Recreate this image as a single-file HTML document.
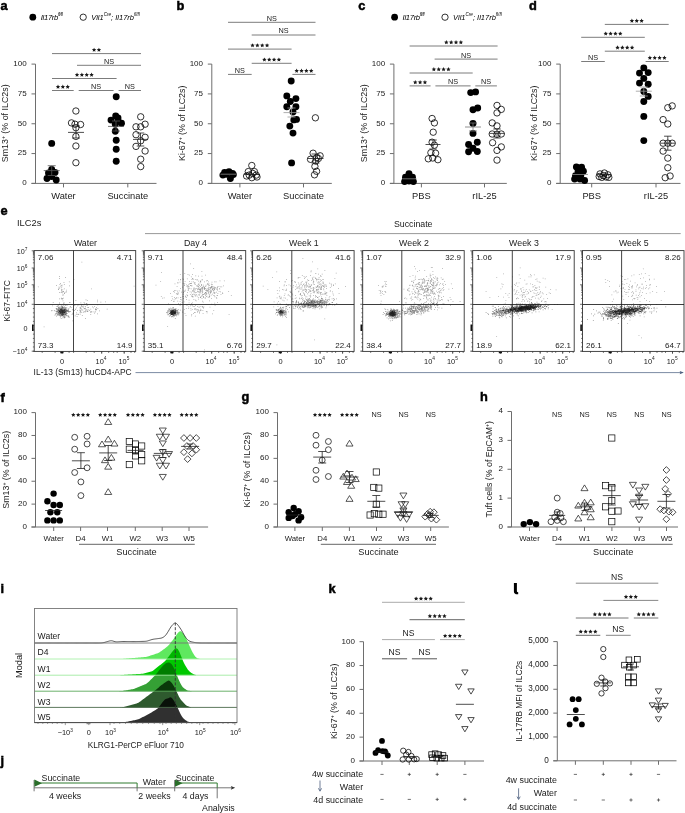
<!DOCTYPE html><html><head><meta charset="utf-8"><style>html,body{margin:0;padding:0;background:#fff;overflow:hidden;width:685px;height:813px;}svg{display:block;}text{font-family:"Liberation Sans",sans-serif;}</style></head><body><svg width="685" height="813" viewBox="0 0 685 813" font-family="Liberation Sans, sans-serif">
<rect width="685" height="813" fill="#fff"/>
<text x="0.5" y="9.6" font-size="12.8" font-weight="bold" fill="#000" stroke="#000" stroke-width="0.5">a</text>
<text x="176.5" y="10.4" font-size="12.8" font-weight="bold" fill="#000" stroke="#000" stroke-width="0.5">b</text>
<text x="358.2" y="9.6" font-size="12.8" font-weight="bold" fill="#000" stroke="#000" stroke-width="0.5">c</text>
<text x="529" y="10.4" font-size="12.8" font-weight="bold" fill="#000" stroke="#000" stroke-width="0.5">d</text>
<text x="0.5" y="215" font-size="12.8" font-weight="bold" fill="#000" stroke="#000" stroke-width="0.5">e</text>
<text x="0.5" y="402" font-size="12.8" font-weight="bold" fill="#000" stroke="#000" stroke-width="0.5">f</text>
<text x="241.5" y="401" font-size="12.8" font-weight="bold" fill="#000" stroke="#000" stroke-width="0.5">g</text>
<text x="480" y="401" font-size="12.8" font-weight="bold" fill="#000" stroke="#000" stroke-width="0.5">h</text>
<text x="0.5" y="593" font-size="12.8" font-weight="bold" fill="#000" stroke="#000" stroke-width="0.5">i</text>
<text x="0.5" y="765" font-size="12.8" font-weight="bold" fill="#000" stroke="#000" stroke-width="0.5">j</text>
<text x="328.5" y="593" font-size="12.8" font-weight="bold" fill="#000" stroke="#000" stroke-width="0.5">k</text>
<path d="M513.9,583.0 h3.0 v8.2 q0,1.0 1.3,1.0 v2.0 q-4.3,0.3 -4.3,-2.8 Z" fill="#000"/>
<circle cx="32.8" cy="17.2" r="3.4" fill="#000"/>
<text x="40.8" y="20" font-size="7.6" font-style="italic" fill="#000" letter-spacing="-0.3">Il17rb<tspan font-size="4.6" dy="-4.2">fl/fl</tspan></text>
<circle cx="83.2" cy="17.2" r="3.15" fill="none" stroke="#000" stroke-width="0.8"/>
<text x="91.3" y="20" font-size="7.5" font-style="italic" fill="#000">Vil1<tspan font-size="4.6" dy="-4.2">Cre</tspan><tspan dy="4.2">; Il17rb</tspan><tspan font-size="4.6" dy="-4.2">fl/fl</tspan></text>
<circle cx="394.6" cy="17.2" r="3.4" fill="#000"/>
<text x="402.6" y="20" font-size="7.6" font-style="italic" fill="#000" letter-spacing="-0.3">Il17rb<tspan font-size="4.6" dy="-4.2">fl/fl</tspan></text>
<circle cx="445" cy="17.2" r="3.15" fill="none" stroke="#000" stroke-width="0.8"/>
<text x="453.1" y="20" font-size="7.5" font-style="italic" fill="#000">Vil1<tspan font-size="4.6" dy="-4.2">Cre</tspan><tspan dy="4.2">; Il17rb</tspan><tspan font-size="4.6" dy="-4.2">fl/fl</tspan></text>
<line x1="35.5" y1="64.1" x2="35.5" y2="183.4" stroke="#6e6e6e" stroke-width="1" />
<line x1="31.5" y1="64.1" x2="35.5" y2="64.1" stroke="#6e6e6e" stroke-width="1" />
<text x="26.7" y="65.9" font-size="8.0" text-anchor="end" fill="#1a1a1a">100</text>
<line x1="31.5" y1="93.92" x2="35.5" y2="93.92" stroke="#6e6e6e" stroke-width="1" />
<text x="26.7" y="95.72" font-size="8.0" text-anchor="end" fill="#1a1a1a">75</text>
<line x1="31.5" y1="123.75" x2="35.5" y2="123.75" stroke="#6e6e6e" stroke-width="1" />
<text x="26.7" y="125.55" font-size="8.0" text-anchor="end" fill="#1a1a1a">50</text>
<line x1="31.5" y1="153.57" x2="35.5" y2="153.57" stroke="#6e6e6e" stroke-width="1" />
<text x="26.7" y="155.38" font-size="8.0" text-anchor="end" fill="#1a1a1a">25</text>
<line x1="31.5" y1="183.4" x2="35.5" y2="183.4" stroke="#6e6e6e" stroke-width="1" />
<text x="26.7" y="185.2" font-size="8.0" text-anchor="end" fill="#1a1a1a">0</text>
<line x1="31.5" y1="183.4" x2="156.5" y2="183.4" stroke="#6e6e6e" stroke-width="1" />
<line x1="63.5" y1="183.4" x2="63.5" y2="187.4" stroke="#6e6e6e" stroke-width="1" />
<line x1="127.8" y1="183.4" x2="127.8" y2="187.4" stroke="#6e6e6e" stroke-width="1" />
<text x="63.5" y="198.6" font-size="9.3" text-anchor="middle" fill="#1a1a1a">Water</text>
<text x="127.8" y="198.6" font-size="9.3" text-anchor="middle" fill="#1a1a1a">Succinate</text>
<text x="7.6" y="123.3" font-size="8.9" text-anchor="middle" fill="#1a1a1a" transform="rotate(-90 7.6 123.3)">Sm13<tspan font-size="5" dy="-3">+</tspan><tspan dy="3"> (% of ILC2s)</tspan></text>
<line x1="52" y1="53.6" x2="141" y2="53.6" stroke="#7c7c7c" stroke-width="1" />
<path d="M94.08,47.7 L94.72,49.11 L96.26,49.29 L95.12,50.34 L95.43,51.86 L94.08,51.1 L92.72,51.86 L93.03,50.34 L91.89,49.29 L93.43,49.11Z M98.92,47.7 L99.57,49.11 L101.11,49.29 L99.97,50.34 L100.28,51.86 L98.92,51.1 L97.57,51.86 L97.88,50.34 L96.74,49.29 L98.28,49.11Z" fill="#1a1a1a"/>
<line x1="77" y1="65.3" x2="141" y2="65.3" stroke="#7c7c7c" stroke-width="1" />
<text x="109" y="63.7" font-size="7.3" text-anchor="middle" fill="#1a1a1a">NS</text>
<line x1="52" y1="78.5" x2="116.6" y2="78.5" stroke="#7c7c7c" stroke-width="1" />
<path d="M77.02,72.6 L77.67,74.01 L79.21,74.19 L78.07,75.24 L78.38,76.76 L77.02,76 L75.67,76.76 L75.98,75.24 L74.84,74.19 L76.38,74.01Z M81.87,72.6 L82.52,74.01 L84.06,74.19 L82.92,75.24 L83.23,76.76 L81.87,76 L80.52,76.76 L80.83,75.24 L79.69,74.19 L81.23,74.01Z M86.72,72.6 L87.37,74.01 L88.91,74.19 L87.77,75.24 L88.08,76.76 L86.72,76 L85.37,76.76 L85.68,75.24 L84.54,74.19 L86.08,74.01Z M91.57,72.6 L92.22,74.01 L93.76,74.19 L92.62,75.24 L92.93,76.76 L91.57,76 L90.22,76.76 L90.53,75.24 L89.39,74.19 L90.93,74.01Z" fill="#1a1a1a"/>
<line x1="52" y1="90.5" x2="73.7" y2="90.5" stroke="#7c7c7c" stroke-width="1" />
<path d="M58,84.6 L58.65,86.01 L60.19,86.19 L59.05,87.24 L59.35,88.76 L58,88 L56.65,88.76 L56.95,87.24 L55.81,86.19 L57.35,86.01Z M62.85,84.6 L63.5,86.01 L65.04,86.19 L63.9,87.24 L64.2,88.76 L62.85,88 L61.5,88.76 L61.8,87.24 L60.66,86.19 L62.2,86.01Z M67.7,84.6 L68.35,86.01 L69.89,86.19 L68.75,87.24 L69.05,88.76 L67.7,88 L66.35,88.76 L66.65,87.24 L65.51,86.19 L67.05,86.01Z" fill="#1a1a1a"/>
<line x1="78.7" y1="90.5" x2="113.6" y2="90.5" stroke="#7c7c7c" stroke-width="1" />
<text x="96.15" y="88.9" font-size="7.3" text-anchor="middle" fill="#1a1a1a">NS</text>
<line x1="118.6" y1="90.5" x2="141" y2="90.5" stroke="#7c7c7c" stroke-width="1" />
<text x="129.8" y="88.9" font-size="7.3" text-anchor="middle" fill="#1a1a1a">NS</text>
<circle cx="51.7" cy="143.4" r="3.45" fill="#000"/>
<circle cx="51.7" cy="169.5" r="3.45" fill="#000"/>
<circle cx="48.5" cy="173" r="3.45" fill="#000"/>
<circle cx="55" cy="172.5" r="3.45" fill="#000"/>
<circle cx="47" cy="178.5" r="3.45" fill="#000"/>
<circle cx="56.2" cy="180" r="3.45" fill="#000"/>
<circle cx="51.7" cy="176.5" r="3.45" fill="#000"/>
<circle cx="52" cy="172" r="3.45" fill="#000"/>
<circle cx="75.9" cy="111" r="3.2" fill="none" stroke="#000" stroke-width="0.8"/>
<circle cx="71.5" cy="122.9" r="3.2" fill="none" stroke="#000" stroke-width="0.8"/>
<circle cx="75" cy="124.2" r="3.2" fill="none" stroke="#000" stroke-width="0.8"/>
<circle cx="80.6" cy="124.5" r="3.2" fill="none" stroke="#000" stroke-width="0.8"/>
<circle cx="75.9" cy="127.7" r="3.2" fill="none" stroke="#000" stroke-width="0.8"/>
<circle cx="75.9" cy="136.4" r="3.2" fill="none" stroke="#000" stroke-width="0.8"/>
<circle cx="75.9" cy="146" r="3.2" fill="none" stroke="#000" stroke-width="0.8"/>
<circle cx="75.9" cy="162.7" r="3.2" fill="none" stroke="#000" stroke-width="0.8"/>
<circle cx="116.2" cy="96.7" r="3.45" fill="#000"/>
<circle cx="115.7" cy="115.9" r="3.45" fill="#000"/>
<circle cx="111" cy="120.1" r="3.45" fill="#000"/>
<circle cx="118" cy="118" r="3.45" fill="#000"/>
<circle cx="121.5" cy="123.3" r="3.45" fill="#000"/>
<circle cx="115.3" cy="124.2" r="3.45" fill="#000"/>
<circle cx="115.3" cy="131.2" r="3.45" fill="#000"/>
<circle cx="116.2" cy="140.3" r="3.45" fill="#000"/>
<circle cx="116.2" cy="149.2" r="3.45" fill="#000"/>
<circle cx="116.2" cy="161.3" r="3.45" fill="#000"/>
<circle cx="118" cy="121" r="3.45" fill="#000"/>
<circle cx="140.7" cy="116.8" r="3.2" fill="none" stroke="#000" stroke-width="0.8"/>
<circle cx="136" cy="126.8" r="3.2" fill="none" stroke="#000" stroke-width="0.8"/>
<circle cx="140.7" cy="126.8" r="3.2" fill="none" stroke="#000" stroke-width="0.8"/>
<circle cx="145.1" cy="124.2" r="3.2" fill="none" stroke="#000" stroke-width="0.8"/>
<circle cx="136" cy="134.7" r="3.2" fill="none" stroke="#000" stroke-width="0.8"/>
<circle cx="140.7" cy="140.8" r="3.2" fill="none" stroke="#000" stroke-width="0.8"/>
<circle cx="145.1" cy="137.3" r="3.2" fill="none" stroke="#000" stroke-width="0.8"/>
<circle cx="136" cy="146.4" r="3.2" fill="none" stroke="#000" stroke-width="0.8"/>
<circle cx="145.1" cy="151" r="3.2" fill="none" stroke="#000" stroke-width="0.8"/>
<circle cx="140.7" cy="159.2" r="3.2" fill="none" stroke="#000" stroke-width="0.8"/>
<circle cx="140.7" cy="166.6" r="3.2" fill="none" stroke="#000" stroke-width="0.8"/>
<line x1="43.7" y1="170.6" x2="59.7" y2="170.6" stroke="#555" stroke-width="0.8" />
<line x1="51.7" y1="165.7" x2="51.7" y2="175.5" stroke="#555" stroke-width="0.8" />
<line x1="47.7" y1="165.7" x2="55.7" y2="165.7" stroke="#555" stroke-width="0.8" />
<line x1="47.7" y1="175.5" x2="55.7" y2="175.5" stroke="#555" stroke-width="0.8" />
<line x1="68" y1="132.4" x2="84" y2="132.4" stroke="#222" stroke-width="0.8" />
<line x1="76" y1="126" x2="76" y2="138" stroke="#222" stroke-width="0.8" />
<line x1="72" y1="126" x2="80" y2="126" stroke="#222" stroke-width="0.8" />
<line x1="72" y1="138" x2="80" y2="138" stroke="#222" stroke-width="0.8" />
<line x1="108" y1="126.4" x2="124" y2="126.4" stroke="#555" stroke-width="0.8" />
<line x1="116" y1="121" x2="116" y2="131" stroke="#555" stroke-width="0.8" />
<line x1="112" y1="121" x2="120" y2="121" stroke="#555" stroke-width="0.8" />
<line x1="112" y1="131" x2="120" y2="131" stroke="#555" stroke-width="0.8" />
<line x1="133" y1="139.4" x2="148" y2="139.4" stroke="#222" stroke-width="0.8" />
<line x1="140.5" y1="133" x2="140.5" y2="146" stroke="#222" stroke-width="0.8" />
<line x1="136.75" y1="133" x2="144.25" y2="133" stroke="#222" stroke-width="0.8" />
<line x1="136.75" y1="146" x2="144.25" y2="146" stroke="#222" stroke-width="0.8" />
<line x1="211.8" y1="64.1" x2="211.8" y2="183.4" stroke="#6e6e6e" stroke-width="1" />
<line x1="207.8" y1="64.1" x2="211.8" y2="64.1" stroke="#6e6e6e" stroke-width="1" />
<text x="203" y="65.9" font-size="8.0" text-anchor="end" fill="#1a1a1a">100</text>
<line x1="207.8" y1="93.92" x2="211.8" y2="93.92" stroke="#6e6e6e" stroke-width="1" />
<text x="203" y="95.72" font-size="8.0" text-anchor="end" fill="#1a1a1a">75</text>
<line x1="207.8" y1="123.75" x2="211.8" y2="123.75" stroke="#6e6e6e" stroke-width="1" />
<text x="203" y="125.55" font-size="8.0" text-anchor="end" fill="#1a1a1a">50</text>
<line x1="207.8" y1="153.57" x2="211.8" y2="153.57" stroke="#6e6e6e" stroke-width="1" />
<text x="203" y="155.38" font-size="8.0" text-anchor="end" fill="#1a1a1a">25</text>
<line x1="207.8" y1="183.4" x2="211.8" y2="183.4" stroke="#6e6e6e" stroke-width="1" />
<text x="203" y="185.2" font-size="8.0" text-anchor="end" fill="#1a1a1a">0</text>
<line x1="207.8" y1="183.4" x2="331.8" y2="183.4" stroke="#6e6e6e" stroke-width="1" />
<line x1="239.9" y1="183.4" x2="239.9" y2="187.4" stroke="#6e6e6e" stroke-width="1" />
<line x1="303.5" y1="183.4" x2="303.5" y2="187.4" stroke="#6e6e6e" stroke-width="1" />
<text x="239.9" y="198.6" font-size="9.3" text-anchor="middle" fill="#1a1a1a">Water</text>
<text x="303.5" y="198.6" font-size="9.3" text-anchor="middle" fill="#1a1a1a">Succinate</text>
<text x="184.7" y="123.3" font-size="8.9" text-anchor="middle" fill="#1a1a1a" transform="rotate(-90 184.7 123.3)">Ki-67<tspan font-size="5" dy="-3">+</tspan><tspan dy="3"> (% of ILC2s)</tspan></text>
<line x1="228" y1="22.3" x2="315.5" y2="22.3" stroke="#7c7c7c" stroke-width="1" />
<text x="271.75" y="20.7" font-size="7.3" text-anchor="middle" fill="#1a1a1a">NS</text>
<line x1="251.7" y1="35" x2="315.5" y2="35" stroke="#7c7c7c" stroke-width="1" />
<text x="283.6" y="33.4" font-size="7.3" text-anchor="middle" fill="#1a1a1a">NS</text>
<line x1="228" y1="49.1" x2="291.6" y2="49.1" stroke="#7c7c7c" stroke-width="1" />
<path d="M252.53,43.2 L253.17,44.61 L254.71,44.79 L253.57,45.84 L253.88,47.36 L252.53,46.6 L251.17,47.36 L251.48,45.84 L250.34,44.79 L251.88,44.61Z M257.38,43.2 L258.02,44.61 L259.56,44.79 L258.42,45.84 L258.73,47.36 L257.38,46.6 L256.02,47.36 L256.33,45.84 L255.19,44.79 L256.73,44.61Z M262.23,43.2 L262.87,44.61 L264.41,44.79 L263.27,45.84 L263.58,47.36 L262.23,46.6 L260.87,47.36 L261.18,45.84 L260.04,44.79 L261.58,44.61Z M267.07,43.2 L267.72,44.61 L269.26,44.79 L268.12,45.84 L268.43,47.36 L267.07,46.6 L265.72,47.36 L266.03,45.84 L264.89,44.79 L266.43,44.61Z" fill="#1a1a1a"/>
<line x1="251.7" y1="63.3" x2="291.6" y2="63.3" stroke="#7c7c7c" stroke-width="1" />
<path d="M264.38,57.4 L265.02,58.81 L266.56,58.99 L265.42,60.04 L265.73,61.56 L264.38,60.8 L263.02,61.56 L263.33,60.04 L262.19,58.99 L263.73,58.81Z M269.23,57.4 L269.87,58.81 L271.41,58.99 L270.27,60.04 L270.58,61.56 L269.23,60.8 L267.87,61.56 L268.18,60.04 L267.04,58.99 L268.58,58.81Z M274.07,57.4 L274.72,58.81 L276.26,58.99 L275.12,60.04 L275.43,61.56 L274.07,60.8 L272.72,61.56 L273.03,60.04 L271.89,58.99 L273.43,58.81Z M278.93,57.4 L279.57,58.81 L281.11,58.99 L279.97,60.04 L280.28,61.56 L278.93,60.8 L277.57,61.56 L277.88,60.04 L276.74,58.99 L278.28,58.81Z" fill="#1a1a1a"/>
<line x1="228" y1="74.4" x2="251.7" y2="74.4" stroke="#7c7c7c" stroke-width="1" />
<text x="239.85" y="72.8" font-size="7.3" text-anchor="middle" fill="#1a1a1a">NS</text>
<line x1="292.4" y1="74.4" x2="315.5" y2="74.4" stroke="#7c7c7c" stroke-width="1" />
<path d="M296.68,68.5 L297.32,69.91 L298.86,70.09 L297.72,71.14 L298.03,72.66 L296.68,71.9 L295.32,72.66 L295.63,71.14 L294.49,70.09 L296.03,69.91Z M301.53,68.5 L302.17,69.91 L303.71,70.09 L302.57,71.14 L302.88,72.66 L301.53,71.9 L300.17,72.66 L300.48,71.14 L299.34,70.09 L300.88,69.91Z M306.38,68.5 L307.02,69.91 L308.56,70.09 L307.42,71.14 L307.73,72.66 L306.38,71.9 L305.02,72.66 L305.33,71.14 L304.19,70.09 L305.73,69.91Z M311.23,68.5 L311.87,69.91 L313.41,70.09 L312.27,71.14 L312.58,72.66 L311.23,71.9 L309.87,72.66 L310.18,71.14 L309.04,70.09 L310.58,69.91Z" fill="#1a1a1a"/>
<circle cx="224.6" cy="172.5" r="3.45" fill="#000"/>
<circle cx="229" cy="171.6" r="3.45" fill="#000"/>
<circle cx="232.5" cy="173.4" r="3.45" fill="#000"/>
<circle cx="222.9" cy="175.1" r="3.45" fill="#000"/>
<circle cx="230.4" cy="178.6" r="3.45" fill="#000"/>
<circle cx="226.4" cy="174.2" r="3.45" fill="#000"/>
<circle cx="233.4" cy="174.6" r="3.45" fill="#000"/>
<circle cx="251.8" cy="165.5" r="3.2" fill="none" stroke="#000" stroke-width="0.8"/>
<circle cx="248.3" cy="171.6" r="3.2" fill="none" stroke="#000" stroke-width="0.8"/>
<circle cx="252.7" cy="173.4" r="3.2" fill="none" stroke="#000" stroke-width="0.8"/>
<circle cx="256.2" cy="175.1" r="3.2" fill="none" stroke="#000" stroke-width="0.8"/>
<circle cx="246.6" cy="176" r="3.2" fill="none" stroke="#000" stroke-width="0.8"/>
<circle cx="251.8" cy="177.7" r="3.2" fill="none" stroke="#000" stroke-width="0.8"/>
<circle cx="257" cy="177" r="3.2" fill="none" stroke="#000" stroke-width="0.8"/>
<circle cx="249.2" cy="175.1" r="3.2" fill="none" stroke="#000" stroke-width="0.8"/>
<circle cx="254.4" cy="171.6" r="3.2" fill="none" stroke="#000" stroke-width="0.8"/>
<circle cx="291.2" cy="81" r="3.45" fill="#000"/>
<circle cx="286.8" cy="95.9" r="3.45" fill="#000"/>
<circle cx="295.9" cy="98.6" r="3.45" fill="#000"/>
<circle cx="290.3" cy="101.5" r="3.45" fill="#000"/>
<circle cx="286.8" cy="106.8" r="3.45" fill="#000"/>
<circle cx="295.9" cy="106.8" r="3.45" fill="#000"/>
<circle cx="293" cy="112" r="3.45" fill="#000"/>
<circle cx="293.8" cy="119.9" r="3.45" fill="#000"/>
<circle cx="296.5" cy="119.4" r="3.45" fill="#000"/>
<circle cx="289.8" cy="126.1" r="3.45" fill="#000"/>
<circle cx="293" cy="133.1" r="3.45" fill="#000"/>
<circle cx="291.6" cy="162.9" r="3.45" fill="#000"/>
<circle cx="315.4" cy="117.8" r="3.2" fill="none" stroke="#000" stroke-width="0.8"/>
<circle cx="313.1" cy="153.2" r="3.2" fill="none" stroke="#000" stroke-width="0.8"/>
<circle cx="320.1" cy="155.8" r="3.2" fill="none" stroke="#000" stroke-width="0.8"/>
<circle cx="310.5" cy="159.3" r="3.2" fill="none" stroke="#000" stroke-width="0.8"/>
<circle cx="316.6" cy="157.6" r="3.2" fill="none" stroke="#000" stroke-width="0.8"/>
<circle cx="315.7" cy="161.1" r="3.2" fill="none" stroke="#000" stroke-width="0.8"/>
<circle cx="318.4" cy="158.5" r="3.2" fill="none" stroke="#000" stroke-width="0.8"/>
<circle cx="314.9" cy="166.4" r="3.2" fill="none" stroke="#000" stroke-width="0.8"/>
<circle cx="316.6" cy="171.3" r="3.2" fill="none" stroke="#000" stroke-width="0.8"/>
<circle cx="314.5" cy="174.8" r="3.2" fill="none" stroke="#000" stroke-width="0.8"/>
<line x1="220.5" y1="174.2" x2="236.5" y2="174.2" stroke="#888" stroke-width="0.8" />
<line x1="244" y1="174.5" x2="260" y2="174.5" stroke="#222" stroke-width="0.8" />
<line x1="283.5" y1="112.6" x2="299.5" y2="112.6" stroke="#999" stroke-width="0.8" />
<line x1="291.5" y1="108" x2="291.5" y2="117" stroke="#999" stroke-width="0.8" />
<line x1="287.5" y1="108" x2="295.5" y2="108" stroke="#999" stroke-width="0.8" />
<line x1="287.5" y1="117" x2="295.5" y2="117" stroke="#999" stroke-width="0.8" />
<line x1="307.5" y1="158.5" x2="323.5" y2="158.5" stroke="#222" stroke-width="0.8" />
<line x1="315.5" y1="154" x2="315.5" y2="163" stroke="#222" stroke-width="0.8" />
<line x1="311.5" y1="154" x2="319.5" y2="154" stroke="#222" stroke-width="0.8" />
<line x1="311.5" y1="163" x2="319.5" y2="163" stroke="#222" stroke-width="0.8" />
<line x1="393.9" y1="64.1" x2="393.9" y2="183.4" stroke="#6e6e6e" stroke-width="1" />
<line x1="389.9" y1="64.1" x2="393.9" y2="64.1" stroke="#6e6e6e" stroke-width="1" />
<text x="385.1" y="65.9" font-size="8.0" text-anchor="end" fill="#1a1a1a">100</text>
<line x1="389.9" y1="93.92" x2="393.9" y2="93.92" stroke="#6e6e6e" stroke-width="1" />
<text x="385.1" y="95.72" font-size="8.0" text-anchor="end" fill="#1a1a1a">75</text>
<line x1="389.9" y1="123.75" x2="393.9" y2="123.75" stroke="#6e6e6e" stroke-width="1" />
<text x="385.1" y="125.55" font-size="8.0" text-anchor="end" fill="#1a1a1a">50</text>
<line x1="389.9" y1="153.57" x2="393.9" y2="153.57" stroke="#6e6e6e" stroke-width="1" />
<text x="385.1" y="155.38" font-size="8.0" text-anchor="end" fill="#1a1a1a">25</text>
<line x1="389.9" y1="183.4" x2="393.9" y2="183.4" stroke="#6e6e6e" stroke-width="1" />
<text x="385.1" y="185.2" font-size="8.0" text-anchor="end" fill="#1a1a1a">0</text>
<line x1="389.9" y1="183.4" x2="506.8" y2="183.4" stroke="#6e6e6e" stroke-width="1" />
<line x1="421.4" y1="183.4" x2="421.4" y2="187.4" stroke="#6e6e6e" stroke-width="1" />
<line x1="484.5" y1="183.4" x2="484.5" y2="187.4" stroke="#6e6e6e" stroke-width="1" />
<text x="421.4" y="198.6" font-size="9.3" text-anchor="middle" fill="#1a1a1a">PBS</text>
<text x="484.5" y="198.6" font-size="9.3" text-anchor="middle" fill="#1a1a1a">rIL-25</text>
<text x="366.8" y="123.3" font-size="8.9" text-anchor="middle" fill="#1a1a1a" transform="rotate(-90 366.8 123.3)">Sm13<tspan font-size="5" dy="-3">+</tspan><tspan dy="3"> (% of ILC2s)</tspan></text>
<line x1="409.6" y1="46" x2="497.6" y2="46" stroke="#7c7c7c" stroke-width="1" />
<path d="M446.33,40.1 L446.97,41.51 L448.51,41.69 L447.37,42.74 L447.68,44.26 L446.33,43.5 L444.97,44.26 L445.28,42.74 L444.14,41.69 L445.68,41.51Z M451.18,40.1 L451.82,41.51 L453.36,41.69 L452.22,42.74 L452.53,44.26 L451.18,43.5 L449.82,44.26 L450.13,42.74 L448.99,41.69 L450.53,41.51Z M456.03,40.1 L456.67,41.51 L458.21,41.69 L457.07,42.74 L457.38,44.26 L456.03,43.5 L454.67,44.26 L454.98,42.74 L453.84,41.69 L455.38,41.51Z M460.88,40.1 L461.52,41.51 L463.06,41.69 L461.92,42.74 L462.23,44.26 L460.88,43.5 L459.52,44.26 L459.83,42.74 L458.69,41.69 L460.23,41.51Z" fill="#1a1a1a"/>
<line x1="434.6" y1="59.1" x2="497.6" y2="59.1" stroke="#7c7c7c" stroke-width="1" />
<text x="466.1" y="57.5" font-size="7.3" text-anchor="middle" fill="#1a1a1a">NS</text>
<line x1="409.6" y1="73" x2="472.7" y2="73" stroke="#7c7c7c" stroke-width="1" />
<path d="M433.88,67.1 L434.52,68.51 L436.06,68.69 L434.92,69.74 L435.23,71.26 L433.88,70.5 L432.52,71.26 L432.83,69.74 L431.69,68.69 L433.23,68.51Z M438.73,67.1 L439.37,68.51 L440.91,68.69 L439.77,69.74 L440.08,71.26 L438.73,70.5 L437.37,71.26 L437.68,69.74 L436.54,68.69 L438.08,68.51Z M443.57,67.1 L444.22,68.51 L445.76,68.69 L444.62,69.74 L444.93,71.26 L443.57,70.5 L442.22,71.26 L442.53,69.74 L441.39,68.69 L442.93,68.51Z M448.43,67.1 L449.07,68.51 L450.61,68.69 L449.47,69.74 L449.78,71.26 L448.43,70.5 L447.07,71.26 L447.38,69.74 L446.24,68.69 L447.78,68.51Z" fill="#1a1a1a"/>
<line x1="409.6" y1="85.9" x2="430.6" y2="85.9" stroke="#7c7c7c" stroke-width="1" />
<path d="M415.25,80 L415.9,81.41 L417.44,81.59 L416.3,82.64 L416.6,84.16 L415.25,83.4 L413.9,84.16 L414.2,82.64 L413.06,81.59 L414.6,81.41Z M420.1,80 L420.75,81.41 L422.29,81.59 L421.15,82.64 L421.45,84.16 L420.1,83.4 L418.75,84.16 L419.05,82.64 L417.91,81.59 L419.45,81.41Z M424.95,80 L425.6,81.41 L427.14,81.59 L426,82.64 L426.3,84.16 L424.95,83.4 L423.6,84.16 L423.9,82.64 L422.76,81.59 L424.3,81.41Z" fill="#1a1a1a"/>
<line x1="435.4" y1="85.9" x2="470.6" y2="85.9" stroke="#7c7c7c" stroke-width="1" />
<text x="453" y="84.3" font-size="7.3" text-anchor="middle" fill="#1a1a1a">NS</text>
<line x1="475.3" y1="85.9" x2="496.9" y2="85.9" stroke="#7c7c7c" stroke-width="1" />
<text x="486.1" y="84.3" font-size="7.3" text-anchor="middle" fill="#1a1a1a">NS</text>
<circle cx="409" cy="173.7" r="3.45" fill="#000"/>
<circle cx="405.5" cy="177.2" r="3.45" fill="#000"/>
<circle cx="412.5" cy="177.2" r="3.45" fill="#000"/>
<circle cx="404.6" cy="181.6" r="3.45" fill="#000"/>
<circle cx="409" cy="181" r="3.45" fill="#000"/>
<circle cx="413.4" cy="181.6" r="3.45" fill="#000"/>
<circle cx="407.3" cy="179.5" r="3.45" fill="#000"/>
<circle cx="410.8" cy="179.5" r="3.45" fill="#000"/>
<circle cx="432.1" cy="118.5" r="3.2" fill="none" stroke="#000" stroke-width="0.8"/>
<circle cx="434.4" cy="122.9" r="3.2" fill="none" stroke="#000" stroke-width="0.8"/>
<circle cx="433.2" cy="132.2" r="3.2" fill="none" stroke="#000" stroke-width="0.8"/>
<circle cx="432.1" cy="142.2" r="3.2" fill="none" stroke="#000" stroke-width="0.8"/>
<circle cx="434.4" cy="145.2" r="3.2" fill="none" stroke="#000" stroke-width="0.8"/>
<circle cx="430.9" cy="152.7" r="3.2" fill="none" stroke="#000" stroke-width="0.8"/>
<circle cx="435.6" cy="153.2" r="3.2" fill="none" stroke="#000" stroke-width="0.8"/>
<circle cx="428.3" cy="158.8" r="3.2" fill="none" stroke="#000" stroke-width="0.8"/>
<circle cx="432.7" cy="158" r="3.2" fill="none" stroke="#000" stroke-width="0.8"/>
<circle cx="437.9" cy="159.7" r="3.2" fill="none" stroke="#000" stroke-width="0.8"/>
<circle cx="470.7" cy="92.6" r="3.45" fill="#000"/>
<circle cx="475.6" cy="91.9" r="3.45" fill="#000"/>
<circle cx="473" cy="109.8" r="3.45" fill="#000"/>
<circle cx="477.7" cy="108" r="3.45" fill="#000"/>
<circle cx="473" cy="123.4" r="3.45" fill="#000"/>
<circle cx="473" cy="133.4" r="3.45" fill="#000"/>
<circle cx="468.6" cy="144.5" r="3.45" fill="#000"/>
<circle cx="477.3" cy="142.2" r="3.45" fill="#000"/>
<circle cx="473" cy="148.3" r="3.45" fill="#000"/>
<circle cx="468.6" cy="151.8" r="3.45" fill="#000"/>
<circle cx="477.3" cy="151.5" r="3.45" fill="#000"/>
<circle cx="497" cy="105.4" r="3.2" fill="none" stroke="#000" stroke-width="0.8"/>
<circle cx="501.3" cy="109.4" r="3.2" fill="none" stroke="#000" stroke-width="0.8"/>
<circle cx="497" cy="112.9" r="3.2" fill="none" stroke="#000" stroke-width="0.8"/>
<circle cx="492.2" cy="122.9" r="3.2" fill="none" stroke="#000" stroke-width="0.8"/>
<circle cx="497" cy="125.9" r="3.2" fill="none" stroke="#000" stroke-width="0.8"/>
<circle cx="492.2" cy="134" r="3.2" fill="none" stroke="#000" stroke-width="0.8"/>
<circle cx="497" cy="134.3" r="3.2" fill="none" stroke="#000" stroke-width="0.8"/>
<circle cx="501.3" cy="134" r="3.2" fill="none" stroke="#000" stroke-width="0.8"/>
<circle cx="492.6" cy="142.7" r="3.2" fill="none" stroke="#000" stroke-width="0.8"/>
<circle cx="501.3" cy="146.9" r="3.2" fill="none" stroke="#000" stroke-width="0.8"/>
<circle cx="497" cy="150.4" r="3.2" fill="none" stroke="#000" stroke-width="0.8"/>
<circle cx="497" cy="160.1" r="3.2" fill="none" stroke="#000" stroke-width="0.8"/>
<line x1="402.5" y1="178.8" x2="416.5" y2="178.8" stroke="#888" stroke-width="0.8" />
<line x1="425.5" y1="144.5" x2="440.5" y2="144.5" stroke="#222" stroke-width="0.8" />
<line x1="433" y1="140" x2="433" y2="149" stroke="#222" stroke-width="0.8" />
<line x1="429.25" y1="140" x2="436.75" y2="140" stroke="#222" stroke-width="0.8" />
<line x1="429.25" y1="149" x2="436.75" y2="149" stroke="#222" stroke-width="0.8" />
<line x1="465" y1="127" x2="481" y2="127" stroke="#777" stroke-width="0.8" />
<line x1="473" y1="123" x2="473" y2="131" stroke="#777" stroke-width="0.8" />
<line x1="469" y1="123" x2="477" y2="123" stroke="#777" stroke-width="0.8" />
<line x1="469" y1="131" x2="477" y2="131" stroke="#777" stroke-width="0.8" />
<line x1="489.5" y1="133.4" x2="504.5" y2="133.4" stroke="#222" stroke-width="0.8" />
<line x1="497" y1="129" x2="497" y2="138" stroke="#222" stroke-width="0.8" />
<line x1="493.25" y1="129" x2="500.75" y2="129" stroke="#222" stroke-width="0.8" />
<line x1="493.25" y1="138" x2="500.75" y2="138" stroke="#222" stroke-width="0.8" />
<line x1="560.2" y1="64.1" x2="560.2" y2="183.4" stroke="#6e6e6e" stroke-width="1" />
<line x1="556.2" y1="64.1" x2="560.2" y2="64.1" stroke="#6e6e6e" stroke-width="1" />
<text x="551.4" y="65.9" font-size="8.0" text-anchor="end" fill="#1a1a1a">100</text>
<line x1="556.2" y1="93.92" x2="560.2" y2="93.92" stroke="#6e6e6e" stroke-width="1" />
<text x="551.4" y="95.72" font-size="8.0" text-anchor="end" fill="#1a1a1a">75</text>
<line x1="556.2" y1="123.75" x2="560.2" y2="123.75" stroke="#6e6e6e" stroke-width="1" />
<text x="551.4" y="125.55" font-size="8.0" text-anchor="end" fill="#1a1a1a">50</text>
<line x1="556.2" y1="153.57" x2="560.2" y2="153.57" stroke="#6e6e6e" stroke-width="1" />
<text x="551.4" y="155.38" font-size="8.0" text-anchor="end" fill="#1a1a1a">25</text>
<line x1="556.2" y1="183.4" x2="560.2" y2="183.4" stroke="#6e6e6e" stroke-width="1" />
<text x="551.4" y="185.2" font-size="8.0" text-anchor="end" fill="#1a1a1a">0</text>
<line x1="556.2" y1="183.4" x2="680.5" y2="183.4" stroke="#6e6e6e" stroke-width="1" />
<line x1="591.7" y1="183.4" x2="591.7" y2="187.4" stroke="#6e6e6e" stroke-width="1" />
<line x1="656" y1="183.4" x2="656" y2="187.4" stroke="#6e6e6e" stroke-width="1" />
<text x="591.7" y="198.6" font-size="9.3" text-anchor="middle" fill="#1a1a1a">PBS</text>
<text x="656" y="198.6" font-size="9.3" text-anchor="middle" fill="#1a1a1a">rIL-25</text>
<text x="537.1" y="123.3" font-size="8.9" text-anchor="middle" fill="#1a1a1a" transform="rotate(-90 537.1 123.3)">Ki-67<tspan font-size="5" dy="-3">+</tspan><tspan dy="3"> (% of ILC2s)</tspan></text>
<line x1="604.8" y1="24.4" x2="668.7" y2="24.4" stroke="#7c7c7c" stroke-width="1" />
<path d="M631.9,18.5 L632.55,19.91 L634.09,20.09 L632.95,21.14 L633.25,22.66 L631.9,21.9 L630.55,22.66 L630.85,21.14 L629.71,20.09 L631.25,19.91Z M636.75,18.5 L637.4,19.91 L638.94,20.09 L637.8,21.14 L638.1,22.66 L636.75,21.9 L635.4,22.66 L635.7,21.14 L634.56,20.09 L636.1,19.91Z M641.6,18.5 L642.25,19.91 L643.79,20.09 L642.65,21.14 L642.95,22.66 L641.6,21.9 L640.25,22.66 L640.55,21.14 L639.41,20.09 L640.95,19.91Z" fill="#1a1a1a"/>
<line x1="581.2" y1="37.3" x2="644.8" y2="37.3" stroke="#7c7c7c" stroke-width="1" />
<path d="M605.73,31.4 L606.37,32.81 L607.91,32.99 L606.77,34.04 L607.08,35.56 L605.73,34.8 L604.37,35.56 L604.68,34.04 L603.54,32.99 L605.08,32.81Z M610.58,31.4 L611.22,32.81 L612.76,32.99 L611.62,34.04 L611.93,35.56 L610.58,34.8 L609.22,35.56 L609.53,34.04 L608.39,32.99 L609.93,32.81Z M615.43,31.4 L616.07,32.81 L617.61,32.99 L616.47,34.04 L616.78,35.56 L615.43,34.8 L614.07,35.56 L614.38,34.04 L613.24,32.99 L614.78,32.81Z M620.27,31.4 L620.92,32.81 L622.46,32.99 L621.32,34.04 L621.63,35.56 L620.27,34.8 L618.92,35.56 L619.23,34.04 L618.09,32.99 L619.63,32.81Z" fill="#1a1a1a"/>
<line x1="604.8" y1="51.2" x2="644.8" y2="51.2" stroke="#7c7c7c" stroke-width="1" />
<path d="M617.52,45.3 L618.17,46.71 L619.71,46.89 L618.57,47.94 L618.88,49.46 L617.52,48.7 L616.17,49.46 L616.48,47.94 L615.34,46.89 L616.88,46.71Z M622.38,45.3 L623.02,46.71 L624.56,46.89 L623.42,47.94 L623.73,49.46 L622.38,48.7 L621.02,49.46 L621.33,47.94 L620.19,46.89 L621.73,46.71Z M627.23,45.3 L627.87,46.71 L629.41,46.89 L628.27,47.94 L628.58,49.46 L627.23,48.7 L625.87,49.46 L626.18,47.94 L625.04,46.89 L626.58,46.71Z M632.07,45.3 L632.72,46.71 L634.26,46.89 L633.12,47.94 L633.43,49.46 L632.07,48.7 L630.72,49.46 L631.03,47.94 L629.89,46.89 L631.43,46.71Z" fill="#1a1a1a"/>
<line x1="581.2" y1="61.5" x2="604.8" y2="61.5" stroke="#7c7c7c" stroke-width="1" />
<text x="593" y="59.9" font-size="7.3" text-anchor="middle" fill="#1a1a1a">NS</text>
<line x1="645.6" y1="61.5" x2="668.7" y2="61.5" stroke="#7c7c7c" stroke-width="1" />
<path d="M649.88,55.6 L650.52,57.01 L652.06,57.19 L650.92,58.24 L651.23,59.76 L649.88,59 L648.52,59.76 L648.83,58.24 L647.69,57.19 L649.23,57.01Z M654.73,55.6 L655.37,57.01 L656.91,57.19 L655.77,58.24 L656.08,59.76 L654.73,59 L653.37,59.76 L653.68,58.24 L652.54,57.19 L654.08,57.01Z M659.58,55.6 L660.22,57.01 L661.76,57.19 L660.62,58.24 L660.93,59.76 L659.58,59 L658.22,59.76 L658.53,58.24 L657.39,57.19 L658.93,57.01Z M664.43,55.6 L665.07,57.01 L666.61,57.19 L665.47,58.24 L665.78,59.76 L664.43,59 L663.07,59.76 L663.38,58.24 L662.24,57.19 L663.78,57.01Z" fill="#1a1a1a"/>
<circle cx="576.4" cy="166.9" r="3.45" fill="#000"/>
<circle cx="581.6" cy="167.2" r="3.45" fill="#000"/>
<circle cx="578.1" cy="171.2" r="3.45" fill="#000"/>
<circle cx="583.4" cy="171.2" r="3.45" fill="#000"/>
<circle cx="575.5" cy="175.6" r="3.45" fill="#000"/>
<circle cx="580.8" cy="175.6" r="3.45" fill="#000"/>
<circle cx="574.6" cy="179.1" r="3.45" fill="#000"/>
<circle cx="579.9" cy="179.1" r="3.45" fill="#000"/>
<circle cx="584.6" cy="180.5" r="3.45" fill="#000"/>
<circle cx="600" cy="173.9" r="3.2" fill="none" stroke="#000" stroke-width="0.8"/>
<circle cx="604.4" cy="173" r="3.2" fill="none" stroke="#000" stroke-width="0.8"/>
<circle cx="607.9" cy="174.8" r="3.2" fill="none" stroke="#000" stroke-width="0.8"/>
<circle cx="601.8" cy="177.4" r="3.2" fill="none" stroke="#000" stroke-width="0.8"/>
<circle cx="606.1" cy="177" r="3.2" fill="none" stroke="#000" stroke-width="0.8"/>
<circle cx="599.2" cy="176.5" r="3.2" fill="none" stroke="#000" stroke-width="0.8"/>
<circle cx="608.8" cy="177.4" r="3.2" fill="none" stroke="#000" stroke-width="0.8"/>
<circle cx="603.5" cy="175.6" r="3.2" fill="none" stroke="#000" stroke-width="0.8"/>
<circle cx="643.8" cy="67.9" r="3.45" fill="#000"/>
<circle cx="639.5" cy="73.1" r="3.45" fill="#000"/>
<circle cx="648.2" cy="72.6" r="3.45" fill="#000"/>
<circle cx="643.8" cy="78.4" r="3.45" fill="#000"/>
<circle cx="639.5" cy="83.1" r="3.45" fill="#000"/>
<circle cx="648.2" cy="84.2" r="3.45" fill="#000"/>
<circle cx="643.8" cy="91.5" r="3.45" fill="#000"/>
<circle cx="648.2" cy="96.4" r="3.45" fill="#000"/>
<circle cx="643.8" cy="101.5" r="3.45" fill="#000"/>
<circle cx="643.8" cy="116.4" r="3.45" fill="#000"/>
<circle cx="643.8" cy="140.6" r="3.45" fill="#000"/>
<circle cx="667.8" cy="107.7" r="3.2" fill="none" stroke="#000" stroke-width="0.8"/>
<circle cx="672.2" cy="105.9" r="3.2" fill="none" stroke="#000" stroke-width="0.8"/>
<circle cx="663.1" cy="119.6" r="3.2" fill="none" stroke="#000" stroke-width="0.8"/>
<circle cx="667.8" cy="124" r="3.2" fill="none" stroke="#000" stroke-width="0.8"/>
<circle cx="663.1" cy="143.2" r="3.2" fill="none" stroke="#000" stroke-width="0.8"/>
<circle cx="667.8" cy="143.2" r="3.2" fill="none" stroke="#000" stroke-width="0.8"/>
<circle cx="672.2" cy="143.2" r="3.2" fill="none" stroke="#000" stroke-width="0.8"/>
<circle cx="663.1" cy="151.1" r="3.2" fill="none" stroke="#000" stroke-width="0.8"/>
<circle cx="667.8" cy="158.1" r="3.2" fill="none" stroke="#000" stroke-width="0.8"/>
<circle cx="667.8" cy="167.7" r="3.2" fill="none" stroke="#000" stroke-width="0.8"/>
<circle cx="665.2" cy="177.7" r="3.2" fill="none" stroke="#000" stroke-width="0.8"/>
<circle cx="670.1" cy="176" r="3.2" fill="none" stroke="#000" stroke-width="0.8"/>
<line x1="572" y1="174.5" x2="588" y2="174.5" stroke="#888" stroke-width="0.8" />
<line x1="597.3" y1="174.5" x2="611.3" y2="174.5" stroke="#222" stroke-width="0.8" />
<line x1="635.8" y1="91.2" x2="651.8" y2="91.2" stroke="#999" stroke-width="0.8" />
<line x1="643.8" y1="87" x2="643.8" y2="96" stroke="#999" stroke-width="0.8" />
<line x1="639.8" y1="87" x2="647.8" y2="87" stroke="#999" stroke-width="0.8" />
<line x1="639.8" y1="96" x2="647.8" y2="96" stroke="#999" stroke-width="0.8" />
<line x1="660.3" y1="143.2" x2="675.3" y2="143.2" stroke="#222" stroke-width="0.8" />
<line x1="667.8" y1="136.2" x2="667.8" y2="150.2" stroke="#222" stroke-width="0.8" />
<line x1="664.05" y1="136.2" x2="671.55" y2="136.2" stroke="#222" stroke-width="0.8" />
<line x1="664.05" y1="150.2" x2="671.55" y2="150.2" stroke="#222" stroke-width="0.8" />
<text x="17" y="225.6" font-size="9.3" fill="#1a1a1a">ILC2s</text>
<line x1="145" y1="233.6" x2="680.7" y2="233.6" stroke="#8c8c8c" stroke-width="0.9" />
<text x="413.2" y="227" font-size="8.8" text-anchor="middle" fill="#1a1a1a">Succinate</text>
<text x="85.45" y="245.5" font-size="8.8" text-anchor="middle" fill="#1a1a1a">Water</text>
<path d="M62.0 312.4h.75v.75h-.75zM61.1 309.3h.75v.75h-.75zM60.5 309.0h.75v.75h-.75zM62.2 315.1h.75v.75h-.75zM60.4 310.0h.75v.75h-.75zM63.6 312.5h.75v.75h-.75zM62.3 309.2h.75v.75h-.75zM61.9 313.4h.75v.75h-.75zM57.7 310.4h.75v.75h-.75zM55.9 308.2h.75v.75h-.75zM56.1 311.0h.75v.75h-.75zM57.9 312.3h.75v.75h-.75zM62.5 311.1h.75v.75h-.75zM53.9 310.2h.75v.75h-.75zM61.8 311.9h.75v.75h-.75zM57.1 310.4h.75v.75h-.75zM58.9 309.5h.75v.75h-.75zM65.4 309.5h.75v.75h-.75zM61.9 313.9h.75v.75h-.75zM60.1 311.3h.75v.75h-.75zM62.4 311.8h.75v.75h-.75zM58.1 311.8h.75v.75h-.75zM66.3 307.6h.75v.75h-.75zM64.8 311.9h.75v.75h-.75zM59.9 316.8h.75v.75h-.75zM64.4 308.5h.75v.75h-.75zM62.2 313.1h.75v.75h-.75zM61.4 313.4h.75v.75h-.75zM61.8 313.3h.75v.75h-.75zM66.6 309.8h.75v.75h-.75zM62.7 310.4h.75v.75h-.75zM62.4 308.5h.75v.75h-.75zM60.1 311.1h.75v.75h-.75zM64.9 314.6h.75v.75h-.75zM57.8 309.5h.75v.75h-.75zM64.1 306.4h.75v.75h-.75zM60.5 311.3h.75v.75h-.75zM66.0 313.4h.75v.75h-.75zM61.0 310.6h.75v.75h-.75zM61.2 315.6h.75v.75h-.75zM60.6 310.8h.75v.75h-.75zM63.1 311.3h.75v.75h-.75zM61.4 308.7h.75v.75h-.75zM62.0 310.4h.75v.75h-.75zM65.7 313.3h.75v.75h-.75zM61.9 313.3h.75v.75h-.75zM60.9 314.3h.75v.75h-.75zM62.0 313.1h.75v.75h-.75zM57.9 312.5h.75v.75h-.75zM56.6 306.3h.75v.75h-.75zM61.0 309.3h.75v.75h-.75zM62.5 317.4h.75v.75h-.75zM59.3 310.0h.75v.75h-.75zM62.7 312.9h.75v.75h-.75zM61.4 311.1h.75v.75h-.75zM64.2 313.0h.75v.75h-.75zM58.7 311.4h.75v.75h-.75zM62.1 308.9h.75v.75h-.75zM62.8 309.4h.75v.75h-.75zM65.1 312.1h.75v.75h-.75zM62.3 310.1h.75v.75h-.75zM61.6 306.4h.75v.75h-.75zM58.4 312.5h.75v.75h-.75zM55.2 313.8h.75v.75h-.75zM56.4 313.6h.75v.75h-.75zM59.3 313.6h.75v.75h-.75zM62.4 307.6h.75v.75h-.75zM66.0 315.3h.75v.75h-.75zM61.8 310.9h.75v.75h-.75zM61.5 309.1h.75v.75h-.75zM65.5 310.2h.75v.75h-.75zM61.8 309.5h.75v.75h-.75zM60.0 308.3h.75v.75h-.75zM66.0 311.2h.75v.75h-.75zM65.1 311.6h.75v.75h-.75zM59.8 310.8h.75v.75h-.75zM60.2 311.6h.75v.75h-.75zM60.8 310.8h.75v.75h-.75zM57.6 309.5h.75v.75h-.75zM67.3 309.9h.75v.75h-.75zM58.6 312.5h.75v.75h-.75zM66.5 307.8h.75v.75h-.75zM61.3 310.0h.75v.75h-.75zM56.4 313.5h.75v.75h-.75zM61.9 311.8h.75v.75h-.75zM59.6 312.8h.75v.75h-.75zM60.3 311.2h.75v.75h-.75zM58.5 308.4h.75v.75h-.75zM66.3 310.3h.75v.75h-.75zM62.9 311.5h.75v.75h-.75zM60.6 310.3h.75v.75h-.75zM64.0 310.8h.75v.75h-.75zM61.5 311.7h.75v.75h-.75zM65.8 313.4h.75v.75h-.75zM63.2 310.1h.75v.75h-.75zM57.6 314.1h.75v.75h-.75zM65.1 311.2h.75v.75h-.75zM63.7 313.6h.75v.75h-.75zM64.7 314.0h.75v.75h-.75zM60.5 315.5h.75v.75h-.75zM58.0 313.8h.75v.75h-.75zM63.6 313.9h.75v.75h-.75zM68.0 315.5h.75v.75h-.75zM58.3 307.2h.75v.75h-.75zM64.6 309.0h.75v.75h-.75zM62.0 313.8h.75v.75h-.75zM56.7 306.1h.75v.75h-.75zM62.8 311.7h.75v.75h-.75zM61.2 311.7h.75v.75h-.75zM59.2 307.7h.75v.75h-.75zM61.5 309.1h.75v.75h-.75zM56.7 312.9h.75v.75h-.75zM61.8 312.7h.75v.75h-.75zM58.8 309.9h.75v.75h-.75zM58.8 309.3h.75v.75h-.75zM62.6 309.6h.75v.75h-.75zM63.1 312.5h.75v.75h-.75zM68.5 308.0h.75v.75h-.75zM64.8 311.4h.75v.75h-.75zM62.0 307.8h.75v.75h-.75zM60.5 313.5h.75v.75h-.75zM61.7 311.8h.75v.75h-.75zM61.1 314.6h.75v.75h-.75zM61.9 305.9h.75v.75h-.75zM59.8 306.5h.75v.75h-.75zM51.6 310.2h.75v.75h-.75zM66.3 311.7h.75v.75h-.75zM58.2 309.2h.75v.75h-.75zM65.6 312.0h.75v.75h-.75zM62.2 311.5h.75v.75h-.75zM62.1 313.7h.75v.75h-.75zM63.8 312.2h.75v.75h-.75zM58.7 312.9h.75v.75h-.75zM59.8 314.4h.75v.75h-.75zM57.9 311.2h.75v.75h-.75zM62.0 308.2h.75v.75h-.75zM67.5 315.4h.75v.75h-.75zM60.5 313.6h.75v.75h-.75zM63.2 304.8h.75v.75h-.75zM62.8 311.4h.75v.75h-.75zM62.3 308.8h.75v.75h-.75zM61.1 311.1h.75v.75h-.75zM65.8 312.5h.75v.75h-.75zM62.0 315.6h.75v.75h-.75zM60.2 310.6h.75v.75h-.75zM56.2 315.7h.75v.75h-.75zM65.1 314.0h.75v.75h-.75zM64.1 311.9h.75v.75h-.75zM62.7 310.9h.75v.75h-.75zM61.3 311.7h.75v.75h-.75zM66.8 313.0h.75v.75h-.75zM61.8 310.1h.75v.75h-.75zM60.0 315.8h.75v.75h-.75zM63.6 311.8h.75v.75h-.75zM60.9 308.7h.75v.75h-.75zM61.8 313.9h.75v.75h-.75zM60.7 311.0h.75v.75h-.75zM61.3 311.9h.75v.75h-.75zM56.9 311.0h.75v.75h-.75zM59.3 313.9h.75v.75h-.75zM59.5 313.1h.75v.75h-.75zM66.9 310.8h.75v.75h-.75zM60.1 312.1h.75v.75h-.75zM62.0 309.0h.75v.75h-.75zM63.5 316.8h.75v.75h-.75zM61.2 311.1h.75v.75h-.75zM58.7 312.4h.75v.75h-.75zM58.0 308.7h.75v.75h-.75zM66.1 309.2h.75v.75h-.75zM65.5 315.6h.75v.75h-.75zM62.8 313.0h.75v.75h-.75zM68.2 311.1h.75v.75h-.75zM60.1 308.1h.75v.75h-.75zM62.1 315.4h.75v.75h-.75zM65.1 309.2h.75v.75h-.75zM59.3 310.3h.75v.75h-.75zM62.9 311.1h.75v.75h-.75zM62.7 312.4h.75v.75h-.75zM61.0 311.5h.75v.75h-.75zM62.7 311.4h.75v.75h-.75zM63.6 316.5h.75v.75h-.75zM63.9 311.7h.75v.75h-.75zM56.6 312.6h.75v.75h-.75zM55.8 307.9h.75v.75h-.75zM64.7 313.4h.75v.75h-.75zM61.5 307.2h.75v.75h-.75zM60.8 309.8h.75v.75h-.75zM64.0 317.5h.75v.75h-.75zM62.7 309.6h.75v.75h-.75zM58.3 311.5h.75v.75h-.75zM61.4 308.6h.75v.75h-.75zM62.4 308.6h.75v.75h-.75zM65.6 314.4h.75v.75h-.75zM65.5 310.4h.75v.75h-.75zM63.6 311.3h.75v.75h-.75zM60.8 310.7h.75v.75h-.75zM57.8 307.8h.75v.75h-.75zM64.5 311.1h.75v.75h-.75zM62.7 314.2h.75v.75h-.75zM56.5 309.6h.75v.75h-.75zM62.6 312.6h.75v.75h-.75zM60.8 314.3h.75v.75h-.75zM62.7 308.4h.75v.75h-.75zM59.0 313.7h.75v.75h-.75zM63.5 306.7h.75v.75h-.75zM66.3 313.2h.75v.75h-.75zM66.3 310.6h.75v.75h-.75zM61.1 308.7h.75v.75h-.75zM70.1 311.1h.75v.75h-.75zM67.1 309.9h.75v.75h-.75zM62.5 307.3h.75v.75h-.75zM60.8 314.2h.75v.75h-.75zM58.0 314.4h.75v.75h-.75zM63.1 308.9h.75v.75h-.75zM60.4 310.4h.75v.75h-.75zM61.8 310.2h.75v.75h-.75zM59.4 310.8h.75v.75h-.75zM58.7 308.2h.75v.75h-.75zM61.8 313.9h.75v.75h-.75zM57.1 311.6h.75v.75h-.75zM59.9 309.1h.75v.75h-.75zM64.7 310.3h.75v.75h-.75zM66.8 309.6h.75v.75h-.75zM63.2 311.0h.75v.75h-.75zM59.6 313.1h.75v.75h-.75zM61.5 313.2h.75v.75h-.75zM61.8 308.8h.75v.75h-.75zM61.7 311.7h.75v.75h-.75zM65.1 309.2h.75v.75h-.75zM61.9 307.1h.75v.75h-.75zM64.1 308.8h.75v.75h-.75zM56.2 311.4h.75v.75h-.75zM65.5 307.6h.75v.75h-.75zM58.5 309.7h.75v.75h-.75zM58.4 312.6h.75v.75h-.75zM59.4 309.7h.75v.75h-.75zM63.9 309.6h.75v.75h-.75zM63.4 309.1h.75v.75h-.75zM58.1 306.8h.75v.75h-.75zM68.0 310.8h.75v.75h-.75zM62.8 311.5h.75v.75h-.75zM62.5 311.7h.75v.75h-.75zM68.1 308.9h.75v.75h-.75zM57.0 309.0h.75v.75h-.75zM57.7 313.5h.75v.75h-.75zM64.6 309.1h.75v.75h-.75zM57.6 310.7h.75v.75h-.75zM66.5 304.3h.75v.75h-.75zM63.7 308.8h.75v.75h-.75zM65.3 308.8h.75v.75h-.75zM61.1 307.7h.75v.75h-.75zM58.9 315.2h.75v.75h-.75zM64.6 310.6h.75v.75h-.75zM59.2 306.7h.75v.75h-.75zM60.7 311.5h.75v.75h-.75zM61.7 311.4h.75v.75h-.75zM58.4 311.4h.75v.75h-.75zM61.9 315.0h.75v.75h-.75zM68.0 311.2h.75v.75h-.75zM59.5 311.4h.75v.75h-.75zM60.1 309.7h.75v.75h-.75zM61.8 308.9h.75v.75h-.75zM63.9 311.3h.75v.75h-.75zM62.8 311.1h.75v.75h-.75zM59.7 309.1h.75v.75h-.75zM61.2 310.2h.75v.75h-.75zM62.7 311.6h.75v.75h-.75zM57.6 311.8h.75v.75h-.75zM57.7 310.0h.75v.75h-.75zM61.1 306.2h.75v.75h-.75zM62.3 312.0h.75v.75h-.75zM61.5 310.5h.75v.75h-.75zM60.8 309.1h.75v.75h-.75zM61.1 310.2h.75v.75h-.75zM62.3 308.5h.75v.75h-.75zM62.8 312.0h.75v.75h-.75zM61.5 310.5h.75v.75h-.75zM63.8 307.3h.75v.75h-.75zM63.5 312.2h.75v.75h-.75zM62.9 312.6h.75v.75h-.75zM59.9 310.9h.75v.75h-.75zM64.0 312.7h.75v.75h-.75zM62.7 307.7h.75v.75h-.75zM63.7 314.6h.75v.75h-.75zM65.2 312.2h.75v.75h-.75zM57.0 314.1h.75v.75h-.75zM61.5 305.0h.75v.75h-.75zM63.2 307.7h.75v.75h-.75zM57.9 309.9h.75v.75h-.75zM66.1 310.6h.75v.75h-.75zM62.9 316.1h.75v.75h-.75zM67.1 311.3h.75v.75h-.75zM61.2 308.3h.75v.75h-.75zM59.8 312.7h.75v.75h-.75zM63.3 311.9h.75v.75h-.75zM65.2 309.6h.75v.75h-.75zM61.8 313.5h.75v.75h-.75zM63.9 314.4h.75v.75h-.75zM63.3 310.8h.75v.75h-.75zM63.2 309.0h.75v.75h-.75zM56.8 313.1h.75v.75h-.75zM61.8 312.4h.75v.75h-.75zM56.6 310.7h.75v.75h-.75zM60.1 309.4h.75v.75h-.75zM54.8 310.7h.75v.75h-.75zM64.9 312.6h.75v.75h-.75zM60.1 311.6h.75v.75h-.75zM64.4 304.4h.75v.75h-.75zM61.6 313.0h.75v.75h-.75zM64.2 316.0h.75v.75h-.75zM65.6 312.4h.75v.75h-.75zM63.0 313.6h.75v.75h-.75zM60.3 311.5h.75v.75h-.75zM64.9 316.7h.75v.75h-.75zM61.5 311.5h.75v.75h-.75zM62.6 315.1h.75v.75h-.75zM61.9 315.4h.75v.75h-.75zM58.9 311.1h.75v.75h-.75zM61.4 313.6h.75v.75h-.75zM65.3 307.7h.75v.75h-.75zM59.1 312.5h.75v.75h-.75zM59.9 307.6h.75v.75h-.75zM65.3 312.9h.75v.75h-.75zM63.6 310.4h.75v.75h-.75zM65.3 311.0h.75v.75h-.75zM65.5 309.2h.75v.75h-.75zM59.3 312.1h.75v.75h-.75zM59.8 313.4h.75v.75h-.75zM62.8 309.2h.75v.75h-.75zM62.2 310.7h.75v.75h-.75zM64.9 310.0h.75v.75h-.75zM60.6 314.7h.75v.75h-.75zM69.2 316.8h.75v.75h-.75zM62.2 312.2h.75v.75h-.75zM66.9 311.3h.75v.75h-.75zM58.9 311.9h.75v.75h-.75zM63.4 309.4h.75v.75h-.75zM56.7 307.9h.75v.75h-.75zM64.1 309.6h.75v.75h-.75zM61.5 312.2h.75v.75h-.75zM64.0 310.7h.75v.75h-.75zM63.6 309.3h.75v.75h-.75zM60.8 308.9h.75v.75h-.75zM65.6 311.5h.75v.75h-.75zM59.6 310.7h.75v.75h-.75zM61.3 313.4h.75v.75h-.75zM56.9 308.9h.75v.75h-.75zM60.8 318.2h.75v.75h-.75zM65.1 311.3h.75v.75h-.75zM64.3 316.9h.75v.75h-.75zM61.3 310.6h.75v.75h-.75zM65.9 312.9h.75v.75h-.75zM64.1 310.3h.75v.75h-.75zM68.2 316.0h.75v.75h-.75zM63.8 313.4h.75v.75h-.75zM55.5 313.3h.75v.75h-.75zM61.4 312.7h.75v.75h-.75zM64.2 310.7h.75v.75h-.75zM56.6 312.6h.75v.75h-.75zM59.6 310.7h.75v.75h-.75zM60.1 310.7h.75v.75h-.75zM54.6 314.8h.75v.75h-.75zM62.8 314.5h.75v.75h-.75zM68.3 311.7h.75v.75h-.75zM56.2 309.3h.75v.75h-.75zM58.1 310.3h.75v.75h-.75zM62.3 306.4h.75v.75h-.75zM63.1 307.7h.75v.75h-.75zM63.0 311.3h.75v.75h-.75zM61.0 311.4h.75v.75h-.75zM60.3 310.0h.75v.75h-.75zM56.6 311.5h.75v.75h-.75zM67.9 316.7h.75v.75h-.75zM66.2 313.4h.75v.75h-.75zM59.8 315.4h.75v.75h-.75zM61.8 311.4h.75v.75h-.75zM61.1 311.8h.75v.75h-.75zM60.6 311.4h.75v.75h-.75zM58.5 310.6h.75v.75h-.75zM69.3 311.4h.75v.75h-.75z" fill="#000" fill-opacity="0.5"/>
<path d="M61.4 312.3h.75v.75h-.75zM62.9 310.2h.75v.75h-.75zM61.5 312.8h.75v.75h-.75zM62.2 311.8h.75v.75h-.75zM64.3 310.7h.75v.75h-.75zM61.9 310.9h.75v.75h-.75zM64.2 309.1h.75v.75h-.75zM60.7 310.9h.75v.75h-.75zM62.9 312.4h.75v.75h-.75zM64.0 309.6h.75v.75h-.75zM63.0 311.2h.75v.75h-.75zM60.7 312.3h.75v.75h-.75zM60.3 308.9h.75v.75h-.75zM61.2 309.7h.75v.75h-.75zM60.8 312.1h.75v.75h-.75zM62.3 313.7h.75v.75h-.75zM61.5 309.6h.75v.75h-.75zM60.6 310.4h.75v.75h-.75zM59.9 312.2h.75v.75h-.75zM60.8 309.0h.75v.75h-.75zM62.9 311.5h.75v.75h-.75zM62.4 311.7h.75v.75h-.75zM62.8 311.6h.75v.75h-.75zM63.8 312.2h.75v.75h-.75zM62.4 312.1h.75v.75h-.75zM59.5 311.4h.75v.75h-.75zM61.4 311.9h.75v.75h-.75zM59.6 313.7h.75v.75h-.75zM62.0 310.0h.75v.75h-.75zM59.1 311.2h.75v.75h-.75zM61.7 310.7h.75v.75h-.75zM61.9 310.8h.75v.75h-.75zM62.7 310.7h.75v.75h-.75zM61.7 312.9h.75v.75h-.75zM65.9 310.3h.75v.75h-.75zM61.1 310.5h.75v.75h-.75zM63.1 310.1h.75v.75h-.75zM61.0 311.6h.75v.75h-.75zM60.2 310.4h.75v.75h-.75zM61.0 308.9h.75v.75h-.75zM59.5 311.1h.75v.75h-.75zM62.0 311.4h.75v.75h-.75zM59.0 311.0h.75v.75h-.75zM63.1 312.3h.75v.75h-.75zM61.7 310.4h.75v.75h-.75zM62.8 310.8h.75v.75h-.75zM59.9 310.6h.75v.75h-.75zM64.1 311.9h.75v.75h-.75zM63.7 311.0h.75v.75h-.75zM63.3 310.8h.75v.75h-.75zM61.5 314.8h.75v.75h-.75zM63.0 310.9h.75v.75h-.75zM61.7 312.0h.75v.75h-.75zM63.7 311.0h.75v.75h-.75zM59.0 311.2h.75v.75h-.75zM61.8 311.7h.75v.75h-.75zM63.9 312.0h.75v.75h-.75zM63.1 310.2h.75v.75h-.75zM63.2 314.3h.75v.75h-.75zM63.0 311.9h.75v.75h-.75zM62.0 313.9h.75v.75h-.75zM60.3 311.5h.75v.75h-.75zM62.5 312.6h.75v.75h-.75zM61.1 312.0h.75v.75h-.75zM61.4 311.8h.75v.75h-.75zM61.6 310.1h.75v.75h-.75zM61.8 312.7h.75v.75h-.75zM60.3 311.3h.75v.75h-.75zM62.9 310.2h.75v.75h-.75zM62.1 310.2h.75v.75h-.75zM63.6 314.6h.75v.75h-.75zM65.0 311.3h.75v.75h-.75zM63.0 311.8h.75v.75h-.75zM62.0 313.6h.75v.75h-.75zM59.7 313.0h.75v.75h-.75zM61.7 313.4h.75v.75h-.75zM62.1 310.7h.75v.75h-.75zM62.2 312.6h.75v.75h-.75zM61.9 312.2h.75v.75h-.75zM61.0 308.8h.75v.75h-.75zM63.2 312.5h.75v.75h-.75zM62.0 311.7h.75v.75h-.75zM63.5 311.0h.75v.75h-.75zM60.7 311.4h.75v.75h-.75zM63.7 309.8h.75v.75h-.75zM63.7 310.8h.75v.75h-.75zM60.0 313.2h.75v.75h-.75zM61.6 309.9h.75v.75h-.75zM61.2 312.8h.75v.75h-.75zM63.7 311.0h.75v.75h-.75zM62.5 312.5h.75v.75h-.75zM60.8 312.1h.75v.75h-.75zM61.7 310.9h.75v.75h-.75zM61.0 311.7h.75v.75h-.75zM61.8 310.9h.75v.75h-.75zM61.1 313.0h.75v.75h-.75zM62.1 312.8h.75v.75h-.75zM63.7 312.4h.75v.75h-.75zM65.4 310.5h.75v.75h-.75zM63.1 311.2h.75v.75h-.75zM64.8 313.8h.75v.75h-.75zM58.7 310.3h.75v.75h-.75zM62.9 312.6h.75v.75h-.75zM63.0 311.5h.75v.75h-.75zM62.5 312.4h.75v.75h-.75zM61.7 312.9h.75v.75h-.75zM58.2 312.4h.75v.75h-.75zM60.1 312.8h.75v.75h-.75zM61.4 310.4h.75v.75h-.75zM62.4 310.4h.75v.75h-.75zM60.3 309.6h.75v.75h-.75zM61.8 312.2h.75v.75h-.75zM63.4 311.4h.75v.75h-.75zM63.5 311.6h.75v.75h-.75zM61.7 312.3h.75v.75h-.75zM63.5 311.2h.75v.75h-.75zM61.4 311.4h.75v.75h-.75zM61.9 310.4h.75v.75h-.75zM63.4 311.1h.75v.75h-.75zM62.5 310.5h.75v.75h-.75zM62.4 312.1h.75v.75h-.75zM61.1 314.2h.75v.75h-.75zM62.4 313.9h.75v.75h-.75zM63.3 310.7h.75v.75h-.75zM61.2 312.2h.75v.75h-.75zM61.9 311.7h.75v.75h-.75zM61.3 309.2h.75v.75h-.75zM61.4 308.7h.75v.75h-.75zM62.4 310.7h.75v.75h-.75zM60.7 311.3h.75v.75h-.75zM62.2 309.7h.75v.75h-.75zM59.0 310.2h.75v.75h-.75zM58.5 310.3h.75v.75h-.75zM64.3 310.2h.75v.75h-.75zM62.8 309.8h.75v.75h-.75zM62.3 311.2h.75v.75h-.75zM61.7 312.3h.75v.75h-.75zM64.6 311.9h.75v.75h-.75zM62.0 310.3h.75v.75h-.75zM62.7 311.3h.75v.75h-.75zM63.1 311.5h.75v.75h-.75zM64.6 309.0h.75v.75h-.75zM61.3 312.7h.75v.75h-.75zM61.2 310.6h.75v.75h-.75zM61.4 309.8h.75v.75h-.75zM62.0 314.8h.75v.75h-.75zM63.6 310.2h.75v.75h-.75zM60.4 311.1h.75v.75h-.75zM63.4 310.5h.75v.75h-.75zM60.7 312.8h.75v.75h-.75zM63.2 311.1h.75v.75h-.75zM60.0 309.6h.75v.75h-.75zM60.7 308.7h.75v.75h-.75zM63.0 310.8h.75v.75h-.75zM62.6 314.0h.75v.75h-.75zM63.7 310.1h.75v.75h-.75zM63.2 313.1h.75v.75h-.75zM60.6 310.4h.75v.75h-.75zM61.6 309.5h.75v.75h-.75zM64.2 308.5h.75v.75h-.75z" fill="#000" fill-opacity="0.6"/>
<path d="M58.0 289.2h.75v.75h-.75zM60.8 292.1h.75v.75h-.75zM62.4 289.6h.75v.75h-.75zM65.1 277.1h.75v.75h-.75zM61.5 286.4h.75v.75h-.75zM61.9 292.4h.75v.75h-.75zM58.6 286.8h.75v.75h-.75zM64.0 293.3h.75v.75h-.75zM59.3 304.3h.75v.75h-.75zM68.9 281.5h.75v.75h-.75zM62.5 307.3h.75v.75h-.75zM64.0 292.4h.75v.75h-.75zM60.8 287.5h.75v.75h-.75zM60.8 287.4h.75v.75h-.75zM63.9 288.4h.75v.75h-.75zM60.1 283.2h.75v.75h-.75zM61.3 285.2h.75v.75h-.75zM60.9 297.8h.75v.75h-.75zM62.7 294.3h.75v.75h-.75zM62.6 291.4h.75v.75h-.75zM61.1 289.0h.75v.75h-.75zM63.9 284.0h.75v.75h-.75zM65.8 291.2h.75v.75h-.75zM59.1 287.8h.75v.75h-.75zM59.3 292.0h.75v.75h-.75zM59.2 298.4h.75v.75h-.75zM59.0 276.2h.75v.75h-.75zM59.2 277.9h.75v.75h-.75zM61.4 297.9h.75v.75h-.75zM63.6 282.3h.75v.75h-.75zM59.1 302.6h.75v.75h-.75zM62.5 291.0h.75v.75h-.75zM64.9 306.9h.75v.75h-.75zM65.6 291.9h.75v.75h-.75zM62.6 295.0h.75v.75h-.75zM59.5 284.1h.75v.75h-.75zM61.7 284.8h.75v.75h-.75zM61.3 291.6h.75v.75h-.75zM69.0 285.5h.75v.75h-.75zM61.1 289.9h.75v.75h-.75zM62.9 297.8h.75v.75h-.75zM59.9 285.7h.75v.75h-.75zM56.2 285.0h.75v.75h-.75zM63.2 291.3h.75v.75h-.75zM58.3 288.6h.75v.75h-.75zM85.4 310.2h.75v.75h-.75zM80.2 308.1h.75v.75h-.75zM70.1 306.1h.75v.75h-.75zM97.1 299.8h.75v.75h-.75zM82.4 309.5h.75v.75h-.75zM81.7 306.1h.75v.75h-.75zM84.5 308.5h.75v.75h-.75zM83.7 302.2h.75v.75h-.75zM83.5 305.7h.75v.75h-.75zM80.7 309.7h.75v.75h-.75zM90.4 311.0h.75v.75h-.75zM81.4 312.0h.75v.75h-.75zM94.7 311.4h.75v.75h-.75zM96.0 306.9h.75v.75h-.75zM83.9 311.4h.75v.75h-.75zM74.2 310.3h.75v.75h-.75zM80.7 307.7h.75v.75h-.75zM70.8 306.9h.75v.75h-.75zM85.1 311.5h.75v.75h-.75zM92.9 307.4h.75v.75h-.75zM83.2 305.8h.75v.75h-.75zM88.1 307.3h.75v.75h-.75zM90.4 313.9h.75v.75h-.75zM84.2 303.5h.75v.75h-.75zM77.7 304.3h.75v.75h-.75zM75.9 313.9h.75v.75h-.75zM86.3 303.2h.75v.75h-.75zM90.6 312.2h.75v.75h-.75zM81.9 306.5h.75v.75h-.75zM82.4 309.7h.75v.75h-.75zM90.5 312.0h.75v.75h-.75zM95.1 311.5h.75v.75h-.75zM96.1 309.6h.75v.75h-.75zM72.8 309.3h.75v.75h-.75zM87.4 307.0h.75v.75h-.75zM92.1 306.6h.75v.75h-.75zM78.1 314.1h.75v.75h-.75zM90.4 308.7h.75v.75h-.75zM92.7 311.4h.75v.75h-.75zM86.9 299.9h.75v.75h-.75zM79.5 307.5h.75v.75h-.75zM77.2 310.0h.75v.75h-.75zM94.3 305.9h.75v.75h-.75zM76.7 316.3h.75v.75h-.75zM81.0 304.7h.75v.75h-.75zM87.0 309.8h.75v.75h-.75zM79.7 311.7h.75v.75h-.75zM80.8 305.8h.75v.75h-.75zM86.7 311.0h.75v.75h-.75zM80.1 310.1h.75v.75h-.75zM85.2 318.1h.75v.75h-.75zM79.8 313.7h.75v.75h-.75zM84.5 308.1h.75v.75h-.75zM91.0 310.9h.75v.75h-.75zM95.2 308.6h.75v.75h-.75zM80.0 307.2h.75v.75h-.75zM89.3 310.1h.75v.75h-.75zM96.3 308.8h.75v.75h-.75zM94.0 312.8h.75v.75h-.75zM85.8 303.3h.75v.75h-.75zM75.1 304.6h.75v.75h-.75zM97.4 304.4h.75v.75h-.75zM95.0 309.5h.75v.75h-.75zM99.0 310.5h.75v.75h-.75zM84.1 307.9h.75v.75h-.75zM85.7 309.0h.75v.75h-.75zM80.8 308.8h.75v.75h-.75zM97.2 301.5h.75v.75h-.75zM86.7 305.2h.75v.75h-.75zM86.8 311.2h.75v.75h-.75zM84.8 311.2h.75v.75h-.75zM72.7 313.5h.75v.75h-.75zM80.4 311.1h.75v.75h-.75zM85.6 299.6h.75v.75h-.75zM79.1 309.8h.75v.75h-.75zM97.5 308.2h.75v.75h-.75zM86.6 303.5h.75v.75h-.75zM97.0 313.5h.75v.75h-.75zM85.2 307.7h.75v.75h-.75zM72.4 312.8h.75v.75h-.75zM106.8 308.8h.75v.75h-.75zM95.2 309.3h.75v.75h-.75zM77.6 313.8h.75v.75h-.75zM75.1 308.8h.75v.75h-.75zM87.5 311.3h.75v.75h-.75zM88.4 309.5h.75v.75h-.75zM78.5 304.7h.75v.75h-.75zM85.2 306.0h.75v.75h-.75zM74.2 305.3h.75v.75h-.75zM80.5 302.6h.75v.75h-.75zM73.7 304.0h.75v.75h-.75zM86.6 309.7h.75v.75h-.75zM100.5 301.8h.75v.75h-.75zM79.9 312.1h.75v.75h-.75zM83.2 307.6h.75v.75h-.75zM76.3 307.6h.75v.75h-.75zM59.1 303.7h.75v.75h-.75zM68.0 310.2h.75v.75h-.75zM57.8 305.1h.75v.75h-.75zM69.2 311.3h.75v.75h-.75zM62.1 311.5h.75v.75h-.75zM69.4 301.9h.75v.75h-.75zM64.1 310.7h.75v.75h-.75zM62.6 300.4h.75v.75h-.75zM64.3 312.0h.75v.75h-.75zM75.5 300.2h.75v.75h-.75zM81.7 304.5h.75v.75h-.75zM71.7 313.9h.75v.75h-.75zM71.9 309.6h.75v.75h-.75zM59.0 311.5h.75v.75h-.75zM61.7 298.9h.75v.75h-.75zM83.0 311.8h.75v.75h-.75zM76.9 305.4h.75v.75h-.75zM74.8 315.4h.75v.75h-.75zM75.3 308.9h.75v.75h-.75zM58.8 308.3h.75v.75h-.75zM52.8 302.2h.75v.75h-.75zM66.6 305.0h.75v.75h-.75zM65.0 308.6h.75v.75h-.75zM77.6 314.2h.75v.75h-.75zM65.7 313.8h.75v.75h-.75zM61.3 307.7h.75v.75h-.75zM71.5 304.0h.75v.75h-.75zM64.3 303.7h.75v.75h-.75zM66.7 315.5h.75v.75h-.75zM61.5 309.9h.75v.75h-.75zM60.6 304.4h.75v.75h-.75zM58.6 314.8h.75v.75h-.75zM80.2 310.9h.75v.75h-.75zM61.7 311.8h.75v.75h-.75zM64.0 312.2h.75v.75h-.75zM67.7 310.1h.75v.75h-.75zM69.6 306.7h.75v.75h-.75zM63.6 302.1h.75v.75h-.75zM63.3 303.3h.75v.75h-.75zM65.1 305.2h.75v.75h-.75zM66.6 310.8h.75v.75h-.75zM57.5 305.7h.75v.75h-.75zM60.3 312.0h.75v.75h-.75zM76.2 312.4h.75v.75h-.75zM63.9 314.9h.75v.75h-.75zM56.9 315.0h.75v.75h-.75zM62.1 297.9h.75v.75h-.75zM81.9 315.3h.75v.75h-.75zM59.8 309.7h.75v.75h-.75z" fill="#000" fill-opacity="0.45"/>
<path d="M69.6 302.0h.75v.75h-.75zM37.9 286.4h.75v.75h-.75zM86.7 304.5h.75v.75h-.75zM105.0 301.6h.75v.75h-.75zM133.7 285.7h.75v.75h-.75zM81.5 261.7h.75v.75h-.75zM43.7 326.6h.75v.75h-.75zM51.4 310.6h.75v.75h-.75zM73.5 279.1h.75v.75h-.75zM66.3 289.7h.75v.75h-.75zM62.8 315.1h.75v.75h-.75zM91.3 288.5h.75v.75h-.75zM52.3 305.6h.75v.75h-.75zM72.5 320.6h.75v.75h-.75z" fill="#000" fill-opacity="0.4"/>
<rect x="34.2" y="250.6" width="101.5" height="100.8" fill="none" stroke="#333" stroke-width="0.9"/>
<line x1="73.5" y1="250.6" x2="73.5" y2="351.4" stroke="#222" stroke-width="0.85" />
<line x1="34.2" y1="304.5" x2="135.7" y2="304.5" stroke="#1a1a1a" stroke-width="0.85" />
<text x="37.8" y="260.4" font-size="8.0" fill="#1a1a1a">7.06</text>
<text x="132.4" y="260.4" font-size="8.0" text-anchor="end" fill="#1a1a1a">4.71</text>
<text x="37.8" y="347.6" font-size="8.0" fill="#1a1a1a">73.3</text>
<text x="132.4" y="347.6" font-size="8.0" text-anchor="end" fill="#1a1a1a">14.9</text>
<path d="M31.7,250.8h2.5 M31.7,268h2.5 M31.7,284.8h2.5 M31.7,304.3h2.5 M32.9,262.82h1.3 M32.9,259.79h1.3 M32.9,257.64h1.3 M32.9,255.98h1.3 M32.9,254.62h1.3 M32.9,253.46h1.3 M32.9,252.47h1.3 M32.9,251.59h1.3 M32.9,279.74h1.3 M32.9,276.78h1.3 M32.9,274.69h1.3 M32.9,273.06h1.3 M32.9,271.73h1.3 M32.9,270.6h1.3 M32.9,269.63h1.3 M32.9,268.77h1.3 M32.9,298.43h1.3 M32.9,295h1.3 M32.9,292.56h1.3 M32.9,290.67h1.3 M32.9,289.13h1.3 M32.9,287.82h1.3 M32.9,286.69h1.3 M32.9,285.69h1.3 M32.9,308.56h1.3 M32.9,312.83h1.3 M32.9,317.09h1.3 M32.9,321.35h1.3 M32.9,325.62h1.3 M32.9,329.88h1.3 M32.9,334.15h1.3 M32.9,338.41h1.3 M32.9,342.67h1.3 M32.9,346.94h1.3 M32.9,351.2h1.3 M31.7,351.2h2.5 M42.2,351.4v1.5 M55.1,351.4v1.5 M69.1,351.4v1.5 M73.6,351.4v1.5 M86.2,351.4v1.5 M94.2,351.4v1.5 M101.7,351.4v1.5 M108.7,351.4v1.5 M113.7,351.4v1.5 M117.2,351.4v1.5 M124.2,351.4v1.5 M131,351.4v1.5 M134.7,351.4v1.5 M62.1,351.4v2.5 M101.7,351.4v2.5 M124.2,351.4v2.5" stroke="#333" stroke-width="0.7" fill="none"/>
<rect x="32" y="324.5" width="1.6" height="6.5" fill="#111"/>
<rect x="60.3" y="351.7" width="3.2" height="1.6" fill="#111"/>
<text x="62.1" y="363.6" font-size="7.4" text-anchor="middle" fill="#1a1a1a">0</text>
<text x="101" y="363.6" font-size="7.4" text-anchor="middle" fill="#1a1a1a">10<tspan font-size="4.8" dy="-3.2">4</tspan></text>
<text x="123.9" y="363.6" font-size="7.4" text-anchor="middle" fill="#1a1a1a">10<tspan font-size="4.8" dy="-3.2">5</tspan></text>
<text x="195.45" y="245.5" font-size="8.8" text-anchor="middle" fill="#1a1a1a">Day 4</text>
<path d="M172.8 311.8h.75v.75h-.75zM170.7 310.3h.75v.75h-.75zM170.3 311.3h.75v.75h-.75zM171.8 313.6h.75v.75h-.75zM171.9 311.7h.75v.75h-.75zM169.7 315.4h.75v.75h-.75zM174.2 315.7h.75v.75h-.75zM175.0 315.1h.75v.75h-.75zM172.3 313.5h.75v.75h-.75zM179.9 309.7h.75v.75h-.75zM176.0 315.5h.75v.75h-.75zM174.0 313.6h.75v.75h-.75zM176.2 310.8h.75v.75h-.75zM174.0 310.3h.75v.75h-.75zM171.1 310.8h.75v.75h-.75zM172.5 312.4h.75v.75h-.75zM174.1 309.2h.75v.75h-.75zM178.2 314.5h.75v.75h-.75zM174.8 311.4h.75v.75h-.75zM172.7 313.2h.75v.75h-.75zM174.0 308.7h.75v.75h-.75zM174.9 318.1h.75v.75h-.75zM168.0 314.1h.75v.75h-.75zM173.9 311.9h.75v.75h-.75zM176.6 309.7h.75v.75h-.75zM173.3 315.1h.75v.75h-.75zM172.4 311.2h.75v.75h-.75zM173.2 311.2h.75v.75h-.75zM177.0 310.2h.75v.75h-.75zM175.2 309.5h.75v.75h-.75zM174.7 311.9h.75v.75h-.75zM166.0 312.1h.75v.75h-.75zM170.0 311.2h.75v.75h-.75zM177.0 309.8h.75v.75h-.75zM170.1 315.1h.75v.75h-.75zM173.2 315.3h.75v.75h-.75zM173.8 310.3h.75v.75h-.75zM172.7 314.6h.75v.75h-.75zM175.4 312.1h.75v.75h-.75zM173.0 311.9h.75v.75h-.75zM171.4 316.1h.75v.75h-.75zM172.9 309.8h.75v.75h-.75zM171.6 313.6h.75v.75h-.75zM174.6 311.8h.75v.75h-.75zM171.1 312.1h.75v.75h-.75zM168.4 309.4h.75v.75h-.75zM175.0 311.1h.75v.75h-.75zM173.9 314.6h.75v.75h-.75zM174.6 312.1h.75v.75h-.75zM178.6 313.5h.75v.75h-.75zM172.0 313.6h.75v.75h-.75zM174.0 310.3h.75v.75h-.75zM173.1 311.8h.75v.75h-.75zM167.6 311.7h.75v.75h-.75zM172.1 311.2h.75v.75h-.75zM168.5 311.4h.75v.75h-.75zM172.8 312.3h.75v.75h-.75zM169.9 313.4h.75v.75h-.75zM169.7 311.6h.75v.75h-.75zM176.4 310.7h.75v.75h-.75zM171.5 314.3h.75v.75h-.75zM171.9 311.5h.75v.75h-.75zM173.5 314.3h.75v.75h-.75zM167.0 310.4h.75v.75h-.75zM170.2 309.9h.75v.75h-.75zM170.6 310.4h.75v.75h-.75zM173.7 310.3h.75v.75h-.75zM173.2 312.9h.75v.75h-.75zM171.0 312.4h.75v.75h-.75zM177.3 312.8h.75v.75h-.75zM171.2 312.0h.75v.75h-.75zM170.5 312.7h.75v.75h-.75zM175.2 310.4h.75v.75h-.75zM172.3 314.4h.75v.75h-.75zM171.6 312.5h.75v.75h-.75zM170.2 310.4h.75v.75h-.75zM171.5 316.5h.75v.75h-.75zM171.8 311.0h.75v.75h-.75zM171.4 311.8h.75v.75h-.75zM174.6 312.5h.75v.75h-.75zM178.3 312.5h.75v.75h-.75zM176.7 312.7h.75v.75h-.75zM174.5 309.2h.75v.75h-.75zM172.6 312.0h.75v.75h-.75zM172.3 307.8h.75v.75h-.75zM175.2 311.3h.75v.75h-.75zM171.8 311.6h.75v.75h-.75zM172.3 312.9h.75v.75h-.75zM169.6 310.2h.75v.75h-.75zM173.7 312.4h.75v.75h-.75zM171.9 311.0h.75v.75h-.75zM170.7 312.0h.75v.75h-.75zM176.0 310.0h.75v.75h-.75zM176.9 313.8h.75v.75h-.75zM171.7 313.7h.75v.75h-.75zM169.1 308.6h.75v.75h-.75zM169.5 311.3h.75v.75h-.75zM172.1 311.1h.75v.75h-.75zM173.2 307.8h.75v.75h-.75zM174.2 309.3h.75v.75h-.75zM171.2 311.3h.75v.75h-.75zM169.9 309.4h.75v.75h-.75zM170.3 312.1h.75v.75h-.75zM174.4 313.2h.75v.75h-.75zM170.3 310.5h.75v.75h-.75zM170.5 313.0h.75v.75h-.75zM167.6 314.6h.75v.75h-.75zM171.6 310.5h.75v.75h-.75zM173.8 314.2h.75v.75h-.75zM173.8 314.2h.75v.75h-.75zM173.2 314.6h.75v.75h-.75zM176.1 311.9h.75v.75h-.75zM176.6 312.4h.75v.75h-.75zM173.1 310.3h.75v.75h-.75zM172.1 313.7h.75v.75h-.75zM169.5 313.4h.75v.75h-.75zM173.8 312.7h.75v.75h-.75zM167.2 311.9h.75v.75h-.75zM174.6 310.6h.75v.75h-.75zM173.1 307.3h.75v.75h-.75zM174.6 310.8h.75v.75h-.75zM175.2 308.4h.75v.75h-.75zM174.7 311.6h.75v.75h-.75zM175.0 310.2h.75v.75h-.75zM171.3 316.6h.75v.75h-.75zM170.7 310.7h.75v.75h-.75zM172.2 310.1h.75v.75h-.75zM176.0 315.6h.75v.75h-.75zM171.1 308.6h.75v.75h-.75zM175.9 314.3h.75v.75h-.75zM175.0 314.4h.75v.75h-.75zM170.6 311.8h.75v.75h-.75zM169.3 309.3h.75v.75h-.75zM175.5 310.8h.75v.75h-.75zM178.8 312.2h.75v.75h-.75zM171.2 313.7h.75v.75h-.75zM177.6 313.1h.75v.75h-.75zM169.7 312.8h.75v.75h-.75zM176.5 311.1h.75v.75h-.75zM170.9 314.1h.75v.75h-.75zM173.3 309.9h.75v.75h-.75zM171.9 310.6h.75v.75h-.75zM173.7 312.3h.75v.75h-.75zM175.9 313.5h.75v.75h-.75zM168.8 312.9h.75v.75h-.75zM175.2 313.0h.75v.75h-.75zM175.6 311.0h.75v.75h-.75zM170.4 314.0h.75v.75h-.75zM170.1 307.8h.75v.75h-.75zM175.6 310.7h.75v.75h-.75zM172.1 309.3h.75v.75h-.75zM169.5 309.8h.75v.75h-.75zM172.0 312.8h.75v.75h-.75zM166.9 313.6h.75v.75h-.75zM169.8 310.0h.75v.75h-.75zM174.7 312.0h.75v.75h-.75zM168.9 315.8h.75v.75h-.75zM170.7 312.6h.75v.75h-.75zM173.4 314.9h.75v.75h-.75zM171.7 314.1h.75v.75h-.75zM171.0 314.3h.75v.75h-.75zM170.9 311.4h.75v.75h-.75zM177.8 312.7h.75v.75h-.75zM173.2 316.6h.75v.75h-.75zM173.8 310.5h.75v.75h-.75zM174.8 309.7h.75v.75h-.75zM175.8 314.5h.75v.75h-.75zM171.4 310.8h.75v.75h-.75zM173.4 312.1h.75v.75h-.75zM170.4 313.2h.75v.75h-.75zM167.6 311.2h.75v.75h-.75zM171.8 311.6h.75v.75h-.75zM173.7 309.6h.75v.75h-.75zM174.4 311.7h.75v.75h-.75zM171.2 309.4h.75v.75h-.75zM169.8 312.8h.75v.75h-.75zM170.4 312.2h.75v.75h-.75zM175.7 314.2h.75v.75h-.75zM177.0 311.5h.75v.75h-.75zM170.1 314.1h.75v.75h-.75zM173.7 314.3h.75v.75h-.75zM172.9 314.5h.75v.75h-.75zM175.1 313.5h.75v.75h-.75zM174.2 312.9h.75v.75h-.75zM173.5 312.6h.75v.75h-.75zM175.5 311.1h.75v.75h-.75zM177.4 311.9h.75v.75h-.75zM175.5 311.9h.75v.75h-.75zM172.3 316.2h.75v.75h-.75zM172.1 309.5h.75v.75h-.75zM171.0 311.5h.75v.75h-.75zM178.5 312.5h.75v.75h-.75zM175.3 310.1h.75v.75h-.75zM173.8 313.4h.75v.75h-.75zM177.6 310.7h.75v.75h-.75zM174.5 312.7h.75v.75h-.75zM170.2 312.1h.75v.75h-.75zM172.2 307.4h.75v.75h-.75zM174.5 313.2h.75v.75h-.75zM171.8 309.4h.75v.75h-.75z" fill="#000" fill-opacity="0.5"/>
<path d="M174.5 312.5h.75v.75h-.75zM173.9 313.6h.75v.75h-.75zM171.9 313.0h.75v.75h-.75zM172.3 312.1h.75v.75h-.75zM172.5 312.2h.75v.75h-.75zM174.0 312.3h.75v.75h-.75zM172.4 311.9h.75v.75h-.75zM173.0 311.3h.75v.75h-.75zM171.9 312.1h.75v.75h-.75zM171.9 312.1h.75v.75h-.75zM171.8 314.2h.75v.75h-.75zM174.3 312.6h.75v.75h-.75zM172.5 314.4h.75v.75h-.75zM173.0 312.1h.75v.75h-.75zM173.0 312.5h.75v.75h-.75zM174.4 312.2h.75v.75h-.75zM175.3 311.3h.75v.75h-.75zM173.5 311.2h.75v.75h-.75zM175.0 311.9h.75v.75h-.75zM172.5 313.1h.75v.75h-.75zM174.2 311.1h.75v.75h-.75zM172.1 310.8h.75v.75h-.75zM172.8 312.1h.75v.75h-.75zM172.1 311.5h.75v.75h-.75zM172.1 311.5h.75v.75h-.75zM173.3 313.7h.75v.75h-.75zM170.1 312.1h.75v.75h-.75zM172.1 312.7h.75v.75h-.75zM171.4 312.1h.75v.75h-.75zM171.2 312.9h.75v.75h-.75zM172.7 312.0h.75v.75h-.75zM173.1 312.0h.75v.75h-.75zM170.6 312.8h.75v.75h-.75zM173.0 312.0h.75v.75h-.75zM173.9 313.4h.75v.75h-.75zM171.2 311.4h.75v.75h-.75zM174.6 313.6h.75v.75h-.75zM171.6 311.0h.75v.75h-.75zM171.8 311.7h.75v.75h-.75zM170.5 312.2h.75v.75h-.75zM170.9 311.0h.75v.75h-.75zM173.8 311.5h.75v.75h-.75zM172.5 312.8h.75v.75h-.75zM173.7 311.9h.75v.75h-.75zM172.7 311.4h.75v.75h-.75zM174.9 312.8h.75v.75h-.75zM171.2 312.2h.75v.75h-.75zM173.5 312.7h.75v.75h-.75zM175.0 313.6h.75v.75h-.75zM171.9 312.1h.75v.75h-.75zM170.9 312.4h.75v.75h-.75zM172.8 314.9h.75v.75h-.75zM172.7 310.1h.75v.75h-.75zM171.7 312.3h.75v.75h-.75zM171.0 311.3h.75v.75h-.75zM172.1 312.5h.75v.75h-.75zM172.4 311.3h.75v.75h-.75zM173.6 311.7h.75v.75h-.75zM172.0 310.8h.75v.75h-.75zM171.6 312.9h.75v.75h-.75zM170.5 312.1h.75v.75h-.75zM173.5 311.8h.75v.75h-.75zM172.9 311.1h.75v.75h-.75zM174.3 313.3h.75v.75h-.75zM172.9 310.4h.75v.75h-.75zM171.2 313.2h.75v.75h-.75zM174.8 312.5h.75v.75h-.75zM174.2 311.6h.75v.75h-.75zM172.4 312.2h.75v.75h-.75zM173.2 310.7h.75v.75h-.75zM173.8 313.5h.75v.75h-.75zM171.1 310.8h.75v.75h-.75zM173.1 311.5h.75v.75h-.75zM169.5 313.0h.75v.75h-.75zM172.8 311.7h.75v.75h-.75zM175.3 312.3h.75v.75h-.75zM171.6 312.3h.75v.75h-.75zM171.2 311.4h.75v.75h-.75zM173.1 311.6h.75v.75h-.75zM172.0 313.9h.75v.75h-.75zM173.7 313.0h.75v.75h-.75zM173.3 312.7h.75v.75h-.75zM174.5 312.2h.75v.75h-.75zM175.0 311.2h.75v.75h-.75zM172.3 310.8h.75v.75h-.75zM172.2 312.7h.75v.75h-.75zM174.5 311.5h.75v.75h-.75zM172.6 311.8h.75v.75h-.75zM171.6 311.0h.75v.75h-.75zM172.7 310.5h.75v.75h-.75zM172.7 312.2h.75v.75h-.75zM171.7 311.2h.75v.75h-.75zM170.8 314.1h.75v.75h-.75zM170.9 313.8h.75v.75h-.75zM173.4 311.8h.75v.75h-.75zM171.1 313.2h.75v.75h-.75zM174.8 311.3h.75v.75h-.75zM172.2 313.3h.75v.75h-.75zM173.0 314.2h.75v.75h-.75zM171.9 312.7h.75v.75h-.75zM171.0 314.3h.75v.75h-.75zM171.7 310.0h.75v.75h-.75zM172.4 312.1h.75v.75h-.75zM175.1 311.9h.75v.75h-.75zM172.6 312.8h.75v.75h-.75zM174.7 312.1h.75v.75h-.75zM174.0 312.7h.75v.75h-.75zM172.2 312.3h.75v.75h-.75zM172.6 311.3h.75v.75h-.75zM174.2 310.8h.75v.75h-.75zM174.1 313.2h.75v.75h-.75zM172.5 311.4h.75v.75h-.75zM172.3 312.7h.75v.75h-.75zM173.6 312.5h.75v.75h-.75zM173.9 311.6h.75v.75h-.75zM172.9 310.6h.75v.75h-.75zM173.6 312.4h.75v.75h-.75zM172.1 313.4h.75v.75h-.75zM173.5 309.4h.75v.75h-.75zM172.7 310.7h.75v.75h-.75zM174.0 314.7h.75v.75h-.75zM171.9 312.3h.75v.75h-.75zM172.3 312.6h.75v.75h-.75zM173.4 313.5h.75v.75h-.75zM171.3 313.8h.75v.75h-.75zM171.4 312.5h.75v.75h-.75zM174.1 312.9h.75v.75h-.75zM171.4 311.5h.75v.75h-.75zM172.0 312.1h.75v.75h-.75zM174.1 310.9h.75v.75h-.75zM173.2 312.8h.75v.75h-.75zM173.3 312.7h.75v.75h-.75zM174.6 312.7h.75v.75h-.75zM173.7 312.8h.75v.75h-.75zM174.9 310.3h.75v.75h-.75zM174.3 311.9h.75v.75h-.75zM172.2 311.2h.75v.75h-.75zM170.2 311.8h.75v.75h-.75zM171.7 312.7h.75v.75h-.75zM170.7 313.6h.75v.75h-.75zM173.0 312.0h.75v.75h-.75zM171.7 311.4h.75v.75h-.75zM171.1 311.7h.75v.75h-.75zM172.6 312.0h.75v.75h-.75zM170.8 311.9h.75v.75h-.75zM171.4 312.4h.75v.75h-.75zM175.0 312.8h.75v.75h-.75zM172.2 310.6h.75v.75h-.75zM170.8 310.5h.75v.75h-.75zM173.5 311.4h.75v.75h-.75z" fill="#000" fill-opacity="0.75"/>
<path d="M197.8 284.6h.75v.75h-.75zM198.1 298.8h.75v.75h-.75zM188.8 286.6h.75v.75h-.75zM187.3 295.1h.75v.75h-.75zM184.7 281.1h.75v.75h-.75zM180.3 279.1h.75v.75h-.75zM202.7 307.0h.75v.75h-.75zM185.1 295.7h.75v.75h-.75zM200.0 281.3h.75v.75h-.75zM193.7 287.4h.75v.75h-.75zM188.7 302.5h.75v.75h-.75zM174.1 291.7h.75v.75h-.75zM201.0 284.9h.75v.75h-.75zM198.8 295.1h.75v.75h-.75zM198.8 291.9h.75v.75h-.75zM205.3 274.8h.75v.75h-.75zM214.7 304.9h.75v.75h-.75zM208.8 296.1h.75v.75h-.75zM180.1 288.2h.75v.75h-.75zM187.3 284.9h.75v.75h-.75zM208.6 283.4h.75v.75h-.75zM195.4 275.6h.75v.75h-.75zM195.1 289.6h.75v.75h-.75zM188.5 284.0h.75v.75h-.75zM219.6 280.5h.75v.75h-.75zM184.4 283.3h.75v.75h-.75zM211.4 303.7h.75v.75h-.75zM201.0 284.0h.75v.75h-.75zM191.9 296.5h.75v.75h-.75zM186.1 299.2h.75v.75h-.75zM214.0 289.5h.75v.75h-.75zM204.8 294.2h.75v.75h-.75zM215.7 281.6h.75v.75h-.75zM211.2 286.4h.75v.75h-.75zM187.8 289.7h.75v.75h-.75zM194.4 282.1h.75v.75h-.75zM177.8 282.4h.75v.75h-.75zM214.4 302.7h.75v.75h-.75zM204.8 297.3h.75v.75h-.75zM190.8 288.5h.75v.75h-.75zM200.4 281.4h.75v.75h-.75zM185.1 289.7h.75v.75h-.75zM193.2 281.6h.75v.75h-.75zM201.6 287.2h.75v.75h-.75zM209.3 289.0h.75v.75h-.75zM193.4 289.9h.75v.75h-.75zM194.9 284.3h.75v.75h-.75zM192.2 294.2h.75v.75h-.75zM204.8 298.0h.75v.75h-.75zM176.7 286.2h.75v.75h-.75zM192.0 290.2h.75v.75h-.75zM191.6 285.4h.75v.75h-.75zM206.4 290.2h.75v.75h-.75zM183.0 298.3h.75v.75h-.75zM209.0 285.0h.75v.75h-.75zM207.0 283.9h.75v.75h-.75zM210.5 287.5h.75v.75h-.75zM187.4 286.4h.75v.75h-.75zM187.8 290.3h.75v.75h-.75zM199.1 289.3h.75v.75h-.75zM190.3 263.4h.75v.75h-.75zM198.1 275.7h.75v.75h-.75zM199.9 296.9h.75v.75h-.75zM200.3 286.3h.75v.75h-.75zM194.8 288.1h.75v.75h-.75zM190.4 284.9h.75v.75h-.75zM185.9 297.3h.75v.75h-.75zM196.8 295.7h.75v.75h-.75zM194.0 289.5h.75v.75h-.75zM195.0 292.2h.75v.75h-.75zM206.9 290.7h.75v.75h-.75zM188.9 283.5h.75v.75h-.75zM216.9 287.0h.75v.75h-.75zM193.5 299.3h.75v.75h-.75zM210.1 292.7h.75v.75h-.75zM192.2 305.5h.75v.75h-.75zM201.7 292.8h.75v.75h-.75zM194.9 279.1h.75v.75h-.75zM181.0 291.8h.75v.75h-.75zM201.7 287.3h.75v.75h-.75zM182.9 278.9h.75v.75h-.75zM193.1 278.8h.75v.75h-.75zM207.8 297.1h.75v.75h-.75zM230.9 295.1h.75v.75h-.75zM189.9 282.9h.75v.75h-.75zM155.6 284.8h.75v.75h-.75zM194.9 295.8h.75v.75h-.75zM204.3 293.1h.75v.75h-.75zM199.6 293.6h.75v.75h-.75zM214.4 281.5h.75v.75h-.75zM191.5 279.3h.75v.75h-.75zM216.4 298.1h.75v.75h-.75zM206.0 280.6h.75v.75h-.75zM199.1 287.4h.75v.75h-.75zM198.0 287.7h.75v.75h-.75zM203.2 286.2h.75v.75h-.75zM207.3 290.7h.75v.75h-.75zM193.5 288.2h.75v.75h-.75zM191.7 294.7h.75v.75h-.75zM193.7 291.1h.75v.75h-.75zM192.3 278.6h.75v.75h-.75zM207.9 281.6h.75v.75h-.75zM205.1 291.9h.75v.75h-.75zM177.1 282.4h.75v.75h-.75zM190.8 283.3h.75v.75h-.75zM182.8 294.2h.75v.75h-.75zM194.1 291.7h.75v.75h-.75zM191.8 291.1h.75v.75h-.75zM188.0 288.8h.75v.75h-.75zM204.0 289.3h.75v.75h-.75zM191.5 281.4h.75v.75h-.75zM199.0 291.4h.75v.75h-.75zM193.9 283.6h.75v.75h-.75zM203.5 306.4h.75v.75h-.75zM193.4 291.4h.75v.75h-.75zM201.5 271.0h.75v.75h-.75zM198.5 284.1h.75v.75h-.75zM213.6 287.2h.75v.75h-.75zM187.7 287.5h.75v.75h-.75zM199.0 285.1h.75v.75h-.75zM196.4 279.5h.75v.75h-.75zM194.3 294.4h.75v.75h-.75zM220.6 293.9h.75v.75h-.75zM200.3 297.3h.75v.75h-.75zM209.2 300.6h.75v.75h-.75zM210.0 288.2h.75v.75h-.75zM200.1 290.3h.75v.75h-.75zM200.6 290.4h.75v.75h-.75zM187.6 274.3h.75v.75h-.75zM188.9 274.8h.75v.75h-.75zM197.8 289.0h.75v.75h-.75zM176.9 293.8h.75v.75h-.75zM207.4 289.7h.75v.75h-.75zM217.0 302.1h.75v.75h-.75zM182.5 296.3h.75v.75h-.75zM202.3 291.9h.75v.75h-.75zM208.2 284.0h.75v.75h-.75zM189.9 283.2h.75v.75h-.75zM187.9 288.3h.75v.75h-.75zM179.6 281.7h.75v.75h-.75zM203.9 288.5h.75v.75h-.75zM201.6 275.8h.75v.75h-.75zM187.6 285.1h.75v.75h-.75zM197.4 284.9h.75v.75h-.75zM208.2 288.6h.75v.75h-.75zM197.2 289.1h.75v.75h-.75zM205.5 285.7h.75v.75h-.75zM210.5 292.2h.75v.75h-.75zM198.8 289.3h.75v.75h-.75zM203.2 296.1h.75v.75h-.75zM208.3 291.6h.75v.75h-.75zM207.5 289.8h.75v.75h-.75zM212.0 288.8h.75v.75h-.75zM172.1 298.4h.75v.75h-.75zM198.3 280.8h.75v.75h-.75zM194.6 282.8h.75v.75h-.75zM222.2 292.5h.75v.75h-.75zM178.2 292.8h.75v.75h-.75zM192.2 302.4h.75v.75h-.75zM184.4 273.3h.75v.75h-.75zM197.8 286.6h.75v.75h-.75zM192.0 274.0h.75v.75h-.75zM202.1 300.7h.75v.75h-.75zM174.1 297.2h.75v.75h-.75zM190.2 305.4h.75v.75h-.75zM202.2 287.7h.75v.75h-.75zM210.3 292.7h.75v.75h-.75zM189.9 294.0h.75v.75h-.75zM190.9 276.5h.75v.75h-.75zM221.4 286.6h.75v.75h-.75zM189.7 291.4h.75v.75h-.75zM178.3 279.5h.75v.75h-.75zM191.0 285.4h.75v.75h-.75zM197.9 296.9h.75v.75h-.75zM191.3 292.4h.75v.75h-.75zM204.2 281.4h.75v.75h-.75zM199.7 282.4h.75v.75h-.75zM209.8 292.2h.75v.75h-.75zM197.2 279.6h.75v.75h-.75zM198.4 283.6h.75v.75h-.75zM205.5 288.2h.75v.75h-.75zM187.3 295.5h.75v.75h-.75zM205.7 284.8h.75v.75h-.75zM210.9 286.9h.75v.75h-.75zM193.3 289.9h.75v.75h-.75zM188.0 285.9h.75v.75h-.75zM195.1 299.7h.75v.75h-.75zM215.0 287.2h.75v.75h-.75zM216.3 288.7h.75v.75h-.75zM201.6 295.2h.75v.75h-.75zM200.5 305.9h.75v.75h-.75zM199.9 280.6h.75v.75h-.75zM212.7 286.1h.75v.75h-.75zM193.3 268.1h.75v.75h-.75zM209.0 294.7h.75v.75h-.75zM206.6 295.8h.75v.75h-.75zM217.3 288.7h.75v.75h-.75zM208.3 283.8h.75v.75h-.75zM192.8 296.4h.75v.75h-.75zM201.7 279.7h.75v.75h-.75zM201.3 287.7h.75v.75h-.75zM187.2 292.0h.75v.75h-.75zM192.1 278.0h.75v.75h-.75zM183.7 301.4h.75v.75h-.75zM178.8 290.6h.75v.75h-.75zM204.3 293.5h.75v.75h-.75zM182.3 286.7h.75v.75h-.75zM198.7 294.6h.75v.75h-.75zM189.3 280.9h.75v.75h-.75zM209.0 296.7h.75v.75h-.75zM201.4 284.7h.75v.75h-.75zM201.9 289.8h.75v.75h-.75zM207.1 280.3h.75v.75h-.75zM198.4 287.9h.75v.75h-.75zM183.7 290.5h.75v.75h-.75zM197.4 286.1h.75v.75h-.75zM201.8 279.1h.75v.75h-.75zM196.4 292.0h.75v.75h-.75zM200.4 296.5h.75v.75h-.75zM182.6 278.4h.75v.75h-.75zM199.9 292.2h.75v.75h-.75zM222.4 293.3h.75v.75h-.75zM186.5 294.6h.75v.75h-.75zM186.9 278.6h.75v.75h-.75zM228.3 291.3h.75v.75h-.75zM205.6 292.9h.75v.75h-.75zM218.7 291.0h.75v.75h-.75zM211.6 281.8h.75v.75h-.75zM180.3 299.0h.75v.75h-.75zM214.7 292.6h.75v.75h-.75zM199.7 290.2h.75v.75h-.75zM188.7 299.8h.75v.75h-.75zM204.9 292.5h.75v.75h-.75zM201.5 296.3h.75v.75h-.75zM203.1 294.2h.75v.75h-.75zM183.0 292.6h.75v.75h-.75zM223.2 285.4h.75v.75h-.75zM195.5 295.2h.75v.75h-.75zM208.5 293.4h.75v.75h-.75zM177.6 292.5h.75v.75h-.75zM182.8 283.2h.75v.75h-.75zM203.6 286.9h.75v.75h-.75zM206.7 311.0h.75v.75h-.75zM206.3 294.1h.75v.75h-.75zM186.3 284.5h.75v.75h-.75zM184.2 285.3h.75v.75h-.75zM183.9 284.4h.75v.75h-.75zM194.5 282.0h.75v.75h-.75zM180.0 279.5h.75v.75h-.75zM202.4 289.4h.75v.75h-.75zM209.3 296.3h.75v.75h-.75zM192.9 293.7h.75v.75h-.75zM179.7 305.0h.75v.75h-.75zM211.3 287.5h.75v.75h-.75zM183.0 291.7h.75v.75h-.75zM174.6 283.5h.75v.75h-.75zM206.0 289.5h.75v.75h-.75zM191.1 295.7h.75v.75h-.75zM184.5 291.0h.75v.75h-.75zM191.0 283.1h.75v.75h-.75zM210.0 287.0h.75v.75h-.75zM219.4 288.7h.75v.75h-.75zM219.9 286.6h.75v.75h-.75zM210.9 286.2h.75v.75h-.75zM198.3 291.6h.75v.75h-.75zM211.4 285.9h.75v.75h-.75zM214.7 287.8h.75v.75h-.75zM207.9 292.5h.75v.75h-.75zM210.9 283.8h.75v.75h-.75zM217.5 293.2h.75v.75h-.75zM204.2 286.9h.75v.75h-.75zM196.0 285.6h.75v.75h-.75zM210.5 289.6h.75v.75h-.75zM199.6 288.9h.75v.75h-.75zM217.2 289.7h.75v.75h-.75zM203.2 296.4h.75v.75h-.75zM210.0 291.2h.75v.75h-.75zM203.0 284.8h.75v.75h-.75zM199.4 289.1h.75v.75h-.75zM205.6 292.4h.75v.75h-.75zM210.6 291.9h.75v.75h-.75zM208.4 287.0h.75v.75h-.75zM193.0 288.9h.75v.75h-.75zM200.8 288.4h.75v.75h-.75zM205.2 286.0h.75v.75h-.75zM199.8 290.6h.75v.75h-.75zM207.8 288.4h.75v.75h-.75zM210.2 290.1h.75v.75h-.75zM200.4 291.2h.75v.75h-.75zM219.2 288.3h.75v.75h-.75zM214.6 296.5h.75v.75h-.75zM216.7 287.7h.75v.75h-.75zM220.1 291.5h.75v.75h-.75zM205.4 290.1h.75v.75h-.75zM210.9 291.2h.75v.75h-.75zM205.9 296.1h.75v.75h-.75zM202.3 286.8h.75v.75h-.75zM212.2 293.8h.75v.75h-.75zM214.1 286.7h.75v.75h-.75zM214.0 292.9h.75v.75h-.75zM218.5 286.0h.75v.75h-.75zM208.4 289.9h.75v.75h-.75zM196.7 288.1h.75v.75h-.75zM214.3 289.1h.75v.75h-.75zM202.3 294.5h.75v.75h-.75zM213.4 294.9h.75v.75h-.75zM201.9 290.8h.75v.75h-.75zM213.7 288.4h.75v.75h-.75zM202.1 294.3h.75v.75h-.75zM217.2 286.4h.75v.75h-.75zM190.1 285.2h.75v.75h-.75zM200.4 290.4h.75v.75h-.75zM211.0 290.4h.75v.75h-.75zM202.4 291.6h.75v.75h-.75zM200.7 290.8h.75v.75h-.75zM202.8 301.7h.75v.75h-.75zM212.3 287.7h.75v.75h-.75zM200.5 289.2h.75v.75h-.75zM196.3 288.1h.75v.75h-.75zM202.2 294.5h.75v.75h-.75zM204.2 287.8h.75v.75h-.75zM198.3 286.3h.75v.75h-.75zM206.6 290.1h.75v.75h-.75zM214.4 288.5h.75v.75h-.75zM213.9 292.0h.75v.75h-.75zM207.0 283.0h.75v.75h-.75zM198.6 294.0h.75v.75h-.75zM216.1 291.8h.75v.75h-.75zM212.0 289.4h.75v.75h-.75zM204.6 288.3h.75v.75h-.75zM213.3 292.4h.75v.75h-.75zM205.5 289.7h.75v.75h-.75zM210.6 292.3h.75v.75h-.75zM201.6 297.9h.75v.75h-.75zM208.7 291.0h.75v.75h-.75zM216.6 295.1h.75v.75h-.75zM206.4 293.1h.75v.75h-.75zM200.0 288.4h.75v.75h-.75zM192.3 295.9h.75v.75h-.75zM194.7 293.7h.75v.75h-.75zM201.6 287.1h.75v.75h-.75zM205.7 292.1h.75v.75h-.75zM211.0 298.1h.75v.75h-.75zM209.3 294.5h.75v.75h-.75zM203.1 293.9h.75v.75h-.75zM208.0 289.1h.75v.75h-.75zM206.4 290.8h.75v.75h-.75zM208.2 292.6h.75v.75h-.75zM203.7 288.0h.75v.75h-.75zM211.9 284.2h.75v.75h-.75zM203.0 297.2h.75v.75h-.75zM189.4 288.2h.75v.75h-.75zM211.5 284.4h.75v.75h-.75zM223.9 280.6h.75v.75h-.75zM216.3 297.2h.75v.75h-.75zM213.0 290.1h.75v.75h-.75zM209.3 287.4h.75v.75h-.75zM212.3 286.5h.75v.75h-.75zM205.2 295.0h.75v.75h-.75zM199.8 289.5h.75v.75h-.75zM208.1 285.6h.75v.75h-.75zM214.6 292.4h.75v.75h-.75zM197.1 290.8h.75v.75h-.75zM202.0 288.4h.75v.75h-.75zM207.5 288.2h.75v.75h-.75zM213.3 288.2h.75v.75h-.75zM213.4 290.8h.75v.75h-.75zM212.6 288.8h.75v.75h-.75zM203.7 286.4h.75v.75h-.75zM210.8 294.8h.75v.75h-.75zM212.0 313.6h.75v.75h-.75zM197.0 309.4h.75v.75h-.75zM198.1 309.9h.75v.75h-.75zM206.7 312.6h.75v.75h-.75zM188.3 308.1h.75v.75h-.75zM205.9 310.9h.75v.75h-.75zM193.1 313.3h.75v.75h-.75zM191.9 309.2h.75v.75h-.75zM191.3 304.5h.75v.75h-.75zM201.9 306.6h.75v.75h-.75zM190.5 307.9h.75v.75h-.75zM200.8 309.8h.75v.75h-.75zM195.1 305.3h.75v.75h-.75zM194.3 305.9h.75v.75h-.75zM197.5 311.0h.75v.75h-.75zM194.9 315.7h.75v.75h-.75zM199.2 311.7h.75v.75h-.75zM196.1 309.5h.75v.75h-.75zM202.7 313.1h.75v.75h-.75zM184.6 313.0h.75v.75h-.75zM199.1 312.7h.75v.75h-.75zM198.7 306.5h.75v.75h-.75zM185.6 315.1h.75v.75h-.75zM197.0 306.0h.75v.75h-.75zM197.8 309.0h.75v.75h-.75zM180.3 303.6h.75v.75h-.75zM182.2 310.8h.75v.75h-.75zM194.6 309.3h.75v.75h-.75zM197.3 311.7h.75v.75h-.75zM178.2 309.2h.75v.75h-.75zM188.4 306.5h.75v.75h-.75zM190.6 309.7h.75v.75h-.75zM192.9 305.9h.75v.75h-.75zM191.1 315.6h.75v.75h-.75zM186.6 305.3h.75v.75h-.75zM197.2 311.7h.75v.75h-.75zM198.7 306.9h.75v.75h-.75zM203.0 307.8h.75v.75h-.75zM185.9 308.3h.75v.75h-.75zM194.1 312.0h.75v.75h-.75zM200.0 309.9h.75v.75h-.75zM202.5 310.2h.75v.75h-.75zM202.2 306.1h.75v.75h-.75zM182.4 312.2h.75v.75h-.75zM183.9 309.2h.75v.75h-.75zM194.2 308.6h.75v.75h-.75zM191.4 313.9h.75v.75h-.75zM174.8 312.5h.75v.75h-.75zM213.4 310.1h.75v.75h-.75zM194.8 312.0h.75v.75h-.75zM209.6 306.7h.75v.75h-.75zM195.7 309.5h.75v.75h-.75zM199.5 310.4h.75v.75h-.75zM200.3 308.8h.75v.75h-.75zM195.4 308.1h.75v.75h-.75zM171.7 296.2h.75v.75h-.75zM174.3 290.0h.75v.75h-.75zM182.9 296.2h.75v.75h-.75zM168.1 303.6h.75v.75h-.75zM171.3 300.0h.75v.75h-.75zM174.9 298.5h.75v.75h-.75zM175.9 293.5h.75v.75h-.75zM175.2 309.2h.75v.75h-.75zM163.8 297.4h.75v.75h-.75zM177.2 290.7h.75v.75h-.75zM168.1 310.0h.75v.75h-.75zM173.1 309.5h.75v.75h-.75zM177.7 297.5h.75v.75h-.75zM177.4 300.8h.75v.75h-.75zM180.9 299.6h.75v.75h-.75zM175.7 298.1h.75v.75h-.75zM181.8 301.9h.75v.75h-.75zM170.0 293.2h.75v.75h-.75zM176.7 293.3h.75v.75h-.75zM173.1 291.3h.75v.75h-.75zM173.7 299.5h.75v.75h-.75zM180.0 297.1h.75v.75h-.75zM185.4 296.5h.75v.75h-.75zM191.0 303.0h.75v.75h-.75zM177.5 294.0h.75v.75h-.75zM160.9 296.1h.75v.75h-.75zM175.9 308.5h.75v.75h-.75zM168.1 308.4h.75v.75h-.75zM173.7 301.3h.75v.75h-.75zM162.3 297.8h.75v.75h-.75zM173.3 301.1h.75v.75h-.75zM175.5 290.1h.75v.75h-.75zM179.7 301.2h.75v.75h-.75zM178.0 303.1h.75v.75h-.75zM180.5 296.9h.75v.75h-.75z" fill="#000" fill-opacity="0.42"/>
<path d="M161.1 272.3h.75v.75h-.75zM228.7 314.2h.75v.75h-.75zM197.6 291.3h.75v.75h-.75zM195.8 300.5h.75v.75h-.75zM186.6 286.0h.75v.75h-.75zM179.9 274.0h.75v.75h-.75zM176.9 314.4h.75v.75h-.75zM214.0 295.6h.75v.75h-.75zM196.3 293.9h.75v.75h-.75zM167.3 326.0h.75v.75h-.75zM204.3 349.5h.75v.75h-.75zM176.1 297.2h.75v.75h-.75zM217.1 295.1h.75v.75h-.75zM160.3 281.0h.75v.75h-.75z" fill="#000" fill-opacity="0.4"/>
<rect x="144.2" y="250.6" width="101.5" height="100.8" fill="none" stroke="#333" stroke-width="0.9"/>
<line x1="183" y1="250.6" x2="183" y2="351.4" stroke="#222" stroke-width="0.85" />
<line x1="144.2" y1="304.5" x2="245.7" y2="304.5" stroke="#1a1a1a" stroke-width="0.85" />
<text x="147.8" y="260.4" font-size="8.0" fill="#1a1a1a">9.71</text>
<text x="242.4" y="260.4" font-size="8.0" text-anchor="end" fill="#1a1a1a">48.4</text>
<text x="147.8" y="347.6" font-size="8.0" fill="#1a1a1a">35.1</text>
<text x="242.4" y="347.6" font-size="8.0" text-anchor="end" fill="#1a1a1a">6.76</text>
<path d="M141.7,250.8h2.5 M141.7,268h2.5 M141.7,284.8h2.5 M141.7,304.3h2.5 M142.9,262.82h1.3 M142.9,259.79h1.3 M142.9,257.64h1.3 M142.9,255.98h1.3 M142.9,254.62h1.3 M142.9,253.46h1.3 M142.9,252.47h1.3 M142.9,251.59h1.3 M142.9,279.74h1.3 M142.9,276.78h1.3 M142.9,274.69h1.3 M142.9,273.06h1.3 M142.9,271.73h1.3 M142.9,270.6h1.3 M142.9,269.63h1.3 M142.9,268.77h1.3 M142.9,298.43h1.3 M142.9,295h1.3 M142.9,292.56h1.3 M142.9,290.67h1.3 M142.9,289.13h1.3 M142.9,287.82h1.3 M142.9,286.69h1.3 M142.9,285.69h1.3 M142.9,308.56h1.3 M142.9,312.83h1.3 M142.9,317.09h1.3 M142.9,321.35h1.3 M142.9,325.62h1.3 M142.9,329.88h1.3 M142.9,334.15h1.3 M142.9,338.41h1.3 M142.9,342.67h1.3 M142.9,346.94h1.3 M142.9,351.2h1.3 M141.7,351.2h2.5 M152.2,351.4v1.5 M165.1,351.4v1.5 M179.1,351.4v1.5 M183.6,351.4v1.5 M196.2,351.4v1.5 M204.2,351.4v1.5 M211.7,351.4v1.5 M218.7,351.4v1.5 M223.7,351.4v1.5 M227.2,351.4v1.5 M234.2,351.4v1.5 M241,351.4v1.5 M244.7,351.4v1.5 M172.1,351.4v2.5 M211.7,351.4v2.5 M234.2,351.4v2.5" stroke="#333" stroke-width="0.7" fill="none"/>
<rect x="142" y="324.5" width="1.6" height="6.5" fill="#111"/>
<rect x="170.3" y="351.7" width="3.2" height="1.6" fill="#111"/>
<text x="172.1" y="363.6" font-size="7.4" text-anchor="middle" fill="#1a1a1a">0</text>
<text x="211" y="363.6" font-size="7.4" text-anchor="middle" fill="#1a1a1a">10<tspan font-size="4.8" dy="-3.2">4</tspan></text>
<text x="233.9" y="363.6" font-size="7.4" text-anchor="middle" fill="#1a1a1a">10<tspan font-size="4.8" dy="-3.2">5</tspan></text>
<text x="303.85" y="245.5" font-size="8.8" text-anchor="middle" fill="#1a1a1a">Week 1</text>
<path d="M281.6 312.3h.75v.75h-.75zM281.1 313.7h.75v.75h-.75zM283.9 312.3h.75v.75h-.75zM281.4 311.1h.75v.75h-.75zM282.7 313.5h.75v.75h-.75zM281.5 312.5h.75v.75h-.75zM280.5 308.6h.75v.75h-.75zM278.7 313.2h.75v.75h-.75zM282.5 314.9h.75v.75h-.75zM281.4 313.4h.75v.75h-.75zM284.7 313.7h.75v.75h-.75zM279.7 311.2h.75v.75h-.75zM281.6 309.5h.75v.75h-.75zM282.5 313.8h.75v.75h-.75zM280.0 315.7h.75v.75h-.75zM280.5 311.2h.75v.75h-.75zM280.7 310.1h.75v.75h-.75zM282.4 311.6h.75v.75h-.75zM285.6 312.9h.75v.75h-.75zM282.7 311.1h.75v.75h-.75zM277.6 311.4h.75v.75h-.75zM279.1 313.6h.75v.75h-.75zM281.2 315.1h.75v.75h-.75zM283.2 313.4h.75v.75h-.75zM281.9 312.0h.75v.75h-.75zM283.0 313.5h.75v.75h-.75zM279.5 312.6h.75v.75h-.75zM288.1 311.4h.75v.75h-.75zM280.6 310.1h.75v.75h-.75zM277.5 314.1h.75v.75h-.75zM281.5 312.2h.75v.75h-.75zM286.1 316.9h.75v.75h-.75zM279.0 313.8h.75v.75h-.75zM282.9 312.4h.75v.75h-.75zM282.5 311.6h.75v.75h-.75zM285.4 312.9h.75v.75h-.75zM282.2 314.2h.75v.75h-.75zM283.6 312.6h.75v.75h-.75zM282.2 315.3h.75v.75h-.75zM282.6 311.4h.75v.75h-.75zM279.1 310.9h.75v.75h-.75zM278.6 311.8h.75v.75h-.75zM282.0 307.3h.75v.75h-.75zM281.4 313.0h.75v.75h-.75zM281.7 309.6h.75v.75h-.75zM284.6 310.1h.75v.75h-.75zM278.1 309.3h.75v.75h-.75zM281.3 313.7h.75v.75h-.75zM284.3 312.0h.75v.75h-.75zM278.2 310.2h.75v.75h-.75zM279.0 311.2h.75v.75h-.75zM276.7 311.8h.75v.75h-.75zM283.0 311.3h.75v.75h-.75zM282.5 309.6h.75v.75h-.75zM277.5 310.3h.75v.75h-.75zM284.3 313.8h.75v.75h-.75zM280.1 314.1h.75v.75h-.75zM280.5 314.8h.75v.75h-.75zM282.6 310.7h.75v.75h-.75zM283.4 310.0h.75v.75h-.75zM278.9 308.6h.75v.75h-.75zM282.0 311.5h.75v.75h-.75zM281.1 310.7h.75v.75h-.75zM285.0 310.7h.75v.75h-.75zM279.4 314.2h.75v.75h-.75zM285.0 312.3h.75v.75h-.75zM276.8 310.3h.75v.75h-.75zM282.9 311.6h.75v.75h-.75zM285.3 308.7h.75v.75h-.75zM283.1 310.3h.75v.75h-.75zM284.7 311.4h.75v.75h-.75zM284.0 310.2h.75v.75h-.75zM277.6 309.3h.75v.75h-.75zM279.7 309.4h.75v.75h-.75zM284.4 314.4h.75v.75h-.75zM282.0 309.4h.75v.75h-.75zM281.0 310.2h.75v.75h-.75zM285.1 312.3h.75v.75h-.75zM282.6 310.8h.75v.75h-.75zM276.1 310.0h.75v.75h-.75zM278.4 312.4h.75v.75h-.75zM281.6 309.9h.75v.75h-.75zM280.3 314.9h.75v.75h-.75zM278.8 309.7h.75v.75h-.75zM280.7 310.1h.75v.75h-.75zM280.2 312.7h.75v.75h-.75zM285.8 307.9h.75v.75h-.75zM281.3 311.7h.75v.75h-.75zM281.1 311.2h.75v.75h-.75zM280.4 313.7h.75v.75h-.75zM280.1 311.3h.75v.75h-.75zM281.3 311.8h.75v.75h-.75zM280.9 313.7h.75v.75h-.75zM281.3 312.0h.75v.75h-.75zM281.2 309.5h.75v.75h-.75zM279.1 309.4h.75v.75h-.75zM281.8 310.1h.75v.75h-.75zM278.5 312.1h.75v.75h-.75zM282.7 307.9h.75v.75h-.75zM285.7 311.7h.75v.75h-.75zM281.0 313.8h.75v.75h-.75zM281.5 310.3h.75v.75h-.75zM287.0 309.3h.75v.75h-.75zM281.0 313.4h.75v.75h-.75zM278.5 311.4h.75v.75h-.75zM282.3 316.6h.75v.75h-.75zM279.0 311.5h.75v.75h-.75zM283.0 311.8h.75v.75h-.75zM278.2 312.5h.75v.75h-.75zM281.6 312.5h.75v.75h-.75zM284.2 313.7h.75v.75h-.75zM282.4 312.3h.75v.75h-.75zM278.4 311.3h.75v.75h-.75zM281.9 310.8h.75v.75h-.75zM281.6 309.9h.75v.75h-.75zM285.3 316.1h.75v.75h-.75zM280.3 312.4h.75v.75h-.75zM280.7 314.3h.75v.75h-.75zM282.4 311.8h.75v.75h-.75zM280.7 311.9h.75v.75h-.75zM278.7 313.0h.75v.75h-.75zM279.4 312.7h.75v.75h-.75zM281.6 313.9h.75v.75h-.75zM281.3 313.7h.75v.75h-.75zM278.9 312.9h.75v.75h-.75zM280.7 312.0h.75v.75h-.75zM281.5 313.6h.75v.75h-.75zM276.0 312.3h.75v.75h-.75zM277.4 314.1h.75v.75h-.75zM276.2 309.5h.75v.75h-.75zM276.9 315.0h.75v.75h-.75zM277.9 311.8h.75v.75h-.75zM279.9 307.8h.75v.75h-.75zM280.4 313.0h.75v.75h-.75zM280.8 313.6h.75v.75h-.75zM280.4 311.6h.75v.75h-.75zM280.3 312.3h.75v.75h-.75zM286.2 312.4h.75v.75h-.75zM281.8 310.3h.75v.75h-.75zM279.3 314.7h.75v.75h-.75zM278.4 309.7h.75v.75h-.75zM281.0 310.7h.75v.75h-.75zM286.4 306.6h.75v.75h-.75zM282.2 313.1h.75v.75h-.75zM278.4 310.2h.75v.75h-.75zM282.4 315.0h.75v.75h-.75zM278.9 308.3h.75v.75h-.75zM283.8 314.8h.75v.75h-.75zM280.4 307.0h.75v.75h-.75zM285.1 311.2h.75v.75h-.75zM284.2 311.5h.75v.75h-.75zM280.3 310.7h.75v.75h-.75zM285.1 314.6h.75v.75h-.75zM275.7 309.6h.75v.75h-.75zM285.9 310.8h.75v.75h-.75zM277.8 311.6h.75v.75h-.75zM281.0 311.4h.75v.75h-.75zM280.1 310.9h.75v.75h-.75zM280.1 312.3h.75v.75h-.75zM279.2 311.0h.75v.75h-.75zM280.9 314.3h.75v.75h-.75zM282.3 311.4h.75v.75h-.75zM282.7 312.5h.75v.75h-.75zM284.1 312.7h.75v.75h-.75zM286.0 314.4h.75v.75h-.75zM281.2 310.7h.75v.75h-.75zM283.6 312.7h.75v.75h-.75zM281.1 308.5h.75v.75h-.75zM276.5 312.3h.75v.75h-.75zM283.3 313.3h.75v.75h-.75z" fill="#000" fill-opacity="0.45"/>
<path d="M279.6 312.7h.75v.75h-.75zM280.4 312.1h.75v.75h-.75zM281.5 311.1h.75v.75h-.75zM280.3 309.9h.75v.75h-.75zM280.0 310.2h.75v.75h-.75zM281.5 311.9h.75v.75h-.75zM282.0 312.1h.75v.75h-.75zM280.3 312.1h.75v.75h-.75zM280.6 312.3h.75v.75h-.75zM281.3 310.9h.75v.75h-.75zM281.0 311.8h.75v.75h-.75zM280.7 312.6h.75v.75h-.75zM282.9 311.5h.75v.75h-.75zM280.6 309.8h.75v.75h-.75zM280.9 311.4h.75v.75h-.75zM278.6 312.1h.75v.75h-.75zM281.7 311.1h.75v.75h-.75zM280.6 310.9h.75v.75h-.75zM281.8 310.4h.75v.75h-.75zM280.7 313.6h.75v.75h-.75zM281.1 312.2h.75v.75h-.75zM280.8 310.7h.75v.75h-.75zM281.0 312.2h.75v.75h-.75zM279.9 312.1h.75v.75h-.75zM282.4 312.8h.75v.75h-.75zM279.3 310.9h.75v.75h-.75zM279.2 312.8h.75v.75h-.75zM281.7 312.4h.75v.75h-.75zM280.0 310.8h.75v.75h-.75zM281.1 311.9h.75v.75h-.75zM280.1 311.9h.75v.75h-.75zM281.7 312.0h.75v.75h-.75zM279.9 309.9h.75v.75h-.75zM280.7 311.9h.75v.75h-.75zM280.7 311.4h.75v.75h-.75zM280.2 312.4h.75v.75h-.75zM280.9 311.9h.75v.75h-.75zM279.9 311.2h.75v.75h-.75zM281.2 310.9h.75v.75h-.75zM279.6 311.5h.75v.75h-.75zM282.3 312.0h.75v.75h-.75zM282.6 311.7h.75v.75h-.75zM280.7 310.5h.75v.75h-.75zM280.4 313.1h.75v.75h-.75zM281.4 312.5h.75v.75h-.75zM281.8 311.8h.75v.75h-.75zM280.8 311.9h.75v.75h-.75zM281.7 312.2h.75v.75h-.75zM281.5 311.9h.75v.75h-.75zM280.2 311.6h.75v.75h-.75zM280.0 312.7h.75v.75h-.75zM278.7 311.6h.75v.75h-.75zM283.6 311.5h.75v.75h-.75zM279.8 311.8h.75v.75h-.75zM282.4 311.7h.75v.75h-.75zM281.7 311.9h.75v.75h-.75zM280.6 314.6h.75v.75h-.75zM281.1 311.3h.75v.75h-.75zM280.5 312.1h.75v.75h-.75zM281.5 312.5h.75v.75h-.75z" fill="#000" fill-opacity="0.7"/>
<path d="M313.1 300.3h.75v.75h-.75zM317.0 302.4h.75v.75h-.75zM309.0 300.5h.75v.75h-.75zM306.4 302.3h.75v.75h-.75zM311.4 300.3h.75v.75h-.75zM312.5 303.7h.75v.75h-.75zM301.3 303.0h.75v.75h-.75zM304.0 306.1h.75v.75h-.75zM288.0 304.7h.75v.75h-.75zM296.2 303.8h.75v.75h-.75zM319.9 301.5h.75v.75h-.75zM313.2 301.5h.75v.75h-.75zM330.5 304.0h.75v.75h-.75zM322.4 299.7h.75v.75h-.75zM301.8 306.7h.75v.75h-.75zM310.1 303.1h.75v.75h-.75zM314.9 300.5h.75v.75h-.75zM319.3 303.0h.75v.75h-.75zM316.4 301.7h.75v.75h-.75zM316.7 301.6h.75v.75h-.75zM321.2 305.3h.75v.75h-.75zM320.7 303.9h.75v.75h-.75zM317.5 297.1h.75v.75h-.75zM319.9 302.3h.75v.75h-.75zM312.8 302.8h.75v.75h-.75zM298.7 303.4h.75v.75h-.75zM318.5 306.1h.75v.75h-.75zM305.9 302.0h.75v.75h-.75zM325.6 300.5h.75v.75h-.75zM331.6 302.0h.75v.75h-.75zM303.8 306.3h.75v.75h-.75zM327.8 299.1h.75v.75h-.75zM326.7 301.7h.75v.75h-.75zM326.0 301.5h.75v.75h-.75zM297.2 305.8h.75v.75h-.75zM321.1 307.4h.75v.75h-.75zM328.4 303.7h.75v.75h-.75zM309.7 302.5h.75v.75h-.75zM309.1 301.9h.75v.75h-.75zM309.0 298.1h.75v.75h-.75zM313.7 303.3h.75v.75h-.75zM336.4 303.2h.75v.75h-.75zM307.6 305.1h.75v.75h-.75zM300.3 303.1h.75v.75h-.75zM294.6 308.1h.75v.75h-.75zM317.4 300.5h.75v.75h-.75zM311.6 305.6h.75v.75h-.75zM316.8 304.0h.75v.75h-.75zM303.8 302.8h.75v.75h-.75zM313.1 305.4h.75v.75h-.75zM304.0 301.7h.75v.75h-.75zM322.7 300.6h.75v.75h-.75zM322.2 303.2h.75v.75h-.75zM320.6 306.7h.75v.75h-.75zM318.7 304.7h.75v.75h-.75zM303.2 302.7h.75v.75h-.75zM318.4 306.4h.75v.75h-.75zM325.6 307.5h.75v.75h-.75zM315.0 303.7h.75v.75h-.75zM321.5 302.8h.75v.75h-.75zM311.2 301.3h.75v.75h-.75zM321.2 300.4h.75v.75h-.75zM316.6 300.0h.75v.75h-.75zM322.2 300.4h.75v.75h-.75zM319.7 299.4h.75v.75h-.75zM308.0 306.4h.75v.75h-.75zM304.4 304.3h.75v.75h-.75zM307.1 298.8h.75v.75h-.75zM315.0 304.2h.75v.75h-.75zM301.6 305.6h.75v.75h-.75zM304.3 301.9h.75v.75h-.75zM311.9 302.0h.75v.75h-.75zM333.4 298.3h.75v.75h-.75zM319.2 305.1h.75v.75h-.75zM293.0 301.2h.75v.75h-.75zM317.2 302.0h.75v.75h-.75zM315.8 305.7h.75v.75h-.75zM308.3 301.4h.75v.75h-.75zM286.2 306.0h.75v.75h-.75zM303.3 304.9h.75v.75h-.75zM313.9 300.3h.75v.75h-.75zM328.5 304.6h.75v.75h-.75zM319.8 300.3h.75v.75h-.75zM308.0 302.6h.75v.75h-.75zM307.9 301.3h.75v.75h-.75zM316.2 303.7h.75v.75h-.75zM315.4 302.1h.75v.75h-.75zM324.3 302.9h.75v.75h-.75zM286.0 304.2h.75v.75h-.75zM311.6 305.7h.75v.75h-.75zM309.1 303.2h.75v.75h-.75zM305.8 305.5h.75v.75h-.75zM307.7 302.5h.75v.75h-.75zM305.1 305.3h.75v.75h-.75zM306.7 300.2h.75v.75h-.75zM317.8 301.5h.75v.75h-.75zM315.4 304.0h.75v.75h-.75zM323.6 304.9h.75v.75h-.75zM306.5 303.6h.75v.75h-.75zM300.1 308.2h.75v.75h-.75zM316.4 306.2h.75v.75h-.75zM308.6 299.2h.75v.75h-.75zM326.5 302.5h.75v.75h-.75zM313.3 303.5h.75v.75h-.75zM318.2 304.2h.75v.75h-.75zM297.1 307.1h.75v.75h-.75zM306.9 302.9h.75v.75h-.75zM328.5 304.2h.75v.75h-.75zM308.5 299.7h.75v.75h-.75zM313.6 304.6h.75v.75h-.75zM311.0 300.8h.75v.75h-.75zM304.3 301.3h.75v.75h-.75zM314.2 305.1h.75v.75h-.75zM321.6 301.1h.75v.75h-.75zM314.3 304.5h.75v.75h-.75zM307.1 303.6h.75v.75h-.75zM332.1 302.3h.75v.75h-.75zM320.3 301.9h.75v.75h-.75zM312.1 299.7h.75v.75h-.75zM312.0 306.1h.75v.75h-.75zM332.1 304.5h.75v.75h-.75zM318.5 303.1h.75v.75h-.75zM306.3 303.6h.75v.75h-.75zM317.7 301.3h.75v.75h-.75zM320.7 300.6h.75v.75h-.75zM295.0 302.6h.75v.75h-.75zM296.0 301.8h.75v.75h-.75zM322.7 302.2h.75v.75h-.75zM314.3 305.9h.75v.75h-.75zM323.8 301.4h.75v.75h-.75zM324.6 303.3h.75v.75h-.75zM312.1 304.5h.75v.75h-.75zM298.4 302.9h.75v.75h-.75zM311.1 304.9h.75v.75h-.75zM308.5 303.5h.75v.75h-.75zM321.4 305.9h.75v.75h-.75zM319.5 305.7h.75v.75h-.75zM308.1 303.1h.75v.75h-.75zM315.0 302.6h.75v.75h-.75zM307.5 307.5h.75v.75h-.75zM309.9 301.5h.75v.75h-.75zM316.9 307.2h.75v.75h-.75zM313.0 306.1h.75v.75h-.75zM307.8 302.8h.75v.75h-.75zM305.4 303.7h.75v.75h-.75zM329.2 299.6h.75v.75h-.75zM327.3 300.0h.75v.75h-.75zM309.9 305.5h.75v.75h-.75zM318.0 303.6h.75v.75h-.75zM296.4 305.5h.75v.75h-.75zM302.8 309.9h.75v.75h-.75zM310.0 304.1h.75v.75h-.75zM301.1 303.3h.75v.75h-.75zM299.9 306.6h.75v.75h-.75zM309.6 304.9h.75v.75h-.75zM305.4 302.9h.75v.75h-.75zM324.0 300.4h.75v.75h-.75zM295.0 305.8h.75v.75h-.75zM301.1 303.4h.75v.75h-.75zM320.5 301.0h.75v.75h-.75zM320.2 301.3h.75v.75h-.75zM326.3 305.3h.75v.75h-.75zM307.5 303.4h.75v.75h-.75zM304.2 304.6h.75v.75h-.75zM322.6 299.5h.75v.75h-.75zM320.5 299.9h.75v.75h-.75zM303.5 300.2h.75v.75h-.75zM331.9 302.0h.75v.75h-.75zM314.2 301.8h.75v.75h-.75zM321.7 298.1h.75v.75h-.75zM312.6 308.3h.75v.75h-.75zM308.4 303.8h.75v.75h-.75zM318.2 301.2h.75v.75h-.75zM312.4 305.6h.75v.75h-.75zM313.9 304.2h.75v.75h-.75zM308.7 304.5h.75v.75h-.75zM312.8 306.6h.75v.75h-.75zM318.8 302.4h.75v.75h-.75zM289.0 306.9h.75v.75h-.75zM319.0 300.9h.75v.75h-.75zM292.9 302.5h.75v.75h-.75zM320.6 300.5h.75v.75h-.75zM307.7 304.3h.75v.75h-.75zM323.6 302.5h.75v.75h-.75zM311.0 302.4h.75v.75h-.75zM327.6 304.6h.75v.75h-.75zM310.9 300.5h.75v.75h-.75zM304.6 305.4h.75v.75h-.75zM305.3 306.0h.75v.75h-.75zM315.5 303.9h.75v.75h-.75zM318.3 304.1h.75v.75h-.75zM303.8 303.4h.75v.75h-.75zM333.9 299.1h.75v.75h-.75zM307.7 306.2h.75v.75h-.75zM310.3 301.8h.75v.75h-.75zM299.6 305.7h.75v.75h-.75zM321.9 305.8h.75v.75h-.75zM312.7 305.8h.75v.75h-.75zM302.2 304.7h.75v.75h-.75zM305.6 304.4h.75v.75h-.75zM319.3 305.3h.75v.75h-.75zM302.8 307.0h.75v.75h-.75zM307.3 301.6h.75v.75h-.75zM310.1 300.4h.75v.75h-.75zM312.1 304.1h.75v.75h-.75zM310.2 304.8h.75v.75h-.75zM309.0 303.7h.75v.75h-.75zM298.4 304.7h.75v.75h-.75zM303.9 303.2h.75v.75h-.75zM311.1 304.0h.75v.75h-.75zM296.1 301.3h.75v.75h-.75zM309.2 304.8h.75v.75h-.75zM315.6 305.2h.75v.75h-.75zM324.4 303.6h.75v.75h-.75zM311.6 301.3h.75v.75h-.75zM303.0 303.2h.75v.75h-.75zM314.6 303.8h.75v.75h-.75zM312.0 303.2h.75v.75h-.75zM318.0 303.5h.75v.75h-.75zM314.9 304.0h.75v.75h-.75zM306.6 301.7h.75v.75h-.75zM316.7 304.0h.75v.75h-.75zM309.8 302.8h.75v.75h-.75zM333.4 300.1h.75v.75h-.75zM310.0 304.2h.75v.75h-.75zM301.1 304.6h.75v.75h-.75zM329.2 304.2h.75v.75h-.75zM318.1 304.3h.75v.75h-.75zM313.2 305.5h.75v.75h-.75zM310.4 302.7h.75v.75h-.75zM313.1 305.4h.75v.75h-.75zM315.2 304.7h.75v.75h-.75zM293.0 307.7h.75v.75h-.75zM334.4 304.7h.75v.75h-.75zM308.8 301.9h.75v.75h-.75zM314.5 301.1h.75v.75h-.75zM318.8 301.8h.75v.75h-.75zM321.3 305.8h.75v.75h-.75zM292.8 305.7h.75v.75h-.75zM305.1 300.9h.75v.75h-.75zM306.1 303.5h.75v.75h-.75zM321.5 299.4h.75v.75h-.75zM322.3 307.1h.75v.75h-.75zM317.8 304.2h.75v.75h-.75zM311.7 300.9h.75v.75h-.75zM317.1 303.9h.75v.75h-.75zM319.4 308.6h.75v.75h-.75zM319.0 303.9h.75v.75h-.75zM326.6 299.4h.75v.75h-.75zM301.1 303.5h.75v.75h-.75zM305.9 305.5h.75v.75h-.75zM309.3 307.6h.75v.75h-.75zM326.5 304.0h.75v.75h-.75zM308.5 305.1h.75v.75h-.75zM319.5 300.5h.75v.75h-.75zM315.4 304.8h.75v.75h-.75zM314.3 306.8h.75v.75h-.75zM323.4 300.8h.75v.75h-.75zM313.0 301.6h.75v.75h-.75zM317.3 301.2h.75v.75h-.75zM320.8 303.7h.75v.75h-.75zM321.2 302.4h.75v.75h-.75zM298.5 308.5h.75v.75h-.75zM310.6 306.7h.75v.75h-.75zM316.2 304.7h.75v.75h-.75zM329.4 302.9h.75v.75h-.75zM325.0 299.2h.75v.75h-.75zM320.2 302.3h.75v.75h-.75zM310.7 303.6h.75v.75h-.75zM315.6 306.9h.75v.75h-.75zM294.5 305.0h.75v.75h-.75zM305.4 306.6h.75v.75h-.75zM308.1 304.8h.75v.75h-.75zM308.4 305.3h.75v.75h-.75zM321.5 301.9h.75v.75h-.75zM312.2 300.3h.75v.75h-.75zM315.0 305.1h.75v.75h-.75zM306.9 306.4h.75v.75h-.75zM292.0 301.0h.75v.75h-.75zM298.8 303.5h.75v.75h-.75zM312.2 303.3h.75v.75h-.75zM311.5 305.1h.75v.75h-.75zM307.3 301.1h.75v.75h-.75zM300.6 309.1h.75v.75h-.75zM289.7 304.9h.75v.75h-.75zM325.9 303.5h.75v.75h-.75zM304.1 304.1h.75v.75h-.75zM320.4 305.5h.75v.75h-.75zM303.6 305.9h.75v.75h-.75zM314.6 305.7h.75v.75h-.75zM325.1 301.7h.75v.75h-.75zM298.3 305.5h.75v.75h-.75zM328.9 303.7h.75v.75h-.75zM314.6 308.6h.75v.75h-.75zM302.3 306.3h.75v.75h-.75zM306.6 304.0h.75v.75h-.75zM313.1 306.8h.75v.75h-.75zM303.0 303.0h.75v.75h-.75zM297.0 305.8h.75v.75h-.75zM307.7 304.8h.75v.75h-.75zM301.8 303.5h.75v.75h-.75zM321.8 302.3h.75v.75h-.75zM318.0 304.2h.75v.75h-.75zM308.4 300.3h.75v.75h-.75zM321.4 303.1h.75v.75h-.75zM321.0 298.3h.75v.75h-.75zM296.0 300.1h.75v.75h-.75zM303.9 306.5h.75v.75h-.75zM317.4 303.0h.75v.75h-.75zM313.4 305.1h.75v.75h-.75zM309.2 304.6h.75v.75h-.75zM312.9 298.6h.75v.75h-.75zM308.6 306.8h.75v.75h-.75zM308.2 303.5h.75v.75h-.75zM306.2 302.9h.75v.75h-.75zM322.6 302.1h.75v.75h-.75zM301.8 297.5h.75v.75h-.75zM306.2 299.6h.75v.75h-.75zM294.9 306.6h.75v.75h-.75zM318.4 298.8h.75v.75h-.75zM320.1 303.9h.75v.75h-.75zM304.7 305.7h.75v.75h-.75zM296.4 302.1h.75v.75h-.75zM298.2 302.2h.75v.75h-.75zM320.1 299.9h.75v.75h-.75zM300.9 302.3h.75v.75h-.75zM313.8 302.6h.75v.75h-.75zM320.0 301.3h.75v.75h-.75zM299.7 303.4h.75v.75h-.75zM312.2 301.4h.75v.75h-.75zM314.9 307.3h.75v.75h-.75zM306.4 304.0h.75v.75h-.75zM324.6 301.0h.75v.75h-.75zM303.7 301.7h.75v.75h-.75zM315.7 304.3h.75v.75h-.75zM310.5 303.7h.75v.75h-.75zM324.1 304.4h.75v.75h-.75zM298.5 304.5h.75v.75h-.75zM312.9 305.0h.75v.75h-.75zM309.5 302.2h.75v.75h-.75zM307.1 299.9h.75v.75h-.75zM311.4 302.2h.75v.75h-.75zM316.0 300.9h.75v.75h-.75zM307.4 301.6h.75v.75h-.75zM301.7 305.8h.75v.75h-.75zM307.4 304.8h.75v.75h-.75zM301.1 304.5h.75v.75h-.75zM295.6 303.7h.75v.75h-.75zM307.0 305.1h.75v.75h-.75zM313.3 302.9h.75v.75h-.75zM319.6 303.2h.75v.75h-.75zM316.8 304.7h.75v.75h-.75zM310.9 302.8h.75v.75h-.75zM314.6 302.3h.75v.75h-.75zM315.4 305.6h.75v.75h-.75zM319.6 302.0h.75v.75h-.75zM299.4 304.3h.75v.75h-.75zM310.6 306.0h.75v.75h-.75zM307.9 303.3h.75v.75h-.75zM318.4 301.8h.75v.75h-.75zM310.3 307.3h.75v.75h-.75zM325.7 303.7h.75v.75h-.75zM313.9 301.1h.75v.75h-.75zM316.8 303.1h.75v.75h-.75zM313.5 302.1h.75v.75h-.75zM311.4 303.0h.75v.75h-.75zM314.8 306.3h.75v.75h-.75zM314.7 299.5h.75v.75h-.75zM302.1 300.7h.75v.75h-.75zM304.1 305.3h.75v.75h-.75zM315.2 301.8h.75v.75h-.75zM313.9 301.6h.75v.75h-.75zM297.9 301.4h.75v.75h-.75zM303.7 307.2h.75v.75h-.75zM299.1 307.2h.75v.75h-.75zM324.0 302.0h.75v.75h-.75zM311.0 302.1h.75v.75h-.75zM311.4 304.9h.75v.75h-.75zM311.8 305.6h.75v.75h-.75zM322.8 303.3h.75v.75h-.75z" fill="#000" fill-opacity="0.55"/>
<path d="M316.0 287.2h.75v.75h-.75zM316.2 279.3h.75v.75h-.75zM316.9 289.2h.75v.75h-.75zM303.0 303.7h.75v.75h-.75zM301.8 281.1h.75v.75h-.75zM315.5 273.1h.75v.75h-.75zM303.7 276.2h.75v.75h-.75zM301.8 286.6h.75v.75h-.75zM315.9 295.9h.75v.75h-.75zM321.3 296.5h.75v.75h-.75zM318.9 284.1h.75v.75h-.75zM324.7 283.9h.75v.75h-.75zM305.7 299.0h.75v.75h-.75zM321.1 289.2h.75v.75h-.75zM320.7 294.2h.75v.75h-.75zM297.4 286.9h.75v.75h-.75zM299.4 288.5h.75v.75h-.75zM305.0 297.8h.75v.75h-.75zM318.1 281.5h.75v.75h-.75zM312.2 278.5h.75v.75h-.75zM312.8 291.7h.75v.75h-.75zM315.3 273.1h.75v.75h-.75zM308.7 291.4h.75v.75h-.75zM315.7 296.3h.75v.75h-.75zM298.3 291.5h.75v.75h-.75zM305.2 289.0h.75v.75h-.75zM316.8 292.7h.75v.75h-.75zM306.0 289.0h.75v.75h-.75zM299.5 277.0h.75v.75h-.75zM318.5 287.2h.75v.75h-.75zM294.6 281.2h.75v.75h-.75zM312.6 299.2h.75v.75h-.75zM323.9 293.6h.75v.75h-.75zM292.7 286.8h.75v.75h-.75zM317.6 290.5h.75v.75h-.75zM316.9 285.8h.75v.75h-.75zM331.7 298.6h.75v.75h-.75zM311.3 280.2h.75v.75h-.75zM334.9 283.4h.75v.75h-.75zM325.5 301.9h.75v.75h-.75zM302.0 289.7h.75v.75h-.75zM308.5 291.4h.75v.75h-.75zM315.9 302.1h.75v.75h-.75zM318.8 287.5h.75v.75h-.75zM324.7 285.5h.75v.75h-.75zM308.3 304.3h.75v.75h-.75zM303.3 283.9h.75v.75h-.75zM312.8 279.6h.75v.75h-.75zM289.2 295.5h.75v.75h-.75zM303.7 283.5h.75v.75h-.75zM308.3 280.2h.75v.75h-.75zM300.5 288.8h.75v.75h-.75zM338.7 293.1h.75v.75h-.75zM320.6 276.3h.75v.75h-.75zM312.1 278.7h.75v.75h-.75zM320.8 285.8h.75v.75h-.75zM312.8 286.9h.75v.75h-.75zM305.9 276.1h.75v.75h-.75zM318.7 277.2h.75v.75h-.75zM299.4 285.3h.75v.75h-.75zM304.6 289.5h.75v.75h-.75zM323.5 289.4h.75v.75h-.75zM314.5 287.7h.75v.75h-.75zM321.8 273.7h.75v.75h-.75zM316.4 280.6h.75v.75h-.75zM298.8 287.6h.75v.75h-.75zM308.1 291.9h.75v.75h-.75zM324.5 270.1h.75v.75h-.75zM311.6 302.2h.75v.75h-.75zM321.9 298.4h.75v.75h-.75zM313.5 276.8h.75v.75h-.75zM300.0 292.9h.75v.75h-.75zM322.9 282.1h.75v.75h-.75zM309.4 289.5h.75v.75h-.75zM293.1 284.9h.75v.75h-.75zM330.2 304.0h.75v.75h-.75zM311.2 301.3h.75v.75h-.75zM306.6 281.5h.75v.75h-.75zM287.7 294.7h.75v.75h-.75zM308.2 305.1h.75v.75h-.75zM316.0 289.0h.75v.75h-.75zM292.5 298.8h.75v.75h-.75zM308.4 286.4h.75v.75h-.75zM288.1 294.5h.75v.75h-.75zM323.2 283.0h.75v.75h-.75zM313.4 290.5h.75v.75h-.75zM323.0 288.4h.75v.75h-.75zM331.3 285.8h.75v.75h-.75zM305.7 284.1h.75v.75h-.75zM284.5 281.5h.75v.75h-.75zM323.5 289.6h.75v.75h-.75zM303.4 290.2h.75v.75h-.75zM290.2 285.4h.75v.75h-.75zM318.2 292.8h.75v.75h-.75zM303.9 294.4h.75v.75h-.75zM333.0 284.4h.75v.75h-.75zM320.6 275.9h.75v.75h-.75zM290.8 292.2h.75v.75h-.75zM312.9 289.1h.75v.75h-.75zM306.0 285.4h.75v.75h-.75zM321.3 300.5h.75v.75h-.75zM310.0 275.2h.75v.75h-.75zM326.4 292.1h.75v.75h-.75zM319.9 289.0h.75v.75h-.75zM338.0 288.2h.75v.75h-.75zM318.1 273.7h.75v.75h-.75zM306.1 282.5h.75v.75h-.75zM312.1 290.2h.75v.75h-.75zM304.2 300.6h.75v.75h-.75zM300.7 284.2h.75v.75h-.75zM315.1 278.2h.75v.75h-.75zM318.7 292.4h.75v.75h-.75zM309.2 301.9h.75v.75h-.75zM313.3 289.7h.75v.75h-.75zM301.9 275.1h.75v.75h-.75zM305.5 285.2h.75v.75h-.75zM307.4 293.4h.75v.75h-.75zM286.2 279.1h.75v.75h-.75zM292.3 297.7h.75v.75h-.75zM306.2 283.8h.75v.75h-.75zM300.3 294.4h.75v.75h-.75zM307.9 289.3h.75v.75h-.75zM290.0 296.4h.75v.75h-.75zM316.8 291.8h.75v.75h-.75zM326.1 286.2h.75v.75h-.75zM310.6 293.0h.75v.75h-.75zM317.1 285.8h.75v.75h-.75zM312.9 283.8h.75v.75h-.75zM320.3 294.6h.75v.75h-.75zM312.5 301.7h.75v.75h-.75zM295.5 285.9h.75v.75h-.75zM331.3 284.5h.75v.75h-.75zM294.8 298.1h.75v.75h-.75zM318.5 278.7h.75v.75h-.75zM321.0 280.0h.75v.75h-.75zM297.7 286.5h.75v.75h-.75zM307.2 279.4h.75v.75h-.75zM308.4 280.1h.75v.75h-.75zM313.1 287.5h.75v.75h-.75zM320.7 284.2h.75v.75h-.75zM297.8 277.7h.75v.75h-.75zM309.8 299.2h.75v.75h-.75zM321.8 282.8h.75v.75h-.75zM322.9 278.9h.75v.75h-.75zM323.7 284.8h.75v.75h-.75zM321.0 292.3h.75v.75h-.75zM309.4 290.1h.75v.75h-.75zM300.7 287.1h.75v.75h-.75zM324.4 318.5h.75v.75h-.75zM320.2 288.3h.75v.75h-.75zM301.3 295.6h.75v.75h-.75zM294.2 281.6h.75v.75h-.75zM316.4 278.6h.75v.75h-.75zM329.5 295.9h.75v.75h-.75zM306.2 283.5h.75v.75h-.75zM297.9 277.1h.75v.75h-.75zM317.4 292.3h.75v.75h-.75zM316.4 289.7h.75v.75h-.75zM306.3 290.4h.75v.75h-.75zM296.2 287.7h.75v.75h-.75zM328.8 297.6h.75v.75h-.75zM307.4 285.1h.75v.75h-.75zM327.7 301.1h.75v.75h-.75zM296.0 284.4h.75v.75h-.75zM315.1 296.8h.75v.75h-.75zM303.2 292.5h.75v.75h-.75zM309.2 305.5h.75v.75h-.75zM317.2 286.6h.75v.75h-.75zM308.8 295.6h.75v.75h-.75zM320.0 279.5h.75v.75h-.75zM314.9 277.6h.75v.75h-.75zM304.2 277.9h.75v.75h-.75zM297.9 282.5h.75v.75h-.75zM301.7 291.6h.75v.75h-.75zM321.3 285.9h.75v.75h-.75zM300.1 293.7h.75v.75h-.75zM290.1 273.1h.75v.75h-.75zM320.5 292.6h.75v.75h-.75zM323.3 286.0h.75v.75h-.75zM298.6 283.8h.75v.75h-.75zM318.8 281.9h.75v.75h-.75zM304.8 277.2h.75v.75h-.75zM299.7 294.0h.75v.75h-.75zM317.5 278.9h.75v.75h-.75zM300.6 283.4h.75v.75h-.75zM318.6 278.9h.75v.75h-.75zM310.6 271.5h.75v.75h-.75zM298.6 290.8h.75v.75h-.75zM322.4 279.0h.75v.75h-.75zM304.0 293.7h.75v.75h-.75zM308.2 283.6h.75v.75h-.75zM318.2 289.1h.75v.75h-.75zM324.8 293.6h.75v.75h-.75zM306.2 286.8h.75v.75h-.75zM311.9 277.5h.75v.75h-.75zM301.8 295.0h.75v.75h-.75zM295.0 295.2h.75v.75h-.75zM315.7 286.6h.75v.75h-.75zM318.5 291.3h.75v.75h-.75zM325.9 284.7h.75v.75h-.75zM310.0 285.8h.75v.75h-.75zM333.3 294.8h.75v.75h-.75zM302.3 285.2h.75v.75h-.75zM304.7 287.8h.75v.75h-.75zM314.9 304.9h.75v.75h-.75zM292.4 295.4h.75v.75h-.75zM317.4 282.4h.75v.75h-.75zM310.9 284.0h.75v.75h-.75zM313.1 295.3h.75v.75h-.75zM295.8 297.6h.75v.75h-.75zM308.4 299.0h.75v.75h-.75zM317.1 297.0h.75v.75h-.75zM318.8 295.9h.75v.75h-.75zM313.2 281.5h.75v.75h-.75zM320.0 293.1h.75v.75h-.75zM335.8 272.7h.75v.75h-.75zM310.4 295.7h.75v.75h-.75zM298.8 286.0h.75v.75h-.75zM336.0 298.4h.75v.75h-.75zM302.9 298.5h.75v.75h-.75zM325.7 293.6h.75v.75h-.75zM316.8 289.5h.75v.75h-.75zM303.1 283.9h.75v.75h-.75zM320.7 288.8h.75v.75h-.75zM333.0 285.3h.75v.75h-.75zM286.2 285.3h.75v.75h-.75zM315.7 290.7h.75v.75h-.75zM313.4 281.6h.75v.75h-.75zM329.2 282.8h.75v.75h-.75zM320.5 285.6h.75v.75h-.75zM299.5 298.4h.75v.75h-.75zM285.1 281.4h.75v.75h-.75zM317.5 285.1h.75v.75h-.75zM321.0 287.1h.75v.75h-.75zM307.7 304.0h.75v.75h-.75zM310.3 286.6h.75v.75h-.75zM300.8 282.2h.75v.75h-.75zM319.9 292.1h.75v.75h-.75zM312.8 282.6h.75v.75h-.75zM320.3 275.1h.75v.75h-.75zM309.0 286.0h.75v.75h-.75zM303.5 289.0h.75v.75h-.75zM305.4 281.8h.75v.75h-.75zM332.6 293.4h.75v.75h-.75zM326.0 288.3h.75v.75h-.75zM323.5 293.8h.75v.75h-.75zM326.2 305.7h.75v.75h-.75zM310.4 289.9h.75v.75h-.75zM312.3 261.5h.75v.75h-.75zM297.5 288.1h.75v.75h-.75zM319.9 283.6h.75v.75h-.75zM325.4 297.6h.75v.75h-.75zM308.4 298.6h.75v.75h-.75zM332.2 291.4h.75v.75h-.75zM302.1 299.0h.75v.75h-.75zM311.2 285.1h.75v.75h-.75zM314.2 283.9h.75v.75h-.75zM324.8 293.8h.75v.75h-.75zM326.4 292.4h.75v.75h-.75zM304.3 286.8h.75v.75h-.75zM322.6 284.9h.75v.75h-.75zM345.1 286.2h.75v.75h-.75zM306.5 296.6h.75v.75h-.75zM321.2 287.8h.75v.75h-.75zM310.5 291.2h.75v.75h-.75zM322.2 293.7h.75v.75h-.75zM309.7 291.2h.75v.75h-.75zM322.3 293.7h.75v.75h-.75zM279.1 281.3h.75v.75h-.75zM304.5 286.3h.75v.75h-.75zM315.0 294.9h.75v.75h-.75zM319.8 287.0h.75v.75h-.75zM313.3 301.2h.75v.75h-.75zM306.3 290.3h.75v.75h-.75zM330.2 290.6h.75v.75h-.75zM290.5 290.8h.75v.75h-.75zM308.7 287.2h.75v.75h-.75zM324.6 291.5h.75v.75h-.75zM310.1 294.7h.75v.75h-.75zM317.8 288.8h.75v.75h-.75zM316.3 289.9h.75v.75h-.75zM309.3 284.6h.75v.75h-.75zM313.3 280.8h.75v.75h-.75zM299.2 297.8h.75v.75h-.75zM310.4 287.8h.75v.75h-.75zM311.5 288.2h.75v.75h-.75zM313.2 288.5h.75v.75h-.75zM304.1 295.0h.75v.75h-.75zM305.4 295.8h.75v.75h-.75zM291.9 280.0h.75v.75h-.75zM323.9 286.9h.75v.75h-.75zM305.6 290.8h.75v.75h-.75zM301.5 288.6h.75v.75h-.75zM288.6 284.6h.75v.75h-.75zM305.9 292.0h.75v.75h-.75zM322.6 281.6h.75v.75h-.75zM330.7 283.6h.75v.75h-.75zM290.4 270.2h.75v.75h-.75zM329.9 287.3h.75v.75h-.75zM305.9 282.4h.75v.75h-.75zM301.0 298.1h.75v.75h-.75zM312.1 301.4h.75v.75h-.75zM310.8 270.4h.75v.75h-.75zM322.3 285.2h.75v.75h-.75zM310.4 299.8h.75v.75h-.75zM310.1 296.7h.75v.75h-.75zM312.9 282.4h.75v.75h-.75zM318.6 283.5h.75v.75h-.75zM326.5 295.2h.75v.75h-.75zM313.7 292.6h.75v.75h-.75zM319.2 285.9h.75v.75h-.75zM322.8 286.3h.75v.75h-.75zM319.8 280.9h.75v.75h-.75zM314.1 291.1h.75v.75h-.75zM304.3 284.9h.75v.75h-.75zM307.2 293.5h.75v.75h-.75zM305.1 291.3h.75v.75h-.75zM329.8 290.7h.75v.75h-.75zM295.3 289.0h.75v.75h-.75zM324.5 285.9h.75v.75h-.75zM325.3 292.7h.75v.75h-.75zM317.7 286.1h.75v.75h-.75zM307.4 286.1h.75v.75h-.75zM313.8 292.0h.75v.75h-.75zM317.7 285.8h.75v.75h-.75zM313.8 291.0h.75v.75h-.75zM295.2 282.3h.75v.75h-.75zM304.3 286.6h.75v.75h-.75zM310.1 286.2h.75v.75h-.75zM303.5 293.1h.75v.75h-.75zM283.7 285.6h.75v.75h-.75zM282.2 289.2h.75v.75h-.75zM292.3 293.9h.75v.75h-.75zM279.7 297.7h.75v.75h-.75zM280.9 296.7h.75v.75h-.75zM291.4 298.7h.75v.75h-.75zM287.1 305.0h.75v.75h-.75zM276.3 308.9h.75v.75h-.75zM286.2 303.8h.75v.75h-.75zM276.9 302.8h.75v.75h-.75zM284.6 293.4h.75v.75h-.75zM295.8 301.1h.75v.75h-.75zM280.7 298.5h.75v.75h-.75zM287.6 305.0h.75v.75h-.75zM285.6 305.7h.75v.75h-.75zM290.9 288.5h.75v.75h-.75zM279.2 290.6h.75v.75h-.75zM282.7 307.2h.75v.75h-.75zM286.0 289.8h.75v.75h-.75zM280.4 304.3h.75v.75h-.75zM278.9 296.5h.75v.75h-.75zM283.9 284.4h.75v.75h-.75zM286.8 299.5h.75v.75h-.75zM285.5 290.3h.75v.75h-.75zM277.5 293.0h.75v.75h-.75zM283.6 297.6h.75v.75h-.75zM282.9 309.7h.75v.75h-.75zM290.0 292.1h.75v.75h-.75zM278.2 309.2h.75v.75h-.75zM280.2 306.8h.75v.75h-.75zM291.7 293.3h.75v.75h-.75zM280.5 297.7h.75v.75h-.75zM276.9 290.3h.75v.75h-.75zM279.7 303.1h.75v.75h-.75zM279.4 295.7h.75v.75h-.75zM279.3 287.6h.75v.75h-.75zM291.0 280.7h.75v.75h-.75zM278.2 301.1h.75v.75h-.75zM273.7 301.4h.75v.75h-.75zM289.6 291.1h.75v.75h-.75zM283.4 289.4h.75v.75h-.75zM285.2 297.8h.75v.75h-.75zM283.4 306.7h.75v.75h-.75zM284.9 306.6h.75v.75h-.75zM285.9 288.7h.75v.75h-.75zM283.7 300.6h.75v.75h-.75zM273.4 306.5h.75v.75h-.75zM282.5 299.7h.75v.75h-.75zM276.7 297.6h.75v.75h-.75zM283.9 294.9h.75v.75h-.75z" fill="#000" fill-opacity="0.42"/>
<path d="M302.5 258.0h.75v.75h-.75zM334.5 278.1h.75v.75h-.75zM279.6 311.3h.75v.75h-.75zM277.6 306.1h.75v.75h-.75zM276.5 344.5h.75v.75h-.75zM314.1 339.5h.75v.75h-.75zM275.1 313.6h.75v.75h-.75zM276.5 311.9h.75v.75h-.75zM317.4 268.5h.75v.75h-.75zM272.0 277.0h.75v.75h-.75zM262.8 285.7h.75v.75h-.75zM276.4 271.4h.75v.75h-.75zM302.8 311.2h.75v.75h-.75zM267.5 289.2h.75v.75h-.75z" fill="#000" fill-opacity="0.4"/>
<rect x="252.6" y="250.6" width="101.5" height="100.8" fill="none" stroke="#333" stroke-width="0.9"/>
<line x1="291.8" y1="250.6" x2="291.8" y2="351.4" stroke="#222" stroke-width="0.85" />
<line x1="252.6" y1="304.5" x2="354.1" y2="304.5" stroke="#1a1a1a" stroke-width="0.85" />
<text x="256.2" y="260.4" font-size="8.0" fill="#1a1a1a">6.26</text>
<text x="350.8" y="260.4" font-size="8.0" text-anchor="end" fill="#1a1a1a">41.6</text>
<text x="256.2" y="347.6" font-size="8.0" fill="#1a1a1a">29.7</text>
<text x="350.8" y="347.6" font-size="8.0" text-anchor="end" fill="#1a1a1a">22.4</text>
<path d="M250.1,250.8h2.5 M250.1,268h2.5 M250.1,284.8h2.5 M250.1,304.3h2.5 M251.3,262.82h1.3 M251.3,259.79h1.3 M251.3,257.64h1.3 M251.3,255.98h1.3 M251.3,254.62h1.3 M251.3,253.46h1.3 M251.3,252.47h1.3 M251.3,251.59h1.3 M251.3,279.74h1.3 M251.3,276.78h1.3 M251.3,274.69h1.3 M251.3,273.06h1.3 M251.3,271.73h1.3 M251.3,270.6h1.3 M251.3,269.63h1.3 M251.3,268.77h1.3 M251.3,298.43h1.3 M251.3,295h1.3 M251.3,292.56h1.3 M251.3,290.67h1.3 M251.3,289.13h1.3 M251.3,287.82h1.3 M251.3,286.69h1.3 M251.3,285.69h1.3 M251.3,308.56h1.3 M251.3,312.83h1.3 M251.3,317.09h1.3 M251.3,321.35h1.3 M251.3,325.62h1.3 M251.3,329.88h1.3 M251.3,334.15h1.3 M251.3,338.41h1.3 M251.3,342.67h1.3 M251.3,346.94h1.3 M251.3,351.2h1.3 M250.1,351.2h2.5 M260.6,351.4v1.5 M273.5,351.4v1.5 M287.5,351.4v1.5 M292,351.4v1.5 M304.6,351.4v1.5 M312.6,351.4v1.5 M320.1,351.4v1.5 M327.1,351.4v1.5 M332.1,351.4v1.5 M335.6,351.4v1.5 M342.6,351.4v1.5 M349.4,351.4v1.5 M353.1,351.4v1.5 M280.5,351.4v2.5 M320.1,351.4v2.5 M342.6,351.4v2.5" stroke="#333" stroke-width="0.7" fill="none"/>
<rect x="250.4" y="324.5" width="1.6" height="6.5" fill="#111"/>
<rect x="278.7" y="351.7" width="3.2" height="1.6" fill="#111"/>
<text x="280.5" y="363.6" font-size="7.4" text-anchor="middle" fill="#1a1a1a">0</text>
<text x="319.4" y="363.6" font-size="7.4" text-anchor="middle" fill="#1a1a1a">10<tspan font-size="4.8" dy="-3.2">4</tspan></text>
<text x="342.3" y="363.6" font-size="7.4" text-anchor="middle" fill="#1a1a1a">10<tspan font-size="4.8" dy="-3.2">5</tspan></text>
<text x="413.95" y="245.5" font-size="8.8" text-anchor="middle" fill="#1a1a1a">Week 2</text>
<path d="M392.2 312.8h.75v.75h-.75zM390.0 315.1h.75v.75h-.75zM394.7 314.8h.75v.75h-.75zM391.5 317.7h.75v.75h-.75zM397.4 312.4h.75v.75h-.75zM391.8 315.9h.75v.75h-.75zM389.7 314.2h.75v.75h-.75zM392.3 311.8h.75v.75h-.75zM391.4 309.9h.75v.75h-.75zM390.5 308.9h.75v.75h-.75zM399.0 316.6h.75v.75h-.75zM395.8 314.0h.75v.75h-.75zM395.1 316.1h.75v.75h-.75zM395.2 315.3h.75v.75h-.75zM389.4 314.3h.75v.75h-.75zM390.5 310.7h.75v.75h-.75zM388.7 314.3h.75v.75h-.75zM395.3 310.3h.75v.75h-.75zM397.4 316.5h.75v.75h-.75zM391.0 312.3h.75v.75h-.75zM391.9 315.5h.75v.75h-.75zM391.0 310.9h.75v.75h-.75zM393.1 308.8h.75v.75h-.75zM392.5 315.9h.75v.75h-.75zM393.0 315.0h.75v.75h-.75zM393.6 314.9h.75v.75h-.75zM392.5 311.5h.75v.75h-.75zM391.4 313.1h.75v.75h-.75zM395.9 316.9h.75v.75h-.75zM393.4 311.6h.75v.75h-.75zM389.9 312.9h.75v.75h-.75zM396.3 314.0h.75v.75h-.75zM391.9 311.6h.75v.75h-.75zM394.7 313.9h.75v.75h-.75zM391.9 313.5h.75v.75h-.75zM397.2 312.9h.75v.75h-.75zM397.2 316.0h.75v.75h-.75zM392.3 315.2h.75v.75h-.75zM391.7 311.5h.75v.75h-.75zM391.3 311.3h.75v.75h-.75zM393.6 313.3h.75v.75h-.75zM393.8 315.1h.75v.75h-.75zM382.7 314.0h.75v.75h-.75zM386.7 313.7h.75v.75h-.75zM389.5 313.5h.75v.75h-.75zM396.2 309.5h.75v.75h-.75zM392.7 313.1h.75v.75h-.75zM386.4 314.7h.75v.75h-.75zM392.2 312.2h.75v.75h-.75zM389.9 320.4h.75v.75h-.75zM390.9 309.3h.75v.75h-.75zM389.3 312.5h.75v.75h-.75zM390.9 313.1h.75v.75h-.75zM389.0 314.5h.75v.75h-.75zM390.6 310.3h.75v.75h-.75zM389.7 312.5h.75v.75h-.75zM394.6 314.4h.75v.75h-.75zM391.1 313.3h.75v.75h-.75zM392.7 317.8h.75v.75h-.75zM390.2 314.3h.75v.75h-.75zM394.3 311.2h.75v.75h-.75zM392.7 313.7h.75v.75h-.75zM390.7 314.5h.75v.75h-.75zM395.2 315.8h.75v.75h-.75zM391.5 313.7h.75v.75h-.75zM399.2 310.9h.75v.75h-.75zM392.8 315.3h.75v.75h-.75zM392.6 314.7h.75v.75h-.75zM392.6 315.0h.75v.75h-.75zM395.9 312.8h.75v.75h-.75zM392.7 313.2h.75v.75h-.75zM390.9 313.3h.75v.75h-.75zM388.7 314.9h.75v.75h-.75zM397.2 317.0h.75v.75h-.75zM395.9 311.2h.75v.75h-.75zM396.7 311.7h.75v.75h-.75zM391.9 317.4h.75v.75h-.75zM388.9 315.2h.75v.75h-.75zM392.9 313.0h.75v.75h-.75zM389.5 314.2h.75v.75h-.75zM390.7 315.6h.75v.75h-.75zM395.8 310.3h.75v.75h-.75zM390.6 312.6h.75v.75h-.75zM388.6 310.8h.75v.75h-.75zM392.4 312.8h.75v.75h-.75zM387.1 312.1h.75v.75h-.75zM393.7 310.6h.75v.75h-.75zM389.3 316.8h.75v.75h-.75zM396.1 309.7h.75v.75h-.75zM388.0 314.1h.75v.75h-.75zM388.5 312.7h.75v.75h-.75zM390.7 314.5h.75v.75h-.75zM384.5 308.5h.75v.75h-.75zM388.4 315.5h.75v.75h-.75zM391.6 309.5h.75v.75h-.75zM393.6 314.9h.75v.75h-.75zM391.4 312.6h.75v.75h-.75zM393.4 316.0h.75v.75h-.75zM392.6 314.5h.75v.75h-.75zM392.0 312.5h.75v.75h-.75zM389.4 313.9h.75v.75h-.75zM391.2 312.8h.75v.75h-.75zM394.9 314.4h.75v.75h-.75zM394.7 309.8h.75v.75h-.75zM393.8 312.0h.75v.75h-.75zM389.7 311.4h.75v.75h-.75zM395.7 315.1h.75v.75h-.75zM389.9 310.8h.75v.75h-.75zM392.1 312.3h.75v.75h-.75zM397.1 310.1h.75v.75h-.75zM386.6 312.7h.75v.75h-.75zM392.1 313.6h.75v.75h-.75zM394.4 317.9h.75v.75h-.75zM391.1 312.1h.75v.75h-.75zM386.8 313.8h.75v.75h-.75zM394.7 312.7h.75v.75h-.75zM395.6 313.4h.75v.75h-.75zM396.6 314.0h.75v.75h-.75zM388.9 311.9h.75v.75h-.75zM387.5 309.5h.75v.75h-.75zM392.9 315.2h.75v.75h-.75zM398.0 313.2h.75v.75h-.75zM391.4 310.9h.75v.75h-.75zM395.1 314.2h.75v.75h-.75zM390.3 314.8h.75v.75h-.75zM393.8 309.2h.75v.75h-.75zM394.3 313.6h.75v.75h-.75zM390.9 312.4h.75v.75h-.75zM397.3 316.7h.75v.75h-.75zM397.6 310.8h.75v.75h-.75zM390.1 315.3h.75v.75h-.75zM388.5 311.7h.75v.75h-.75zM386.7 317.4h.75v.75h-.75zM395.3 314.3h.75v.75h-.75zM392.8 312.4h.75v.75h-.75zM390.9 314.7h.75v.75h-.75zM390.0 316.0h.75v.75h-.75zM390.6 311.4h.75v.75h-.75zM396.0 313.0h.75v.75h-.75zM393.8 312.4h.75v.75h-.75zM385.3 314.5h.75v.75h-.75zM388.1 315.7h.75v.75h-.75zM387.4 309.2h.75v.75h-.75zM393.0 314.2h.75v.75h-.75zM392.4 310.6h.75v.75h-.75zM394.8 310.1h.75v.75h-.75zM390.7 311.6h.75v.75h-.75zM391.0 315.2h.75v.75h-.75zM390.2 314.5h.75v.75h-.75zM394.2 309.5h.75v.75h-.75zM388.6 312.5h.75v.75h-.75zM390.3 314.0h.75v.75h-.75zM386.3 314.9h.75v.75h-.75zM394.3 312.9h.75v.75h-.75zM388.0 313.3h.75v.75h-.75zM390.5 314.5h.75v.75h-.75zM391.8 314.9h.75v.75h-.75zM390.8 316.5h.75v.75h-.75zM385.2 311.1h.75v.75h-.75zM393.6 310.0h.75v.75h-.75zM394.3 310.6h.75v.75h-.75zM392.4 311.3h.75v.75h-.75zM390.8 313.7h.75v.75h-.75zM391.8 312.5h.75v.75h-.75zM398.6 313.3h.75v.75h-.75zM389.2 315.3h.75v.75h-.75zM394.6 316.0h.75v.75h-.75zM397.5 311.2h.75v.75h-.75zM395.3 315.8h.75v.75h-.75zM392.1 313.8h.75v.75h-.75zM383.1 312.0h.75v.75h-.75zM397.5 309.4h.75v.75h-.75zM390.5 313.9h.75v.75h-.75zM393.8 316.9h.75v.75h-.75zM386.8 313.4h.75v.75h-.75zM394.7 310.4h.75v.75h-.75zM392.0 317.4h.75v.75h-.75zM396.0 314.5h.75v.75h-.75zM384.3 313.0h.75v.75h-.75zM393.3 312.6h.75v.75h-.75zM391.9 320.1h.75v.75h-.75zM391.5 311.2h.75v.75h-.75zM392.8 312.6h.75v.75h-.75zM391.2 313.1h.75v.75h-.75zM394.4 313.8h.75v.75h-.75zM388.5 313.0h.75v.75h-.75zM393.5 312.3h.75v.75h-.75zM395.5 315.0h.75v.75h-.75zM389.1 314.0h.75v.75h-.75zM398.1 316.7h.75v.75h-.75zM391.9 315.3h.75v.75h-.75zM390.1 310.1h.75v.75h-.75zM393.8 313.8h.75v.75h-.75zM393.6 313.2h.75v.75h-.75zM393.1 312.2h.75v.75h-.75zM393.5 315.1h.75v.75h-.75zM391.9 315.1h.75v.75h-.75zM386.8 311.6h.75v.75h-.75zM396.4 317.2h.75v.75h-.75zM392.9 313.1h.75v.75h-.75zM388.3 314.1h.75v.75h-.75zM394.4 310.0h.75v.75h-.75zM393.8 314.4h.75v.75h-.75zM393.4 310.8h.75v.75h-.75zM393.7 310.0h.75v.75h-.75zM396.6 313.6h.75v.75h-.75zM388.6 316.3h.75v.75h-.75zM395.6 311.9h.75v.75h-.75zM398.7 311.1h.75v.75h-.75zM393.0 315.9h.75v.75h-.75zM385.3 315.5h.75v.75h-.75zM391.9 313.3h.75v.75h-.75zM388.9 314.0h.75v.75h-.75zM388.8 311.2h.75v.75h-.75zM390.8 310.6h.75v.75h-.75zM396.8 310.4h.75v.75h-.75zM389.8 312.6h.75v.75h-.75zM392.1 315.0h.75v.75h-.75zM394.6 312.6h.75v.75h-.75zM390.9 313.4h.75v.75h-.75zM394.6 314.8h.75v.75h-.75zM390.6 308.8h.75v.75h-.75zM398.5 315.4h.75v.75h-.75zM392.9 314.0h.75v.75h-.75zM390.5 311.1h.75v.75h-.75zM391.1 312.8h.75v.75h-.75zM390.2 310.1h.75v.75h-.75zM391.2 314.6h.75v.75h-.75zM390.6 313.3h.75v.75h-.75zM385.9 312.8h.75v.75h-.75zM391.7 310.6h.75v.75h-.75zM386.9 314.2h.75v.75h-.75zM389.7 314.4h.75v.75h-.75zM390.8 314.7h.75v.75h-.75zM391.1 310.0h.75v.75h-.75zM391.8 312.6h.75v.75h-.75zM394.1 312.3h.75v.75h-.75zM390.9 315.2h.75v.75h-.75zM395.6 315.0h.75v.75h-.75zM395.2 314.3h.75v.75h-.75zM394.4 315.2h.75v.75h-.75zM393.3 313.4h.75v.75h-.75zM392.5 318.6h.75v.75h-.75zM392.1 312.8h.75v.75h-.75zM391.0 313.2h.75v.75h-.75zM392.8 310.8h.75v.75h-.75zM386.2 313.9h.75v.75h-.75zM387.3 313.9h.75v.75h-.75zM392.5 315.8h.75v.75h-.75zM397.1 314.1h.75v.75h-.75zM390.4 310.7h.75v.75h-.75zM389.7 313.4h.75v.75h-.75zM385.9 313.5h.75v.75h-.75zM392.1 314.7h.75v.75h-.75zM391.1 313.5h.75v.75h-.75zM389.9 312.3h.75v.75h-.75zM386.8 313.6h.75v.75h-.75zM396.7 313.7h.75v.75h-.75zM393.2 311.1h.75v.75h-.75zM396.4 311.6h.75v.75h-.75zM394.5 313.5h.75v.75h-.75zM389.2 315.6h.75v.75h-.75zM392.1 313.7h.75v.75h-.75zM393.5 313.3h.75v.75h-.75zM391.0 314.3h.75v.75h-.75zM390.9 313.4h.75v.75h-.75zM390.1 310.0h.75v.75h-.75zM390.1 312.2h.75v.75h-.75zM392.1 315.9h.75v.75h-.75zM387.0 313.6h.75v.75h-.75zM385.5 311.0h.75v.75h-.75zM390.6 308.3h.75v.75h-.75zM386.5 313.6h.75v.75h-.75zM392.3 313.0h.75v.75h-.75zM389.7 318.0h.75v.75h-.75zM391.6 311.4h.75v.75h-.75zM397.1 314.7h.75v.75h-.75zM391.0 315.9h.75v.75h-.75zM392.6 314.7h.75v.75h-.75zM392.8 311.0h.75v.75h-.75zM395.0 313.7h.75v.75h-.75zM389.1 311.6h.75v.75h-.75zM395.0 312.5h.75v.75h-.75zM392.2 314.7h.75v.75h-.75zM392.5 309.9h.75v.75h-.75zM394.0 315.4h.75v.75h-.75zM394.7 316.9h.75v.75h-.75zM393.2 315.0h.75v.75h-.75zM396.9 312.7h.75v.75h-.75zM397.3 317.1h.75v.75h-.75zM394.4 317.3h.75v.75h-.75zM394.7 311.4h.75v.75h-.75zM395.5 314.0h.75v.75h-.75zM393.3 313.6h.75v.75h-.75zM396.2 314.5h.75v.75h-.75zM390.0 314.4h.75v.75h-.75zM394.3 311.7h.75v.75h-.75zM390.8 312.5h.75v.75h-.75zM390.3 314.1h.75v.75h-.75zM395.2 317.5h.75v.75h-.75zM395.7 315.5h.75v.75h-.75zM395.5 316.2h.75v.75h-.75zM391.0 314.8h.75v.75h-.75zM393.1 313.0h.75v.75h-.75zM390.7 312.2h.75v.75h-.75zM391.3 310.6h.75v.75h-.75zM393.7 313.3h.75v.75h-.75zM392.4 314.0h.75v.75h-.75zM394.3 312.0h.75v.75h-.75zM391.8 309.8h.75v.75h-.75zM385.4 309.0h.75v.75h-.75zM396.7 309.3h.75v.75h-.75zM393.5 316.5h.75v.75h-.75zM390.7 316.9h.75v.75h-.75zM397.6 315.4h.75v.75h-.75zM399.2 314.7h.75v.75h-.75zM389.9 314.5h.75v.75h-.75zM390.8 310.4h.75v.75h-.75zM388.3 318.4h.75v.75h-.75zM390.5 313.3h.75v.75h-.75zM417.5 312.0h.75v.75h-.75zM433.2 303.1h.75v.75h-.75zM448.1 300.5h.75v.75h-.75zM416.3 306.6h.75v.75h-.75zM419.9 305.4h.75v.75h-.75zM420.1 311.0h.75v.75h-.75zM421.8 307.4h.75v.75h-.75zM435.9 303.1h.75v.75h-.75zM429.9 305.7h.75v.75h-.75zM421.9 308.1h.75v.75h-.75zM420.9 308.1h.75v.75h-.75zM410.9 308.9h.75v.75h-.75zM424.3 307.3h.75v.75h-.75zM406.7 309.5h.75v.75h-.75zM412.0 309.9h.75v.75h-.75zM421.5 308.3h.75v.75h-.75zM412.5 310.0h.75v.75h-.75zM403.4 305.0h.75v.75h-.75zM418.1 304.9h.75v.75h-.75zM408.7 307.9h.75v.75h-.75zM425.6 304.4h.75v.75h-.75zM422.1 306.8h.75v.75h-.75zM405.3 307.7h.75v.75h-.75zM424.5 308.4h.75v.75h-.75zM428.5 310.9h.75v.75h-.75zM422.4 308.5h.75v.75h-.75zM418.0 309.0h.75v.75h-.75zM415.1 307.2h.75v.75h-.75zM439.9 299.9h.75v.75h-.75zM422.1 308.9h.75v.75h-.75zM420.4 306.0h.75v.75h-.75zM416.9 307.9h.75v.75h-.75zM407.5 310.7h.75v.75h-.75zM414.5 308.1h.75v.75h-.75zM426.0 304.6h.75v.75h-.75zM423.5 306.2h.75v.75h-.75zM423.7 307.7h.75v.75h-.75zM421.2 305.8h.75v.75h-.75zM410.3 308.3h.75v.75h-.75zM421.2 309.8h.75v.75h-.75zM430.4 305.0h.75v.75h-.75zM419.1 304.7h.75v.75h-.75zM394.7 311.4h.75v.75h-.75zM411.0 306.5h.75v.75h-.75zM400.0 313.6h.75v.75h-.75zM409.5 306.5h.75v.75h-.75zM443.9 303.8h.75v.75h-.75zM415.7 310.7h.75v.75h-.75zM411.4 313.7h.75v.75h-.75zM401.7 308.9h.75v.75h-.75zM417.0 307.1h.75v.75h-.75zM433.2 301.8h.75v.75h-.75zM411.0 310.6h.75v.75h-.75zM425.2 309.5h.75v.75h-.75zM423.4 312.7h.75v.75h-.75zM413.7 309.9h.75v.75h-.75zM427.7 305.9h.75v.75h-.75zM415.3 308.1h.75v.75h-.75zM411.2 307.4h.75v.75h-.75zM411.9 306.2h.75v.75h-.75zM421.9 304.1h.75v.75h-.75zM441.5 307.8h.75v.75h-.75zM430.3 305.6h.75v.75h-.75zM412.8 312.5h.75v.75h-.75zM420.7 309.4h.75v.75h-.75zM411.3 312.5h.75v.75h-.75zM410.0 310.5h.75v.75h-.75zM399.6 310.8h.75v.75h-.75zM423.7 306.4h.75v.75h-.75zM414.0 311.2h.75v.75h-.75zM418.2 311.4h.75v.75h-.75zM392.8 315.0h.75v.75h-.75zM423.2 303.9h.75v.75h-.75zM404.9 313.3h.75v.75h-.75zM406.7 309.4h.75v.75h-.75zM424.7 306.4h.75v.75h-.75zM423.1 305.5h.75v.75h-.75zM422.1 310.3h.75v.75h-.75zM420.9 302.9h.75v.75h-.75zM425.4 307.2h.75v.75h-.75zM409.3 313.6h.75v.75h-.75zM400.5 316.5h.75v.75h-.75zM412.3 313.4h.75v.75h-.75zM417.3 305.6h.75v.75h-.75zM419.6 309.0h.75v.75h-.75zM424.7 309.7h.75v.75h-.75zM409.0 311.6h.75v.75h-.75zM426.2 306.3h.75v.75h-.75zM407.9 308.4h.75v.75h-.75zM426.8 308.7h.75v.75h-.75zM408.9 307.3h.75v.75h-.75zM431.0 302.3h.75v.75h-.75zM419.7 306.3h.75v.75h-.75zM399.6 312.6h.75v.75h-.75zM417.0 312.1h.75v.75h-.75zM442.7 303.1h.75v.75h-.75zM429.9 308.6h.75v.75h-.75zM412.4 307.7h.75v.75h-.75zM435.5 304.2h.75v.75h-.75zM418.0 307.9h.75v.75h-.75zM416.7 307.4h.75v.75h-.75zM427.0 309.7h.75v.75h-.75zM413.7 306.2h.75v.75h-.75zM418.2 305.0h.75v.75h-.75zM412.1 312.6h.75v.75h-.75zM443.4 304.3h.75v.75h-.75zM407.3 312.6h.75v.75h-.75zM394.0 311.8h.75v.75h-.75zM435.1 306.9h.75v.75h-.75zM402.8 307.8h.75v.75h-.75zM427.5 306.5h.75v.75h-.75zM412.2 310.7h.75v.75h-.75zM411.3 305.4h.75v.75h-.75zM426.7 305.3h.75v.75h-.75zM407.0 307.7h.75v.75h-.75zM420.7 306.1h.75v.75h-.75zM424.9 306.5h.75v.75h-.75zM429.8 305.3h.75v.75h-.75zM410.5 305.5h.75v.75h-.75zM406.9 312.5h.75v.75h-.75zM450.6 299.0h.75v.75h-.75zM407.4 311.5h.75v.75h-.75zM423.2 305.9h.75v.75h-.75zM418.5 304.7h.75v.75h-.75zM415.6 311.2h.75v.75h-.75zM435.8 304.6h.75v.75h-.75zM415.8 310.1h.75v.75h-.75zM430.5 307.2h.75v.75h-.75zM410.5 310.9h.75v.75h-.75zM428.4 304.8h.75v.75h-.75zM404.3 312.5h.75v.75h-.75zM422.8 309.9h.75v.75h-.75zM419.1 306.9h.75v.75h-.75zM413.2 307.1h.75v.75h-.75zM408.0 309.3h.75v.75h-.75zM413.7 312.0h.75v.75h-.75zM405.2 311.1h.75v.75h-.75zM412.8 313.1h.75v.75h-.75zM421.1 307.1h.75v.75h-.75zM427.2 306.9h.75v.75h-.75zM414.0 313.0h.75v.75h-.75zM426.9 310.8h.75v.75h-.75zM431.2 307.7h.75v.75h-.75zM419.4 305.8h.75v.75h-.75zM426.1 307.1h.75v.75h-.75zM425.7 307.0h.75v.75h-.75zM410.6 307.7h.75v.75h-.75zM426.6 309.9h.75v.75h-.75zM415.6 310.1h.75v.75h-.75zM433.0 303.6h.75v.75h-.75zM414.4 306.7h.75v.75h-.75zM431.3 306.5h.75v.75h-.75zM412.8 305.8h.75v.75h-.75zM417.1 311.1h.75v.75h-.75zM415.2 308.2h.75v.75h-.75zM424.8 304.3h.75v.75h-.75zM419.4 309.7h.75v.75h-.75zM409.8 308.3h.75v.75h-.75zM421.2 307.7h.75v.75h-.75zM416.1 309.5h.75v.75h-.75zM420.5 305.9h.75v.75h-.75zM411.6 310.9h.75v.75h-.75zM431.2 309.1h.75v.75h-.75zM410.0 312.8h.75v.75h-.75zM426.7 306.8h.75v.75h-.75zM424.2 309.3h.75v.75h-.75zM437.2 302.3h.75v.75h-.75zM425.0 306.9h.75v.75h-.75zM416.9 311.5h.75v.75h-.75zM426.9 304.5h.75v.75h-.75zM415.7 309.6h.75v.75h-.75zM403.9 313.5h.75v.75h-.75zM417.9 309.0h.75v.75h-.75zM423.0 311.8h.75v.75h-.75zM418.9 307.6h.75v.75h-.75zM437.0 303.6h.75v.75h-.75zM412.4 306.5h.75v.75h-.75zM430.3 306.8h.75v.75h-.75zM423.8 307.8h.75v.75h-.75zM416.9 307.0h.75v.75h-.75zM410.5 311.2h.75v.75h-.75zM420.7 311.9h.75v.75h-.75zM410.3 309.1h.75v.75h-.75zM408.4 313.8h.75v.75h-.75zM405.9 312.9h.75v.75h-.75zM434.0 305.1h.75v.75h-.75zM425.5 302.2h.75v.75h-.75zM413.8 305.6h.75v.75h-.75zM420.5 308.1h.75v.75h-.75zM410.9 312.3h.75v.75h-.75zM422.3 306.6h.75v.75h-.75zM412.6 306.3h.75v.75h-.75zM417.7 313.6h.75v.75h-.75zM411.3 311.0h.75v.75h-.75zM413.2 311.5h.75v.75h-.75zM423.3 307.0h.75v.75h-.75zM399.5 311.2h.75v.75h-.75zM431.4 305.4h.75v.75h-.75zM425.2 306.1h.75v.75h-.75zM399.0 313.5h.75v.75h-.75zM421.9 306.5h.75v.75h-.75zM414.9 309.9h.75v.75h-.75zM412.6 310.5h.75v.75h-.75zM415.5 303.7h.75v.75h-.75zM416.9 307.5h.75v.75h-.75zM410.0 311.2h.75v.75h-.75zM413.8 310.8h.75v.75h-.75zM430.5 306.5h.75v.75h-.75zM401.9 310.2h.75v.75h-.75zM428.4 306.0h.75v.75h-.75zM410.1 310.0h.75v.75h-.75zM424.2 308.0h.75v.75h-.75zM425.3 305.3h.75v.75h-.75zM415.7 308.5h.75v.75h-.75zM417.6 303.9h.75v.75h-.75zM415.6 306.0h.75v.75h-.75zM434.3 309.0h.75v.75h-.75zM437.1 306.7h.75v.75h-.75zM414.0 311.7h.75v.75h-.75zM416.9 310.3h.75v.75h-.75zM408.9 309.1h.75v.75h-.75zM424.5 311.4h.75v.75h-.75zM419.5 313.6h.75v.75h-.75zM447.6 299.7h.75v.75h-.75zM418.1 306.4h.75v.75h-.75zM417.1 307.6h.75v.75h-.75zM418.5 310.8h.75v.75h-.75zM428.9 307.0h.75v.75h-.75zM418.9 308.8h.75v.75h-.75zM420.4 309.5h.75v.75h-.75zM419.1 309.6h.75v.75h-.75zM405.2 313.1h.75v.75h-.75zM437.5 305.1h.75v.75h-.75zM404.4 314.6h.75v.75h-.75zM414.0 302.5h.75v.75h-.75zM416.8 310.3h.75v.75h-.75zM423.5 310.4h.75v.75h-.75zM425.5 307.4h.75v.75h-.75zM397.3 310.3h.75v.75h-.75zM421.1 309.6h.75v.75h-.75zM407.6 309.4h.75v.75h-.75zM423.0 303.2h.75v.75h-.75zM398.0 312.2h.75v.75h-.75zM421.3 306.9h.75v.75h-.75zM394.4 313.5h.75v.75h-.75zM405.0 312.8h.75v.75h-.75zM417.9 309.3h.75v.75h-.75zM425.5 305.9h.75v.75h-.75zM428.2 309.5h.75v.75h-.75zM423.7 310.6h.75v.75h-.75zM412.6 311.9h.75v.75h-.75zM421.3 305.7h.75v.75h-.75zM417.8 307.5h.75v.75h-.75zM413.0 309.9h.75v.75h-.75zM430.1 305.5h.75v.75h-.75zM419.5 305.0h.75v.75h-.75zM420.5 310.8h.75v.75h-.75zM427.7 307.8h.75v.75h-.75zM412.8 307.5h.75v.75h-.75zM417.3 305.7h.75v.75h-.75zM406.1 313.3h.75v.75h-.75zM409.9 314.5h.75v.75h-.75zM403.8 312.6h.75v.75h-.75zM406.4 311.4h.75v.75h-.75zM407.8 310.8h.75v.75h-.75zM417.0 307.8h.75v.75h-.75zM425.0 310.8h.75v.75h-.75zM413.0 311.8h.75v.75h-.75zM419.8 308.2h.75v.75h-.75zM441.3 298.9h.75v.75h-.75zM410.8 305.9h.75v.75h-.75zM415.4 308.7h.75v.75h-.75zM459.7 301.0h.75v.75h-.75zM438.6 307.5h.75v.75h-.75zM414.4 310.5h.75v.75h-.75zM436.8 305.3h.75v.75h-.75zM421.3 309.2h.75v.75h-.75zM402.4 309.9h.75v.75h-.75zM422.7 309.0h.75v.75h-.75zM408.9 309.8h.75v.75h-.75zM417.5 308.4h.75v.75h-.75zM426.3 307.2h.75v.75h-.75zM420.0 305.0h.75v.75h-.75zM407.7 311.5h.75v.75h-.75zM401.9 312.6h.75v.75h-.75zM411.4 308.1h.75v.75h-.75zM425.5 305.6h.75v.75h-.75zM409.4 308.8h.75v.75h-.75zM420.7 314.5h.75v.75h-.75zM396.1 313.0h.75v.75h-.75zM416.7 311.2h.75v.75h-.75zM413.7 303.8h.75v.75h-.75zM432.5 303.2h.75v.75h-.75zM417.5 305.6h.75v.75h-.75zM406.8 309.8h.75v.75h-.75zM428.3 308.5h.75v.75h-.75zM412.6 310.9h.75v.75h-.75zM414.8 309.6h.75v.75h-.75zM420.7 309.6h.75v.75h-.75zM412.1 309.5h.75v.75h-.75zM421.1 308.2h.75v.75h-.75zM411.0 314.1h.75v.75h-.75zM414.1 311.2h.75v.75h-.75zM421.4 310.8h.75v.75h-.75zM396.2 317.8h.75v.75h-.75zM415.8 306.2h.75v.75h-.75zM421.1 313.3h.75v.75h-.75zM423.5 304.6h.75v.75h-.75zM414.3 312.5h.75v.75h-.75zM403.6 311.1h.75v.75h-.75zM416.5 314.0h.75v.75h-.75zM416.1 312.1h.75v.75h-.75zM411.0 308.2h.75v.75h-.75zM429.7 307.7h.75v.75h-.75zM400.4 313.7h.75v.75h-.75zM425.3 305.7h.75v.75h-.75zM421.1 308.6h.75v.75h-.75zM413.2 308.2h.75v.75h-.75zM411.3 309.3h.75v.75h-.75zM404.4 311.3h.75v.75h-.75z" fill="#000" fill-opacity="0.5"/>
<path d="M391.1 313.6h.75v.75h-.75zM391.7 313.0h.75v.75h-.75zM390.3 311.9h.75v.75h-.75zM391.0 313.7h.75v.75h-.75zM394.9 314.6h.75v.75h-.75zM394.6 313.9h.75v.75h-.75zM391.9 312.0h.75v.75h-.75zM392.0 311.1h.75v.75h-.75zM391.6 315.2h.75v.75h-.75zM392.5 314.7h.75v.75h-.75zM391.5 311.9h.75v.75h-.75zM391.4 313.0h.75v.75h-.75zM393.7 315.6h.75v.75h-.75zM391.0 313.0h.75v.75h-.75zM391.8 313.0h.75v.75h-.75zM390.3 313.5h.75v.75h-.75zM392.5 313.9h.75v.75h-.75zM390.3 313.3h.75v.75h-.75zM389.6 314.4h.75v.75h-.75zM390.6 313.1h.75v.75h-.75zM391.4 312.8h.75v.75h-.75zM390.6 311.5h.75v.75h-.75zM394.5 313.7h.75v.75h-.75zM392.4 315.7h.75v.75h-.75zM391.9 314.0h.75v.75h-.75zM392.1 314.7h.75v.75h-.75zM392.7 313.8h.75v.75h-.75zM391.7 313.7h.75v.75h-.75zM393.7 311.2h.75v.75h-.75zM391.9 313.0h.75v.75h-.75zM391.6 311.3h.75v.75h-.75zM393.1 312.5h.75v.75h-.75zM391.7 312.9h.75v.75h-.75zM389.7 312.9h.75v.75h-.75zM389.5 312.4h.75v.75h-.75zM391.6 313.4h.75v.75h-.75zM392.1 313.3h.75v.75h-.75zM395.0 313.9h.75v.75h-.75zM390.3 312.8h.75v.75h-.75zM391.1 313.2h.75v.75h-.75zM391.2 312.5h.75v.75h-.75zM394.4 313.5h.75v.75h-.75zM391.6 313.2h.75v.75h-.75zM391.7 315.0h.75v.75h-.75zM392.7 314.7h.75v.75h-.75zM387.7 313.8h.75v.75h-.75zM393.5 315.6h.75v.75h-.75zM392.1 311.5h.75v.75h-.75zM392.9 312.8h.75v.75h-.75zM389.5 312.8h.75v.75h-.75zM393.5 314.8h.75v.75h-.75zM393.1 312.3h.75v.75h-.75zM395.6 312.2h.75v.75h-.75zM391.9 311.9h.75v.75h-.75zM393.9 313.9h.75v.75h-.75zM393.3 313.5h.75v.75h-.75zM392.0 313.6h.75v.75h-.75zM389.4 314.5h.75v.75h-.75zM393.3 313.0h.75v.75h-.75zM392.0 313.8h.75v.75h-.75zM394.3 313.9h.75v.75h-.75zM392.1 312.9h.75v.75h-.75zM390.0 312.8h.75v.75h-.75zM392.2 313.2h.75v.75h-.75zM392.2 314.3h.75v.75h-.75zM392.7 313.8h.75v.75h-.75zM393.0 313.7h.75v.75h-.75zM392.0 314.0h.75v.75h-.75zM389.6 314.8h.75v.75h-.75zM390.3 314.4h.75v.75h-.75zM392.1 314.7h.75v.75h-.75zM392.1 312.4h.75v.75h-.75zM393.6 313.7h.75v.75h-.75zM392.2 313.5h.75v.75h-.75zM393.5 314.4h.75v.75h-.75zM392.4 311.7h.75v.75h-.75zM391.5 313.6h.75v.75h-.75zM394.6 313.9h.75v.75h-.75zM391.9 314.8h.75v.75h-.75zM391.9 313.4h.75v.75h-.75zM392.3 311.8h.75v.75h-.75zM393.4 313.9h.75v.75h-.75zM391.7 312.2h.75v.75h-.75zM392.4 315.0h.75v.75h-.75zM391.2 312.3h.75v.75h-.75zM392.7 311.7h.75v.75h-.75zM389.0 313.0h.75v.75h-.75zM391.1 313.2h.75v.75h-.75zM391.3 313.8h.75v.75h-.75zM391.8 312.8h.75v.75h-.75zM391.4 314.2h.75v.75h-.75zM393.4 314.5h.75v.75h-.75zM393.1 309.8h.75v.75h-.75zM390.7 313.1h.75v.75h-.75zM392.4 311.7h.75v.75h-.75zM394.1 313.8h.75v.75h-.75zM391.2 313.6h.75v.75h-.75zM391.6 312.6h.75v.75h-.75zM392.8 313.0h.75v.75h-.75zM390.1 312.8h.75v.75h-.75zM391.9 312.3h.75v.75h-.75zM393.9 312.3h.75v.75h-.75zM394.5 314.5h.75v.75h-.75zM390.8 313.6h.75v.75h-.75zM393.7 313.3h.75v.75h-.75zM390.4 313.6h.75v.75h-.75zM394.9 311.8h.75v.75h-.75zM392.9 313.5h.75v.75h-.75zM391.9 313.0h.75v.75h-.75zM391.6 314.6h.75v.75h-.75zM392.9 312.4h.75v.75h-.75zM394.3 312.0h.75v.75h-.75zM393.0 313.7h.75v.75h-.75zM393.8 313.9h.75v.75h-.75zM393.6 313.4h.75v.75h-.75zM393.5 313.9h.75v.75h-.75zM395.1 312.7h.75v.75h-.75zM393.8 314.0h.75v.75h-.75zM392.3 312.9h.75v.75h-.75zM392.7 311.9h.75v.75h-.75zM390.2 314.3h.75v.75h-.75zM389.9 315.1h.75v.75h-.75zM391.7 313.8h.75v.75h-.75zM392.2 313.9h.75v.75h-.75zM391.7 313.1h.75v.75h-.75zM391.9 314.6h.75v.75h-.75zM393.7 314.9h.75v.75h-.75zM392.6 313.3h.75v.75h-.75zM389.8 314.2h.75v.75h-.75zM393.3 313.0h.75v.75h-.75zM393.2 314.9h.75v.75h-.75zM392.2 314.6h.75v.75h-.75zM392.5 311.6h.75v.75h-.75zM391.4 313.0h.75v.75h-.75zM392.8 312.5h.75v.75h-.75zM391.5 312.4h.75v.75h-.75zM392.1 313.6h.75v.75h-.75zM393.5 314.4h.75v.75h-.75zM392.3 313.7h.75v.75h-.75zM392.3 313.6h.75v.75h-.75zM394.3 310.7h.75v.75h-.75zM391.9 313.8h.75v.75h-.75zM393.7 312.3h.75v.75h-.75zM392.6 314.4h.75v.75h-.75zM391.5 311.4h.75v.75h-.75zM391.6 312.2h.75v.75h-.75zM393.0 312.5h.75v.75h-.75zM394.6 313.6h.75v.75h-.75zM391.0 312.9h.75v.75h-.75zM390.6 313.9h.75v.75h-.75zM394.2 313.2h.75v.75h-.75zM393.4 312.4h.75v.75h-.75zM392.5 316.0h.75v.75h-.75zM390.1 314.8h.75v.75h-.75zM393.8 311.4h.75v.75h-.75zM390.1 312.4h.75v.75h-.75zM393.5 313.0h.75v.75h-.75zM391.9 314.3h.75v.75h-.75zM392.3 313.7h.75v.75h-.75zM391.7 314.7h.75v.75h-.75zM391.0 315.3h.75v.75h-.75zM391.6 312.6h.75v.75h-.75zM393.0 314.0h.75v.75h-.75zM389.3 313.7h.75v.75h-.75zM390.2 312.6h.75v.75h-.75zM393.2 312.5h.75v.75h-.75zM392.6 313.1h.75v.75h-.75zM394.8 313.4h.75v.75h-.75zM390.5 312.3h.75v.75h-.75zM390.8 313.6h.75v.75h-.75zM392.1 314.5h.75v.75h-.75zM392.3 313.6h.75v.75h-.75zM392.5 313.3h.75v.75h-.75zM392.5 314.3h.75v.75h-.75zM393.2 312.9h.75v.75h-.75zM389.6 312.6h.75v.75h-.75zM392.5 310.7h.75v.75h-.75zM391.4 314.0h.75v.75h-.75zM391.3 312.2h.75v.75h-.75zM394.5 315.0h.75v.75h-.75z" fill="#000" fill-opacity="0.75"/>
<path d="M412.8 288.8h.75v.75h-.75zM426.8 280.0h.75v.75h-.75zM436.1 303.6h.75v.75h-.75zM440.8 277.4h.75v.75h-.75zM440.3 290.0h.75v.75h-.75zM427.1 283.5h.75v.75h-.75zM427.6 299.3h.75v.75h-.75zM433.1 284.9h.75v.75h-.75zM421.0 284.9h.75v.75h-.75zM433.5 303.0h.75v.75h-.75zM417.2 288.2h.75v.75h-.75zM423.8 282.3h.75v.75h-.75zM431.6 292.6h.75v.75h-.75zM413.6 280.0h.75v.75h-.75zM439.5 290.7h.75v.75h-.75zM432.8 284.2h.75v.75h-.75zM423.9 291.9h.75v.75h-.75zM422.7 279.4h.75v.75h-.75zM427.7 295.4h.75v.75h-.75zM417.4 296.6h.75v.75h-.75zM434.6 281.4h.75v.75h-.75zM427.7 287.9h.75v.75h-.75zM433.9 293.5h.75v.75h-.75zM414.8 277.5h.75v.75h-.75zM437.9 289.1h.75v.75h-.75zM431.8 290.9h.75v.75h-.75zM442.8 278.7h.75v.75h-.75zM438.4 281.7h.75v.75h-.75zM434.9 298.8h.75v.75h-.75zM414.0 291.4h.75v.75h-.75zM424.9 285.9h.75v.75h-.75zM428.1 279.9h.75v.75h-.75zM418.1 293.4h.75v.75h-.75zM436.0 283.7h.75v.75h-.75zM413.3 306.6h.75v.75h-.75zM438.5 291.1h.75v.75h-.75zM417.5 283.6h.75v.75h-.75zM430.1 280.6h.75v.75h-.75zM443.5 289.3h.75v.75h-.75zM431.5 280.1h.75v.75h-.75zM418.7 282.0h.75v.75h-.75zM430.4 286.1h.75v.75h-.75zM424.8 290.7h.75v.75h-.75zM429.9 299.9h.75v.75h-.75zM425.7 280.2h.75v.75h-.75zM427.5 299.8h.75v.75h-.75zM422.2 288.6h.75v.75h-.75zM424.1 291.4h.75v.75h-.75zM430.2 281.8h.75v.75h-.75zM425.4 295.6h.75v.75h-.75zM438.4 295.5h.75v.75h-.75zM436.2 285.6h.75v.75h-.75zM424.1 295.5h.75v.75h-.75zM416.1 287.8h.75v.75h-.75zM409.4 285.2h.75v.75h-.75zM420.7 278.8h.75v.75h-.75zM433.4 282.5h.75v.75h-.75zM424.1 286.2h.75v.75h-.75zM420.4 299.4h.75v.75h-.75zM422.8 289.8h.75v.75h-.75zM414.8 284.5h.75v.75h-.75zM424.5 285.8h.75v.75h-.75zM421.9 289.4h.75v.75h-.75zM443.0 287.2h.75v.75h-.75zM426.3 285.2h.75v.75h-.75zM452.6 300.9h.75v.75h-.75zM433.1 293.8h.75v.75h-.75zM420.7 287.0h.75v.75h-.75zM429.7 289.2h.75v.75h-.75zM419.3 282.1h.75v.75h-.75zM432.7 290.7h.75v.75h-.75zM407.0 289.0h.75v.75h-.75zM440.2 283.2h.75v.75h-.75zM430.0 276.8h.75v.75h-.75zM435.9 279.5h.75v.75h-.75zM415.4 285.8h.75v.75h-.75zM450.9 283.5h.75v.75h-.75zM415.3 291.9h.75v.75h-.75zM429.9 301.3h.75v.75h-.75zM415.3 275.7h.75v.75h-.75zM424.6 291.2h.75v.75h-.75zM431.2 296.8h.75v.75h-.75zM413.0 281.8h.75v.75h-.75zM426.4 294.8h.75v.75h-.75zM432.4 285.0h.75v.75h-.75zM417.7 295.2h.75v.75h-.75zM437.0 309.5h.75v.75h-.75zM426.0 301.0h.75v.75h-.75zM415.8 284.0h.75v.75h-.75zM421.1 284.6h.75v.75h-.75zM419.1 284.0h.75v.75h-.75zM427.2 284.7h.75v.75h-.75zM434.2 287.6h.75v.75h-.75zM427.7 299.8h.75v.75h-.75zM430.8 289.5h.75v.75h-.75zM427.5 288.8h.75v.75h-.75zM433.3 282.0h.75v.75h-.75zM438.9 300.6h.75v.75h-.75zM439.0 284.4h.75v.75h-.75zM412.1 284.8h.75v.75h-.75zM429.2 294.8h.75v.75h-.75zM425.9 285.9h.75v.75h-.75zM442.6 283.0h.75v.75h-.75zM438.1 295.4h.75v.75h-.75zM414.7 290.4h.75v.75h-.75zM422.2 280.8h.75v.75h-.75zM409.6 276.0h.75v.75h-.75zM431.8 285.2h.75v.75h-.75zM430.4 279.9h.75v.75h-.75zM424.6 286.1h.75v.75h-.75zM412.6 275.2h.75v.75h-.75zM432.0 289.4h.75v.75h-.75zM418.6 287.5h.75v.75h-.75zM434.2 302.6h.75v.75h-.75zM419.0 293.1h.75v.75h-.75zM448.5 288.8h.75v.75h-.75zM442.1 268.0h.75v.75h-.75zM441.9 288.2h.75v.75h-.75zM409.3 294.4h.75v.75h-.75zM438.0 297.7h.75v.75h-.75zM439.5 288.0h.75v.75h-.75zM420.4 284.7h.75v.75h-.75zM427.4 291.4h.75v.75h-.75zM423.0 288.6h.75v.75h-.75zM436.3 290.8h.75v.75h-.75zM450.2 305.2h.75v.75h-.75zM416.5 283.8h.75v.75h-.75zM414.9 279.1h.75v.75h-.75zM433.1 280.5h.75v.75h-.75zM417.4 286.1h.75v.75h-.75zM435.6 285.5h.75v.75h-.75zM424.2 295.5h.75v.75h-.75zM432.3 291.8h.75v.75h-.75zM437.0 280.3h.75v.75h-.75zM429.8 283.3h.75v.75h-.75zM437.8 294.7h.75v.75h-.75zM417.4 298.8h.75v.75h-.75zM416.2 297.5h.75v.75h-.75zM429.7 281.4h.75v.75h-.75zM416.7 285.9h.75v.75h-.75zM427.5 282.7h.75v.75h-.75zM433.2 277.2h.75v.75h-.75zM427.6 288.3h.75v.75h-.75zM409.3 290.7h.75v.75h-.75zM415.3 268.6h.75v.75h-.75zM421.7 286.5h.75v.75h-.75zM436.6 284.4h.75v.75h-.75zM442.2 299.6h.75v.75h-.75zM438.5 298.7h.75v.75h-.75zM431.2 283.9h.75v.75h-.75zM434.1 295.9h.75v.75h-.75zM430.1 286.3h.75v.75h-.75zM412.3 293.6h.75v.75h-.75zM431.2 278.0h.75v.75h-.75zM428.7 294.0h.75v.75h-.75zM426.6 294.4h.75v.75h-.75zM435.1 276.6h.75v.75h-.75zM424.7 292.1h.75v.75h-.75zM436.7 299.4h.75v.75h-.75zM408.8 287.7h.75v.75h-.75zM434.8 297.9h.75v.75h-.75zM444.3 280.9h.75v.75h-.75zM424.0 279.9h.75v.75h-.75zM435.8 277.8h.75v.75h-.75zM439.4 295.7h.75v.75h-.75zM432.5 271.1h.75v.75h-.75zM421.0 294.2h.75v.75h-.75zM413.7 286.4h.75v.75h-.75zM426.7 295.3h.75v.75h-.75zM430.5 290.4h.75v.75h-.75zM423.3 288.3h.75v.75h-.75zM426.4 294.0h.75v.75h-.75zM425.9 296.4h.75v.75h-.75zM410.9 297.7h.75v.75h-.75zM426.0 297.2h.75v.75h-.75zM428.5 295.0h.75v.75h-.75zM442.4 283.9h.75v.75h-.75zM428.5 286.9h.75v.75h-.75zM429.7 275.4h.75v.75h-.75zM426.0 286.3h.75v.75h-.75zM419.9 286.7h.75v.75h-.75zM412.4 299.3h.75v.75h-.75zM432.1 303.1h.75v.75h-.75zM419.0 279.0h.75v.75h-.75zM430.5 275.1h.75v.75h-.75zM429.9 282.7h.75v.75h-.75zM424.4 290.2h.75v.75h-.75zM428.1 302.9h.75v.75h-.75zM433.9 278.0h.75v.75h-.75zM437.3 277.6h.75v.75h-.75zM428.5 278.4h.75v.75h-.75zM419.5 298.6h.75v.75h-.75zM422.1 283.1h.75v.75h-.75zM422.1 285.7h.75v.75h-.75zM441.9 278.9h.75v.75h-.75zM415.4 292.8h.75v.75h-.75zM411.9 285.3h.75v.75h-.75zM438.8 288.2h.75v.75h-.75zM422.9 282.6h.75v.75h-.75zM418.6 283.5h.75v.75h-.75zM428.9 298.0h.75v.75h-.75zM437.1 283.7h.75v.75h-.75zM420.3 293.7h.75v.75h-.75zM409.6 284.7h.75v.75h-.75zM424.3 279.4h.75v.75h-.75zM417.7 290.9h.75v.75h-.75zM411.2 280.9h.75v.75h-.75zM421.1 288.7h.75v.75h-.75zM413.9 296.7h.75v.75h-.75zM424.4 286.0h.75v.75h-.75zM423.9 282.7h.75v.75h-.75zM417.7 297.1h.75v.75h-.75zM429.4 287.2h.75v.75h-.75zM437.2 282.4h.75v.75h-.75zM433.6 288.2h.75v.75h-.75zM418.6 294.0h.75v.75h-.75zM412.6 293.1h.75v.75h-.75zM418.6 291.2h.75v.75h-.75zM440.9 292.4h.75v.75h-.75zM421.4 287.7h.75v.75h-.75zM423.7 278.7h.75v.75h-.75zM416.4 288.3h.75v.75h-.75zM432.6 274.0h.75v.75h-.75zM426.5 291.9h.75v.75h-.75zM428.3 280.0h.75v.75h-.75zM437.4 278.3h.75v.75h-.75zM433.6 300.4h.75v.75h-.75zM407.1 289.9h.75v.75h-.75zM430.2 289.6h.75v.75h-.75zM419.6 285.4h.75v.75h-.75zM413.4 288.8h.75v.75h-.75zM432.4 282.6h.75v.75h-.75zM418.0 284.1h.75v.75h-.75zM427.0 288.3h.75v.75h-.75zM426.1 288.3h.75v.75h-.75zM414.2 266.3h.75v.75h-.75zM433.1 298.9h.75v.75h-.75zM413.2 282.5h.75v.75h-.75zM430.0 295.2h.75v.75h-.75zM433.4 297.8h.75v.75h-.75zM426.5 291.0h.75v.75h-.75zM431.1 284.3h.75v.75h-.75zM438.8 292.6h.75v.75h-.75zM436.6 284.7h.75v.75h-.75zM437.1 279.5h.75v.75h-.75zM430.9 267.2h.75v.75h-.75zM417.1 293.5h.75v.75h-.75zM422.6 289.1h.75v.75h-.75zM411.1 299.8h.75v.75h-.75zM432.8 287.5h.75v.75h-.75zM431.1 290.3h.75v.75h-.75zM440.9 289.4h.75v.75h-.75zM412.6 285.7h.75v.75h-.75zM439.6 292.2h.75v.75h-.75zM422.9 292.5h.75v.75h-.75zM428.1 292.5h.75v.75h-.75zM411.5 280.7h.75v.75h-.75zM433.5 286.0h.75v.75h-.75zM430.4 303.0h.75v.75h-.75zM424.0 289.6h.75v.75h-.75zM421.6 282.8h.75v.75h-.75zM426.3 276.3h.75v.75h-.75zM406.4 298.4h.75v.75h-.75zM426.0 296.5h.75v.75h-.75zM428.2 288.9h.75v.75h-.75zM433.6 293.3h.75v.75h-.75zM415.2 297.1h.75v.75h-.75zM417.5 289.3h.75v.75h-.75zM452.0 288.3h.75v.75h-.75zM443.3 285.0h.75v.75h-.75zM433.0 288.1h.75v.75h-.75zM431.1 281.0h.75v.75h-.75zM418.0 290.3h.75v.75h-.75zM411.7 281.1h.75v.75h-.75zM433.3 282.9h.75v.75h-.75zM418.3 279.1h.75v.75h-.75zM428.5 284.9h.75v.75h-.75zM428.5 286.2h.75v.75h-.75zM445.1 284.3h.75v.75h-.75zM407.9 288.6h.75v.75h-.75zM427.0 288.9h.75v.75h-.75zM411.4 296.6h.75v.75h-.75zM426.7 287.4h.75v.75h-.75zM411.6 291.4h.75v.75h-.75zM426.4 298.3h.75v.75h-.75zM423.0 278.1h.75v.75h-.75zM428.3 280.6h.75v.75h-.75zM431.1 279.3h.75v.75h-.75zM425.8 286.0h.75v.75h-.75zM426.7 283.7h.75v.75h-.75zM419.1 287.3h.75v.75h-.75zM421.4 288.9h.75v.75h-.75zM424.4 270.2h.75v.75h-.75zM426.4 298.5h.75v.75h-.75zM430.0 292.4h.75v.75h-.75zM431.4 284.1h.75v.75h-.75zM414.1 294.0h.75v.75h-.75zM437.3 292.1h.75v.75h-.75zM431.1 290.8h.75v.75h-.75zM426.8 289.8h.75v.75h-.75zM427.1 290.2h.75v.75h-.75zM417.9 282.8h.75v.75h-.75zM432.5 285.1h.75v.75h-.75zM403.6 288.7h.75v.75h-.75zM404.9 302.5h.75v.75h-.75zM434.0 292.9h.75v.75h-.75zM420.6 279.0h.75v.75h-.75zM425.0 287.9h.75v.75h-.75zM419.6 289.0h.75v.75h-.75zM433.7 292.4h.75v.75h-.75zM417.1 271.1h.75v.75h-.75zM427.1 282.7h.75v.75h-.75zM431.4 300.4h.75v.75h-.75zM442.8 290.0h.75v.75h-.75zM437.7 300.4h.75v.75h-.75zM427.5 289.9h.75v.75h-.75zM435.3 287.5h.75v.75h-.75zM422.3 282.0h.75v.75h-.75zM427.2 283.0h.75v.75h-.75zM434.8 285.3h.75v.75h-.75zM441.2 297.1h.75v.75h-.75zM415.3 296.1h.75v.75h-.75zM423.3 298.3h.75v.75h-.75zM432.1 287.5h.75v.75h-.75zM433.6 283.6h.75v.75h-.75zM430.4 290.8h.75v.75h-.75zM425.8 290.8h.75v.75h-.75zM417.7 292.2h.75v.75h-.75zM415.7 292.7h.75v.75h-.75zM431.8 293.3h.75v.75h-.75zM422.0 311.1h.75v.75h-.75zM425.1 289.1h.75v.75h-.75zM420.1 298.9h.75v.75h-.75zM422.9 295.5h.75v.75h-.75zM418.4 290.4h.75v.75h-.75zM423.9 295.1h.75v.75h-.75zM424.6 281.5h.75v.75h-.75zM431.7 279.0h.75v.75h-.75zM418.3 293.9h.75v.75h-.75zM409.7 293.8h.75v.75h-.75zM423.7 281.1h.75v.75h-.75zM429.8 292.9h.75v.75h-.75zM421.9 286.8h.75v.75h-.75zM435.1 293.8h.75v.75h-.75zM427.0 282.3h.75v.75h-.75zM418.6 283.6h.75v.75h-.75zM434.0 292.5h.75v.75h-.75zM430.5 298.7h.75v.75h-.75zM424.8 285.3h.75v.75h-.75zM424.0 302.6h.75v.75h-.75zM408.2 290.4h.75v.75h-.75zM431.9 288.7h.75v.75h-.75zM449.7 297.1h.75v.75h-.75zM435.0 281.5h.75v.75h-.75zM432.4 285.5h.75v.75h-.75zM428.1 289.8h.75v.75h-.75zM423.2 293.1h.75v.75h-.75zM443.1 296.1h.75v.75h-.75zM429.8 273.7h.75v.75h-.75zM438.0 296.4h.75v.75h-.75zM382.4 286.7h.75v.75h-.75zM384.8 284.5h.75v.75h-.75zM385.2 282.8h.75v.75h-.75zM380.4 290.0h.75v.75h-.75zM378.8 289.9h.75v.75h-.75zM384.5 281.2h.75v.75h-.75zM385.6 286.2h.75v.75h-.75zM384.5 291.3h.75v.75h-.75zM381.7 286.5h.75v.75h-.75zM378.2 285.3h.75v.75h-.75zM380.8 300.7h.75v.75h-.75zM385.8 280.9h.75v.75h-.75zM385.2 291.4h.75v.75h-.75zM381.9 293.0h.75v.75h-.75zM385.2 286.2h.75v.75h-.75zM382.2 291.0h.75v.75h-.75zM380.2 291.2h.75v.75h-.75zM382.8 285.5h.75v.75h-.75zM380.6 292.0h.75v.75h-.75zM385.4 292.1h.75v.75h-.75zM380.6 294.9h.75v.75h-.75zM383.5 293.9h.75v.75h-.75zM386.3 284.1h.75v.75h-.75zM382.6 286.1h.75v.75h-.75zM380.5 303.1h.75v.75h-.75z" fill="#000" fill-opacity="0.42"/>
<path d="M431.9 266.9h.75v.75h-.75zM419.9 289.5h.75v.75h-.75zM436.8 301.5h.75v.75h-.75zM405.9 302.6h.75v.75h-.75zM418.9 300.5h.75v.75h-.75zM404.8 297.4h.75v.75h-.75zM421.9 278.9h.75v.75h-.75zM409.9 297.7h.75v.75h-.75zM398.6 313.7h.75v.75h-.75zM379.8 293.1h.75v.75h-.75zM390.1 310.2h.75v.75h-.75zM399.0 300.9h.75v.75h-.75zM419.0 270.1h.75v.75h-.75zM420.5 286.0h.75v.75h-.75zM404.0 297.9h.75v.75h-.75z" fill="#000" fill-opacity="0.4"/>
<rect x="362.7" y="250.6" width="101.5" height="100.8" fill="none" stroke="#333" stroke-width="0.9"/>
<line x1="401.8" y1="250.6" x2="401.8" y2="351.4" stroke="#222" stroke-width="0.85" />
<line x1="362.7" y1="304.5" x2="464.2" y2="304.5" stroke="#1a1a1a" stroke-width="0.85" />
<text x="366.3" y="260.4" font-size="8.0" fill="#1a1a1a">1.07</text>
<text x="460.9" y="260.4" font-size="8.0" text-anchor="end" fill="#1a1a1a">32.9</text>
<text x="366.3" y="347.6" font-size="8.0" fill="#1a1a1a">38.4</text>
<text x="460.9" y="347.6" font-size="8.0" text-anchor="end" fill="#1a1a1a">27.7</text>
<path d="M360.2,250.8h2.5 M360.2,268h2.5 M360.2,284.8h2.5 M360.2,304.3h2.5 M361.4,262.82h1.3 M361.4,259.79h1.3 M361.4,257.64h1.3 M361.4,255.98h1.3 M361.4,254.62h1.3 M361.4,253.46h1.3 M361.4,252.47h1.3 M361.4,251.59h1.3 M361.4,279.74h1.3 M361.4,276.78h1.3 M361.4,274.69h1.3 M361.4,273.06h1.3 M361.4,271.73h1.3 M361.4,270.6h1.3 M361.4,269.63h1.3 M361.4,268.77h1.3 M361.4,298.43h1.3 M361.4,295h1.3 M361.4,292.56h1.3 M361.4,290.67h1.3 M361.4,289.13h1.3 M361.4,287.82h1.3 M361.4,286.69h1.3 M361.4,285.69h1.3 M361.4,308.56h1.3 M361.4,312.83h1.3 M361.4,317.09h1.3 M361.4,321.35h1.3 M361.4,325.62h1.3 M361.4,329.88h1.3 M361.4,334.15h1.3 M361.4,338.41h1.3 M361.4,342.67h1.3 M361.4,346.94h1.3 M361.4,351.2h1.3 M360.2,351.2h2.5 M370.7,351.4v1.5 M383.6,351.4v1.5 M397.6,351.4v1.5 M402.1,351.4v1.5 M414.7,351.4v1.5 M422.7,351.4v1.5 M430.2,351.4v1.5 M437.2,351.4v1.5 M442.2,351.4v1.5 M445.7,351.4v1.5 M452.7,351.4v1.5 M459.5,351.4v1.5 M463.2,351.4v1.5 M390.6,351.4v2.5 M430.2,351.4v2.5 M452.7,351.4v2.5" stroke="#333" stroke-width="0.7" fill="none"/>
<rect x="360.5" y="324.5" width="1.6" height="6.5" fill="#111"/>
<rect x="388.8" y="351.7" width="3.2" height="1.6" fill="#111"/>
<text x="390.6" y="363.6" font-size="7.4" text-anchor="middle" fill="#1a1a1a">0</text>
<text x="429.5" y="363.6" font-size="7.4" text-anchor="middle" fill="#1a1a1a">10<tspan font-size="4.8" dy="-3.2">4</tspan></text>
<text x="452.4" y="363.6" font-size="7.4" text-anchor="middle" fill="#1a1a1a">10<tspan font-size="4.8" dy="-3.2">5</tspan></text>
<text x="523.95" y="245.5" font-size="8.8" text-anchor="middle" fill="#1a1a1a">Week 3</text>
<path d="M527.4 309.0h.75v.75h-.75zM537.0 306.6h.75v.75h-.75zM514.0 308.2h.75v.75h-.75zM526.1 311.0h.75v.75h-.75zM522.3 307.0h.75v.75h-.75zM521.9 308.8h.75v.75h-.75zM519.1 307.0h.75v.75h-.75zM493.0 310.9h.75v.75h-.75zM529.8 307.6h.75v.75h-.75zM496.5 311.6h.75v.75h-.75zM500.7 315.1h.75v.75h-.75zM520.6 305.9h.75v.75h-.75zM526.9 305.9h.75v.75h-.75zM524.7 307.9h.75v.75h-.75zM507.2 311.5h.75v.75h-.75zM505.7 313.1h.75v.75h-.75zM519.3 306.4h.75v.75h-.75zM501.0 314.3h.75v.75h-.75zM533.4 304.1h.75v.75h-.75zM535.8 306.7h.75v.75h-.75zM516.7 308.7h.75v.75h-.75zM516.6 311.9h.75v.75h-.75zM520.0 304.6h.75v.75h-.75zM540.6 307.6h.75v.75h-.75zM507.8 309.3h.75v.75h-.75zM509.8 309.9h.75v.75h-.75zM523.1 308.6h.75v.75h-.75zM512.7 307.8h.75v.75h-.75zM527.6 307.3h.75v.75h-.75zM541.7 304.0h.75v.75h-.75zM527.0 307.6h.75v.75h-.75zM511.6 312.4h.75v.75h-.75zM520.0 306.6h.75v.75h-.75zM516.0 311.1h.75v.75h-.75zM506.9 313.0h.75v.75h-.75zM525.9 307.1h.75v.75h-.75zM533.3 310.4h.75v.75h-.75zM525.1 308.1h.75v.75h-.75zM538.2 309.2h.75v.75h-.75zM509.5 309.4h.75v.75h-.75zM516.7 308.0h.75v.75h-.75zM504.0 312.4h.75v.75h-.75zM519.9 308.7h.75v.75h-.75zM533.2 305.6h.75v.75h-.75zM518.5 309.2h.75v.75h-.75zM514.5 309.0h.75v.75h-.75zM526.8 307.6h.75v.75h-.75zM532.4 305.3h.75v.75h-.75zM520.7 305.4h.75v.75h-.75zM517.6 307.3h.75v.75h-.75zM533.1 308.3h.75v.75h-.75zM524.7 311.7h.75v.75h-.75zM534.0 308.1h.75v.75h-.75zM511.5 306.6h.75v.75h-.75zM518.6 307.9h.75v.75h-.75zM512.3 308.9h.75v.75h-.75zM502.4 313.9h.75v.75h-.75zM507.1 308.8h.75v.75h-.75zM524.4 304.5h.75v.75h-.75zM528.7 309.3h.75v.75h-.75zM515.5 306.8h.75v.75h-.75zM513.6 305.4h.75v.75h-.75zM533.3 306.8h.75v.75h-.75zM511.2 307.7h.75v.75h-.75zM525.3 310.9h.75v.75h-.75zM505.7 309.1h.75v.75h-.75zM501.1 312.4h.75v.75h-.75zM521.2 313.0h.75v.75h-.75zM517.6 307.9h.75v.75h-.75zM511.9 311.3h.75v.75h-.75zM502.4 312.3h.75v.75h-.75zM521.4 307.2h.75v.75h-.75zM510.0 312.0h.75v.75h-.75zM538.1 305.2h.75v.75h-.75zM524.9 311.5h.75v.75h-.75zM512.5 308.9h.75v.75h-.75zM506.3 309.9h.75v.75h-.75zM518.0 307.8h.75v.75h-.75zM510.9 306.3h.75v.75h-.75zM504.8 308.4h.75v.75h-.75zM525.5 306.7h.75v.75h-.75zM510.4 311.1h.75v.75h-.75zM524.6 306.3h.75v.75h-.75zM512.7 310.8h.75v.75h-.75zM522.6 306.4h.75v.75h-.75zM521.5 308.2h.75v.75h-.75zM530.3 305.3h.75v.75h-.75zM528.3 308.3h.75v.75h-.75zM508.8 312.2h.75v.75h-.75zM528.1 304.6h.75v.75h-.75zM539.3 303.5h.75v.75h-.75zM509.4 309.2h.75v.75h-.75zM527.2 308.8h.75v.75h-.75zM518.4 311.6h.75v.75h-.75zM523.6 311.0h.75v.75h-.75zM548.4 305.2h.75v.75h-.75zM492.0 311.2h.75v.75h-.75zM507.8 310.3h.75v.75h-.75zM519.7 305.9h.75v.75h-.75zM506.9 309.6h.75v.75h-.75zM516.2 303.4h.75v.75h-.75zM529.2 307.3h.75v.75h-.75zM519.0 309.2h.75v.75h-.75zM508.2 309.9h.75v.75h-.75zM530.2 309.4h.75v.75h-.75zM523.8 307.4h.75v.75h-.75zM510.7 312.5h.75v.75h-.75zM524.4 307.0h.75v.75h-.75zM495.8 309.8h.75v.75h-.75zM498.9 313.9h.75v.75h-.75zM520.8 306.8h.75v.75h-.75zM516.8 314.5h.75v.75h-.75zM531.5 304.1h.75v.75h-.75zM517.3 306.2h.75v.75h-.75zM500.7 311.4h.75v.75h-.75zM545.2 308.6h.75v.75h-.75zM519.4 307.7h.75v.75h-.75zM521.4 310.5h.75v.75h-.75zM502.9 306.6h.75v.75h-.75zM539.2 306.6h.75v.75h-.75zM536.3 306.9h.75v.75h-.75zM534.7 305.2h.75v.75h-.75zM524.8 311.2h.75v.75h-.75zM529.8 306.2h.75v.75h-.75zM528.4 305.9h.75v.75h-.75zM503.8 311.7h.75v.75h-.75zM534.3 308.5h.75v.75h-.75zM505.7 312.2h.75v.75h-.75zM526.2 306.7h.75v.75h-.75zM492.5 314.3h.75v.75h-.75zM528.7 308.4h.75v.75h-.75zM499.9 307.8h.75v.75h-.75zM530.2 308.9h.75v.75h-.75zM524.3 307.4h.75v.75h-.75zM523.1 306.9h.75v.75h-.75zM515.4 307.2h.75v.75h-.75zM521.7 307.3h.75v.75h-.75zM529.5 308.8h.75v.75h-.75zM510.7 313.7h.75v.75h-.75zM507.0 311.2h.75v.75h-.75zM531.1 309.8h.75v.75h-.75zM495.3 313.9h.75v.75h-.75zM532.7 310.0h.75v.75h-.75zM494.6 310.3h.75v.75h-.75zM517.8 307.8h.75v.75h-.75zM533.4 305.2h.75v.75h-.75zM532.5 308.1h.75v.75h-.75zM502.9 308.5h.75v.75h-.75zM513.9 309.5h.75v.75h-.75zM529.8 306.8h.75v.75h-.75zM528.5 303.9h.75v.75h-.75zM485.7 312.2h.75v.75h-.75zM523.9 307.2h.75v.75h-.75zM508.1 311.0h.75v.75h-.75zM540.1 305.6h.75v.75h-.75zM510.8 307.8h.75v.75h-.75zM540.4 305.7h.75v.75h-.75zM526.0 310.4h.75v.75h-.75zM530.5 305.1h.75v.75h-.75zM529.7 309.1h.75v.75h-.75zM524.6 310.1h.75v.75h-.75zM512.9 309.2h.75v.75h-.75zM513.5 311.0h.75v.75h-.75zM512.0 310.4h.75v.75h-.75zM507.0 309.9h.75v.75h-.75zM515.0 308.9h.75v.75h-.75zM520.4 308.0h.75v.75h-.75zM516.0 304.4h.75v.75h-.75zM530.9 305.7h.75v.75h-.75zM516.1 307.1h.75v.75h-.75zM529.6 305.2h.75v.75h-.75zM524.8 310.5h.75v.75h-.75zM537.3 308.8h.75v.75h-.75zM525.4 305.1h.75v.75h-.75zM533.4 309.4h.75v.75h-.75zM528.4 309.2h.75v.75h-.75zM519.7 307.4h.75v.75h-.75zM531.2 309.8h.75v.75h-.75zM508.0 312.1h.75v.75h-.75zM522.0 310.2h.75v.75h-.75zM522.4 310.6h.75v.75h-.75zM530.5 309.1h.75v.75h-.75zM504.4 312.4h.75v.75h-.75zM519.4 306.1h.75v.75h-.75zM526.4 304.6h.75v.75h-.75zM529.4 311.0h.75v.75h-.75zM514.0 311.3h.75v.75h-.75zM524.3 309.4h.75v.75h-.75zM504.7 311.9h.75v.75h-.75zM520.9 310.0h.75v.75h-.75zM519.6 311.0h.75v.75h-.75zM522.4 309.7h.75v.75h-.75zM534.1 307.1h.75v.75h-.75zM530.1 307.7h.75v.75h-.75zM524.8 306.7h.75v.75h-.75zM528.0 310.2h.75v.75h-.75zM518.7 310.5h.75v.75h-.75zM523.6 305.6h.75v.75h-.75zM523.5 311.0h.75v.75h-.75zM513.6 305.5h.75v.75h-.75zM521.4 307.0h.75v.75h-.75zM539.8 305.9h.75v.75h-.75zM519.1 307.3h.75v.75h-.75zM521.9 307.1h.75v.75h-.75zM509.7 309.8h.75v.75h-.75zM511.1 312.6h.75v.75h-.75zM506.8 310.1h.75v.75h-.75zM511.6 306.6h.75v.75h-.75zM536.6 301.8h.75v.75h-.75zM534.6 303.6h.75v.75h-.75zM521.0 313.3h.75v.75h-.75zM496.2 308.7h.75v.75h-.75zM533.5 307.2h.75v.75h-.75zM513.5 309.3h.75v.75h-.75zM509.1 310.2h.75v.75h-.75zM535.3 305.7h.75v.75h-.75zM521.2 311.0h.75v.75h-.75zM540.5 304.6h.75v.75h-.75zM522.5 307.0h.75v.75h-.75zM512.4 308.7h.75v.75h-.75zM512.2 305.8h.75v.75h-.75zM497.9 309.8h.75v.75h-.75zM521.1 311.0h.75v.75h-.75zM513.7 309.0h.75v.75h-.75zM526.7 309.3h.75v.75h-.75zM518.2 308.7h.75v.75h-.75zM539.3 305.3h.75v.75h-.75zM513.7 305.8h.75v.75h-.75zM523.9 307.5h.75v.75h-.75zM539.7 305.2h.75v.75h-.75zM528.3 309.5h.75v.75h-.75zM536.6 303.5h.75v.75h-.75zM536.1 306.5h.75v.75h-.75zM518.2 308.1h.75v.75h-.75zM515.1 308.4h.75v.75h-.75zM494.6 313.0h.75v.75h-.75zM519.8 306.5h.75v.75h-.75zM519.4 313.6h.75v.75h-.75zM523.3 307.3h.75v.75h-.75zM537.4 304.5h.75v.75h-.75zM517.6 307.7h.75v.75h-.75zM517.1 310.5h.75v.75h-.75zM525.4 306.3h.75v.75h-.75zM518.0 309.0h.75v.75h-.75zM515.0 309.1h.75v.75h-.75zM511.5 308.1h.75v.75h-.75zM519.6 306.4h.75v.75h-.75zM523.8 307.6h.75v.75h-.75zM509.4 308.6h.75v.75h-.75zM514.2 308.9h.75v.75h-.75zM520.5 308.0h.75v.75h-.75zM510.5 312.9h.75v.75h-.75zM529.0 307.6h.75v.75h-.75zM529.5 308.0h.75v.75h-.75zM516.6 309.2h.75v.75h-.75zM547.9 307.0h.75v.75h-.75zM530.3 306.3h.75v.75h-.75zM526.3 312.6h.75v.75h-.75zM524.2 310.3h.75v.75h-.75zM532.8 308.2h.75v.75h-.75zM536.1 306.9h.75v.75h-.75zM524.4 306.6h.75v.75h-.75zM547.3 305.6h.75v.75h-.75zM520.9 311.4h.75v.75h-.75zM514.2 309.3h.75v.75h-.75zM511.1 309.7h.75v.75h-.75zM515.4 310.3h.75v.75h-.75zM517.8 307.5h.75v.75h-.75zM516.2 308.8h.75v.75h-.75zM514.2 311.3h.75v.75h-.75zM526.5 308.0h.75v.75h-.75zM506.9 311.4h.75v.75h-.75zM505.9 310.8h.75v.75h-.75zM519.6 307.3h.75v.75h-.75zM510.4 308.3h.75v.75h-.75zM540.9 305.2h.75v.75h-.75zM517.4 310.9h.75v.75h-.75zM524.0 310.3h.75v.75h-.75zM506.1 308.0h.75v.75h-.75zM554.4 303.9h.75v.75h-.75zM516.3 309.4h.75v.75h-.75zM529.4 304.8h.75v.75h-.75zM522.3 308.2h.75v.75h-.75zM526.4 308.1h.75v.75h-.75zM513.5 307.5h.75v.75h-.75zM493.9 314.0h.75v.75h-.75zM503.7 309.8h.75v.75h-.75zM536.7 305.5h.75v.75h-.75zM525.7 307.3h.75v.75h-.75zM526.6 307.7h.75v.75h-.75zM514.3 312.2h.75v.75h-.75zM516.1 306.2h.75v.75h-.75zM516.0 310.2h.75v.75h-.75zM507.8 311.8h.75v.75h-.75zM527.9 312.0h.75v.75h-.75zM512.7 310.9h.75v.75h-.75zM501.7 310.0h.75v.75h-.75zM520.5 309.3h.75v.75h-.75zM518.7 308.5h.75v.75h-.75zM512.7 308.5h.75v.75h-.75zM522.6 309.4h.75v.75h-.75zM526.3 309.8h.75v.75h-.75zM531.2 303.2h.75v.75h-.75zM513.8 309.0h.75v.75h-.75zM512.8 311.7h.75v.75h-.75zM527.1 307.4h.75v.75h-.75zM520.9 311.1h.75v.75h-.75zM515.6 308.4h.75v.75h-.75zM528.9 308.4h.75v.75h-.75zM534.2 307.5h.75v.75h-.75zM527.0 306.5h.75v.75h-.75zM509.5 309.9h.75v.75h-.75zM491.7 313.1h.75v.75h-.75zM529.5 307.5h.75v.75h-.75zM517.3 311.2h.75v.75h-.75zM519.1 310.7h.75v.75h-.75zM542.4 307.1h.75v.75h-.75zM529.2 308.4h.75v.75h-.75zM522.0 308.9h.75v.75h-.75zM520.3 310.8h.75v.75h-.75zM502.4 310.3h.75v.75h-.75zM525.9 306.0h.75v.75h-.75zM518.0 307.3h.75v.75h-.75zM524.1 309.8h.75v.75h-.75zM534.6 307.7h.75v.75h-.75zM511.9 310.1h.75v.75h-.75zM525.6 310.8h.75v.75h-.75zM497.0 312.3h.75v.75h-.75zM500.4 312.6h.75v.75h-.75zM524.1 309.1h.75v.75h-.75zM528.6 308.2h.75v.75h-.75zM512.7 310.2h.75v.75h-.75zM531.8 306.7h.75v.75h-.75zM519.3 306.1h.75v.75h-.75zM531.2 306.0h.75v.75h-.75zM511.4 308.7h.75v.75h-.75zM510.3 309.3h.75v.75h-.75zM532.8 308.5h.75v.75h-.75zM534.5 309.8h.75v.75h-.75zM510.1 310.8h.75v.75h-.75zM535.5 311.4h.75v.75h-.75zM504.2 307.6h.75v.75h-.75zM524.1 307.3h.75v.75h-.75zM509.0 310.8h.75v.75h-.75zM510.5 305.0h.75v.75h-.75zM519.1 308.9h.75v.75h-.75zM526.2 309.7h.75v.75h-.75zM521.1 307.9h.75v.75h-.75zM511.9 306.1h.75v.75h-.75zM515.0 311.3h.75v.75h-.75zM526.6 312.0h.75v.75h-.75zM517.2 305.1h.75v.75h-.75zM528.1 309.7h.75v.75h-.75zM506.6 306.8h.75v.75h-.75zM521.0 309.9h.75v.75h-.75zM507.5 309.4h.75v.75h-.75zM510.8 307.2h.75v.75h-.75zM505.6 310.7h.75v.75h-.75zM515.2 307.7h.75v.75h-.75zM492.5 315.8h.75v.75h-.75zM509.3 309.6h.75v.75h-.75zM507.5 311.0h.75v.75h-.75zM503.5 310.9h.75v.75h-.75zM517.5 310.8h.75v.75h-.75zM507.6 308.8h.75v.75h-.75zM517.3 313.3h.75v.75h-.75zM503.9 311.2h.75v.75h-.75zM512.4 310.2h.75v.75h-.75zM526.0 308.0h.75v.75h-.75zM522.0 308.8h.75v.75h-.75zM513.0 309.0h.75v.75h-.75zM501.8 310.1h.75v.75h-.75zM511.0 309.1h.75v.75h-.75zM526.9 308.4h.75v.75h-.75zM524.3 310.3h.75v.75h-.75zM494.4 312.7h.75v.75h-.75zM518.8 308.4h.75v.75h-.75zM505.6 311.5h.75v.75h-.75zM531.3 309.2h.75v.75h-.75zM518.4 310.1h.75v.75h-.75zM529.2 311.1h.75v.75h-.75zM531.9 307.2h.75v.75h-.75zM520.1 308.8h.75v.75h-.75zM521.3 307.3h.75v.75h-.75zM526.9 306.1h.75v.75h-.75zM510.8 310.4h.75v.75h-.75zM513.0 308.9h.75v.75h-.75zM497.7 313.1h.75v.75h-.75zM518.9 308.3h.75v.75h-.75zM523.9 308.4h.75v.75h-.75zM512.3 313.7h.75v.75h-.75zM514.6 311.2h.75v.75h-.75zM537.9 304.8h.75v.75h-.75zM519.8 306.8h.75v.75h-.75zM529.9 306.5h.75v.75h-.75zM507.9 312.8h.75v.75h-.75zM528.3 305.5h.75v.75h-.75zM531.4 307.4h.75v.75h-.75zM547.8 308.5h.75v.75h-.75zM513.2 308.8h.75v.75h-.75zM509.9 310.1h.75v.75h-.75zM519.7 310.1h.75v.75h-.75zM519.5 305.4h.75v.75h-.75zM511.0 312.6h.75v.75h-.75zM531.0 306.7h.75v.75h-.75zM517.6 308.4h.75v.75h-.75zM518.8 305.1h.75v.75h-.75zM528.1 306.0h.75v.75h-.75zM519.8 303.1h.75v.75h-.75zM521.8 311.1h.75v.75h-.75zM496.1 314.8h.75v.75h-.75zM523.7 306.4h.75v.75h-.75zM502.8 313.2h.75v.75h-.75zM521.9 309.5h.75v.75h-.75zM516.0 307.3h.75v.75h-.75zM527.8 305.4h.75v.75h-.75zM527.9 303.9h.75v.75h-.75zM509.0 306.8h.75v.75h-.75zM532.2 303.2h.75v.75h-.75zM507.3 311.5h.75v.75h-.75zM522.0 312.9h.75v.75h-.75zM538.4 307.4h.75v.75h-.75zM525.7 303.9h.75v.75h-.75zM509.7 309.1h.75v.75h-.75zM516.8 306.0h.75v.75h-.75zM509.1 308.1h.75v.75h-.75zM530.2 308.0h.75v.75h-.75zM515.5 308.5h.75v.75h-.75zM521.8 306.7h.75v.75h-.75zM515.8 305.4h.75v.75h-.75zM526.2 309.7h.75v.75h-.75zM522.9 309.1h.75v.75h-.75zM523.4 312.4h.75v.75h-.75zM520.8 305.6h.75v.75h-.75zM508.2 311.5h.75v.75h-.75zM530.3 308.8h.75v.75h-.75zM527.8 307.8h.75v.75h-.75zM503.3 309.1h.75v.75h-.75zM500.0 310.3h.75v.75h-.75zM504.8 310.7h.75v.75h-.75zM516.7 304.8h.75v.75h-.75zM526.8 309.2h.75v.75h-.75zM504.5 310.8h.75v.75h-.75zM526.4 307.0h.75v.75h-.75zM528.0 307.8h.75v.75h-.75zM530.2 307.5h.75v.75h-.75zM517.3 309.9h.75v.75h-.75zM527.2 308.0h.75v.75h-.75zM514.0 307.6h.75v.75h-.75zM514.8 307.9h.75v.75h-.75zM521.1 308.7h.75v.75h-.75zM518.0 308.7h.75v.75h-.75zM521.1 311.6h.75v.75h-.75zM531.3 305.7h.75v.75h-.75zM523.2 307.3h.75v.75h-.75zM517.8 308.2h.75v.75h-.75zM511.9 306.6h.75v.75h-.75zM493.0 312.4h.75v.75h-.75zM531.0 305.1h.75v.75h-.75zM524.0 307.1h.75v.75h-.75zM521.5 306.5h.75v.75h-.75zM516.3 308.7h.75v.75h-.75zM493.9 312.3h.75v.75h-.75zM516.7 303.6h.75v.75h-.75zM525.6 307.6h.75v.75h-.75zM521.0 309.1h.75v.75h-.75zM514.1 306.9h.75v.75h-.75zM514.0 308.3h.75v.75h-.75zM542.7 309.4h.75v.75h-.75zM513.5 308.4h.75v.75h-.75zM522.3 309.3h.75v.75h-.75zM511.2 307.4h.75v.75h-.75zM539.4 308.1h.75v.75h-.75zM501.8 307.0h.75v.75h-.75zM510.1 310.2h.75v.75h-.75zM524.4 307.1h.75v.75h-.75zM501.7 311.3h.75v.75h-.75zM525.1 307.7h.75v.75h-.75zM513.6 310.5h.75v.75h-.75zM517.8 306.3h.75v.75h-.75zM519.3 305.7h.75v.75h-.75zM529.0 308.2h.75v.75h-.75zM508.2 310.4h.75v.75h-.75zM531.3 302.3h.75v.75h-.75zM517.6 312.3h.75v.75h-.75zM502.2 310.4h.75v.75h-.75zM503.5 310.4h.75v.75h-.75zM492.7 308.5h.75v.75h-.75zM513.0 309.6h.75v.75h-.75zM522.8 309.0h.75v.75h-.75zM531.1 308.5h.75v.75h-.75zM526.2 305.5h.75v.75h-.75zM517.9 315.6h.75v.75h-.75zM543.1 307.2h.75v.75h-.75zM526.8 309.7h.75v.75h-.75zM514.9 313.3h.75v.75h-.75zM514.6 308.9h.75v.75h-.75zM541.3 301.1h.75v.75h-.75zM522.1 304.4h.75v.75h-.75zM511.7 309.3h.75v.75h-.75zM514.9 309.4h.75v.75h-.75zM510.4 309.4h.75v.75h-.75zM505.8 309.4h.75v.75h-.75zM504.0 311.9h.75v.75h-.75zM505.0 311.9h.75v.75h-.75zM514.1 308.5h.75v.75h-.75zM531.4 307.2h.75v.75h-.75zM498.4 312.3h.75v.75h-.75zM487.5 313.2h.75v.75h-.75zM514.0 306.1h.75v.75h-.75zM519.4 307.8h.75v.75h-.75zM540.1 304.8h.75v.75h-.75zM540.0 308.8h.75v.75h-.75zM511.8 307.7h.75v.75h-.75zM532.9 306.4h.75v.75h-.75zM520.3 307.8h.75v.75h-.75zM505.5 309.5h.75v.75h-.75zM507.9 306.6h.75v.75h-.75zM516.0 312.9h.75v.75h-.75zM536.1 306.2h.75v.75h-.75zM520.3 309.5h.75v.75h-.75zM533.5 307.3h.75v.75h-.75zM513.4 308.4h.75v.75h-.75zM531.7 312.6h.75v.75h-.75zM511.3 305.0h.75v.75h-.75zM527.4 307.3h.75v.75h-.75zM520.5 311.1h.75v.75h-.75zM519.0 305.6h.75v.75h-.75zM497.4 311.3h.75v.75h-.75zM506.2 310.9h.75v.75h-.75zM504.7 309.6h.75v.75h-.75zM502.6 309.9h.75v.75h-.75zM514.0 310.5h.75v.75h-.75zM533.2 306.3h.75v.75h-.75zM509.9 314.1h.75v.75h-.75zM522.8 309.4h.75v.75h-.75zM525.7 310.9h.75v.75h-.75zM529.9 308.6h.75v.75h-.75zM526.8 305.6h.75v.75h-.75zM512.0 309.2h.75v.75h-.75zM519.7 308.5h.75v.75h-.75zM522.1 308.2h.75v.75h-.75zM513.6 305.7h.75v.75h-.75zM528.0 308.7h.75v.75h-.75zM509.3 310.9h.75v.75h-.75zM523.0 308.2h.75v.75h-.75zM498.4 308.6h.75v.75h-.75zM512.6 312.9h.75v.75h-.75zM509.3 309.0h.75v.75h-.75zM506.5 309.1h.75v.75h-.75zM521.9 303.6h.75v.75h-.75zM488.0 314.1h.75v.75h-.75zM518.9 307.2h.75v.75h-.75zM529.5 309.3h.75v.75h-.75zM495.8 311.2h.75v.75h-.75zM530.6 305.5h.75v.75h-.75zM515.6 311.1h.75v.75h-.75zM515.4 306.4h.75v.75h-.75zM510.9 306.7h.75v.75h-.75zM524.3 304.0h.75v.75h-.75zM529.2 303.6h.75v.75h-.75zM518.8 305.3h.75v.75h-.75zM515.6 311.3h.75v.75h-.75zM531.3 309.8h.75v.75h-.75zM517.8 308.9h.75v.75h-.75zM521.4 309.6h.75v.75h-.75zM514.7 311.5h.75v.75h-.75zM522.6 310.6h.75v.75h-.75zM524.1 309.4h.75v.75h-.75zM510.6 308.7h.75v.75h-.75zM504.5 309.8h.75v.75h-.75zM517.0 310.7h.75v.75h-.75zM505.9 317.4h.75v.75h-.75zM517.7 311.5h.75v.75h-.75zM529.3 301.6h.75v.75h-.75zM516.3 312.2h.75v.75h-.75zM492.5 313.7h.75v.75h-.75zM508.6 308.9h.75v.75h-.75zM520.6 304.2h.75v.75h-.75zM520.6 306.9h.75v.75h-.75zM510.7 311.2h.75v.75h-.75zM557.1 304.3h.75v.75h-.75zM524.7 307.7h.75v.75h-.75zM510.9 310.2h.75v.75h-.75zM535.3 306.8h.75v.75h-.75zM528.3 306.8h.75v.75h-.75zM545.7 301.4h.75v.75h-.75zM525.2 308.9h.75v.75h-.75zM521.3 305.8h.75v.75h-.75zM506.2 309.7h.75v.75h-.75zM519.4 305.8h.75v.75h-.75zM507.2 311.3h.75v.75h-.75zM529.7 305.9h.75v.75h-.75zM510.8 308.0h.75v.75h-.75zM545.8 306.1h.75v.75h-.75zM518.2 310.9h.75v.75h-.75zM544.0 307.9h.75v.75h-.75zM503.0 310.4h.75v.75h-.75zM514.1 308.4h.75v.75h-.75zM505.2 309.5h.75v.75h-.75z" fill="#000" fill-opacity="0.55"/>
<path d="M515.7 309.3h.75v.75h-.75zM523.8 306.1h.75v.75h-.75zM510.9 308.9h.75v.75h-.75zM528.6 307.7h.75v.75h-.75zM522.7 303.9h.75v.75h-.75zM519.9 307.4h.75v.75h-.75zM521.0 306.7h.75v.75h-.75zM520.4 307.4h.75v.75h-.75zM544.0 306.0h.75v.75h-.75zM522.2 307.9h.75v.75h-.75zM522.8 308.1h.75v.75h-.75zM520.7 308.2h.75v.75h-.75zM531.5 307.8h.75v.75h-.75zM526.2 309.1h.75v.75h-.75zM525.2 306.4h.75v.75h-.75zM510.6 308.7h.75v.75h-.75zM523.3 308.3h.75v.75h-.75zM531.6 306.1h.75v.75h-.75zM517.8 309.5h.75v.75h-.75zM532.4 306.1h.75v.75h-.75zM526.4 309.1h.75v.75h-.75zM526.1 307.4h.75v.75h-.75zM508.4 311.4h.75v.75h-.75zM528.5 307.3h.75v.75h-.75zM520.0 306.8h.75v.75h-.75zM522.9 307.8h.75v.75h-.75zM531.7 305.3h.75v.75h-.75zM534.5 306.4h.75v.75h-.75zM532.4 305.5h.75v.75h-.75zM526.5 308.9h.75v.75h-.75zM524.3 305.9h.75v.75h-.75zM521.3 308.8h.75v.75h-.75zM513.0 307.4h.75v.75h-.75zM525.3 306.4h.75v.75h-.75zM528.6 305.7h.75v.75h-.75zM509.9 308.7h.75v.75h-.75zM534.7 305.3h.75v.75h-.75zM523.7 308.1h.75v.75h-.75zM516.8 310.0h.75v.75h-.75zM525.1 308.2h.75v.75h-.75zM510.9 307.3h.75v.75h-.75zM503.1 310.2h.75v.75h-.75zM522.1 308.9h.75v.75h-.75zM534.7 306.0h.75v.75h-.75zM521.8 308.6h.75v.75h-.75zM535.0 305.3h.75v.75h-.75zM528.3 306.9h.75v.75h-.75zM521.4 309.1h.75v.75h-.75zM517.7 307.3h.75v.75h-.75zM528.7 307.1h.75v.75h-.75zM521.7 307.9h.75v.75h-.75zM527.4 306.9h.75v.75h-.75zM529.5 307.5h.75v.75h-.75zM535.0 307.9h.75v.75h-.75zM530.1 306.7h.75v.75h-.75zM524.5 307.0h.75v.75h-.75zM544.9 304.8h.75v.75h-.75zM528.1 308.9h.75v.75h-.75zM513.5 308.1h.75v.75h-.75zM520.6 307.0h.75v.75h-.75zM514.2 308.4h.75v.75h-.75zM533.5 307.4h.75v.75h-.75zM524.0 307.8h.75v.75h-.75zM511.5 310.2h.75v.75h-.75zM526.8 306.1h.75v.75h-.75zM525.3 307.4h.75v.75h-.75zM519.7 307.1h.75v.75h-.75zM518.6 307.3h.75v.75h-.75zM527.2 307.8h.75v.75h-.75zM526.1 307.3h.75v.75h-.75zM521.0 310.6h.75v.75h-.75zM510.1 311.0h.75v.75h-.75zM526.4 307.5h.75v.75h-.75zM519.9 308.0h.75v.75h-.75zM514.7 307.3h.75v.75h-.75zM522.7 305.9h.75v.75h-.75zM530.2 308.3h.75v.75h-.75zM497.9 309.3h.75v.75h-.75zM525.8 307.8h.75v.75h-.75zM524.7 308.2h.75v.75h-.75zM529.5 308.1h.75v.75h-.75zM537.1 306.1h.75v.75h-.75zM530.0 305.0h.75v.75h-.75zM522.6 306.5h.75v.75h-.75zM534.5 309.2h.75v.75h-.75zM527.6 305.7h.75v.75h-.75zM523.0 307.9h.75v.75h-.75zM525.5 308.9h.75v.75h-.75zM530.5 303.7h.75v.75h-.75zM533.9 305.9h.75v.75h-.75zM519.9 310.0h.75v.75h-.75zM521.6 306.4h.75v.75h-.75zM514.0 309.2h.75v.75h-.75zM530.8 308.7h.75v.75h-.75zM522.5 307.4h.75v.75h-.75zM535.8 305.7h.75v.75h-.75zM534.7 306.7h.75v.75h-.75zM525.6 307.3h.75v.75h-.75zM526.0 307.0h.75v.75h-.75zM518.8 308.3h.75v.75h-.75zM519.0 308.8h.75v.75h-.75zM524.4 307.4h.75v.75h-.75zM522.3 307.7h.75v.75h-.75zM536.8 306.1h.75v.75h-.75zM519.4 308.0h.75v.75h-.75zM528.7 306.9h.75v.75h-.75zM522.7 307.6h.75v.75h-.75zM525.1 308.1h.75v.75h-.75zM526.9 305.4h.75v.75h-.75zM515.5 305.7h.75v.75h-.75zM530.0 308.3h.75v.75h-.75zM533.5 306.7h.75v.75h-.75zM532.4 306.6h.75v.75h-.75zM522.7 306.1h.75v.75h-.75zM517.9 307.9h.75v.75h-.75zM530.9 308.9h.75v.75h-.75zM520.4 308.7h.75v.75h-.75zM525.7 306.6h.75v.75h-.75zM510.9 308.6h.75v.75h-.75zM513.1 308.8h.75v.75h-.75zM522.7 307.7h.75v.75h-.75zM522.6 308.5h.75v.75h-.75zM517.0 309.8h.75v.75h-.75zM511.4 309.5h.75v.75h-.75zM526.6 306.5h.75v.75h-.75zM512.1 310.1h.75v.75h-.75zM518.9 309.4h.75v.75h-.75zM529.5 307.0h.75v.75h-.75zM523.9 309.0h.75v.75h-.75zM526.4 306.3h.75v.75h-.75zM525.1 308.3h.75v.75h-.75zM525.3 307.8h.75v.75h-.75zM522.7 307.8h.75v.75h-.75zM516.6 307.0h.75v.75h-.75zM532.0 305.9h.75v.75h-.75zM525.2 305.8h.75v.75h-.75zM524.8 306.7h.75v.75h-.75zM545.6 303.7h.75v.75h-.75zM516.8 309.8h.75v.75h-.75zM531.9 304.2h.75v.75h-.75zM525.8 308.6h.75v.75h-.75zM514.8 309.8h.75v.75h-.75zM519.7 307.1h.75v.75h-.75zM521.1 307.6h.75v.75h-.75zM513.9 311.8h.75v.75h-.75zM520.3 307.4h.75v.75h-.75zM530.1 306.9h.75v.75h-.75zM533.6 306.2h.75v.75h-.75zM526.4 307.6h.75v.75h-.75zM525.0 307.4h.75v.75h-.75zM523.3 309.9h.75v.75h-.75zM518.7 307.8h.75v.75h-.75zM521.3 308.8h.75v.75h-.75zM526.9 308.5h.75v.75h-.75zM513.9 309.4h.75v.75h-.75zM522.4 307.6h.75v.75h-.75zM524.7 305.3h.75v.75h-.75zM525.8 307.7h.75v.75h-.75zM513.2 309.1h.75v.75h-.75zM535.1 305.8h.75v.75h-.75zM528.1 307.0h.75v.75h-.75zM517.7 307.5h.75v.75h-.75zM521.1 309.7h.75v.75h-.75zM529.7 306.2h.75v.75h-.75zM531.1 306.7h.75v.75h-.75zM518.8 309.0h.75v.75h-.75zM516.8 306.8h.75v.75h-.75zM533.0 304.4h.75v.75h-.75zM527.5 305.5h.75v.75h-.75zM523.5 307.6h.75v.75h-.75zM520.2 305.6h.75v.75h-.75zM523.0 307.9h.75v.75h-.75zM517.2 308.6h.75v.75h-.75zM531.0 306.0h.75v.75h-.75zM525.5 306.2h.75v.75h-.75zM526.7 308.2h.75v.75h-.75zM542.2 306.5h.75v.75h-.75zM527.2 309.0h.75v.75h-.75zM516.7 310.0h.75v.75h-.75zM519.7 307.6h.75v.75h-.75zM531.9 307.0h.75v.75h-.75zM533.3 304.8h.75v.75h-.75zM525.7 306.9h.75v.75h-.75zM521.5 305.8h.75v.75h-.75zM530.7 307.1h.75v.75h-.75zM516.4 307.2h.75v.75h-.75zM517.7 310.3h.75v.75h-.75zM523.1 307.5h.75v.75h-.75zM527.5 307.3h.75v.75h-.75zM525.7 308.4h.75v.75h-.75zM526.4 308.5h.75v.75h-.75zM515.2 309.0h.75v.75h-.75zM521.3 308.3h.75v.75h-.75zM523.5 307.1h.75v.75h-.75zM521.5 309.2h.75v.75h-.75zM519.7 306.9h.75v.75h-.75zM528.4 308.4h.75v.75h-.75zM522.0 308.2h.75v.75h-.75zM517.8 308.4h.75v.75h-.75zM532.1 307.7h.75v.75h-.75zM525.0 307.3h.75v.75h-.75zM512.1 309.7h.75v.75h-.75zM527.5 308.6h.75v.75h-.75zM538.7 306.3h.75v.75h-.75zM530.8 305.6h.75v.75h-.75zM532.9 307.7h.75v.75h-.75zM534.0 307.3h.75v.75h-.75zM527.5 309.1h.75v.75h-.75zM519.3 309.2h.75v.75h-.75zM531.8 305.9h.75v.75h-.75zM515.7 309.4h.75v.75h-.75zM525.0 308.4h.75v.75h-.75zM528.6 306.3h.75v.75h-.75zM526.7 308.8h.75v.75h-.75zM521.4 307.8h.75v.75h-.75zM516.0 309.8h.75v.75h-.75zM538.0 304.4h.75v.75h-.75zM529.7 308.1h.75v.75h-.75zM520.0 307.9h.75v.75h-.75zM516.4 307.9h.75v.75h-.75zM525.4 308.4h.75v.75h-.75zM525.1 308.7h.75v.75h-.75zM525.4 306.3h.75v.75h-.75zM534.8 307.8h.75v.75h-.75zM519.2 310.5h.75v.75h-.75zM527.6 307.5h.75v.75h-.75zM537.7 303.1h.75v.75h-.75zM512.6 310.2h.75v.75h-.75zM522.2 306.9h.75v.75h-.75zM535.2 306.9h.75v.75h-.75zM514.8 308.2h.75v.75h-.75zM530.6 309.1h.75v.75h-.75zM509.7 310.0h.75v.75h-.75zM521.2 306.1h.75v.75h-.75zM522.7 306.1h.75v.75h-.75zM520.6 310.2h.75v.75h-.75zM528.1 308.2h.75v.75h-.75zM528.6 307.6h.75v.75h-.75zM531.1 305.5h.75v.75h-.75zM521.7 309.1h.75v.75h-.75zM518.9 308.0h.75v.75h-.75zM533.2 308.4h.75v.75h-.75zM519.7 307.4h.75v.75h-.75zM528.5 307.6h.75v.75h-.75zM519.5 309.1h.75v.75h-.75zM528.3 307.4h.75v.75h-.75zM545.8 306.6h.75v.75h-.75zM530.4 308.2h.75v.75h-.75zM546.0 306.3h.75v.75h-.75zM519.1 308.9h.75v.75h-.75zM524.7 307.1h.75v.75h-.75zM526.2 307.9h.75v.75h-.75zM523.8 307.3h.75v.75h-.75zM530.1 305.2h.75v.75h-.75zM530.3 307.0h.75v.75h-.75zM526.0 304.8h.75v.75h-.75zM536.3 304.2h.75v.75h-.75zM518.1 309.4h.75v.75h-.75zM519.9 307.9h.75v.75h-.75zM508.0 309.4h.75v.75h-.75zM526.0 308.4h.75v.75h-.75zM522.3 308.3h.75v.75h-.75zM527.4 306.6h.75v.75h-.75zM519.2 310.8h.75v.75h-.75zM518.3 310.1h.75v.75h-.75zM525.1 309.5h.75v.75h-.75zM519.8 309.0h.75v.75h-.75zM526.7 307.2h.75v.75h-.75zM526.5 306.6h.75v.75h-.75zM523.7 307.4h.75v.75h-.75zM529.9 307.0h.75v.75h-.75zM514.1 308.7h.75v.75h-.75zM523.5 306.9h.75v.75h-.75zM534.1 307.0h.75v.75h-.75zM530.4 306.1h.75v.75h-.75zM521.6 309.4h.75v.75h-.75zM514.0 309.6h.75v.75h-.75zM524.9 307.1h.75v.75h-.75zM524.8 306.5h.75v.75h-.75zM525.8 306.2h.75v.75h-.75zM515.2 310.7h.75v.75h-.75zM518.9 306.0h.75v.75h-.75zM531.3 306.0h.75v.75h-.75zM498.6 311.1h.75v.75h-.75zM531.2 307.3h.75v.75h-.75zM536.9 306.0h.75v.75h-.75zM528.6 306.1h.75v.75h-.75zM525.8 309.4h.75v.75h-.75zM528.1 307.5h.75v.75h-.75zM509.8 309.3h.75v.75h-.75zM515.0 310.0h.75v.75h-.75zM519.0 308.9h.75v.75h-.75zM517.3 311.0h.75v.75h-.75zM515.8 309.1h.75v.75h-.75zM543.6 305.5h.75v.75h-.75zM518.1 309.4h.75v.75h-.75zM531.7 307.9h.75v.75h-.75zM510.0 309.9h.75v.75h-.75zM509.1 312.1h.75v.75h-.75zM524.8 307.2h.75v.75h-.75zM529.4 307.7h.75v.75h-.75zM515.9 310.9h.75v.75h-.75zM522.3 306.0h.75v.75h-.75zM534.9 308.3h.75v.75h-.75zM533.7 307.3h.75v.75h-.75zM518.0 309.8h.75v.75h-.75zM538.2 307.0h.75v.75h-.75zM536.0 305.4h.75v.75h-.75zM532.0 307.9h.75v.75h-.75zM513.2 307.3h.75v.75h-.75zM519.1 308.6h.75v.75h-.75zM527.7 307.1h.75v.75h-.75zM523.9 307.7h.75v.75h-.75zM525.1 308.4h.75v.75h-.75zM528.0 307.3h.75v.75h-.75zM526.2 307.0h.75v.75h-.75zM530.2 306.4h.75v.75h-.75zM536.5 306.2h.75v.75h-.75zM526.3 306.7h.75v.75h-.75zM521.9 308.3h.75v.75h-.75zM524.4 307.1h.75v.75h-.75zM515.8 309.0h.75v.75h-.75zM525.6 308.3h.75v.75h-.75zM533.6 306.2h.75v.75h-.75zM509.7 309.6h.75v.75h-.75zM510.6 308.1h.75v.75h-.75zM532.1 307.5h.75v.75h-.75zM519.6 307.7h.75v.75h-.75zM523.5 305.8h.75v.75h-.75zM527.9 306.9h.75v.75h-.75zM537.9 304.8h.75v.75h-.75zM531.7 306.0h.75v.75h-.75zM531.8 305.7h.75v.75h-.75zM529.8 306.6h.75v.75h-.75zM518.3 308.4h.75v.75h-.75zM528.0 307.8h.75v.75h-.75zM536.2 307.3h.75v.75h-.75zM504.9 309.9h.75v.75h-.75zM509.6 309.3h.75v.75h-.75zM528.8 305.6h.75v.75h-.75zM515.7 309.1h.75v.75h-.75zM522.5 310.0h.75v.75h-.75zM526.9 308.1h.75v.75h-.75zM537.3 305.5h.75v.75h-.75zM524.3 306.6h.75v.75h-.75zM526.5 308.8h.75v.75h-.75zM534.6 306.4h.75v.75h-.75zM519.0 307.6h.75v.75h-.75zM514.1 309.3h.75v.75h-.75zM534.2 303.7h.75v.75h-.75zM508.5 311.6h.75v.75h-.75zM512.6 309.8h.75v.75h-.75zM515.2 310.0h.75v.75h-.75zM530.3 307.3h.75v.75h-.75zM530.6 307.1h.75v.75h-.75zM528.9 309.4h.75v.75h-.75zM532.5 306.0h.75v.75h-.75zM518.5 308.3h.75v.75h-.75zM522.8 308.1h.75v.75h-.75zM520.1 309.2h.75v.75h-.75zM524.8 308.2h.75v.75h-.75zM524.7 308.5h.75v.75h-.75zM515.9 310.9h.75v.75h-.75zM527.2 308.0h.75v.75h-.75zM529.2 308.5h.75v.75h-.75zM530.0 307.4h.75v.75h-.75zM522.9 306.0h.75v.75h-.75zM526.1 307.2h.75v.75h-.75zM522.6 311.0h.75v.75h-.75zM510.7 309.7h.75v.75h-.75zM533.7 307.8h.75v.75h-.75zM533.6 305.1h.75v.75h-.75zM517.5 309.5h.75v.75h-.75zM522.6 310.1h.75v.75h-.75zM526.3 307.8h.75v.75h-.75zM527.8 307.1h.75v.75h-.75zM525.4 306.9h.75v.75h-.75zM524.3 307.3h.75v.75h-.75zM526.3 305.9h.75v.75h-.75zM513.6 309.8h.75v.75h-.75zM526.2 306.5h.75v.75h-.75zM522.8 306.8h.75v.75h-.75zM539.6 304.0h.75v.75h-.75zM537.3 305.2h.75v.75h-.75zM527.7 307.1h.75v.75h-.75zM522.0 309.3h.75v.75h-.75zM530.7 306.7h.75v.75h-.75zM518.2 311.2h.75v.75h-.75zM535.1 306.6h.75v.75h-.75zM522.5 308.5h.75v.75h-.75zM525.5 309.2h.75v.75h-.75zM517.5 308.8h.75v.75h-.75zM519.0 310.1h.75v.75h-.75zM538.1 306.0h.75v.75h-.75zM528.9 309.0h.75v.75h-.75zM522.3 307.0h.75v.75h-.75zM532.5 307.4h.75v.75h-.75zM523.4 309.8h.75v.75h-.75zM526.2 305.5h.75v.75h-.75zM527.3 307.4h.75v.75h-.75zM538.7 306.0h.75v.75h-.75zM523.2 308.5h.75v.75h-.75zM526.3 305.9h.75v.75h-.75zM525.5 307.3h.75v.75h-.75zM535.5 309.3h.75v.75h-.75zM516.2 307.8h.75v.75h-.75zM518.3 307.9h.75v.75h-.75zM519.6 308.6h.75v.75h-.75zM532.6 305.2h.75v.75h-.75zM513.0 307.1h.75v.75h-.75zM533.1 308.3h.75v.75h-.75zM513.0 307.4h.75v.75h-.75zM525.8 309.0h.75v.75h-.75zM532.3 307.1h.75v.75h-.75zM529.8 307.5h.75v.75h-.75zM520.9 310.6h.75v.75h-.75zM524.5 306.5h.75v.75h-.75zM521.0 306.4h.75v.75h-.75zM525.0 309.1h.75v.75h-.75zM515.5 310.4h.75v.75h-.75zM540.3 306.2h.75v.75h-.75zM516.0 307.9h.75v.75h-.75zM522.0 306.6h.75v.75h-.75zM515.4 308.7h.75v.75h-.75zM523.5 308.7h.75v.75h-.75zM516.1 311.2h.75v.75h-.75zM532.8 307.8h.75v.75h-.75zM520.1 310.5h.75v.75h-.75zM522.5 310.3h.75v.75h-.75zM532.6 305.7h.75v.75h-.75zM521.6 310.5h.75v.75h-.75zM532.1 306.7h.75v.75h-.75zM526.3 307.9h.75v.75h-.75zM518.9 308.3h.75v.75h-.75zM519.7 308.0h.75v.75h-.75zM528.0 306.2h.75v.75h-.75zM530.1 307.2h.75v.75h-.75zM530.5 308.1h.75v.75h-.75zM534.1 307.4h.75v.75h-.75zM530.0 306.9h.75v.75h-.75zM528.8 306.2h.75v.75h-.75zM523.0 309.0h.75v.75h-.75zM524.4 308.4h.75v.75h-.75zM517.1 310.5h.75v.75h-.75zM520.5 308.9h.75v.75h-.75zM524.7 309.0h.75v.75h-.75zM521.7 307.0h.75v.75h-.75zM510.5 309.3h.75v.75h-.75zM515.9 309.6h.75v.75h-.75zM535.1 303.8h.75v.75h-.75zM515.2 309.4h.75v.75h-.75zM534.0 307.0h.75v.75h-.75zM527.2 308.1h.75v.75h-.75zM529.3 309.2h.75v.75h-.75zM529.1 305.7h.75v.75h-.75zM521.2 308.5h.75v.75h-.75zM518.6 308.3h.75v.75h-.75zM520.7 307.5h.75v.75h-.75zM529.8 306.7h.75v.75h-.75zM516.5 308.0h.75v.75h-.75zM525.3 310.3h.75v.75h-.75zM526.9 309.3h.75v.75h-.75zM528.1 304.8h.75v.75h-.75zM527.4 306.4h.75v.75h-.75zM514.4 307.9h.75v.75h-.75zM537.8 304.2h.75v.75h-.75zM520.3 309.8h.75v.75h-.75zM529.4 305.1h.75v.75h-.75zM523.8 307.3h.75v.75h-.75zM523.4 308.9h.75v.75h-.75zM520.3 308.0h.75v.75h-.75zM535.3 304.2h.75v.75h-.75zM522.0 308.7h.75v.75h-.75zM515.3 308.3h.75v.75h-.75zM514.9 309.3h.75v.75h-.75zM520.2 309.4h.75v.75h-.75zM532.4 306.9h.75v.75h-.75zM521.9 308.5h.75v.75h-.75zM524.9 306.3h.75v.75h-.75zM532.8 307.0h.75v.75h-.75z" fill="#000" fill-opacity="0.8"/>
<path d="M538.7 281.4h.75v.75h-.75zM539.7 307.6h.75v.75h-.75zM536.8 280.7h.75v.75h-.75zM530.4 291.2h.75v.75h-.75zM532.4 289.9h.75v.75h-.75zM535.5 288.2h.75v.75h-.75zM532.5 286.5h.75v.75h-.75zM531.1 299.2h.75v.75h-.75zM524.5 296.7h.75v.75h-.75zM520.1 288.8h.75v.75h-.75zM527.3 301.1h.75v.75h-.75zM521.5 300.9h.75v.75h-.75zM513.7 290.5h.75v.75h-.75zM540.1 296.9h.75v.75h-.75zM518.7 282.4h.75v.75h-.75zM539.7 282.1h.75v.75h-.75zM536.4 287.7h.75v.75h-.75zM529.8 309.2h.75v.75h-.75zM547.2 298.0h.75v.75h-.75zM514.6 294.1h.75v.75h-.75zM530.5 290.9h.75v.75h-.75zM544.8 278.6h.75v.75h-.75zM533.5 292.6h.75v.75h-.75zM521.6 304.7h.75v.75h-.75zM515.8 291.8h.75v.75h-.75zM530.8 275.0h.75v.75h-.75zM514.0 284.3h.75v.75h-.75zM538.7 298.8h.75v.75h-.75zM536.5 293.4h.75v.75h-.75zM505.4 293.2h.75v.75h-.75zM524.2 300.5h.75v.75h-.75zM544.9 308.6h.75v.75h-.75zM537.8 297.8h.75v.75h-.75zM518.4 292.2h.75v.75h-.75zM516.1 298.4h.75v.75h-.75zM516.6 290.0h.75v.75h-.75zM520.7 288.0h.75v.75h-.75zM535.0 287.3h.75v.75h-.75zM532.3 284.0h.75v.75h-.75zM545.4 286.7h.75v.75h-.75zM541.1 307.8h.75v.75h-.75zM502.7 284.0h.75v.75h-.75zM527.5 300.5h.75v.75h-.75zM524.4 294.5h.75v.75h-.75zM521.7 295.8h.75v.75h-.75zM516.3 297.9h.75v.75h-.75zM496.4 277.2h.75v.75h-.75zM550.1 292.9h.75v.75h-.75zM519.8 308.3h.75v.75h-.75zM541.6 300.2h.75v.75h-.75zM525.1 296.3h.75v.75h-.75zM535.5 278.9h.75v.75h-.75zM536.4 290.1h.75v.75h-.75zM544.2 301.5h.75v.75h-.75zM522.6 286.9h.75v.75h-.75zM531.9 296.5h.75v.75h-.75zM525.2 290.7h.75v.75h-.75zM536.6 294.8h.75v.75h-.75zM542.8 293.4h.75v.75h-.75zM519.8 278.0h.75v.75h-.75zM538.9 289.0h.75v.75h-.75zM525.9 289.3h.75v.75h-.75zM512.1 288.5h.75v.75h-.75zM500.5 288.4h.75v.75h-.75zM519.7 305.6h.75v.75h-.75zM534.8 289.9h.75v.75h-.75zM531.6 297.1h.75v.75h-.75zM521.2 289.7h.75v.75h-.75zM525.7 310.6h.75v.75h-.75zM530.6 276.4h.75v.75h-.75zM538.7 311.4h.75v.75h-.75zM518.9 318.2h.75v.75h-.75zM529.0 299.2h.75v.75h-.75zM523.4 289.4h.75v.75h-.75zM515.8 283.4h.75v.75h-.75zM505.5 300.3h.75v.75h-.75zM516.7 294.3h.75v.75h-.75zM533.4 286.5h.75v.75h-.75zM530.2 290.7h.75v.75h-.75zM524.1 291.9h.75v.75h-.75zM530.3 283.6h.75v.75h-.75zM515.0 284.9h.75v.75h-.75zM531.1 302.1h.75v.75h-.75zM546.3 293.9h.75v.75h-.75zM540.4 292.4h.75v.75h-.75zM542.2 292.4h.75v.75h-.75zM534.1 289.3h.75v.75h-.75zM529.6 306.1h.75v.75h-.75zM516.1 291.5h.75v.75h-.75zM522.9 298.9h.75v.75h-.75zM550.3 289.0h.75v.75h-.75zM498.2 296.2h.75v.75h-.75zM536.6 278.4h.75v.75h-.75zM526.9 290.9h.75v.75h-.75zM503.3 296.7h.75v.75h-.75zM534.6 293.3h.75v.75h-.75zM517.5 285.9h.75v.75h-.75zM522.4 295.1h.75v.75h-.75zM518.4 302.8h.75v.75h-.75zM533.9 274.5h.75v.75h-.75zM548.8 292.6h.75v.75h-.75zM523.3 292.2h.75v.75h-.75zM508.8 292.9h.75v.75h-.75zM501.5 283.4h.75v.75h-.75zM545.0 301.2h.75v.75h-.75zM525.7 283.8h.75v.75h-.75zM540.2 291.0h.75v.75h-.75zM532.0 296.2h.75v.75h-.75zM517.2 297.5h.75v.75h-.75zM505.3 302.8h.75v.75h-.75zM511.6 286.5h.75v.75h-.75zM521.9 297.0h.75v.75h-.75zM538.0 294.1h.75v.75h-.75zM535.7 295.0h.75v.75h-.75zM528.6 276.4h.75v.75h-.75zM503.1 273.4h.75v.75h-.75zM528.9 289.5h.75v.75h-.75zM527.9 293.1h.75v.75h-.75zM526.7 283.5h.75v.75h-.75zM512.2 276.5h.75v.75h-.75zM543.4 298.4h.75v.75h-.75zM513.9 289.1h.75v.75h-.75zM534.5 303.8h.75v.75h-.75zM522.5 292.6h.75v.75h-.75zM542.7 277.7h.75v.75h-.75zM521.0 291.0h.75v.75h-.75zM521.1 307.8h.75v.75h-.75zM539.3 292.8h.75v.75h-.75zM518.3 298.0h.75v.75h-.75zM536.6 287.2h.75v.75h-.75zM524.4 279.8h.75v.75h-.75zM528.5 298.0h.75v.75h-.75zM540.8 295.8h.75v.75h-.75zM538.8 286.6h.75v.75h-.75zM523.9 300.7h.75v.75h-.75zM534.5 285.0h.75v.75h-.75zM535.1 297.7h.75v.75h-.75zM537.4 292.1h.75v.75h-.75zM523.4 294.3h.75v.75h-.75zM548.8 292.4h.75v.75h-.75zM521.6 293.9h.75v.75h-.75zM515.2 293.0h.75v.75h-.75zM525.9 298.7h.75v.75h-.75zM530.5 299.4h.75v.75h-.75zM555.7 289.5h.75v.75h-.75zM519.7 294.8h.75v.75h-.75zM528.3 292.3h.75v.75h-.75zM522.4 295.5h.75v.75h-.75zM530.1 274.3h.75v.75h-.75zM526.6 293.8h.75v.75h-.75zM519.8 267.5h.75v.75h-.75zM524.7 303.6h.75v.75h-.75zM538.5 293.9h.75v.75h-.75zM489.5 297.1h.75v.75h-.75zM496.3 336.3h.75v.75h-.75zM501.9 286.6h.75v.75h-.75zM518.8 274.6h.75v.75h-.75zM508.6 297.2h.75v.75h-.75zM507.5 294.8h.75v.75h-.75zM551.8 308.9h.75v.75h-.75zM485.7 291.2h.75v.75h-.75zM539.1 286.7h.75v.75h-.75zM522.1 299.4h.75v.75h-.75zM533.5 296.3h.75v.75h-.75zM516.4 282.4h.75v.75h-.75z" fill="#000" fill-opacity="0.4"/>
<path d="M508.3 309.9h.75v.75h-.75zM497.9 314.9h.75v.75h-.75zM498.9 311.9h.75v.75h-.75zM504.6 313.7h.75v.75h-.75zM502.2 308.3h.75v.75h-.75zM507.4 310.3h.75v.75h-.75zM499.4 317.4h.75v.75h-.75zM506.7 308.5h.75v.75h-.75zM499.6 310.8h.75v.75h-.75zM498.2 306.0h.75v.75h-.75zM506.3 313.8h.75v.75h-.75zM503.4 310.4h.75v.75h-.75zM503.2 313.4h.75v.75h-.75zM496.7 310.6h.75v.75h-.75zM499.2 313.6h.75v.75h-.75zM503.5 307.8h.75v.75h-.75zM498.9 316.7h.75v.75h-.75zM497.1 312.0h.75v.75h-.75zM498.8 315.2h.75v.75h-.75zM501.8 310.3h.75v.75h-.75zM496.0 310.8h.75v.75h-.75zM506.4 313.5h.75v.75h-.75zM495.2 316.1h.75v.75h-.75zM500.8 308.5h.75v.75h-.75zM502.7 309.7h.75v.75h-.75zM499.1 309.7h.75v.75h-.75zM501.6 310.1h.75v.75h-.75zM493.2 313.1h.75v.75h-.75zM499.4 315.0h.75v.75h-.75zM504.8 313.3h.75v.75h-.75zM503.0 315.3h.75v.75h-.75zM500.4 308.7h.75v.75h-.75zM503.8 303.7h.75v.75h-.75zM500.1 312.2h.75v.75h-.75zM499.9 315.2h.75v.75h-.75zM505.7 311.9h.75v.75h-.75zM500.0 314.7h.75v.75h-.75zM498.5 310.3h.75v.75h-.75zM505.9 313.3h.75v.75h-.75zM512.6 310.9h.75v.75h-.75zM492.3 313.4h.75v.75h-.75zM508.5 311.0h.75v.75h-.75zM510.1 316.7h.75v.75h-.75zM498.6 310.1h.75v.75h-.75zM495.6 313.1h.75v.75h-.75zM505.7 313.3h.75v.75h-.75zM495.7 309.3h.75v.75h-.75zM494.6 306.9h.75v.75h-.75zM495.1 306.9h.75v.75h-.75zM501.1 312.7h.75v.75h-.75zM505.2 311.5h.75v.75h-.75zM498.6 311.5h.75v.75h-.75zM505.0 310.7h.75v.75h-.75zM502.3 310.6h.75v.75h-.75zM499.3 311.6h.75v.75h-.75zM496.3 314.5h.75v.75h-.75zM494.0 312.8h.75v.75h-.75zM495.0 315.9h.75v.75h-.75zM506.5 309.2h.75v.75h-.75zM499.7 308.2h.75v.75h-.75zM501.7 312.7h.75v.75h-.75zM515.2 307.6h.75v.75h-.75zM508.4 309.8h.75v.75h-.75zM503.4 314.0h.75v.75h-.75zM504.8 312.7h.75v.75h-.75zM501.0 311.5h.75v.75h-.75zM502.8 315.0h.75v.75h-.75zM494.4 310.1h.75v.75h-.75zM495.6 308.7h.75v.75h-.75zM497.9 314.7h.75v.75h-.75zM513.0 315.4h.75v.75h-.75zM495.9 311.7h.75v.75h-.75zM496.2 312.8h.75v.75h-.75zM508.5 313.2h.75v.75h-.75zM506.5 311.1h.75v.75h-.75zM491.9 305.8h.75v.75h-.75zM501.5 313.2h.75v.75h-.75zM508.5 310.5h.75v.75h-.75zM502.4 312.2h.75v.75h-.75zM507.5 311.3h.75v.75h-.75zM496.4 314.6h.75v.75h-.75zM504.1 312.6h.75v.75h-.75zM495.5 311.5h.75v.75h-.75zM493.2 305.7h.75v.75h-.75zM500.8 310.2h.75v.75h-.75zM504.9 315.6h.75v.75h-.75zM501.8 316.6h.75v.75h-.75zM499.0 313.7h.75v.75h-.75zM495.5 311.9h.75v.75h-.75zM500.4 310.9h.75v.75h-.75zM505.0 306.1h.75v.75h-.75zM502.6 309.2h.75v.75h-.75zM502.6 312.6h.75v.75h-.75zM500.1 310.4h.75v.75h-.75zM496.1 313.1h.75v.75h-.75zM498.5 312.8h.75v.75h-.75zM494.7 315.4h.75v.75h-.75zM496.8 314.8h.75v.75h-.75zM499.7 313.1h.75v.75h-.75zM501.3 313.5h.75v.75h-.75zM502.0 315.1h.75v.75h-.75zM505.4 313.5h.75v.75h-.75zM510.6 309.5h.75v.75h-.75zM508.7 311.7h.75v.75h-.75zM494.4 312.9h.75v.75h-.75zM501.0 316.3h.75v.75h-.75zM499.5 311.6h.75v.75h-.75zM503.2 306.0h.75v.75h-.75zM504.6 308.6h.75v.75h-.75zM509.2 316.3h.75v.75h-.75z" fill="#000" fill-opacity="0.5"/>
<rect x="472.7" y="250.6" width="101.5" height="100.8" fill="none" stroke="#333" stroke-width="0.9"/>
<line x1="512.3" y1="250.6" x2="512.3" y2="351.4" stroke="#222" stroke-width="0.85" />
<line x1="472.7" y1="304.5" x2="574.2" y2="304.5" stroke="#1a1a1a" stroke-width="0.85" />
<text x="476.3" y="260.4" font-size="8.0" fill="#1a1a1a">1.06</text>
<text x="570.9" y="260.4" font-size="8.0" text-anchor="end" fill="#1a1a1a">17.9</text>
<text x="476.3" y="347.6" font-size="8.0" fill="#1a1a1a">18.9</text>
<text x="570.9" y="347.6" font-size="8.0" text-anchor="end" fill="#1a1a1a">62.1</text>
<path d="M470.2,250.8h2.5 M470.2,268h2.5 M470.2,284.8h2.5 M470.2,304.3h2.5 M471.4,262.82h1.3 M471.4,259.79h1.3 M471.4,257.64h1.3 M471.4,255.98h1.3 M471.4,254.62h1.3 M471.4,253.46h1.3 M471.4,252.47h1.3 M471.4,251.59h1.3 M471.4,279.74h1.3 M471.4,276.78h1.3 M471.4,274.69h1.3 M471.4,273.06h1.3 M471.4,271.73h1.3 M471.4,270.6h1.3 M471.4,269.63h1.3 M471.4,268.77h1.3 M471.4,298.43h1.3 M471.4,295h1.3 M471.4,292.56h1.3 M471.4,290.67h1.3 M471.4,289.13h1.3 M471.4,287.82h1.3 M471.4,286.69h1.3 M471.4,285.69h1.3 M471.4,308.56h1.3 M471.4,312.83h1.3 M471.4,317.09h1.3 M471.4,321.35h1.3 M471.4,325.62h1.3 M471.4,329.88h1.3 M471.4,334.15h1.3 M471.4,338.41h1.3 M471.4,342.67h1.3 M471.4,346.94h1.3 M471.4,351.2h1.3 M470.2,351.2h2.5 M480.7,351.4v1.5 M493.6,351.4v1.5 M507.6,351.4v1.5 M512.1,351.4v1.5 M524.7,351.4v1.5 M532.7,351.4v1.5 M540.2,351.4v1.5 M547.2,351.4v1.5 M552.2,351.4v1.5 M555.7,351.4v1.5 M562.7,351.4v1.5 M569.5,351.4v1.5 M573.2,351.4v1.5 M500.6,351.4v2.5 M540.2,351.4v2.5 M562.7,351.4v2.5" stroke="#333" stroke-width="0.7" fill="none"/>
<rect x="470.5" y="324.5" width="1.6" height="6.5" fill="#111"/>
<rect x="498.8" y="351.7" width="3.2" height="1.6" fill="#111"/>
<text x="500.6" y="363.6" font-size="7.4" text-anchor="middle" fill="#1a1a1a">0</text>
<text x="539.5" y="363.6" font-size="7.4" text-anchor="middle" fill="#1a1a1a">10<tspan font-size="4.8" dy="-3.2">4</tspan></text>
<text x="562.4" y="363.6" font-size="7.4" text-anchor="middle" fill="#1a1a1a">10<tspan font-size="4.8" dy="-3.2">5</tspan></text>
<text x="633.75" y="245.5" font-size="8.8" text-anchor="middle" fill="#1a1a1a">Week 5</text>
<path d="M627.9 308.0h.75v.75h-.75zM644.3 308.7h.75v.75h-.75zM621.7 313.8h.75v.75h-.75zM623.0 311.6h.75v.75h-.75zM623.1 309.2h.75v.75h-.75zM613.0 310.5h.75v.75h-.75zM637.0 307.8h.75v.75h-.75zM619.1 310.5h.75v.75h-.75zM632.8 315.9h.75v.75h-.75zM613.4 314.1h.75v.75h-.75zM625.3 310.2h.75v.75h-.75zM629.5 306.9h.75v.75h-.75zM633.8 310.7h.75v.75h-.75zM612.9 317.1h.75v.75h-.75zM634.3 313.3h.75v.75h-.75zM606.9 312.5h.75v.75h-.75zM618.1 313.7h.75v.75h-.75zM639.2 303.9h.75v.75h-.75zM624.2 310.8h.75v.75h-.75zM635.7 309.7h.75v.75h-.75zM609.1 312.4h.75v.75h-.75zM611.6 310.4h.75v.75h-.75zM624.3 309.8h.75v.75h-.75zM626.7 306.5h.75v.75h-.75zM651.5 311.5h.75v.75h-.75zM631.9 306.5h.75v.75h-.75zM598.5 311.8h.75v.75h-.75zM622.1 317.9h.75v.75h-.75zM639.1 307.9h.75v.75h-.75zM638.5 313.0h.75v.75h-.75zM624.6 314.6h.75v.75h-.75zM627.6 308.9h.75v.75h-.75zM610.2 312.5h.75v.75h-.75zM635.2 305.9h.75v.75h-.75zM605.4 315.0h.75v.75h-.75zM592.9 320.2h.75v.75h-.75zM619.1 313.9h.75v.75h-.75zM645.2 304.5h.75v.75h-.75zM612.5 319.1h.75v.75h-.75zM620.6 311.2h.75v.75h-.75zM627.0 313.9h.75v.75h-.75zM639.5 309.6h.75v.75h-.75zM620.1 311.6h.75v.75h-.75zM628.0 314.5h.75v.75h-.75zM626.2 316.2h.75v.75h-.75zM614.2 313.9h.75v.75h-.75zM644.9 312.4h.75v.75h-.75zM627.6 308.2h.75v.75h-.75zM615.6 311.8h.75v.75h-.75zM627.5 310.1h.75v.75h-.75zM606.8 311.2h.75v.75h-.75zM630.3 312.8h.75v.75h-.75zM607.5 312.1h.75v.75h-.75zM604.3 312.0h.75v.75h-.75zM665.4 306.4h.75v.75h-.75zM619.8 310.0h.75v.75h-.75zM609.2 307.6h.75v.75h-.75zM623.4 310.5h.75v.75h-.75zM640.7 304.5h.75v.75h-.75zM629.5 314.4h.75v.75h-.75zM601.4 315.8h.75v.75h-.75zM605.4 315.0h.75v.75h-.75zM641.2 309.1h.75v.75h-.75zM627.1 308.8h.75v.75h-.75zM627.8 314.0h.75v.75h-.75zM621.8 311.1h.75v.75h-.75zM628.8 313.0h.75v.75h-.75zM604.9 313.7h.75v.75h-.75zM616.2 313.6h.75v.75h-.75zM636.2 310.6h.75v.75h-.75zM638.7 306.6h.75v.75h-.75zM618.9 309.0h.75v.75h-.75zM624.7 311.4h.75v.75h-.75zM621.3 308.0h.75v.75h-.75zM623.0 310.1h.75v.75h-.75zM631.0 309.6h.75v.75h-.75zM637.7 310.2h.75v.75h-.75zM602.3 313.3h.75v.75h-.75zM607.6 316.0h.75v.75h-.75zM640.8 309.1h.75v.75h-.75zM628.7 306.5h.75v.75h-.75zM597.6 312.8h.75v.75h-.75zM620.5 307.3h.75v.75h-.75zM625.2 312.0h.75v.75h-.75zM632.1 314.7h.75v.75h-.75zM633.4 309.0h.75v.75h-.75zM625.5 312.8h.75v.75h-.75zM612.3 316.5h.75v.75h-.75zM634.5 309.3h.75v.75h-.75zM617.9 322.9h.75v.75h-.75zM634.2 312.7h.75v.75h-.75zM645.4 311.5h.75v.75h-.75zM626.7 312.9h.75v.75h-.75zM613.6 314.5h.75v.75h-.75zM606.2 314.6h.75v.75h-.75zM630.0 306.0h.75v.75h-.75zM646.1 305.2h.75v.75h-.75zM636.1 308.2h.75v.75h-.75zM627.5 308.9h.75v.75h-.75zM653.6 310.6h.75v.75h-.75zM645.5 310.9h.75v.75h-.75zM632.3 310.7h.75v.75h-.75zM621.6 313.3h.75v.75h-.75zM626.0 310.6h.75v.75h-.75zM608.0 312.3h.75v.75h-.75zM631.1 309.0h.75v.75h-.75zM628.2 310.3h.75v.75h-.75zM611.9 310.1h.75v.75h-.75zM615.5 311.4h.75v.75h-.75zM621.6 314.8h.75v.75h-.75zM610.9 306.9h.75v.75h-.75zM632.1 309.0h.75v.75h-.75zM623.8 318.7h.75v.75h-.75zM641.6 310.8h.75v.75h-.75zM635.4 310.2h.75v.75h-.75zM635.3 308.1h.75v.75h-.75zM615.8 310.9h.75v.75h-.75zM643.4 313.4h.75v.75h-.75zM617.6 315.4h.75v.75h-.75zM622.8 314.5h.75v.75h-.75zM621.0 314.4h.75v.75h-.75zM623.0 310.6h.75v.75h-.75zM624.2 311.7h.75v.75h-.75zM617.1 308.2h.75v.75h-.75zM644.1 307.7h.75v.75h-.75zM602.3 307.3h.75v.75h-.75zM591.3 313.5h.75v.75h-.75zM639.8 304.7h.75v.75h-.75zM620.0 306.5h.75v.75h-.75zM637.5 310.7h.75v.75h-.75zM628.7 314.7h.75v.75h-.75zM644.1 311.9h.75v.75h-.75zM617.2 308.3h.75v.75h-.75zM611.6 307.7h.75v.75h-.75zM645.6 308.2h.75v.75h-.75zM626.0 311.6h.75v.75h-.75zM648.0 306.8h.75v.75h-.75zM638.5 310.5h.75v.75h-.75zM622.0 306.0h.75v.75h-.75zM635.0 307.8h.75v.75h-.75zM619.2 312.6h.75v.75h-.75zM626.0 314.3h.75v.75h-.75zM616.7 312.7h.75v.75h-.75zM627.8 310.9h.75v.75h-.75zM632.4 309.6h.75v.75h-.75zM638.4 307.5h.75v.75h-.75zM607.6 313.2h.75v.75h-.75zM638.2 308.1h.75v.75h-.75zM617.0 311.2h.75v.75h-.75zM626.4 310.5h.75v.75h-.75zM627.6 305.9h.75v.75h-.75zM642.3 310.8h.75v.75h-.75zM614.9 316.4h.75v.75h-.75zM630.3 314.8h.75v.75h-.75zM611.2 317.7h.75v.75h-.75zM624.3 305.3h.75v.75h-.75zM633.2 309.3h.75v.75h-.75zM612.5 312.1h.75v.75h-.75zM601.9 315.7h.75v.75h-.75zM621.9 310.8h.75v.75h-.75zM641.1 309.4h.75v.75h-.75zM616.4 309.5h.75v.75h-.75zM624.2 314.4h.75v.75h-.75zM617.3 309.1h.75v.75h-.75zM635.4 310.1h.75v.75h-.75zM624.9 317.3h.75v.75h-.75zM610.3 313.6h.75v.75h-.75zM603.5 312.9h.75v.75h-.75zM631.8 313.6h.75v.75h-.75zM609.8 315.5h.75v.75h-.75zM633.7 309.8h.75v.75h-.75zM653.4 307.8h.75v.75h-.75zM614.3 313.7h.75v.75h-.75zM603.1 318.4h.75v.75h-.75zM636.0 308.7h.75v.75h-.75zM631.9 311.9h.75v.75h-.75zM647.0 306.8h.75v.75h-.75zM608.6 307.3h.75v.75h-.75zM620.5 307.2h.75v.75h-.75zM622.6 312.7h.75v.75h-.75zM619.0 309.2h.75v.75h-.75zM638.4 309.0h.75v.75h-.75zM627.5 313.7h.75v.75h-.75zM608.8 310.5h.75v.75h-.75zM653.8 307.3h.75v.75h-.75zM612.1 312.0h.75v.75h-.75zM617.3 308.6h.75v.75h-.75zM619.7 311.8h.75v.75h-.75zM624.5 312.8h.75v.75h-.75zM603.6 309.4h.75v.75h-.75zM633.6 308.9h.75v.75h-.75zM638.9 310.4h.75v.75h-.75zM608.1 314.8h.75v.75h-.75zM612.7 313.4h.75v.75h-.75zM639.7 315.6h.75v.75h-.75zM623.9 313.4h.75v.75h-.75zM628.3 313.1h.75v.75h-.75zM594.4 313.8h.75v.75h-.75zM628.1 312.2h.75v.75h-.75zM615.9 314.7h.75v.75h-.75zM637.5 309.9h.75v.75h-.75zM621.7 310.6h.75v.75h-.75zM626.5 314.4h.75v.75h-.75zM641.9 307.8h.75v.75h-.75zM613.3 310.3h.75v.75h-.75zM636.1 310.5h.75v.75h-.75zM628.2 312.2h.75v.75h-.75zM628.9 310.4h.75v.75h-.75zM612.1 311.0h.75v.75h-.75zM626.1 312.2h.75v.75h-.75zM620.0 310.6h.75v.75h-.75zM640.4 308.0h.75v.75h-.75zM627.0 310.0h.75v.75h-.75zM613.9 308.1h.75v.75h-.75zM617.9 309.7h.75v.75h-.75zM634.0 306.8h.75v.75h-.75zM619.9 313.7h.75v.75h-.75zM623.3 312.8h.75v.75h-.75zM633.7 305.4h.75v.75h-.75zM619.3 309.1h.75v.75h-.75zM640.2 309.0h.75v.75h-.75zM630.9 315.4h.75v.75h-.75zM620.4 312.0h.75v.75h-.75zM629.2 309.9h.75v.75h-.75zM639.4 311.8h.75v.75h-.75zM636.2 310.0h.75v.75h-.75zM620.4 310.7h.75v.75h-.75zM619.7 307.1h.75v.75h-.75zM629.0 313.1h.75v.75h-.75zM624.2 309.9h.75v.75h-.75zM625.0 311.8h.75v.75h-.75zM628.9 315.9h.75v.75h-.75zM614.6 313.5h.75v.75h-.75zM632.5 310.5h.75v.75h-.75zM621.4 308.7h.75v.75h-.75zM617.8 314.1h.75v.75h-.75zM641.1 307.4h.75v.75h-.75zM630.1 312.1h.75v.75h-.75zM636.2 310.5h.75v.75h-.75zM629.9 313.2h.75v.75h-.75zM611.0 313.0h.75v.75h-.75zM603.4 308.2h.75v.75h-.75zM614.4 308.1h.75v.75h-.75zM630.6 313.3h.75v.75h-.75zM620.9 311.3h.75v.75h-.75zM621.7 310.8h.75v.75h-.75zM626.1 312.1h.75v.75h-.75zM618.8 309.7h.75v.75h-.75zM618.7 314.2h.75v.75h-.75zM620.1 315.9h.75v.75h-.75zM622.1 315.4h.75v.75h-.75zM610.4 311.0h.75v.75h-.75zM630.1 312.0h.75v.75h-.75zM623.3 317.2h.75v.75h-.75zM625.3 312.0h.75v.75h-.75zM618.4 316.7h.75v.75h-.75zM634.4 311.2h.75v.75h-.75zM605.7 314.5h.75v.75h-.75zM619.2 313.0h.75v.75h-.75zM634.6 307.9h.75v.75h-.75zM627.2 313.4h.75v.75h-.75zM626.2 310.1h.75v.75h-.75zM612.0 310.8h.75v.75h-.75zM610.2 315.8h.75v.75h-.75zM625.2 307.7h.75v.75h-.75zM623.9 307.6h.75v.75h-.75zM587.1 319.2h.75v.75h-.75zM637.3 305.5h.75v.75h-.75zM616.2 312.8h.75v.75h-.75zM619.7 309.4h.75v.75h-.75zM618.4 311.3h.75v.75h-.75zM618.1 312.6h.75v.75h-.75zM621.5 309.4h.75v.75h-.75zM624.1 306.6h.75v.75h-.75zM640.3 304.4h.75v.75h-.75zM623.5 312.3h.75v.75h-.75zM629.2 311.4h.75v.75h-.75zM638.4 306.4h.75v.75h-.75zM623.6 311.7h.75v.75h-.75zM618.5 310.3h.75v.75h-.75zM638.8 307.5h.75v.75h-.75zM618.8 311.1h.75v.75h-.75zM622.0 312.0h.75v.75h-.75zM622.1 312.6h.75v.75h-.75zM626.0 312.4h.75v.75h-.75zM639.7 307.0h.75v.75h-.75zM643.0 307.7h.75v.75h-.75zM632.0 310.8h.75v.75h-.75zM620.3 306.2h.75v.75h-.75zM642.4 306.9h.75v.75h-.75zM615.7 315.3h.75v.75h-.75zM625.8 316.4h.75v.75h-.75zM643.7 310.9h.75v.75h-.75zM627.4 313.0h.75v.75h-.75zM609.3 313.5h.75v.75h-.75zM625.8 309.7h.75v.75h-.75zM626.7 306.8h.75v.75h-.75zM635.0 313.6h.75v.75h-.75zM609.6 313.4h.75v.75h-.75zM642.0 310.3h.75v.75h-.75zM612.2 309.9h.75v.75h-.75zM634.6 315.1h.75v.75h-.75zM611.9 312.8h.75v.75h-.75zM615.3 311.5h.75v.75h-.75zM627.7 310.7h.75v.75h-.75zM617.2 318.0h.75v.75h-.75zM622.4 310.9h.75v.75h-.75zM636.8 309.7h.75v.75h-.75zM622.3 314.1h.75v.75h-.75zM612.8 314.7h.75v.75h-.75zM636.1 311.6h.75v.75h-.75zM622.2 311.4h.75v.75h-.75zM604.7 313.2h.75v.75h-.75zM627.8 313.2h.75v.75h-.75zM625.7 310.0h.75v.75h-.75zM614.7 312.2h.75v.75h-.75zM626.2 314.4h.75v.75h-.75zM624.2 309.8h.75v.75h-.75zM622.9 310.0h.75v.75h-.75zM620.8 305.5h.75v.75h-.75zM605.8 310.1h.75v.75h-.75zM629.5 310.4h.75v.75h-.75zM626.3 314.2h.75v.75h-.75zM612.8 315.8h.75v.75h-.75zM628.3 308.7h.75v.75h-.75zM640.6 305.3h.75v.75h-.75zM611.4 312.2h.75v.75h-.75zM628.7 310.1h.75v.75h-.75zM600.0 313.3h.75v.75h-.75zM624.1 318.3h.75v.75h-.75zM639.7 309.7h.75v.75h-.75zM612.0 313.6h.75v.75h-.75zM611.1 313.4h.75v.75h-.75zM628.2 309.6h.75v.75h-.75zM626.9 310.0h.75v.75h-.75zM618.3 316.2h.75v.75h-.75zM630.6 309.6h.75v.75h-.75zM615.6 312.8h.75v.75h-.75zM630.9 312.8h.75v.75h-.75zM641.0 310.5h.75v.75h-.75zM612.2 318.3h.75v.75h-.75zM637.5 311.9h.75v.75h-.75zM638.8 305.3h.75v.75h-.75zM619.8 310.3h.75v.75h-.75zM637.2 306.4h.75v.75h-.75zM621.0 315.8h.75v.75h-.75zM631.3 309.3h.75v.75h-.75zM644.9 305.0h.75v.75h-.75zM629.2 310.0h.75v.75h-.75zM629.8 309.8h.75v.75h-.75zM614.8 312.9h.75v.75h-.75zM609.5 314.5h.75v.75h-.75zM620.9 314.2h.75v.75h-.75zM618.9 310.0h.75v.75h-.75zM629.1 314.1h.75v.75h-.75zM600.9 314.4h.75v.75h-.75zM630.7 306.5h.75v.75h-.75zM614.4 314.2h.75v.75h-.75zM614.6 310.6h.75v.75h-.75zM643.2 306.3h.75v.75h-.75zM613.6 306.0h.75v.75h-.75zM611.4 309.3h.75v.75h-.75zM643.8 312.2h.75v.75h-.75zM610.5 318.3h.75v.75h-.75zM632.7 309.7h.75v.75h-.75zM633.3 311.2h.75v.75h-.75zM614.9 307.4h.75v.75h-.75zM613.9 312.4h.75v.75h-.75zM619.9 309.7h.75v.75h-.75zM634.7 307.0h.75v.75h-.75zM634.0 308.7h.75v.75h-.75zM625.0 308.0h.75v.75h-.75zM623.7 309.1h.75v.75h-.75zM604.4 313.5h.75v.75h-.75zM623.8 313.6h.75v.75h-.75zM627.0 308.0h.75v.75h-.75zM616.4 305.2h.75v.75h-.75zM611.9 316.3h.75v.75h-.75zM641.4 311.2h.75v.75h-.75zM627.7 312.4h.75v.75h-.75zM629.0 305.8h.75v.75h-.75zM614.6 315.6h.75v.75h-.75zM637.4 310.3h.75v.75h-.75zM620.5 310.6h.75v.75h-.75zM617.6 309.4h.75v.75h-.75zM602.4 314.2h.75v.75h-.75zM618.9 311.2h.75v.75h-.75zM643.6 310.5h.75v.75h-.75zM616.3 313.8h.75v.75h-.75zM607.5 316.1h.75v.75h-.75zM627.0 310.3h.75v.75h-.75zM631.0 314.4h.75v.75h-.75zM618.5 309.1h.75v.75h-.75zM647.9 308.4h.75v.75h-.75zM640.7 307.3h.75v.75h-.75zM628.1 308.9h.75v.75h-.75zM631.1 309.6h.75v.75h-.75zM617.0 316.4h.75v.75h-.75zM627.2 305.2h.75v.75h-.75zM621.1 309.0h.75v.75h-.75zM610.1 311.3h.75v.75h-.75zM618.7 311.9h.75v.75h-.75zM614.5 307.2h.75v.75h-.75zM618.3 314.4h.75v.75h-.75zM608.8 314.8h.75v.75h-.75zM629.1 309.3h.75v.75h-.75zM627.3 308.7h.75v.75h-.75zM619.2 308.9h.75v.75h-.75zM629.8 314.3h.75v.75h-.75zM616.7 315.4h.75v.75h-.75zM599.5 311.7h.75v.75h-.75zM613.1 317.3h.75v.75h-.75zM617.6 314.2h.75v.75h-.75zM600.8 314.3h.75v.75h-.75zM630.4 310.3h.75v.75h-.75zM593.2 315.4h.75v.75h-.75zM633.7 313.7h.75v.75h-.75zM628.0 306.0h.75v.75h-.75zM621.9 314.0h.75v.75h-.75zM614.9 313.9h.75v.75h-.75zM618.6 312.1h.75v.75h-.75zM632.4 308.2h.75v.75h-.75zM656.6 307.7h.75v.75h-.75zM627.7 308.7h.75v.75h-.75zM624.6 310.4h.75v.75h-.75zM606.9 309.0h.75v.75h-.75zM627.2 310.6h.75v.75h-.75zM593.3 308.9h.75v.75h-.75zM620.5 311.4h.75v.75h-.75zM630.5 306.9h.75v.75h-.75zM630.6 309.5h.75v.75h-.75zM618.2 311.5h.75v.75h-.75zM635.4 311.4h.75v.75h-.75zM633.9 308.1h.75v.75h-.75zM620.4 308.4h.75v.75h-.75zM617.5 310.9h.75v.75h-.75zM618.9 313.8h.75v.75h-.75zM629.1 312.7h.75v.75h-.75zM625.8 314.0h.75v.75h-.75zM625.6 313.7h.75v.75h-.75zM630.0 312.6h.75v.75h-.75zM622.8 307.8h.75v.75h-.75zM608.2 318.6h.75v.75h-.75zM628.6 311.9h.75v.75h-.75zM621.9 310.2h.75v.75h-.75zM656.4 304.1h.75v.75h-.75zM623.3 311.1h.75v.75h-.75zM610.7 309.2h.75v.75h-.75zM615.9 311.2h.75v.75h-.75zM618.7 314.1h.75v.75h-.75zM610.7 313.9h.75v.75h-.75zM641.1 311.7h.75v.75h-.75zM610.0 304.6h.75v.75h-.75zM633.8 311.4h.75v.75h-.75zM617.7 315.6h.75v.75h-.75zM619.4 312.1h.75v.75h-.75zM612.3 313.5h.75v.75h-.75zM618.9 310.4h.75v.75h-.75zM636.4 310.3h.75v.75h-.75zM607.2 315.2h.75v.75h-.75zM633.3 307.7h.75v.75h-.75zM619.5 311.9h.75v.75h-.75zM621.2 311.9h.75v.75h-.75zM631.3 308.9h.75v.75h-.75zM647.5 306.4h.75v.75h-.75zM618.5 317.4h.75v.75h-.75zM651.2 308.0h.75v.75h-.75zM621.5 308.5h.75v.75h-.75zM637.1 310.1h.75v.75h-.75zM614.5 313.5h.75v.75h-.75zM639.9 311.2h.75v.75h-.75zM649.6 311.4h.75v.75h-.75zM629.0 310.5h.75v.75h-.75zM630.7 313.8h.75v.75h-.75zM634.2 313.0h.75v.75h-.75zM626.8 313.0h.75v.75h-.75zM637.8 309.1h.75v.75h-.75zM609.8 317.8h.75v.75h-.75zM630.5 309.2h.75v.75h-.75zM626.6 310.2h.75v.75h-.75zM604.5 313.0h.75v.75h-.75zM607.8 313.7h.75v.75h-.75zM623.1 314.5h.75v.75h-.75zM622.8 312.4h.75v.75h-.75zM620.5 310.6h.75v.75h-.75zM608.4 315.9h.75v.75h-.75zM625.8 309.3h.75v.75h-.75zM626.2 309.8h.75v.75h-.75zM615.8 312.9h.75v.75h-.75zM637.8 308.8h.75v.75h-.75zM607.5 311.5h.75v.75h-.75zM644.2 306.5h.75v.75h-.75zM637.5 308.9h.75v.75h-.75zM632.4 309.9h.75v.75h-.75zM605.9 312.2h.75v.75h-.75zM648.1 307.9h.75v.75h-.75zM630.3 309.5h.75v.75h-.75zM622.6 312.3h.75v.75h-.75zM630.2 316.7h.75v.75h-.75zM623.8 310.7h.75v.75h-.75zM616.0 308.5h.75v.75h-.75zM605.9 315.3h.75v.75h-.75zM603.2 317.7h.75v.75h-.75zM633.7 309.2h.75v.75h-.75zM610.9 312.9h.75v.75h-.75zM624.7 314.3h.75v.75h-.75zM615.4 311.2h.75v.75h-.75zM623.3 310.5h.75v.75h-.75zM616.3 307.3h.75v.75h-.75zM605.1 311.6h.75v.75h-.75zM621.8 314.3h.75v.75h-.75zM651.0 312.8h.75v.75h-.75zM629.2 315.9h.75v.75h-.75zM622.5 309.9h.75v.75h-.75zM650.1 305.1h.75v.75h-.75zM619.2 311.0h.75v.75h-.75zM640.5 307.5h.75v.75h-.75zM632.8 309.0h.75v.75h-.75zM610.2 313.5h.75v.75h-.75zM625.6 307.8h.75v.75h-.75zM613.9 310.2h.75v.75h-.75zM635.2 311.2h.75v.75h-.75zM626.9 312.2h.75v.75h-.75zM618.8 313.2h.75v.75h-.75zM616.7 308.3h.75v.75h-.75zM616.1 312.8h.75v.75h-.75zM625.4 314.0h.75v.75h-.75zM604.7 312.9h.75v.75h-.75zM628.3 308.0h.75v.75h-.75zM626.8 309.7h.75v.75h-.75zM611.6 315.9h.75v.75h-.75zM608.6 315.9h.75v.75h-.75zM619.0 309.2h.75v.75h-.75zM613.7 310.4h.75v.75h-.75zM614.5 313.1h.75v.75h-.75zM603.2 317.2h.75v.75h-.75zM634.1 313.9h.75v.75h-.75zM612.1 306.1h.75v.75h-.75zM616.9 311.6h.75v.75h-.75zM627.4 309.4h.75v.75h-.75zM623.2 311.7h.75v.75h-.75zM607.0 318.4h.75v.75h-.75zM611.4 313.5h.75v.75h-.75zM636.2 307.6h.75v.75h-.75zM624.7 315.7h.75v.75h-.75zM621.3 314.5h.75v.75h-.75zM627.5 311.4h.75v.75h-.75zM632.2 309.6h.75v.75h-.75zM622.1 314.2h.75v.75h-.75zM627.3 312.2h.75v.75h-.75zM610.5 312.9h.75v.75h-.75zM638.3 312.0h.75v.75h-.75zM627.9 309.3h.75v.75h-.75zM617.3 313.3h.75v.75h-.75zM640.4 309.4h.75v.75h-.75zM639.0 308.6h.75v.75h-.75zM637.5 306.8h.75v.75h-.75zM626.0 308.0h.75v.75h-.75zM631.9 311.9h.75v.75h-.75zM613.1 310.5h.75v.75h-.75zM618.6 307.7h.75v.75h-.75zM613.3 310.1h.75v.75h-.75zM633.6 314.0h.75v.75h-.75zM619.0 311.0h.75v.75h-.75zM626.4 309.5h.75v.75h-.75zM621.3 313.9h.75v.75h-.75zM626.8 310.7h.75v.75h-.75zM618.1 316.1h.75v.75h-.75zM617.2 312.4h.75v.75h-.75zM612.2 311.0h.75v.75h-.75zM625.1 310.0h.75v.75h-.75zM630.3 310.7h.75v.75h-.75zM607.6 306.7h.75v.75h-.75zM635.3 308.2h.75v.75h-.75zM641.1 309.2h.75v.75h-.75zM615.6 313.8h.75v.75h-.75zM621.1 311.6h.75v.75h-.75zM613.8 314.3h.75v.75h-.75zM636.5 308.3h.75v.75h-.75zM644.3 307.2h.75v.75h-.75zM626.5 306.3h.75v.75h-.75zM602.9 319.7h.75v.75h-.75zM640.8 312.4h.75v.75h-.75zM604.9 314.2h.75v.75h-.75zM629.0 310.9h.75v.75h-.75zM627.2 308.3h.75v.75h-.75zM621.9 308.3h.75v.75h-.75zM620.3 312.7h.75v.75h-.75zM615.1 311.5h.75v.75h-.75zM619.2 311.9h.75v.75h-.75zM634.7 310.6h.75v.75h-.75zM628.2 306.7h.75v.75h-.75zM620.3 314.0h.75v.75h-.75zM614.2 311.2h.75v.75h-.75zM613.5 316.3h.75v.75h-.75zM618.7 309.8h.75v.75h-.75zM631.5 313.4h.75v.75h-.75zM630.1 313.3h.75v.75h-.75zM626.5 310.6h.75v.75h-.75zM618.9 310.4h.75v.75h-.75zM617.4 313.1h.75v.75h-.75zM622.8 311.6h.75v.75h-.75zM631.0 310.2h.75v.75h-.75zM608.2 310.9h.75v.75h-.75zM610.7 307.5h.75v.75h-.75zM624.9 307.7h.75v.75h-.75zM609.1 310.0h.75v.75h-.75zM633.9 309.1h.75v.75h-.75zM635.4 309.6h.75v.75h-.75zM619.3 313.4h.75v.75h-.75zM630.9 310.7h.75v.75h-.75zM612.1 311.4h.75v.75h-.75zM610.5 312.1h.75v.75h-.75zM625.6 315.2h.75v.75h-.75zM640.4 311.1h.75v.75h-.75zM635.0 310.5h.75v.75h-.75zM656.2 311.6h.75v.75h-.75zM654.4 308.6h.75v.75h-.75zM629.1 313.6h.75v.75h-.75zM626.3 311.8h.75v.75h-.75z" fill="#000" fill-opacity="0.55"/>
<path d="M619.8 312.7h.75v.75h-.75zM628.2 311.5h.75v.75h-.75zM625.1 308.0h.75v.75h-.75zM631.0 311.7h.75v.75h-.75zM617.3 310.1h.75v.75h-.75zM624.7 310.3h.75v.75h-.75zM614.7 314.5h.75v.75h-.75zM634.4 308.6h.75v.75h-.75zM613.6 312.6h.75v.75h-.75zM641.9 309.9h.75v.75h-.75zM635.4 308.0h.75v.75h-.75zM628.5 308.0h.75v.75h-.75zM641.8 309.5h.75v.75h-.75zM611.0 309.5h.75v.75h-.75zM630.6 310.2h.75v.75h-.75zM624.8 311.6h.75v.75h-.75zM642.0 309.1h.75v.75h-.75zM613.5 311.8h.75v.75h-.75zM617.1 310.4h.75v.75h-.75zM629.4 309.9h.75v.75h-.75zM619.0 311.3h.75v.75h-.75zM621.0 311.9h.75v.75h-.75zM625.2 311.2h.75v.75h-.75zM625.1 311.8h.75v.75h-.75zM625.9 310.5h.75v.75h-.75zM622.8 311.1h.75v.75h-.75zM614.2 316.0h.75v.75h-.75zM621.9 311.2h.75v.75h-.75zM623.3 310.1h.75v.75h-.75zM629.8 309.3h.75v.75h-.75zM623.5 308.7h.75v.75h-.75zM619.8 309.5h.75v.75h-.75zM640.1 306.8h.75v.75h-.75zM618.9 311.6h.75v.75h-.75zM637.2 306.6h.75v.75h-.75zM615.4 312.0h.75v.75h-.75zM629.1 308.0h.75v.75h-.75zM613.3 310.6h.75v.75h-.75zM632.4 309.7h.75v.75h-.75zM632.4 309.6h.75v.75h-.75zM626.7 311.3h.75v.75h-.75zM626.0 310.8h.75v.75h-.75zM620.0 310.3h.75v.75h-.75zM630.3 309.6h.75v.75h-.75zM621.4 312.0h.75v.75h-.75zM630.9 309.9h.75v.75h-.75zM621.4 312.4h.75v.75h-.75zM645.3 306.9h.75v.75h-.75zM615.2 310.6h.75v.75h-.75zM619.7 309.3h.75v.75h-.75zM618.2 312.7h.75v.75h-.75zM633.5 311.8h.75v.75h-.75zM632.3 309.0h.75v.75h-.75zM634.8 308.5h.75v.75h-.75zM624.0 309.0h.75v.75h-.75zM636.1 310.8h.75v.75h-.75zM623.3 310.3h.75v.75h-.75zM627.1 310.7h.75v.75h-.75zM633.1 309.7h.75v.75h-.75zM629.5 307.8h.75v.75h-.75zM624.2 308.0h.75v.75h-.75zM640.3 310.9h.75v.75h-.75zM632.3 311.4h.75v.75h-.75zM641.9 310.0h.75v.75h-.75zM614.9 311.5h.75v.75h-.75zM609.1 311.3h.75v.75h-.75zM617.5 311.5h.75v.75h-.75zM629.5 308.7h.75v.75h-.75zM624.7 311.1h.75v.75h-.75zM625.6 310.3h.75v.75h-.75zM608.8 311.9h.75v.75h-.75zM632.7 310.1h.75v.75h-.75zM615.7 311.3h.75v.75h-.75zM628.5 308.7h.75v.75h-.75zM631.6 308.6h.75v.75h-.75zM624.2 310.5h.75v.75h-.75zM643.2 307.9h.75v.75h-.75zM622.6 312.0h.75v.75h-.75zM623.3 311.1h.75v.75h-.75zM610.0 312.8h.75v.75h-.75zM626.3 308.5h.75v.75h-.75zM636.8 308.8h.75v.75h-.75zM625.0 308.6h.75v.75h-.75zM614.5 311.0h.75v.75h-.75zM615.5 312.5h.75v.75h-.75zM633.1 308.7h.75v.75h-.75zM614.7 311.2h.75v.75h-.75zM618.8 311.6h.75v.75h-.75zM628.0 309.6h.75v.75h-.75zM627.4 311.9h.75v.75h-.75zM639.3 308.1h.75v.75h-.75zM632.0 309.4h.75v.75h-.75zM619.1 313.2h.75v.75h-.75zM629.6 310.2h.75v.75h-.75zM629.3 309.8h.75v.75h-.75zM619.2 314.0h.75v.75h-.75zM633.4 310.0h.75v.75h-.75zM634.1 311.4h.75v.75h-.75zM625.3 311.4h.75v.75h-.75zM624.4 311.6h.75v.75h-.75zM625.2 314.2h.75v.75h-.75zM624.1 311.5h.75v.75h-.75zM630.1 309.5h.75v.75h-.75zM633.6 309.4h.75v.75h-.75zM623.6 310.7h.75v.75h-.75zM621.3 312.8h.75v.75h-.75zM631.5 311.3h.75v.75h-.75zM616.7 312.0h.75v.75h-.75zM621.0 311.2h.75v.75h-.75zM636.2 309.6h.75v.75h-.75zM625.6 312.2h.75v.75h-.75zM634.5 312.2h.75v.75h-.75zM612.9 312.5h.75v.75h-.75zM623.4 309.4h.75v.75h-.75zM627.3 308.5h.75v.75h-.75zM609.9 311.0h.75v.75h-.75zM625.1 313.4h.75v.75h-.75zM621.1 309.3h.75v.75h-.75zM611.9 311.6h.75v.75h-.75zM624.9 310.8h.75v.75h-.75zM615.8 310.5h.75v.75h-.75zM609.8 312.7h.75v.75h-.75zM614.5 307.7h.75v.75h-.75zM635.4 310.1h.75v.75h-.75zM629.4 310.6h.75v.75h-.75zM619.2 312.9h.75v.75h-.75zM619.2 314.2h.75v.75h-.75zM628.0 307.4h.75v.75h-.75zM633.5 312.5h.75v.75h-.75zM625.0 312.2h.75v.75h-.75zM625.0 309.6h.75v.75h-.75zM607.7 314.5h.75v.75h-.75zM623.4 311.3h.75v.75h-.75zM618.1 310.0h.75v.75h-.75zM634.9 308.8h.75v.75h-.75zM623.5 308.9h.75v.75h-.75zM628.4 311.3h.75v.75h-.75zM623.2 310.5h.75v.75h-.75zM617.9 313.6h.75v.75h-.75zM622.1 310.7h.75v.75h-.75zM639.2 308.5h.75v.75h-.75zM615.0 310.4h.75v.75h-.75zM624.4 313.4h.75v.75h-.75zM628.4 309.8h.75v.75h-.75zM633.2 311.6h.75v.75h-.75zM621.3 313.2h.75v.75h-.75zM633.2 310.3h.75v.75h-.75zM609.1 312.8h.75v.75h-.75zM637.1 308.7h.75v.75h-.75zM644.1 308.4h.75v.75h-.75zM619.3 312.2h.75v.75h-.75zM629.1 311.4h.75v.75h-.75zM625.3 312.5h.75v.75h-.75zM622.6 311.1h.75v.75h-.75zM617.3 310.3h.75v.75h-.75zM628.2 309.2h.75v.75h-.75zM623.4 310.5h.75v.75h-.75zM628.8 311.3h.75v.75h-.75zM632.8 311.2h.75v.75h-.75zM628.3 309.4h.75v.75h-.75zM614.8 311.3h.75v.75h-.75zM620.5 308.4h.75v.75h-.75zM638.9 306.1h.75v.75h-.75zM629.6 310.9h.75v.75h-.75zM625.5 314.5h.75v.75h-.75zM626.8 309.2h.75v.75h-.75zM639.9 307.6h.75v.75h-.75zM615.8 310.2h.75v.75h-.75zM622.0 311.0h.75v.75h-.75zM629.1 307.8h.75v.75h-.75zM629.9 313.4h.75v.75h-.75zM621.4 310.8h.75v.75h-.75zM632.3 311.6h.75v.75h-.75zM621.6 309.5h.75v.75h-.75zM619.4 313.0h.75v.75h-.75zM633.2 306.3h.75v.75h-.75zM610.5 310.5h.75v.75h-.75zM615.6 312.4h.75v.75h-.75zM628.8 313.1h.75v.75h-.75zM632.9 309.8h.75v.75h-.75zM635.6 308.0h.75v.75h-.75zM616.3 311.7h.75v.75h-.75zM633.6 307.1h.75v.75h-.75zM633.8 310.9h.75v.75h-.75zM623.1 311.1h.75v.75h-.75zM624.8 310.8h.75v.75h-.75zM632.8 308.4h.75v.75h-.75zM634.9 310.8h.75v.75h-.75zM633.3 306.6h.75v.75h-.75zM612.9 313.1h.75v.75h-.75zM622.3 309.9h.75v.75h-.75zM620.8 309.1h.75v.75h-.75zM624.5 309.6h.75v.75h-.75zM622.0 311.7h.75v.75h-.75zM618.1 313.2h.75v.75h-.75zM610.5 316.2h.75v.75h-.75zM616.6 312.5h.75v.75h-.75zM633.7 309.5h.75v.75h-.75zM632.4 309.5h.75v.75h-.75zM613.6 312.5h.75v.75h-.75zM635.4 308.5h.75v.75h-.75zM613.9 311.0h.75v.75h-.75zM629.3 310.5h.75v.75h-.75zM635.3 310.2h.75v.75h-.75zM630.3 306.9h.75v.75h-.75zM643.7 308.4h.75v.75h-.75zM633.3 309.1h.75v.75h-.75zM625.7 310.6h.75v.75h-.75zM639.1 311.2h.75v.75h-.75zM631.9 312.8h.75v.75h-.75zM623.9 311.5h.75v.75h-.75zM623.6 312.8h.75v.75h-.75zM627.3 311.8h.75v.75h-.75zM639.6 305.7h.75v.75h-.75zM643.4 308.9h.75v.75h-.75zM624.1 307.8h.75v.75h-.75zM624.2 307.2h.75v.75h-.75zM627.5 310.1h.75v.75h-.75zM640.7 308.2h.75v.75h-.75zM635.3 311.2h.75v.75h-.75zM642.6 308.1h.75v.75h-.75zM632.4 307.4h.75v.75h-.75zM618.4 311.0h.75v.75h-.75zM626.5 308.6h.75v.75h-.75zM623.9 311.8h.75v.75h-.75zM623.4 310.6h.75v.75h-.75zM620.4 313.3h.75v.75h-.75zM640.5 309.1h.75v.75h-.75zM626.4 313.0h.75v.75h-.75zM630.5 308.9h.75v.75h-.75zM616.5 310.7h.75v.75h-.75zM643.6 307.5h.75v.75h-.75zM649.0 307.7h.75v.75h-.75zM625.5 312.6h.75v.75h-.75zM625.2 311.2h.75v.75h-.75zM618.8 309.5h.75v.75h-.75zM621.4 311.4h.75v.75h-.75zM621.5 308.0h.75v.75h-.75zM630.6 309.7h.75v.75h-.75zM624.7 309.7h.75v.75h-.75zM610.1 314.9h.75v.75h-.75zM623.4 311.6h.75v.75h-.75zM637.8 310.8h.75v.75h-.75zM628.5 310.2h.75v.75h-.75zM629.5 311.5h.75v.75h-.75zM631.3 309.2h.75v.75h-.75zM630.5 310.6h.75v.75h-.75zM632.3 310.1h.75v.75h-.75zM637.5 309.4h.75v.75h-.75zM633.8 309.6h.75v.75h-.75zM622.4 309.5h.75v.75h-.75zM625.9 311.4h.75v.75h-.75zM636.7 309.1h.75v.75h-.75zM622.9 310.1h.75v.75h-.75zM636.9 309.4h.75v.75h-.75zM623.3 312.0h.75v.75h-.75zM616.9 311.8h.75v.75h-.75zM626.6 310.2h.75v.75h-.75zM618.4 313.0h.75v.75h-.75zM639.6 306.8h.75v.75h-.75zM628.0 311.3h.75v.75h-.75zM644.2 307.7h.75v.75h-.75zM619.8 311.3h.75v.75h-.75zM642.4 308.7h.75v.75h-.75zM629.3 312.9h.75v.75h-.75zM610.3 309.1h.75v.75h-.75zM634.1 310.7h.75v.75h-.75zM616.5 312.5h.75v.75h-.75zM627.4 310.7h.75v.75h-.75zM620.8 310.4h.75v.75h-.75zM620.3 311.3h.75v.75h-.75zM625.5 313.2h.75v.75h-.75zM631.5 307.4h.75v.75h-.75zM630.4 312.2h.75v.75h-.75zM629.3 311.8h.75v.75h-.75zM626.9 311.5h.75v.75h-.75zM620.0 312.5h.75v.75h-.75zM616.7 313.6h.75v.75h-.75zM615.1 308.6h.75v.75h-.75zM631.0 309.6h.75v.75h-.75zM627.9 310.9h.75v.75h-.75zM626.6 309.1h.75v.75h-.75zM628.7 310.7h.75v.75h-.75zM631.1 313.0h.75v.75h-.75zM621.4 311.2h.75v.75h-.75zM631.2 309.2h.75v.75h-.75zM617.7 310.6h.75v.75h-.75zM635.1 309.0h.75v.75h-.75zM631.5 308.7h.75v.75h-.75zM630.3 309.0h.75v.75h-.75zM620.6 311.3h.75v.75h-.75zM627.7 312.6h.75v.75h-.75zM614.7 312.7h.75v.75h-.75zM639.6 311.0h.75v.75h-.75zM623.9 309.7h.75v.75h-.75zM623.3 311.3h.75v.75h-.75zM628.5 310.8h.75v.75h-.75zM631.4 308.2h.75v.75h-.75zM618.2 309.6h.75v.75h-.75zM616.7 311.5h.75v.75h-.75zM629.8 314.0h.75v.75h-.75zM631.1 309.9h.75v.75h-.75zM637.7 308.0h.75v.75h-.75zM629.8 311.6h.75v.75h-.75zM633.1 310.3h.75v.75h-.75zM624.1 308.8h.75v.75h-.75zM625.7 309.6h.75v.75h-.75zM632.2 309.6h.75v.75h-.75zM631.0 307.4h.75v.75h-.75zM634.3 308.2h.75v.75h-.75zM614.8 309.7h.75v.75h-.75zM622.4 312.7h.75v.75h-.75zM632.2 308.0h.75v.75h-.75zM627.6 310.2h.75v.75h-.75zM614.8 310.3h.75v.75h-.75zM611.3 310.9h.75v.75h-.75zM606.6 311.6h.75v.75h-.75zM619.7 310.0h.75v.75h-.75zM620.9 312.9h.75v.75h-.75zM624.4 311.1h.75v.75h-.75zM632.9 311.1h.75v.75h-.75zM632.1 308.9h.75v.75h-.75zM618.5 310.2h.75v.75h-.75zM623.4 310.8h.75v.75h-.75zM626.5 312.2h.75v.75h-.75zM626.5 313.2h.75v.75h-.75zM634.8 308.7h.75v.75h-.75zM633.0 305.2h.75v.75h-.75zM637.6 309.8h.75v.75h-.75zM629.7 307.5h.75v.75h-.75zM646.2 307.7h.75v.75h-.75zM626.1 312.2h.75v.75h-.75zM625.4 309.3h.75v.75h-.75zM631.8 308.3h.75v.75h-.75zM632.7 309.9h.75v.75h-.75zM635.4 307.5h.75v.75h-.75zM636.5 309.7h.75v.75h-.75zM641.9 307.6h.75v.75h-.75zM641.3 309.8h.75v.75h-.75zM632.9 308.6h.75v.75h-.75zM631.4 310.9h.75v.75h-.75zM620.5 309.4h.75v.75h-.75zM621.4 313.3h.75v.75h-.75zM628.4 311.7h.75v.75h-.75zM629.2 310.3h.75v.75h-.75zM628.6 309.6h.75v.75h-.75zM636.3 309.5h.75v.75h-.75zM628.5 308.1h.75v.75h-.75zM629.2 309.1h.75v.75h-.75zM623.4 312.4h.75v.75h-.75zM618.6 311.1h.75v.75h-.75zM632.0 311.6h.75v.75h-.75zM623.1 311.4h.75v.75h-.75zM629.0 308.4h.75v.75h-.75zM610.4 309.4h.75v.75h-.75zM631.6 310.0h.75v.75h-.75zM616.7 310.7h.75v.75h-.75zM623.9 310.2h.75v.75h-.75zM627.2 313.8h.75v.75h-.75zM621.1 311.3h.75v.75h-.75zM621.0 310.1h.75v.75h-.75zM620.3 310.9h.75v.75h-.75zM622.9 311.4h.75v.75h-.75zM628.4 308.8h.75v.75h-.75zM641.4 306.9h.75v.75h-.75zM630.1 313.4h.75v.75h-.75zM621.8 313.1h.75v.75h-.75zM637.9 309.6h.75v.75h-.75zM613.2 314.3h.75v.75h-.75zM627.6 309.5h.75v.75h-.75zM636.6 308.1h.75v.75h-.75zM635.0 308.6h.75v.75h-.75zM630.9 308.3h.75v.75h-.75zM623.8 309.4h.75v.75h-.75zM621.6 311.3h.75v.75h-.75zM625.7 310.8h.75v.75h-.75zM636.7 309.0h.75v.75h-.75zM612.8 311.7h.75v.75h-.75zM627.8 311.9h.75v.75h-.75zM635.0 310.9h.75v.75h-.75zM625.4 311.6h.75v.75h-.75zM616.3 313.7h.75v.75h-.75zM630.4 310.8h.75v.75h-.75zM624.1 310.8h.75v.75h-.75zM622.0 311.9h.75v.75h-.75zM617.1 313.1h.75v.75h-.75zM631.5 313.0h.75v.75h-.75zM626.7 310.3h.75v.75h-.75zM628.5 310.3h.75v.75h-.75zM626.0 308.8h.75v.75h-.75zM618.5 310.6h.75v.75h-.75zM624.6 308.9h.75v.75h-.75zM618.1 311.0h.75v.75h-.75zM632.6 309.4h.75v.75h-.75zM632.3 311.3h.75v.75h-.75zM632.8 309.1h.75v.75h-.75zM623.6 307.9h.75v.75h-.75zM621.9 311.7h.75v.75h-.75zM619.0 313.5h.75v.75h-.75zM637.8 308.5h.75v.75h-.75z" fill="#000" fill-opacity="0.75"/>
<path d="M643.3 277.4h.75v.75h-.75zM619.1 286.0h.75v.75h-.75zM632.1 287.5h.75v.75h-.75zM621.4 305.1h.75v.75h-.75zM635.6 291.3h.75v.75h-.75zM640.3 290.4h.75v.75h-.75zM629.2 284.5h.75v.75h-.75zM611.9 301.2h.75v.75h-.75zM620.7 275.4h.75v.75h-.75zM622.1 275.9h.75v.75h-.75zM656.4 292.0h.75v.75h-.75zM649.3 300.9h.75v.75h-.75zM639.0 293.7h.75v.75h-.75zM623.1 288.3h.75v.75h-.75zM624.6 289.3h.75v.75h-.75zM623.4 299.3h.75v.75h-.75zM641.4 288.1h.75v.75h-.75zM611.5 294.6h.75v.75h-.75zM642.8 288.4h.75v.75h-.75zM616.6 292.5h.75v.75h-.75zM644.9 273.3h.75v.75h-.75zM638.9 274.2h.75v.75h-.75zM633.0 303.3h.75v.75h-.75zM633.1 292.9h.75v.75h-.75zM628.1 288.9h.75v.75h-.75zM660.8 299.9h.75v.75h-.75zM628.2 285.9h.75v.75h-.75zM632.2 306.9h.75v.75h-.75zM634.6 298.1h.75v.75h-.75zM627.5 278.6h.75v.75h-.75zM648.2 288.4h.75v.75h-.75zM622.4 283.4h.75v.75h-.75zM623.8 284.1h.75v.75h-.75zM613.2 298.8h.75v.75h-.75zM636.7 296.9h.75v.75h-.75zM627.8 291.8h.75v.75h-.75zM634.0 298.6h.75v.75h-.75zM642.0 291.9h.75v.75h-.75zM624.1 279.2h.75v.75h-.75zM622.2 283.8h.75v.75h-.75zM625.4 278.9h.75v.75h-.75zM652.3 291.2h.75v.75h-.75zM607.4 280.1h.75v.75h-.75zM615.6 290.9h.75v.75h-.75zM645.0 281.0h.75v.75h-.75zM639.6 286.8h.75v.75h-.75zM646.0 300.1h.75v.75h-.75zM635.8 294.8h.75v.75h-.75zM632.0 286.0h.75v.75h-.75zM617.8 291.7h.75v.75h-.75zM631.1 285.9h.75v.75h-.75zM631.1 287.5h.75v.75h-.75zM619.4 284.7h.75v.75h-.75zM645.9 287.1h.75v.75h-.75zM649.0 279.6h.75v.75h-.75zM615.5 290.0h.75v.75h-.75zM641.4 283.7h.75v.75h-.75zM639.6 296.6h.75v.75h-.75zM645.1 288.1h.75v.75h-.75zM631.4 275.6h.75v.75h-.75zM632.3 291.3h.75v.75h-.75zM649.2 278.7h.75v.75h-.75zM621.7 280.9h.75v.75h-.75zM642.9 268.5h.75v.75h-.75zM618.8 305.7h.75v.75h-.75zM640.0 278.2h.75v.75h-.75zM631.3 295.9h.75v.75h-.75zM638.7 287.2h.75v.75h-.75zM622.4 295.7h.75v.75h-.75zM631.9 295.6h.75v.75h-.75zM636.8 285.2h.75v.75h-.75zM649.5 285.0h.75v.75h-.75zM637.2 283.9h.75v.75h-.75zM629.2 287.0h.75v.75h-.75zM624.0 290.9h.75v.75h-.75zM647.9 304.0h.75v.75h-.75zM649.4 287.6h.75v.75h-.75zM649.7 292.4h.75v.75h-.75zM653.8 278.8h.75v.75h-.75zM650.0 284.2h.75v.75h-.75zM646.0 285.2h.75v.75h-.75zM643.1 286.7h.75v.75h-.75zM609.2 281.2h.75v.75h-.75zM629.1 289.2h.75v.75h-.75zM604.9 279.3h.75v.75h-.75zM623.2 287.3h.75v.75h-.75zM634.7 282.4h.75v.75h-.75zM613.6 291.4h.75v.75h-.75zM628.0 296.2h.75v.75h-.75zM625.6 294.2h.75v.75h-.75zM621.2 291.2h.75v.75h-.75zM633.1 292.6h.75v.75h-.75zM620.7 288.0h.75v.75h-.75zM621.7 287.7h.75v.75h-.75zM639.5 313.1h.75v.75h-.75zM632.4 294.8h.75v.75h-.75zM633.4 298.1h.75v.75h-.75zM637.6 297.4h.75v.75h-.75zM636.3 308.3h.75v.75h-.75zM648.7 275.3h.75v.75h-.75zM635.6 289.6h.75v.75h-.75zM605.4 282.1h.75v.75h-.75zM626.5 283.1h.75v.75h-.75zM633.6 274.6h.75v.75h-.75zM641.0 295.3h.75v.75h-.75zM636.3 286.4h.75v.75h-.75zM632.1 285.3h.75v.75h-.75zM645.9 293.1h.75v.75h-.75zM656.1 286.1h.75v.75h-.75zM649.5 284.4h.75v.75h-.75zM630.0 280.7h.75v.75h-.75zM638.4 288.6h.75v.75h-.75zM639.6 301.0h.75v.75h-.75zM631.4 292.1h.75v.75h-.75zM642.9 288.6h.75v.75h-.75zM625.5 291.9h.75v.75h-.75zM638.1 295.3h.75v.75h-.75zM642.1 283.7h.75v.75h-.75zM637.4 298.9h.75v.75h-.75zM626.5 292.0h.75v.75h-.75zM643.8 316.4h.75v.75h-.75zM609.0 286.0h.75v.75h-.75zM639.5 292.1h.75v.75h-.75zM629.6 319.8h.75v.75h-.75zM641.1 337.5h.75v.75h-.75zM638.6 335.2h.75v.75h-.75zM632.0 299.6h.75v.75h-.75zM664.2 291.1h.75v.75h-.75zM620.2 306.3h.75v.75h-.75zM641.2 273.5h.75v.75h-.75zM638.2 295.3h.75v.75h-.75zM631.2 305.1h.75v.75h-.75zM627.2 323.0h.75v.75h-.75zM644.2 297.9h.75v.75h-.75z" fill="#000" fill-opacity="0.4"/>
<path d="M607.9 313.6h.75v.75h-.75zM619.7 313.6h.75v.75h-.75zM606.2 314.2h.75v.75h-.75zM612.1 316.9h.75v.75h-.75zM604.2 309.8h.75v.75h-.75zM610.6 307.6h.75v.75h-.75zM616.7 305.9h.75v.75h-.75zM606.9 307.8h.75v.75h-.75zM607.7 315.8h.75v.75h-.75zM614.1 316.3h.75v.75h-.75zM614.1 305.9h.75v.75h-.75zM612.5 306.5h.75v.75h-.75zM608.5 311.6h.75v.75h-.75zM608.3 314.8h.75v.75h-.75zM607.0 319.1h.75v.75h-.75zM614.0 317.2h.75v.75h-.75zM614.8 316.2h.75v.75h-.75zM610.8 319.9h.75v.75h-.75zM605.8 314.6h.75v.75h-.75zM611.1 312.2h.75v.75h-.75zM612.6 310.4h.75v.75h-.75zM615.4 315.8h.75v.75h-.75zM611.5 315.6h.75v.75h-.75zM605.8 306.7h.75v.75h-.75zM608.1 312.2h.75v.75h-.75zM623.5 312.2h.75v.75h-.75zM616.2 316.0h.75v.75h-.75zM621.6 313.4h.75v.75h-.75zM614.3 312.4h.75v.75h-.75zM606.7 309.5h.75v.75h-.75zM607.1 318.0h.75v.75h-.75zM612.5 312.5h.75v.75h-.75zM611.1 311.1h.75v.75h-.75zM610.9 312.9h.75v.75h-.75zM614.3 316.2h.75v.75h-.75zM602.9 313.8h.75v.75h-.75zM617.9 309.5h.75v.75h-.75zM609.8 313.6h.75v.75h-.75zM616.6 315.1h.75v.75h-.75zM610.0 314.8h.75v.75h-.75zM616.2 314.4h.75v.75h-.75zM620.4 314.5h.75v.75h-.75zM605.8 310.3h.75v.75h-.75zM610.4 312.3h.75v.75h-.75zM614.2 314.3h.75v.75h-.75zM619.6 315.9h.75v.75h-.75zM618.5 310.4h.75v.75h-.75zM608.9 315.4h.75v.75h-.75zM611.5 315.2h.75v.75h-.75zM612.3 310.9h.75v.75h-.75zM619.6 317.0h.75v.75h-.75zM603.3 310.9h.75v.75h-.75zM611.2 315.4h.75v.75h-.75zM610.7 308.3h.75v.75h-.75zM615.2 312.3h.75v.75h-.75zM617.1 314.1h.75v.75h-.75zM616.1 316.0h.75v.75h-.75zM615.5 311.3h.75v.75h-.75zM616.2 313.8h.75v.75h-.75zM604.9 311.7h.75v.75h-.75zM609.4 314.7h.75v.75h-.75zM614.5 309.2h.75v.75h-.75zM614.7 312.8h.75v.75h-.75zM605.8 316.0h.75v.75h-.75zM607.3 308.9h.75v.75h-.75zM614.9 316.2h.75v.75h-.75zM607.8 316.8h.75v.75h-.75zM616.1 311.3h.75v.75h-.75zM621.1 312.9h.75v.75h-.75zM612.2 304.7h.75v.75h-.75zM614.3 310.9h.75v.75h-.75zM613.3 307.1h.75v.75h-.75zM616.9 318.2h.75v.75h-.75zM620.6 302.8h.75v.75h-.75zM614.1 314.3h.75v.75h-.75zM596.1 310.5h.75v.75h-.75zM610.7 318.1h.75v.75h-.75zM607.0 313.8h.75v.75h-.75zM610.9 314.4h.75v.75h-.75zM609.2 316.2h.75v.75h-.75zM616.0 308.4h.75v.75h-.75zM616.8 310.5h.75v.75h-.75zM609.8 317.1h.75v.75h-.75zM611.7 315.1h.75v.75h-.75zM615.1 315.2h.75v.75h-.75zM608.5 309.8h.75v.75h-.75zM614.6 315.8h.75v.75h-.75zM613.0 312.5h.75v.75h-.75zM615.5 313.1h.75v.75h-.75zM604.4 314.1h.75v.75h-.75z" fill="#000" fill-opacity="0.5"/>
<rect x="582.5" y="250.6" width="101.5" height="100.8" fill="none" stroke="#333" stroke-width="0.9"/>
<line x1="621.6" y1="250.6" x2="621.6" y2="351.4" stroke="#222" stroke-width="0.85" />
<line x1="582.5" y1="304.5" x2="684" y2="304.5" stroke="#1a1a1a" stroke-width="0.85" />
<text x="586.1" y="260.4" font-size="8.0" fill="#1a1a1a">0.95</text>
<text x="680.7" y="260.4" font-size="8.0" text-anchor="end" fill="#1a1a1a">8.26</text>
<text x="586.1" y="347.6" font-size="8.0" fill="#1a1a1a">26.1</text>
<text x="680.7" y="347.6" font-size="8.0" text-anchor="end" fill="#1a1a1a">64.7</text>
<path d="M580,250.8h2.5 M580,268h2.5 M580,284.8h2.5 M580,304.3h2.5 M581.2,262.82h1.3 M581.2,259.79h1.3 M581.2,257.64h1.3 M581.2,255.98h1.3 M581.2,254.62h1.3 M581.2,253.46h1.3 M581.2,252.47h1.3 M581.2,251.59h1.3 M581.2,279.74h1.3 M581.2,276.78h1.3 M581.2,274.69h1.3 M581.2,273.06h1.3 M581.2,271.73h1.3 M581.2,270.6h1.3 M581.2,269.63h1.3 M581.2,268.77h1.3 M581.2,298.43h1.3 M581.2,295h1.3 M581.2,292.56h1.3 M581.2,290.67h1.3 M581.2,289.13h1.3 M581.2,287.82h1.3 M581.2,286.69h1.3 M581.2,285.69h1.3 M581.2,308.56h1.3 M581.2,312.83h1.3 M581.2,317.09h1.3 M581.2,321.35h1.3 M581.2,325.62h1.3 M581.2,329.88h1.3 M581.2,334.15h1.3 M581.2,338.41h1.3 M581.2,342.67h1.3 M581.2,346.94h1.3 M581.2,351.2h1.3 M580,351.2h2.5 M590.5,351.4v1.5 M603.4,351.4v1.5 M617.4,351.4v1.5 M621.9,351.4v1.5 M634.5,351.4v1.5 M642.5,351.4v1.5 M650,351.4v1.5 M657,351.4v1.5 M662,351.4v1.5 M665.5,351.4v1.5 M672.5,351.4v1.5 M679.3,351.4v1.5 M683,351.4v1.5 M610.4,351.4v2.5 M650,351.4v2.5 M672.5,351.4v2.5" stroke="#333" stroke-width="0.7" fill="none"/>
<rect x="580.3" y="324.5" width="1.6" height="6.5" fill="#111"/>
<rect x="608.6" y="351.7" width="3.2" height="1.6" fill="#111"/>
<text x="610.4" y="363.6" font-size="7.4" text-anchor="middle" fill="#1a1a1a">0</text>
<text x="649.3" y="363.6" font-size="7.4" text-anchor="middle" fill="#1a1a1a">10<tspan font-size="4.8" dy="-3.2">4</tspan></text>
<text x="672.2" y="363.6" font-size="7.4" text-anchor="middle" fill="#1a1a1a">10<tspan font-size="4.8" dy="-3.2">5</tspan></text>
<text x="27.4" y="253.6" font-size="7.2" text-anchor="end" fill="#1a1a1a">10<tspan font-size="4.8" dy="-3">7</tspan></text>
<text x="27.4" y="270.7" font-size="7.2" text-anchor="end" fill="#1a1a1a">10<tspan font-size="4.8" dy="-3">6</tspan></text>
<text x="27.4" y="287.5" font-size="7.2" text-anchor="end" fill="#1a1a1a">10<tspan font-size="4.8" dy="-3">5</tspan></text>
<text x="27.4" y="307" font-size="7.2" text-anchor="end" fill="#1a1a1a">10<tspan font-size="4.8" dy="-3">4</tspan></text>
<text x="27.4" y="330.7" font-size="7.2" text-anchor="end" fill="#1a1a1a">0</text>
<text x="27.4" y="354" font-size="7.2" text-anchor="end" fill="#1a1a1a">−10<tspan font-size="4.8" dy="-3">4</tspan></text>
<text x="10.4" y="301" font-size="8.5" text-anchor="middle" fill="#1a1a1a" transform="rotate(-90 10.4 301)">Ki-67-FITC</text>
<text x="33.6" y="375.2" font-size="8.45" fill="#1a1a1a">IL-13 (Sm13) huCD4-APC</text>
<path d="M135.5,372.6 H682.5" stroke="#6d7e98" stroke-width="0.9"/>
<path d="M683.8,372.6 L679.6,370.9 L680.4,372.6 L679.6,374.3Z" fill="#4b5e7e"/>
<line x1="35.5" y1="412.6" x2="35.5" y2="527" stroke="#6e6e6e" stroke-width="1" />
<line x1="31.5" y1="527" x2="35.5" y2="527" stroke="#6e6e6e" stroke-width="1" />
<text x="26.9" y="528.8" font-size="8.0" text-anchor="end" fill="#1a1a1a">0</text>
<line x1="31.5" y1="504.12" x2="35.5" y2="504.12" stroke="#6e6e6e" stroke-width="1" />
<text x="26.9" y="505.92" font-size="8.0" text-anchor="end" fill="#1a1a1a">20</text>
<line x1="31.5" y1="481.24" x2="35.5" y2="481.24" stroke="#6e6e6e" stroke-width="1" />
<text x="26.9" y="483.04" font-size="8.0" text-anchor="end" fill="#1a1a1a">40</text>
<line x1="31.5" y1="458.36" x2="35.5" y2="458.36" stroke="#6e6e6e" stroke-width="1" />
<text x="26.9" y="460.16" font-size="8.0" text-anchor="end" fill="#1a1a1a">60</text>
<line x1="31.5" y1="435.48" x2="35.5" y2="435.48" stroke="#6e6e6e" stroke-width="1" />
<text x="26.9" y="437.28" font-size="8.0" text-anchor="end" fill="#1a1a1a">80</text>
<line x1="31.5" y1="412.6" x2="35.5" y2="412.6" stroke="#6e6e6e" stroke-width="1" />
<text x="26.9" y="414.4" font-size="8.0" text-anchor="end" fill="#1a1a1a">100</text>
<line x1="31.5" y1="527" x2="208.1" y2="527" stroke="#6e6e6e" stroke-width="1" />
<line x1="53.7" y1="527" x2="53.7" y2="531" stroke="#6e6e6e" stroke-width="1" />
<line x1="80.6" y1="527" x2="80.6" y2="531" stroke="#6e6e6e" stroke-width="1" />
<line x1="107.5" y1="527" x2="107.5" y2="531" stroke="#6e6e6e" stroke-width="1" />
<line x1="135.3" y1="527" x2="135.3" y2="531" stroke="#6e6e6e" stroke-width="1" />
<line x1="162.2" y1="527" x2="162.2" y2="531" stroke="#6e6e6e" stroke-width="1" />
<line x1="189" y1="527" x2="189" y2="531" stroke="#6e6e6e" stroke-width="1" />
<text x="53.7" y="540.8" font-size="7.8" text-anchor="middle" fill="#1a1a1a">Water</text>
<text x="80.6" y="540.8" font-size="7.8" text-anchor="middle" fill="#1a1a1a">D4</text>
<text x="107.5" y="540.8" font-size="7.8" text-anchor="middle" fill="#1a1a1a">W1</text>
<text x="135.3" y="540.8" font-size="7.8" text-anchor="middle" fill="#1a1a1a">W2</text>
<text x="162.2" y="540.8" font-size="7.8" text-anchor="middle" fill="#1a1a1a">W3</text>
<text x="189" y="540.8" font-size="7.8" text-anchor="middle" fill="#1a1a1a">W5</text>
<line x1="79" y1="544.3" x2="194.8" y2="544.3" stroke="#555" stroke-width="0.9" />
<text x="136.5" y="555.3" font-size="9.2" text-anchor="middle" fill="#1a1a1a">Succinate</text>
<text x="8.8" y="469.8" font-size="8.9" text-anchor="middle" fill="#1a1a1a" transform="rotate(-90 8.8 469.8)">Sm13<tspan font-size="5" dy="-3">+</tspan><tspan dy="3"> (% of ILC2s)</tspan></text>
<path d="M73.32,412.7 L73.97,414.11 L75.51,414.29 L74.37,415.34 L74.68,416.86 L73.32,416.1 L71.97,416.86 L72.28,415.34 L71.14,414.29 L72.68,414.11Z M78.17,412.7 L78.82,414.11 L80.36,414.29 L79.22,415.34 L79.53,416.86 L78.17,416.1 L76.82,416.86 L77.13,415.34 L75.99,414.29 L77.53,414.11Z M83.02,412.7 L83.67,414.11 L85.21,414.29 L84.07,415.34 L84.38,416.86 L83.02,416.1 L81.67,416.86 L81.98,415.34 L80.84,414.29 L82.38,414.11Z M87.87,412.7 L88.52,414.11 L90.06,414.29 L88.92,415.34 L89.23,416.86 L87.87,416.1 L86.52,416.86 L86.83,415.34 L85.69,414.29 L87.23,414.11Z" fill="#1a1a1a"/>
<path d="M100.22,412.7 L100.87,414.11 L102.41,414.29 L101.27,415.34 L101.58,416.86 L100.22,416.1 L98.87,416.86 L99.18,415.34 L98.04,414.29 L99.58,414.11Z M105.07,412.7 L105.72,414.11 L107.26,414.29 L106.12,415.34 L106.43,416.86 L105.07,416.1 L103.72,416.86 L104.03,415.34 L102.89,414.29 L104.43,414.11Z M109.92,412.7 L110.57,414.11 L112.11,414.29 L110.97,415.34 L111.28,416.86 L109.92,416.1 L108.57,416.86 L108.88,415.34 L107.74,414.29 L109.28,414.11Z M114.77,412.7 L115.42,414.11 L116.96,414.29 L115.82,415.34 L116.13,416.86 L114.77,416.1 L113.42,416.86 L113.73,415.34 L112.59,414.29 L114.13,414.11Z" fill="#1a1a1a"/>
<path d="M128.03,412.7 L128.67,414.11 L130.21,414.29 L129.07,415.34 L129.38,416.86 L128.03,416.1 L126.67,416.86 L126.98,415.34 L125.84,414.29 L127.38,414.11Z M132.88,412.7 L133.52,414.11 L135.06,414.29 L133.92,415.34 L134.23,416.86 L132.88,416.1 L131.52,416.86 L131.83,415.34 L130.69,414.29 L132.23,414.11Z M137.72,412.7 L138.37,414.11 L139.91,414.29 L138.77,415.34 L139.08,416.86 L137.72,416.1 L136.37,416.86 L136.68,415.34 L135.54,414.29 L137.08,414.11Z M142.58,412.7 L143.22,414.11 L144.76,414.29 L143.62,415.34 L143.93,416.86 L142.58,416.1 L141.22,416.86 L141.53,415.34 L140.39,414.29 L141.93,414.11Z" fill="#1a1a1a"/>
<path d="M154.92,412.7 L155.57,414.11 L157.11,414.29 L155.97,415.34 L156.28,416.86 L154.92,416.1 L153.57,416.86 L153.88,415.34 L152.74,414.29 L154.28,414.11Z M159.77,412.7 L160.42,414.11 L161.96,414.29 L160.82,415.34 L161.13,416.86 L159.77,416.1 L158.42,416.86 L158.73,415.34 L157.59,414.29 L159.13,414.11Z M164.62,412.7 L165.27,414.11 L166.81,414.29 L165.67,415.34 L165.98,416.86 L164.62,416.1 L163.27,416.86 L163.58,415.34 L162.44,414.29 L163.98,414.11Z M169.47,412.7 L170.12,414.11 L171.66,414.29 L170.52,415.34 L170.83,416.86 L169.47,416.1 L168.12,416.86 L168.43,415.34 L167.29,414.29 L168.83,414.11Z" fill="#1a1a1a"/>
<path d="M181.72,412.7 L182.37,414.11 L183.91,414.29 L182.77,415.34 L183.08,416.86 L181.72,416.1 L180.37,416.86 L180.68,415.34 L179.54,414.29 L181.08,414.11Z M186.57,412.7 L187.22,414.11 L188.76,414.29 L187.62,415.34 L187.93,416.86 L186.57,416.1 L185.22,416.86 L185.53,415.34 L184.39,414.29 L185.93,414.11Z M191.42,412.7 L192.07,414.11 L193.61,414.29 L192.47,415.34 L192.78,416.86 L191.42,416.1 L190.07,416.86 L190.38,415.34 L189.24,414.29 L190.78,414.11Z M196.28,412.7 L196.92,414.11 L198.46,414.29 L197.32,415.34 L197.63,416.86 L196.28,416.1 L194.92,416.86 L195.23,415.34 L194.09,414.29 L195.63,414.11Z" fill="#1a1a1a"/>
<circle cx="53.6" cy="493.6" r="3.2" fill="#000"/>
<circle cx="47.4" cy="501.3" r="3.2" fill="#000"/>
<circle cx="53.6" cy="505" r="3.2" fill="#000"/>
<circle cx="59.8" cy="505" r="3.2" fill="#000"/>
<circle cx="50.4" cy="512.2" r="3.2" fill="#000"/>
<circle cx="57.3" cy="512.2" r="3.2" fill="#000"/>
<circle cx="47.4" cy="520.4" r="3.2" fill="#000"/>
<circle cx="53.6" cy="520.4" r="3.2" fill="#000"/>
<circle cx="59.8" cy="520.4" r="3.2" fill="#000"/>
<circle cx="74.7" cy="437.3" r="2.95" fill="none" stroke="#000" stroke-width="0.7"/>
<circle cx="87.1" cy="436.3" r="2.95" fill="none" stroke="#000" stroke-width="0.7"/>
<circle cx="87.1" cy="444" r="2.95" fill="none" stroke="#000" stroke-width="0.7"/>
<circle cx="74.7" cy="449.2" r="2.95" fill="none" stroke="#000" stroke-width="0.7"/>
<circle cx="87.1" cy="467.8" r="2.95" fill="none" stroke="#000" stroke-width="0.7"/>
<circle cx="74.7" cy="472.5" r="2.95" fill="none" stroke="#000" stroke-width="0.7"/>
<circle cx="80.9" cy="481.9" r="2.95" fill="none" stroke="#000" stroke-width="0.7"/>
<circle cx="80.9" cy="495.6" r="2.95" fill="none" stroke="#000" stroke-width="0.7"/>
<path d="M108.2,418.7 L111.72,424.46 L104.68,424.46Z" fill="none" stroke="#111" stroke-width="0.7" stroke-linejoin="miter"/>
<path d="M108.2,436.1 L111.72,441.86 L104.68,441.86Z" fill="none" stroke="#111" stroke-width="0.7" stroke-linejoin="miter"/>
<path d="M102,441 L105.52,446.76 L98.48,446.76Z" fill="none" stroke="#111" stroke-width="0.7" stroke-linejoin="miter"/>
<path d="M114.4,440.3 L117.92,446.06 L110.88,446.06Z" fill="none" stroke="#111" stroke-width="0.7" stroke-linejoin="miter"/>
<path d="M111.4,454.4 L114.92,460.16 L107.88,460.16Z" fill="none" stroke="#111" stroke-width="0.7" stroke-linejoin="miter"/>
<path d="M105,456.9 L108.52,462.66 L101.48,462.66Z" fill="none" stroke="#111" stroke-width="0.7" stroke-linejoin="miter"/>
<path d="M108.2,463.4 L111.72,469.16 L104.68,469.16Z" fill="none" stroke="#111" stroke-width="0.7" stroke-linejoin="miter"/>
<path d="M108.2,488.7 L111.72,494.46 L104.68,494.46Z" fill="none" stroke="#111" stroke-width="0.7" stroke-linejoin="miter"/>
<rect x="126.2" y="438.4" width="6.21" height="6.21" fill="none" stroke="#000" stroke-width="0.7"/>
<rect x="132.4" y="440.9" width="6.21" height="6.21" fill="none" stroke="#000" stroke-width="0.7"/>
<rect x="138.6" y="442.9" width="6.21" height="6.21" fill="none" stroke="#000" stroke-width="0.7"/>
<rect x="126.2" y="446.1" width="6.21" height="6.21" fill="none" stroke="#000" stroke-width="0.7"/>
<rect x="132.4" y="447.1" width="6.21" height="6.21" fill="none" stroke="#000" stroke-width="0.7"/>
<rect x="132.4" y="452.8" width="6.21" height="6.21" fill="none" stroke="#000" stroke-width="0.7"/>
<rect x="138.6" y="451.5" width="6.21" height="6.21" fill="none" stroke="#000" stroke-width="0.7"/>
<rect x="138.6" y="457.7" width="6.21" height="6.21" fill="none" stroke="#000" stroke-width="0.7"/>
<rect x="126.2" y="461.5" width="6.21" height="6.21" fill="none" stroke="#000" stroke-width="0.7"/>
<path d="M162.8,433.8 L166.32,428.04 L159.28,428.04Z" fill="none" stroke="#111" stroke-width="0.7"/>
<path d="M159.8,440 L163.32,434.24 L156.28,434.24Z" fill="none" stroke="#111" stroke-width="0.7"/>
<path d="M166,440 L169.52,434.24 L162.48,434.24Z" fill="none" stroke="#111" stroke-width="0.7"/>
<path d="M162.8,446.7 L166.32,440.94 L159.28,440.94Z" fill="none" stroke="#111" stroke-width="0.7"/>
<path d="M162.8,455.4 L166.32,449.64 L159.28,449.64Z" fill="none" stroke="#111" stroke-width="0.7"/>
<path d="M156.6,461.1 L160.12,455.34 L153.08,455.34Z" fill="none" stroke="#111" stroke-width="0.7"/>
<path d="M169,457.3 L172.52,451.54 L165.48,451.54Z" fill="none" stroke="#111" stroke-width="0.7"/>
<path d="M162.8,463.3 L166.32,457.54 L159.28,457.54Z" fill="none" stroke="#111" stroke-width="0.7"/>
<path d="M159.8,469 L163.32,463.24 L156.28,463.24Z" fill="none" stroke="#111" stroke-width="0.7"/>
<path d="M166,469 L169.52,463.24 L162.48,463.24Z" fill="none" stroke="#111" stroke-width="0.7"/>
<path d="M162.8,480.2 L166.32,474.44 L159.28,474.44Z" fill="none" stroke="#111" stroke-width="0.7"/>
<path d="M183.9,434.64 L187.26,438 L183.9,441.36 L180.54,438Z" fill="none" stroke="#000" stroke-width="0.7"/>
<path d="M190.1,434.64 L193.46,438 L190.1,441.36 L186.74,438Z" fill="none" stroke="#000" stroke-width="0.7"/>
<path d="M196.3,434.64 L199.66,438 L196.3,441.36 L192.94,438Z" fill="none" stroke="#000" stroke-width="0.7"/>
<path d="M186.9,442.64 L190.26,446 L186.9,449.36 L183.54,446Z" fill="none" stroke="#000" stroke-width="0.7"/>
<path d="M193.1,442.64 L196.46,446 L193.1,449.36 L189.74,446Z" fill="none" stroke="#000" stroke-width="0.7"/>
<path d="M183.9,448.84 L187.26,452.2 L183.9,455.56 L180.54,452.2Z" fill="none" stroke="#000" stroke-width="0.7"/>
<path d="M196.3,446.34 L199.66,449.7 L196.3,453.06 L192.94,449.7Z" fill="none" stroke="#000" stroke-width="0.7"/>
<path d="M191.9,450.04 L195.26,453.4 L191.9,456.76 L188.54,453.4Z" fill="none" stroke="#000" stroke-width="0.7"/>
<path d="M187.6,455.74 L190.96,459.1 L187.6,462.46 L184.24,459.1Z" fill="none" stroke="#000" stroke-width="0.7"/>
<line x1="45.1" y1="510.5" x2="62.1" y2="510.5" stroke="#222" stroke-width="0.8" />
<line x1="71.9" y1="460.8" x2="89.9" y2="460.8" stroke="#222" stroke-width="0.8" />
<line x1="80.9" y1="452.7" x2="80.9" y2="468.5" stroke="#222" stroke-width="0.8" />
<line x1="76.9" y1="452.7" x2="84.9" y2="452.7" stroke="#222" stroke-width="0.8" />
<line x1="76.9" y1="468.5" x2="84.9" y2="468.5" stroke="#222" stroke-width="0.8" />
<line x1="99.2" y1="452.9" x2="117.2" y2="452.9" stroke="#222" stroke-width="0.8" />
<line x1="108.2" y1="445.5" x2="108.2" y2="460.5" stroke="#222" stroke-width="0.8" />
<line x1="104.2" y1="445.5" x2="112.2" y2="445.5" stroke="#222" stroke-width="0.8" />
<line x1="104.2" y1="460.5" x2="112.2" y2="460.5" stroke="#222" stroke-width="0.8" />
<line x1="127.5" y1="450.4" x2="143.5" y2="450.4" stroke="#222" stroke-width="0.8" />
<line x1="135.5" y1="447" x2="135.5" y2="454" stroke="#222" stroke-width="0.8" />
<line x1="132.5" y1="447" x2="138.5" y2="447" stroke="#222" stroke-width="0.8" />
<line x1="132.5" y1="454" x2="138.5" y2="454" stroke="#222" stroke-width="0.8" />
<line x1="153.8" y1="453.4" x2="171.8" y2="453.4" stroke="#222" stroke-width="0.8" />
<line x1="162.8" y1="449.5" x2="162.8" y2="457.5" stroke="#222" stroke-width="0.8" />
<line x1="159.8" y1="449.5" x2="165.8" y2="449.5" stroke="#222" stroke-width="0.8" />
<line x1="159.8" y1="457.5" x2="165.8" y2="457.5" stroke="#222" stroke-width="0.8" />
<line x1="181.1" y1="446.4" x2="199.1" y2="446.4" stroke="#222" stroke-width="0.8" />
<line x1="190.1" y1="444" x2="190.1" y2="449" stroke="#222" stroke-width="0.8" />
<line x1="187.1" y1="444" x2="193.1" y2="444" stroke="#222" stroke-width="0.8" />
<line x1="187.1" y1="449" x2="193.1" y2="449" stroke="#222" stroke-width="0.8" />
<line x1="277.5" y1="412.6" x2="277.5" y2="527" stroke="#6e6e6e" stroke-width="1" />
<line x1="273.5" y1="527" x2="277.5" y2="527" stroke="#6e6e6e" stroke-width="1" />
<text x="268.9" y="528.8" font-size="8.0" text-anchor="end" fill="#1a1a1a">0</text>
<line x1="273.5" y1="504.12" x2="277.5" y2="504.12" stroke="#6e6e6e" stroke-width="1" />
<text x="268.9" y="505.92" font-size="8.0" text-anchor="end" fill="#1a1a1a">20</text>
<line x1="273.5" y1="481.24" x2="277.5" y2="481.24" stroke="#6e6e6e" stroke-width="1" />
<text x="268.9" y="483.04" font-size="8.0" text-anchor="end" fill="#1a1a1a">40</text>
<line x1="273.5" y1="458.36" x2="277.5" y2="458.36" stroke="#6e6e6e" stroke-width="1" />
<text x="268.9" y="460.16" font-size="8.0" text-anchor="end" fill="#1a1a1a">60</text>
<line x1="273.5" y1="435.48" x2="277.5" y2="435.48" stroke="#6e6e6e" stroke-width="1" />
<text x="268.9" y="437.28" font-size="8.0" text-anchor="end" fill="#1a1a1a">80</text>
<line x1="273.5" y1="412.6" x2="277.5" y2="412.6" stroke="#6e6e6e" stroke-width="1" />
<text x="268.9" y="414.4" font-size="8.0" text-anchor="end" fill="#1a1a1a">100</text>
<line x1="273.5" y1="527" x2="448.9" y2="527" stroke="#6e6e6e" stroke-width="1" />
<line x1="294.9" y1="527" x2="294.9" y2="531" stroke="#6e6e6e" stroke-width="1" />
<line x1="322.3" y1="527" x2="322.3" y2="531" stroke="#6e6e6e" stroke-width="1" />
<line x1="349.4" y1="527" x2="349.4" y2="531" stroke="#6e6e6e" stroke-width="1" />
<line x1="376.5" y1="527" x2="376.5" y2="531" stroke="#6e6e6e" stroke-width="1" />
<line x1="403.6" y1="527" x2="403.6" y2="531" stroke="#6e6e6e" stroke-width="1" />
<line x1="430.7" y1="527" x2="430.7" y2="531" stroke="#6e6e6e" stroke-width="1" />
<text x="294.9" y="540.8" font-size="7.8" text-anchor="middle" fill="#1a1a1a">Water</text>
<text x="322.3" y="540.8" font-size="7.8" text-anchor="middle" fill="#1a1a1a">D4</text>
<text x="349.4" y="540.8" font-size="7.8" text-anchor="middle" fill="#1a1a1a">W1</text>
<text x="376.5" y="540.8" font-size="7.8" text-anchor="middle" fill="#1a1a1a">W2</text>
<text x="403.6" y="540.8" font-size="7.8" text-anchor="middle" fill="#1a1a1a">W3</text>
<text x="430.7" y="540.8" font-size="7.8" text-anchor="middle" fill="#1a1a1a">W5</text>
<line x1="320.8" y1="544.3" x2="436" y2="544.3" stroke="#555" stroke-width="0.9" />
<text x="378.5" y="555.3" font-size="9.2" text-anchor="middle" fill="#1a1a1a">Succinate</text>
<text x="250" y="469.8" font-size="8.9" text-anchor="middle" fill="#1a1a1a" transform="rotate(-90 250 469.8)">Ki-67<tspan font-size="5" dy="-3">+</tspan><tspan dy="3"> (% of ILC2s)</tspan></text>
<path d="M315.03,412.7 L315.67,414.11 L317.21,414.29 L316.07,415.34 L316.38,416.86 L315.03,416.1 L313.67,416.86 L313.98,415.34 L312.84,414.29 L314.38,414.11Z M319.88,412.7 L320.52,414.11 L322.06,414.29 L320.92,415.34 L321.23,416.86 L319.88,416.1 L318.52,416.86 L318.83,415.34 L317.69,414.29 L319.23,414.11Z M324.73,412.7 L325.37,414.11 L326.91,414.29 L325.77,415.34 L326.08,416.86 L324.73,416.1 L323.37,416.86 L323.68,415.34 L322.54,414.29 L324.08,414.11Z M329.58,412.7 L330.22,414.11 L331.76,414.29 L330.62,415.34 L330.93,416.86 L329.58,416.1 L328.22,416.86 L328.53,415.34 L327.39,414.29 L328.93,414.11Z" fill="#1a1a1a"/>
<path d="M342.12,412.7 L342.77,414.11 L344.31,414.29 L343.17,415.34 L343.48,416.86 L342.12,416.1 L340.77,416.86 L341.08,415.34 L339.94,414.29 L341.48,414.11Z M346.98,412.7 L347.62,414.11 L349.16,414.29 L348.02,415.34 L348.33,416.86 L346.98,416.1 L345.62,416.86 L345.93,415.34 L344.79,414.29 L346.33,414.11Z M351.82,412.7 L352.47,414.11 L354.01,414.29 L352.87,415.34 L353.18,416.86 L351.82,416.1 L350.47,416.86 L350.78,415.34 L349.64,414.29 L351.18,414.11Z M356.68,412.7 L357.32,414.11 L358.86,414.29 L357.72,415.34 L358.03,416.86 L356.68,416.1 L355.32,416.86 L355.63,415.34 L354.49,414.29 L356.03,414.11Z" fill="#1a1a1a"/>
<text x="376.5" y="417" font-size="7.3" text-anchor="middle" fill="#1a1a1a">NS</text>
<text x="403.6" y="417" font-size="7.3" text-anchor="middle" fill="#1a1a1a">NS</text>
<text x="430.7" y="417" font-size="7.3" text-anchor="middle" fill="#1a1a1a">NS</text>
<circle cx="293.7" cy="508" r="3.2" fill="#000"/>
<circle cx="298.6" cy="511.2" r="3.2" fill="#000"/>
<circle cx="288.7" cy="512.2" r="3.2" fill="#000"/>
<circle cx="294.9" cy="514.2" r="3.2" fill="#000"/>
<circle cx="301.1" cy="517.2" r="3.2" fill="#000"/>
<circle cx="288.7" cy="517.9" r="3.2" fill="#000"/>
<circle cx="298.6" cy="520.4" r="3.2" fill="#000"/>
<circle cx="292.5" cy="516" r="3.2" fill="#000"/>
<circle cx="316" cy="435.3" r="2.95" fill="none" stroke="#000" stroke-width="0.7"/>
<circle cx="316" cy="445.2" r="2.95" fill="none" stroke="#000" stroke-width="0.7"/>
<circle cx="328.4" cy="441.5" r="2.95" fill="none" stroke="#000" stroke-width="0.7"/>
<circle cx="328.4" cy="449.7" r="2.95" fill="none" stroke="#000" stroke-width="0.7"/>
<circle cx="322.2" cy="460.1" r="2.95" fill="none" stroke="#000" stroke-width="0.7"/>
<circle cx="316" cy="470.3" r="2.95" fill="none" stroke="#000" stroke-width="0.7"/>
<circle cx="316" cy="479.5" r="2.95" fill="none" stroke="#000" stroke-width="0.7"/>
<circle cx="328.4" cy="476.5" r="2.95" fill="none" stroke="#000" stroke-width="0.7"/>
<path d="M349.5,440.3 L353.02,446.06 L345.98,446.06Z" fill="none" stroke="#111" stroke-width="0.7" stroke-linejoin="miter"/>
<path d="M347,470.1 L350.52,475.86 L343.48,475.86Z" fill="none" stroke="#111" stroke-width="0.7" stroke-linejoin="miter"/>
<path d="M343.3,473.3 L346.82,479.06 L339.78,479.06Z" fill="none" stroke="#111" stroke-width="0.7" stroke-linejoin="miter"/>
<path d="M352,474.3 L355.52,480.06 L348.48,480.06Z" fill="none" stroke="#111" stroke-width="0.7" stroke-linejoin="miter"/>
<path d="M355.7,475.8 L359.22,481.56 L352.18,481.56Z" fill="none" stroke="#111" stroke-width="0.7" stroke-linejoin="miter"/>
<path d="M347,478.7 L350.52,484.46 L343.48,484.46Z" fill="none" stroke="#111" stroke-width="0.7" stroke-linejoin="miter"/>
<path d="M351.2,482.5 L354.72,488.26 L347.68,488.26Z" fill="none" stroke="#111" stroke-width="0.7" stroke-linejoin="miter"/>
<path d="M349.5,495.6 L353.02,501.36 L345.98,501.36Z" fill="none" stroke="#111" stroke-width="0.7" stroke-linejoin="miter"/>
<rect x="373.2" y="468.9" width="6.21" height="6.21" fill="none" stroke="#000" stroke-width="0.7"/>
<rect x="370.7" y="484.3" width="6.21" height="6.21" fill="none" stroke="#000" stroke-width="0.7"/>
<rect x="375.7" y="485" width="6.21" height="6.21" fill="none" stroke="#000" stroke-width="0.7"/>
<rect x="373.2" y="501.2" width="6.21" height="6.21" fill="none" stroke="#000" stroke-width="0.7"/>
<rect x="367" y="511.9" width="6.21" height="6.21" fill="none" stroke="#000" stroke-width="0.7"/>
<rect x="371.2" y="510.6" width="6.21" height="6.21" fill="none" stroke="#000" stroke-width="0.7"/>
<rect x="375.7" y="511.1" width="6.21" height="6.21" fill="none" stroke="#000" stroke-width="0.7"/>
<rect x="379.9" y="511.1" width="6.21" height="6.21" fill="none" stroke="#000" stroke-width="0.7"/>
<path d="M403.4,498.8 L406.92,493.04 L399.88,493.04Z" fill="none" stroke="#111" stroke-width="0.7"/>
<path d="M401.6,507.5 L405.12,501.74 L398.08,501.74Z" fill="none" stroke="#111" stroke-width="0.7"/>
<path d="M405.2,507.5 L408.72,501.74 L401.68,501.74Z" fill="none" stroke="#111" stroke-width="0.7"/>
<path d="M403.4,513.7 L406.92,507.94 L399.88,507.94Z" fill="none" stroke="#111" stroke-width="0.7"/>
<path d="M397.9,517.4 L401.42,511.64 L394.38,511.64Z" fill="none" stroke="#111" stroke-width="0.7"/>
<path d="M409.1,517.4 L412.62,511.64 L405.58,511.64Z" fill="none" stroke="#111" stroke-width="0.7"/>
<path d="M400.4,521.1 L403.92,515.34 L396.88,515.34Z" fill="none" stroke="#111" stroke-width="0.7"/>
<path d="M406.6,522.4 L410.12,516.64 L403.08,516.64Z" fill="none" stroke="#111" stroke-width="0.7"/>
<path d="M403.4,517.2 L406.92,511.44 L399.88,511.44Z" fill="none" stroke="#111" stroke-width="0.7"/>
<path d="M425.2,513.34 L428.56,516.7 L425.2,520.06 L421.84,516.7Z" fill="none" stroke="#000" stroke-width="0.7"/>
<path d="M430.2,508.34 L433.56,511.7 L430.2,515.06 L426.84,511.7Z" fill="none" stroke="#000" stroke-width="0.7"/>
<path d="M433.9,508.84 L437.26,512.2 L433.9,515.56 L430.54,512.2Z" fill="none" stroke="#000" stroke-width="0.7"/>
<path d="M429.5,511.64 L432.86,515 L429.5,518.36 L426.14,515Z" fill="none" stroke="#000" stroke-width="0.7"/>
<path d="M436.4,516.34 L439.76,519.7 L436.4,523.06 L433.04,519.7Z" fill="none" stroke="#000" stroke-width="0.7"/>
<path d="M431.4,515.34 L434.76,518.7 L431.4,522.06 L428.04,518.7Z" fill="none" stroke="#000" stroke-width="0.7"/>
<path d="M427.5,510.64 L430.86,514 L427.5,517.36 L424.14,514Z" fill="none" stroke="#000" stroke-width="0.7"/>
<line x1="286.4" y1="515" x2="303.4" y2="515" stroke="#222" stroke-width="0.8" />
<line x1="313.2" y1="457.1" x2="331.2" y2="457.1" stroke="#222" stroke-width="0.8" />
<line x1="322.2" y1="451.5" x2="322.2" y2="463" stroke="#222" stroke-width="0.8" />
<line x1="318.2" y1="451.5" x2="326.2" y2="451.5" stroke="#222" stroke-width="0.8" />
<line x1="318.2" y1="463" x2="326.2" y2="463" stroke="#222" stroke-width="0.8" />
<line x1="340.5" y1="477" x2="358.5" y2="477" stroke="#222" stroke-width="0.8" />
<line x1="349.5" y1="471.5" x2="349.5" y2="482.5" stroke="#222" stroke-width="0.8" />
<line x1="345.5" y1="471.5" x2="353.5" y2="471.5" stroke="#222" stroke-width="0.8" />
<line x1="345.5" y1="482.5" x2="353.5" y2="482.5" stroke="#222" stroke-width="0.8" />
<line x1="367.3" y1="501.3" x2="385.3" y2="501.3" stroke="#222" stroke-width="0.8" />
<line x1="376.3" y1="495.5" x2="376.3" y2="507" stroke="#222" stroke-width="0.8" />
<line x1="372.3" y1="495.5" x2="380.3" y2="495.5" stroke="#222" stroke-width="0.8" />
<line x1="372.3" y1="507" x2="380.3" y2="507" stroke="#222" stroke-width="0.8" />
<line x1="394.4" y1="512.5" x2="412.4" y2="512.5" stroke="#222" stroke-width="0.8" />
<line x1="403.4" y1="509" x2="403.4" y2="516" stroke="#222" stroke-width="0.8" />
<line x1="400.4" y1="509" x2="406.4" y2="509" stroke="#222" stroke-width="0.8" />
<line x1="400.4" y1="516" x2="406.4" y2="516" stroke="#222" stroke-width="0.8" />
<line x1="422.7" y1="515.4" x2="438.7" y2="515.4" stroke="#222" stroke-width="0.8" />
<line x1="430.7" y1="513.5" x2="430.7" y2="517.5" stroke="#222" stroke-width="0.8" />
<line x1="427.7" y1="513.5" x2="433.7" y2="513.5" stroke="#222" stroke-width="0.8" />
<line x1="427.7" y1="517.5" x2="433.7" y2="517.5" stroke="#222" stroke-width="0.8" />
<line x1="511.5" y1="411.5" x2="511.5" y2="527" stroke="#6e6e6e" stroke-width="1" />
<line x1="507.5" y1="527" x2="511.5" y2="527" stroke="#6e6e6e" stroke-width="1" />
<text x="502.9" y="528.8" font-size="8.0" text-anchor="end" fill="#1a1a1a">0</text>
<line x1="507.5" y1="498.12" x2="511.5" y2="498.12" stroke="#6e6e6e" stroke-width="1" />
<text x="502.9" y="499.93" font-size="8.0" text-anchor="end" fill="#1a1a1a">1</text>
<line x1="507.5" y1="469.25" x2="511.5" y2="469.25" stroke="#6e6e6e" stroke-width="1" />
<text x="502.9" y="471.05" font-size="8.0" text-anchor="end" fill="#1a1a1a">2</text>
<line x1="507.5" y1="440.38" x2="511.5" y2="440.38" stroke="#6e6e6e" stroke-width="1" />
<text x="502.9" y="442.18" font-size="8.0" text-anchor="end" fill="#1a1a1a">3</text>
<line x1="507.5" y1="411.5" x2="511.5" y2="411.5" stroke="#6e6e6e" stroke-width="1" />
<text x="502.9" y="413.3" font-size="8.0" text-anchor="end" fill="#1a1a1a">4</text>
<line x1="507.5" y1="527" x2="678" y2="527" stroke="#6e6e6e" stroke-width="1" />
<line x1="529.5" y1="527" x2="529.5" y2="531" stroke="#6e6e6e" stroke-width="1" />
<line x1="557.1" y1="527" x2="557.1" y2="531" stroke="#6e6e6e" stroke-width="1" />
<line x1="584.5" y1="527" x2="584.5" y2="531" stroke="#6e6e6e" stroke-width="1" />
<line x1="611.9" y1="527" x2="611.9" y2="531" stroke="#6e6e6e" stroke-width="1" />
<line x1="639.3" y1="527" x2="639.3" y2="531" stroke="#6e6e6e" stroke-width="1" />
<line x1="666.5" y1="527" x2="666.5" y2="531" stroke="#6e6e6e" stroke-width="1" />
<text x="529.5" y="540.8" font-size="7.8" text-anchor="middle" fill="#1a1a1a">Water</text>
<text x="557.1" y="540.8" font-size="7.8" text-anchor="middle" fill="#1a1a1a">D4</text>
<text x="584.5" y="540.8" font-size="7.8" text-anchor="middle" fill="#1a1a1a">W1</text>
<text x="611.9" y="540.8" font-size="7.8" text-anchor="middle" fill="#1a1a1a">W2</text>
<text x="639.3" y="540.8" font-size="7.8" text-anchor="middle" fill="#1a1a1a">W3</text>
<text x="666.5" y="540.8" font-size="7.8" text-anchor="middle" fill="#1a1a1a">W5</text>
<line x1="555.4" y1="544.3" x2="672.7" y2="544.3" stroke="#555" stroke-width="0.9" />
<text x="613.2" y="555.3" font-size="9.2" text-anchor="middle" fill="#1a1a1a">Succinate</text>
<text x="491.6" y="469.25" font-size="8.8" text-anchor="middle" fill="#1a1a1a" transform="rotate(-90 491.6 469.25)">Tuft cells (% of EpCAM<tspan font-size="5" dy="-3">+</tspan><tspan dy="3">)</tspan></text>
<text x="557.1" y="417" font-size="7.3" text-anchor="middle" fill="#1a1a1a">NS</text>
<text x="584.5" y="417" font-size="7.3" text-anchor="middle" fill="#1a1a1a">NS</text>
<text x="611.9" y="417" font-size="7.3" text-anchor="middle" fill="#1a1a1a">NS</text>
<text x="639.3" y="417" font-size="7.3" text-anchor="middle" fill="#1a1a1a">NS</text>
<text x="666.5" y="417" font-size="7.3" text-anchor="middle" fill="#1a1a1a">NS</text>
<circle cx="523.7" cy="524.1" r="3.2" fill="#000"/>
<circle cx="529.9" cy="522.1" r="3.2" fill="#000"/>
<circle cx="536.1" cy="524.1" r="3.2" fill="#000"/>
<circle cx="557.2" cy="498.1" r="2.95" fill="none" stroke="#000" stroke-width="0.7"/>
<circle cx="557.2" cy="512.2" r="2.95" fill="none" stroke="#000" stroke-width="0.7"/>
<circle cx="560.2" cy="513.5" r="2.95" fill="none" stroke="#000" stroke-width="0.7"/>
<circle cx="554.7" cy="517.2" r="2.95" fill="none" stroke="#000" stroke-width="0.7"/>
<circle cx="560.9" cy="517.9" r="2.95" fill="none" stroke="#000" stroke-width="0.7"/>
<circle cx="551" cy="521.7" r="2.95" fill="none" stroke="#000" stroke-width="0.7"/>
<circle cx="557.2" cy="520.4" r="2.95" fill="none" stroke="#000" stroke-width="0.7"/>
<circle cx="563.4" cy="521.7" r="2.95" fill="none" stroke="#000" stroke-width="0.7"/>
<path d="M584.5,484.9 L588.02,490.66 L580.98,490.66Z" fill="none" stroke="#111" stroke-width="0.7" stroke-linejoin="miter"/>
<path d="M578.3,502.3 L581.82,508.06 L574.78,508.06Z" fill="none" stroke="#111" stroke-width="0.7" stroke-linejoin="miter"/>
<path d="M584.5,499.3 L588.02,505.06 L580.98,505.06Z" fill="none" stroke="#111" stroke-width="0.7" stroke-linejoin="miter"/>
<path d="M590.7,499.1 L594.22,504.86 L587.18,504.86Z" fill="none" stroke="#111" stroke-width="0.7" stroke-linejoin="miter"/>
<path d="M587.5,503.6 L591.02,509.36 L583.98,509.36Z" fill="none" stroke="#111" stroke-width="0.7" stroke-linejoin="miter"/>
<path d="M590.7,506 L594.22,511.76 L587.18,511.76Z" fill="none" stroke="#111" stroke-width="0.7" stroke-linejoin="miter"/>
<path d="M584.5,509 L588.02,514.76 L580.98,514.76Z" fill="none" stroke="#111" stroke-width="0.7" stroke-linejoin="miter"/>
<path d="M578.3,515.2 L581.82,520.96 L574.78,520.96Z" fill="none" stroke="#111" stroke-width="0.7" stroke-linejoin="miter"/>
<path d="M590.7,514 L594.22,519.76 L587.18,519.76Z" fill="none" stroke="#111" stroke-width="0.7" stroke-linejoin="miter"/>
<rect x="608.7" y="434.9" width="6.21" height="6.21" fill="none" stroke="#000" stroke-width="0.7"/>
<rect x="602.5" y="482.6" width="6.21" height="6.21" fill="none" stroke="#000" stroke-width="0.7"/>
<rect x="608.7" y="484.6" width="6.21" height="6.21" fill="none" stroke="#000" stroke-width="0.7"/>
<rect x="608.7" y="497.5" width="6.21" height="6.21" fill="none" stroke="#000" stroke-width="0.7"/>
<rect x="602.5" y="503.7" width="6.21" height="6.21" fill="none" stroke="#000" stroke-width="0.7"/>
<rect x="608.7" y="508.1" width="6.21" height="6.21" fill="none" stroke="#000" stroke-width="0.7"/>
<rect x="614.9" y="507.9" width="6.21" height="6.21" fill="none" stroke="#000" stroke-width="0.7"/>
<rect x="608.7" y="518.6" width="6.21" height="6.21" fill="none" stroke="#000" stroke-width="0.7"/>
<path d="M632.9,488.1 L636.42,482.34 L629.38,482.34Z" fill="none" stroke="#111" stroke-width="0.7"/>
<path d="M639.1,493.8 L642.62,488.04 L635.58,488.04Z" fill="none" stroke="#111" stroke-width="0.7"/>
<path d="M645.3,490.1 L648.82,484.34 L641.78,484.34Z" fill="none" stroke="#111" stroke-width="0.7"/>
<path d="M639.1,500 L642.62,494.24 L635.58,494.24Z" fill="none" stroke="#111" stroke-width="0.7"/>
<path d="M632.9,507.5 L636.42,501.74 L629.38,501.74Z" fill="none" stroke="#111" stroke-width="0.7"/>
<path d="M639.1,510 L642.62,504.24 L635.58,504.24Z" fill="none" stroke="#111" stroke-width="0.7"/>
<path d="M645.3,509.5 L648.82,503.74 L641.78,503.74Z" fill="none" stroke="#111" stroke-width="0.7"/>
<path d="M639.1,522.9 L642.62,517.14 L635.58,517.14Z" fill="none" stroke="#111" stroke-width="0.7"/>
<path d="M666.4,466.64 L669.76,470 L666.4,473.36 L663.04,470Z" fill="none" stroke="#000" stroke-width="0.7"/>
<path d="M666.4,476.64 L669.76,480 L666.4,483.36 L663.04,480Z" fill="none" stroke="#000" stroke-width="0.7"/>
<path d="M665.2,485.54 L668.56,488.9 L665.2,492.26 L661.84,488.9Z" fill="none" stroke="#000" stroke-width="0.7"/>
<path d="M668.1,490.54 L671.46,493.9 L668.1,497.26 L664.74,493.9Z" fill="none" stroke="#000" stroke-width="0.7"/>
<path d="M660.2,505.84 L663.56,509.2 L660.2,512.56 L656.84,509.2Z" fill="none" stroke="#000" stroke-width="0.7"/>
<path d="M663.9,507.14 L667.26,510.5 L663.9,513.86 L660.54,510.5Z" fill="none" stroke="#000" stroke-width="0.7"/>
<path d="M668.9,508.34 L672.26,511.7 L668.9,515.06 L665.54,511.7Z" fill="none" stroke="#000" stroke-width="0.7"/>
<path d="M672.6,508.84 L675.96,512.2 L672.6,515.56 L669.24,512.2Z" fill="none" stroke="#000" stroke-width="0.7"/>
<path d="M666.4,515.84 L669.76,519.2 L666.4,522.56 L663.04,519.2Z" fill="none" stroke="#000" stroke-width="0.7"/>
<line x1="549.2" y1="515.4" x2="565.2" y2="515.4" stroke="#222" stroke-width="0.8" />
<line x1="557.2" y1="512" x2="557.2" y2="519" stroke="#222" stroke-width="0.8" />
<line x1="554.2" y1="512" x2="560.2" y2="512" stroke="#222" stroke-width="0.8" />
<line x1="554.2" y1="519" x2="560.2" y2="519" stroke="#222" stroke-width="0.8" />
<line x1="576.5" y1="506.8" x2="592.5" y2="506.8" stroke="#222" stroke-width="0.8" />
<line x1="584.5" y1="503" x2="584.5" y2="510.5" stroke="#222" stroke-width="0.8" />
<line x1="581.5" y1="503" x2="587.5" y2="503" stroke="#222" stroke-width="0.8" />
<line x1="581.5" y1="510.5" x2="587.5" y2="510.5" stroke="#222" stroke-width="0.8" />
<line x1="602.8" y1="495.6" x2="620.8" y2="495.6" stroke="#222" stroke-width="0.8" />
<line x1="611.8" y1="486" x2="611.8" y2="505" stroke="#222" stroke-width="0.8" />
<line x1="607.8" y1="486" x2="615.8" y2="486" stroke="#222" stroke-width="0.8" />
<line x1="607.8" y1="505" x2="615.8" y2="505" stroke="#222" stroke-width="0.8" />
<line x1="630.1" y1="500" x2="648.1" y2="500" stroke="#222" stroke-width="0.8" />
<line x1="639.1" y1="495.5" x2="639.1" y2="504.5" stroke="#222" stroke-width="0.8" />
<line x1="635.1" y1="495.5" x2="643.1" y2="495.5" stroke="#222" stroke-width="0.8" />
<line x1="635.1" y1="504.5" x2="643.1" y2="504.5" stroke="#222" stroke-width="0.8" />
<line x1="657.4" y1="501.3" x2="675.4" y2="501.3" stroke="#222" stroke-width="0.8" />
<line x1="666.4" y1="494.5" x2="666.4" y2="508" stroke="#222" stroke-width="0.8" />
<line x1="662.4" y1="494.5" x2="670.4" y2="494.5" stroke="#222" stroke-width="0.8" />
<line x1="662.4" y1="508" x2="670.4" y2="508" stroke="#222" stroke-width="0.8" />
<path d="M34.5,643 L34.5,643 L35.4,643 L36.31,643 L37.21,643 L38.12,643 L39.02,643 L39.92,643 L40.83,643 L41.73,643 L42.64,643 L43.54,643 L44.44,643 L45.35,643 L46.25,643 L47.16,643 L48.06,643 L48.96,643 L49.87,643 L50.77,643 L51.68,643 L52.58,643 L53.48,643 L54.39,643 L55.29,643 L56.2,643 L57.1,643 L58,643 L58.91,643 L59.81,643 L60.72,643 L61.62,643 L62.52,643 L63.43,643 L64.33,643 L65.24,643 L66.14,643 L67.04,643 L67.95,643 L68.85,643 L69.76,643 L70.66,643 L71.56,643 L72.47,643 L73.37,643 L74.28,643 L75.18,643 L76.08,643 L76.99,643 L77.89,643 L78.8,643 L79.7,643 L80.6,643 L81.51,643 L82.41,643 L83.32,643 L84.22,643 L85.12,643 L86.03,643 L86.93,643 L87.84,643 L88.74,643 L89.65,643 L90.55,643 L91.45,643 L92.36,643 L93.26,643 L94.17,643 L95.07,643 L95.97,643 L96.88,643 L97.78,643 L98.69,643 L99.59,642.99 L100.49,642.97 L101.4,642.91 L102.3,642.82 L103.21,642.68 L104.11,642.51 L105.01,642.28 L105.92,642.02 L106.82,641.75 L107.73,641.49 L108.63,641.23 L109.53,640.98 L110.44,640.8 L111.34,640.75 L112.25,640.87 L113.15,641.11 L114.05,641.4 L114.96,641.66 L115.86,641.83 L116.77,641.88 L117.67,641.85 L118.57,641.78 L119.48,641.7 L120.38,641.63 L121.29,641.57 L122.19,641.53 L123.09,641.52 L124,641.52 L124.9,641.52 L125.81,641.53 L126.71,641.54 L127.61,641.54 L128.52,641.55 L129.42,641.56 L130.33,641.56 L131.23,641.57 L132.13,641.58 L133.04,641.58 L133.94,641.59 L134.85,641.59 L135.75,641.58 L136.65,641.56 L137.56,641.53 L138.46,641.51 L139.37,641.49 L140.27,641.46 L141.17,641.44 L142.08,641.42 L142.98,641.39 L143.89,641.37 L144.79,641.34 L145.69,641.28 L146.6,641.16 L147.5,640.94 L148.41,640.67 L149.31,640.38 L150.21,640.08 L151.12,639.79 L152.02,639.53 L152.93,639.32 L153.83,639.15 L154.73,639.02 L155.64,638.9 L156.54,638.79 L157.45,638.67 L158.35,638.55 L159.25,638.43 L160.16,638.31 L161.06,638.13 L161.97,637.86 L162.87,637.46 L163.77,636.93 L164.68,636.22 L165.58,635.28 L166.49,634.12 L167.39,632.79 L168.29,631.34 L169.2,629.78 L170.1,628.23 L171.01,626.8 L171.91,625.62 L172.81,624.59 L173.72,623.76 L174.62,623.2 L175.53,623.11 L176.43,623.49 L177.33,624.3 L178.24,625.41 L179.14,626.68 L180.05,627.99 L180.95,629.36 L181.85,630.85 L182.76,632.49 L183.66,634.15 L184.57,635.73 L185.47,637.16 L186.38,638.4 L187.28,639.43 L188.18,640.23 L189.09,640.85 L189.99,641.31 L190.9,641.65 L191.8,641.89 L192.7,642.08 L193.61,642.27 L194.51,642.46 L195.42,642.61 L196.32,642.73 L197.22,642.81 L198.13,642.87 L199.03,642.93 L199.94,642.97 L200.84,642.99 L201.74,643 L202.65,643 L203.55,643 L204.46,643 L205.36,643 L206.26,643 L207.17,643 L208.07,643 L208.98,643 L209.88,643 L210.78,643 L211.69,643 L212.59,643 L213.5,643 L214.4,643 L215.3,643 L216.21,643 L217.11,643 L218.02,643 L218.92,643 L219.82,643 L220.73,643 L221.63,643 L222.54,643 L223.44,643 L224.34,643 L225.25,643 L226.15,643 L227.06,643 L227.96,643 L228.86,643 L229.77,643 L230.67,643 L231.58,643 L232.48,643 L233.38,643 L234.29,643 L235.19,643 L236.1,643 L237,643 L237,643Z" fill="#fff"/>
<path d="M34.5,643 L35.4,643 L36.31,643 L37.21,643 L38.12,643 L39.02,643 L39.92,643 L40.83,643 L41.73,643 L42.64,643 L43.54,643 L44.44,643 L45.35,643 L46.25,643 L47.16,643 L48.06,643 L48.96,643 L49.87,643 L50.77,643 L51.68,643 L52.58,643 L53.48,643 L54.39,643 L55.29,643 L56.2,643 L57.1,643 L58,643 L58.91,643 L59.81,643 L60.72,643 L61.62,643 L62.52,643 L63.43,643 L64.33,643 L65.24,643 L66.14,643 L67.04,643 L67.95,643 L68.85,643 L69.76,643 L70.66,643 L71.56,643 L72.47,643 L73.37,643 L74.28,643 L75.18,643 L76.08,643 L76.99,643 L77.89,643 L78.8,643 L79.7,643 L80.6,643 L81.51,643 L82.41,643 L83.32,643 L84.22,643 L85.12,643 L86.03,643 L86.93,643 L87.84,643 L88.74,643 L89.65,643 L90.55,643 L91.45,643 L92.36,643 L93.26,643 L94.17,643 L95.07,643 L95.97,643 L96.88,643 L97.78,643 L98.69,643 L99.59,642.99 L100.49,642.97 L101.4,642.91 L102.3,642.82 L103.21,642.68 L104.11,642.51 L105.01,642.28 L105.92,642.02 L106.82,641.75 L107.73,641.49 L108.63,641.23 L109.53,640.98 L110.44,640.8 L111.34,640.75 L112.25,640.87 L113.15,641.11 L114.05,641.4 L114.96,641.66 L115.86,641.83 L116.77,641.88 L117.67,641.85 L118.57,641.78 L119.48,641.7 L120.38,641.63 L121.29,641.57 L122.19,641.53 L123.09,641.52 L124,641.52 L124.9,641.52 L125.81,641.53 L126.71,641.54 L127.61,641.54 L128.52,641.55 L129.42,641.56 L130.33,641.56 L131.23,641.57 L132.13,641.58 L133.04,641.58 L133.94,641.59 L134.85,641.59 L135.75,641.58 L136.65,641.56 L137.56,641.53 L138.46,641.51 L139.37,641.49 L140.27,641.46 L141.17,641.44 L142.08,641.42 L142.98,641.39 L143.89,641.37 L144.79,641.34 L145.69,641.28 L146.6,641.16 L147.5,640.94 L148.41,640.67 L149.31,640.38 L150.21,640.08 L151.12,639.79 L152.02,639.53 L152.93,639.32 L153.83,639.15 L154.73,639.02 L155.64,638.9 L156.54,638.79 L157.45,638.67 L158.35,638.55 L159.25,638.43 L160.16,638.31 L161.06,638.13 L161.97,637.86 L162.87,637.46 L163.77,636.93 L164.68,636.22 L165.58,635.28 L166.49,634.12 L167.39,632.79 L168.29,631.34 L169.2,629.78 L170.1,628.23 L171.01,626.8 L171.91,625.62 L172.81,624.59 L173.72,623.76 L174.62,623.2 L175.53,623.11 L176.43,623.49 L177.33,624.3 L178.24,625.41 L179.14,626.68 L180.05,627.99 L180.95,629.36 L181.85,630.85 L182.76,632.49 L183.66,634.15 L184.57,635.73 L185.47,637.16 L186.38,638.4 L187.28,639.43 L188.18,640.23 L189.09,640.85 L189.99,641.31 L190.9,641.65 L191.8,641.89 L192.7,642.08 L193.61,642.27 L194.51,642.46 L195.42,642.61 L196.32,642.73 L197.22,642.81 L198.13,642.87 L199.03,642.93 L199.94,642.97 L200.84,642.99 L201.74,643 L202.65,643 L203.55,643 L204.46,643 L205.36,643 L206.26,643 L207.17,643 L208.07,643 L208.98,643 L209.88,643 L210.78,643 L211.69,643 L212.59,643 L213.5,643 L214.4,643 L215.3,643 L216.21,643 L217.11,643 L218.02,643 L218.92,643 L219.82,643 L220.73,643 L221.63,643 L222.54,643 L223.44,643 L224.34,643 L225.25,643 L226.15,643 L227.06,643 L227.96,643 L228.86,643 L229.77,643 L230.67,643 L231.58,643 L232.48,643 L233.38,643 L234.29,643 L235.19,643 L236.1,643 L237,643" fill="none" stroke="#222" stroke-width="0.75"/>
<path d="M122,659 L122,658.96 L122.92,658.9 L123.84,658.82 L124.75,658.73 L125.67,658.65 L126.59,658.57 L127.51,658.49 L128.42,658.41 L129.34,658.34 L130.26,658.26 L131.18,658.18 L132.09,658.11 L133.01,658.03 L133.93,657.95 L134.85,657.88 L135.76,657.8 L136.68,657.72 L137.6,657.65 L138.52,657.57 L139.44,657.49 L140.35,657.41 L141.27,657.34 L142.19,657.26 L143.11,657.18 L144.02,657.11 L144.94,657.02 L145.86,656.91 L146.78,656.73 L147.69,656.49 L148.61,656.21 L149.53,655.91 L150.45,655.62 L151.36,655.32 L152.28,655.02 L153.2,654.72 L154.12,654.42 L155.04,654.12 L155.95,653.83 L156.87,653.53 L157.79,653.19 L158.71,652.77 L159.62,652.24 L160.54,651.61 L161.46,650.93 L162.38,650.26 L163.29,649.58 L164.21,648.9 L165.13,648.22 L166.05,647.54 L166.96,646.82 L167.88,645.99 L168.8,645.02 L169.72,643.92 L170.64,642.77 L171.55,641.62 L172.47,640.45 L173.39,639.25 L174.31,638 L175.22,636.68 L176.14,635.34 L177.06,634.06 L177.98,632.87 L178.89,631.88 L179.81,631.27 L180.73,631.24 L181.65,631.78 L182.56,632.73 L183.48,633.95 L184.4,635.32 L185.32,636.86 L186.24,638.58 L187.15,640.52 L188.07,642.6 L188.99,644.72 L189.91,646.78 L190.82,648.76 L191.74,650.64 L192.66,652.42 L193.58,654.04 L194.49,655.46 L195.41,656.65 L196.33,657.55 L197.25,658.18 L198.16,658.56 L199.08,658.79 L200,658.92 L200,659Z" fill="#5fe85f" style="mix-blend-mode:multiply"/>
<path d="M120,675.2 L120,675.16 L120.92,675.1 L121.83,675.03 L122.75,674.96 L123.66,674.9 L124.58,674.84 L125.49,674.79 L126.41,674.73 L127.33,674.68 L128.24,674.62 L129.16,674.57 L130.07,674.51 L130.99,674.45 L131.9,674.4 L132.82,674.34 L133.73,674.29 L134.65,674.23 L135.57,674.18 L136.48,674.12 L137.4,674.06 L138.31,674.01 L139.23,673.95 L140.14,673.9 L141.06,673.84 L141.98,673.78 L142.89,673.68 L143.81,673.53 L144.72,673.33 L145.64,673.09 L146.55,672.84 L147.47,672.59 L148.39,672.35 L149.3,672.1 L150.22,671.85 L151.13,671.58 L152.05,671.22 L152.96,670.73 L153.88,670.09 L154.8,669.36 L155.71,668.59 L156.63,667.82 L157.54,667.06 L158.46,666.31 L159.37,665.59 L160.29,664.88 L161.2,664.19 L162.12,663.5 L163.04,662.81 L163.95,662.06 L164.87,661.21 L165.78,660.2 L166.7,659.06 L167.61,657.85 L168.53,656.63 L169.45,655.42 L170.36,654.24 L171.28,653.07 L172.19,651.86 L173.11,650.67 L174.02,649.61 L174.94,648.8 L175.86,648.36 L176.77,648.41 L177.69,649.12 L178.6,650.41 L179.52,652.27 L180.43,654.43 L181.35,656.79 L182.27,659.11 L183.18,661.28 L184.1,663.23 L185.01,665.01 L185.93,666.62 L186.84,668.08 L187.76,669.38 L188.67,670.53 L189.59,671.52 L190.51,672.31 L191.42,672.96 L192.34,673.51 L193.25,673.99 L194.17,674.41 L195.08,674.76 L196,675.03 L196,675.2Z" fill="#00c800" style="mix-blend-mode:multiply"/>
<path d="M118,691.2 L118,691.17 L118.91,691.14 L119.83,691.09 L120.74,691.03 L121.65,690.96 L122.57,690.88 L123.48,690.76 L124.4,690.62 L125.31,690.47 L126.22,690.31 L127.14,690.15 L128.05,689.99 L128.96,689.84 L129.88,689.68 L130.79,689.52 L131.7,689.36 L132.62,689.19 L133.53,688.97 L134.44,688.68 L135.36,688.34 L136.27,687.97 L137.19,687.59 L138.1,687.21 L139.01,686.83 L139.93,686.45 L140.84,686.07 L141.75,685.69 L142.67,685.31 L143.58,684.92 L144.49,684.54 L145.41,684.15 L146.32,683.68 L147.23,683.07 L148.15,682.31 L149.06,681.44 L149.98,680.52 L150.89,679.61 L151.8,678.7 L152.72,677.78 L153.63,676.87 L154.54,675.93 L155.46,674.94 L156.37,673.87 L157.28,672.73 L158.2,671.55 L159.11,670.36 L160.02,669.16 L160.94,668 L161.85,666.89 L162.77,665.9 L163.68,665.02 L164.59,664.25 L165.51,663.6 L166.42,663.12 L167.33,662.77 L168.25,662.58 L169.16,662.6 L170.07,662.92 L170.99,663.56 L171.9,664.59 L172.81,665.99 L173.73,667.78 L174.64,669.85 L175.56,672.09 L176.47,674.35 L177.38,676.55 L178.3,678.66 L179.21,680.7 L180.12,682.71 L181.04,684.56 L181.95,686.12 L182.86,687.23 L183.78,688.04 L184.69,688.69 L185.6,689.33 L186.52,689.92 L187.43,690.38 L188.35,690.67 L189.26,690.84 L190.17,690.96 L191.09,691.07 L192,691.15 L192,691.2Z" fill="#35a035" style="mix-blend-mode:multiply"/>
<path d="M120,707.4 L120,707.35 L120.92,707.28 L121.84,707.18 L122.77,707.07 L123.69,706.95 L124.61,706.8 L125.53,706.61 L126.45,706.37 L127.38,706.12 L128.3,705.85 L129.22,705.58 L130.14,705.32 L131.06,705.05 L131.99,704.79 L132.91,704.52 L133.83,704.26 L134.75,703.99 L135.68,703.73 L136.6,703.45 L137.52,703.11 L138.44,702.67 L139.36,702.09 L140.29,701.44 L141.21,700.74 L142.13,700.05 L143.05,699.36 L143.97,698.67 L144.9,697.98 L145.82,697.29 L146.74,696.6 L147.66,695.91 L148.58,695.22 L149.51,694.53 L150.43,693.84 L151.35,693.15 L152.27,692.46 L153.19,691.77 L154.12,691.08 L155.04,690.38 L155.96,689.65 L156.88,688.91 L157.81,688.15 L158.73,687.38 L159.65,686.61 L160.57,685.84 L161.49,685.09 L162.42,684.38 L163.34,683.7 L164.26,683.06 L165.18,682.43 L166.1,681.8 L167.03,681.21 L167.95,680.76 L168.87,680.61 L169.79,680.92 L170.71,681.68 L171.64,682.75 L172.56,684.03 L173.48,685.46 L174.4,687.08 L175.32,688.9 L176.25,690.85 L177.17,692.86 L178.09,694.85 L179.01,696.72 L179.94,698.35 L180.86,699.65 L181.78,700.75 L182.7,701.75 L183.62,702.75 L184.55,703.74 L185.47,704.65 L186.39,705.41 L187.31,705.96 L188.23,706.37 L189.16,706.71 L190.08,707.02 L191,707.25 L191,707.4Z" fill="#2e5a2e" style="mix-blend-mode:multiply"/>
<path d="M120,722.7 L120,722.65 L120.91,722.58 L121.82,722.48 L122.73,722.37 L123.65,722.26 L124.56,722.13 L125.47,721.98 L126.38,721.81 L127.29,721.63 L128.2,721.44 L129.11,721.26 L130.03,721.07 L130.94,720.89 L131.85,720.7 L132.76,720.51 L133.67,720.33 L134.58,720.14 L135.49,719.95 L136.41,719.77 L137.32,719.55 L138.23,719.27 L139.14,718.9 L140.05,718.47 L140.96,718.01 L141.87,717.55 L142.78,717.09 L143.7,716.63 L144.61,716.17 L145.52,715.71 L146.43,715.25 L147.34,714.79 L148.25,714.31 L149.16,713.82 L150.08,713.29 L150.99,712.74 L151.9,712.18 L152.81,711.62 L153.72,711.06 L154.63,710.5 L155.54,709.95 L156.46,709.36 L157.37,708.66 L158.28,707.78 L159.19,706.71 L160.1,705.52 L161.01,704.29 L161.92,703.05 L162.84,701.84 L163.75,700.7 L164.66,699.72 L165.57,699.05 L166.48,698.69 L167.39,698.52 L168.3,698.18 L169.22,697.68 L170.13,697.31 L171.04,697.45 L171.95,698.11 L172.86,699.17 L173.77,700.5 L174.68,702.01 L175.59,703.65 L176.51,705.39 L177.42,707.25 L178.33,709.19 L179.24,711.18 L180.15,713.17 L181.06,715.02 L181.97,716.6 L182.89,717.77 L183.8,718.66 L184.71,719.41 L185.62,720.15 L186.53,720.83 L187.44,721.39 L188.35,721.77 L189.27,722.05 L190.18,722.26 L191.09,722.46 L192,722.6 L192,722.7Z" fill="#303030" style="mix-blend-mode:multiply"/>
<line x1="34.5" y1="643" x2="237" y2="643" stroke="#777" stroke-width="0.9" />
<line x1="34.5" y1="659" x2="237" y2="659" stroke="#a8f0a8" stroke-width="0.9" />
<line x1="34.5" y1="675.2" x2="237" y2="675.2" stroke="#a0eaa0" stroke-width="0.9" />
<line x1="34.5" y1="691.2" x2="237" y2="691.2" stroke="#5aa85a" stroke-width="0.9" />
<line x1="34.5" y1="707.4" x2="237" y2="707.4" stroke="#4a6a4a" stroke-width="0.9" />
<line x1="175.3" y1="622.6" x2="175.3" y2="722.6" stroke="#333" stroke-width="0.9" stroke-dasharray="3,1.6"/>
<rect x="34.5" y="608.5" width="202.5" height="114.1" fill="none" stroke="#777" stroke-width="0.9"/>
<line x1="34.5" y1="722.6" x2="237" y2="722.6" stroke="#444" stroke-width="0.9" />
<text x="37.6" y="639.4" font-size="8.6" fill="#1a1a1a">Water</text>
<text x="37.6" y="655.2" font-size="8.6" fill="#1a1a1a">D4</text>
<text x="37.6" y="672" font-size="8.6" fill="#1a1a1a">W1</text>
<text x="37.6" y="688.2" font-size="8.6" fill="#1a1a1a">W2</text>
<text x="37.6" y="704.6" font-size="8.6" fill="#1a1a1a">W3</text>
<text x="37.6" y="720.1" font-size="8.6" fill="#1a1a1a">W5</text>
<text x="21.9" y="665.4" font-size="9.2" text-anchor="middle" fill="#1a1a1a" transform="rotate(-90 21.9 665.4)">Modal</text>
<path d="M65.3,722.6v2.5 M88.8,722.6v2.5 M110,722.6v2.5 M162.7,722.6v2.5 M199.7,722.6v2.5 M234.9,722.6v2.5 M38,722.6v1.3 M42.8,722.6v1.3 M47.6,722.6v1.3 M52.4,722.6v1.3 M57.2,722.6v1.3 M62,722.6v1.3 M114,722.6v1.3 M119.75,722.6v1.3 M125.5,722.6v1.3 M131.25,722.6v1.3 M137,722.6v1.3 M142.75,722.6v1.3 M148.5,722.6v1.3 M154.25,722.6v1.3 M160,722.6v1.3 M166,722.6v1.3 M171.17,722.6v1.3 M176.33,722.6v1.3 M181.5,722.6v1.3 M186.67,722.6v1.3 M191.83,722.6v1.3 M197,722.6v1.3 M203,722.6v1.3 M208,722.6v1.3 M213,722.6v1.3 M218,722.6v1.3 M223,722.6v1.3 M228,722.6v1.3 M233,722.6v1.3" stroke="#555" stroke-width="0.6"/>
<rect x="86.5" y="722.9" width="4" height="1.3" fill="#888"/>
<text x="65.3" y="734.6" font-size="7.4" text-anchor="middle" fill="#1a1a1a">−10<tspan font-size="4.8" dy="-3">3</tspan></text>
<text x="88.8" y="734.6" font-size="7.4" text-anchor="middle" fill="#1a1a1a">0</text>
<text x="110.5" y="734.6" font-size="7.4" text-anchor="middle" fill="#1a1a1a">10<tspan font-size="4.8" dy="-3">3</tspan></text>
<text x="163.2" y="734.6" font-size="7.4" text-anchor="middle" fill="#1a1a1a">10<tspan font-size="4.8" dy="-3">4</tspan></text>
<text x="200.2" y="734.6" font-size="7.4" text-anchor="middle" fill="#1a1a1a">10<tspan font-size="4.8" dy="-3">5</tspan></text>
<text x="235.4" y="734.6" font-size="7.4" text-anchor="middle" fill="#1a1a1a">10<tspan font-size="4.8" dy="-3">6</tspan></text>
<text x="135.8" y="747.6" font-size="8.3" text-anchor="middle" fill="#1a1a1a">KLRG1-PerCP eFluor 710</text>
<line x1="34.1" y1="787.8" x2="233" y2="787.8" stroke="#777" stroke-width="1.0" />
<path d="M235.2,787.8 L230.8,785.9 L231.7,787.8 L230.8,789.7Z" fill="#333"/>
<line x1="34.1" y1="783" x2="137.1" y2="783" stroke="#2f7a2f" stroke-width="1.0" />
<line x1="137.1" y1="783" x2="137.1" y2="787.8" stroke="#2f7a2f" stroke-width="1.0" />
<line x1="174.7" y1="783" x2="217.2" y2="783" stroke="#2f7a2f" stroke-width="1.0" />
<line x1="217.2" y1="783" x2="217.2" y2="787.8" stroke="#2f7a2f" stroke-width="1.0" />
<line x1="34.1" y1="780" x2="34.1" y2="791.3" stroke="#666" stroke-width="0.9" />
<line x1="137.1" y1="787.8" x2="137.1" y2="791.3" stroke="#666" stroke-width="0.9" />
<line x1="174.7" y1="780" x2="174.7" y2="791.3" stroke="#666" stroke-width="0.9" />
<line x1="217.2" y1="787.8" x2="217.2" y2="798.3" stroke="#666" stroke-width="0.9" />
<path d="M34.4,779.6 L42,783.2 L34.4,786.8Z" fill="#2a6e2a"/>
<path d="M175,779.6 L182.6,783.2 L175,786.8Z" fill="#2a6e2a"/>
<text x="41.6" y="780.8" font-size="8.8" fill="#1a1a1a">Succinate</text>
<text x="65.1" y="798.6" font-size="8.8" text-anchor="middle" fill="#1a1a1a">4 weeks</text>
<text x="154.3" y="784.6" font-size="8.8" text-anchor="middle" fill="#1a1a1a">Water</text>
<text x="154.5" y="799.2" font-size="8.8" text-anchor="middle" fill="#1a1a1a">2 weeks</text>
<text x="175.8" y="780.8" font-size="8.8" fill="#1a1a1a">Succinate</text>
<text x="195.5" y="798.6" font-size="8.8" text-anchor="middle" fill="#1a1a1a">4 days</text>
<text x="218.4" y="810.9" font-size="8.8" text-anchor="middle" fill="#1a1a1a">Analysis</text>
<line x1="363.5" y1="641.7" x2="363.5" y2="761" stroke="#6e6e6e" stroke-width="1" />
<line x1="359.5" y1="761" x2="363.5" y2="761" stroke="#6e6e6e" stroke-width="1" />
<text x="354.9" y="762.8" font-size="8.0" text-anchor="end" fill="#1a1a1a">0</text>
<line x1="359.5" y1="737.14" x2="363.5" y2="737.14" stroke="#6e6e6e" stroke-width="1" />
<text x="354.9" y="738.94" font-size="8.0" text-anchor="end" fill="#1a1a1a">20</text>
<line x1="359.5" y1="713.28" x2="363.5" y2="713.28" stroke="#6e6e6e" stroke-width="1" />
<text x="354.9" y="715.08" font-size="8.0" text-anchor="end" fill="#1a1a1a">40</text>
<line x1="359.5" y1="689.42" x2="363.5" y2="689.42" stroke="#6e6e6e" stroke-width="1" />
<text x="354.9" y="691.22" font-size="8.0" text-anchor="end" fill="#1a1a1a">60</text>
<line x1="359.5" y1="665.56" x2="363.5" y2="665.56" stroke="#6e6e6e" stroke-width="1" />
<text x="354.9" y="667.36" font-size="8.0" text-anchor="end" fill="#1a1a1a">80</text>
<line x1="359.5" y1="641.7" x2="363.5" y2="641.7" stroke="#6e6e6e" stroke-width="1" />
<text x="354.9" y="643.5" font-size="8.0" text-anchor="end" fill="#1a1a1a">100</text>
<line x1="359.5" y1="761" x2="484" y2="761" stroke="#6e6e6e" stroke-width="1" />
<line x1="382" y1="761" x2="382" y2="765" stroke="#6e6e6e" stroke-width="1" />
<line x1="409.3" y1="761" x2="409.3" y2="765" stroke="#6e6e6e" stroke-width="1" />
<line x1="437.2" y1="761" x2="437.2" y2="765" stroke="#6e6e6e" stroke-width="1" />
<line x1="464.9" y1="761" x2="464.9" y2="765" stroke="#6e6e6e" stroke-width="1" />
<text x="337" y="701.35" font-size="8.9" text-anchor="middle" fill="#1a1a1a" transform="rotate(-90 337 701.35)">Ki-67<tspan font-size="5" dy="-3">+</tspan><tspan dy="3"> (% of ILC2s)</tspan></text>
<line x1="382" y1="602.3" x2="464.8" y2="602.3" stroke="#aaa" stroke-width="1" />
<path d="M416.12,596.4 L416.77,597.81 L418.31,597.99 L417.17,599.04 L417.48,600.56 L416.12,599.8 L414.77,600.56 L415.08,599.04 L413.94,597.99 L415.48,597.81Z M420.98,596.4 L421.62,597.81 L423.16,597.99 L422.02,599.04 L422.33,600.56 L420.98,599.8 L419.62,600.56 L419.93,599.04 L418.79,597.99 L420.33,597.81Z M425.82,596.4 L426.47,597.81 L428.01,597.99 L426.87,599.04 L427.18,600.56 L425.82,599.8 L424.47,600.56 L424.78,599.04 L423.64,597.99 L425.18,597.81Z M430.68,596.4 L431.32,597.81 L432.86,597.99 L431.72,599.04 L432.03,600.56 L430.68,599.8 L429.32,600.56 L429.63,599.04 L428.49,597.99 L430.03,597.81Z" fill="#1a1a1a"/>
<line x1="409.5" y1="619.7" x2="464.8" y2="619.7" stroke="#666" stroke-width="1" />
<path d="M429.88,613.8 L430.52,615.21 L432.06,615.39 L430.92,616.44 L431.23,617.96 L429.88,617.2 L428.52,617.96 L428.83,616.44 L427.69,615.39 L429.23,615.21Z M434.73,613.8 L435.37,615.21 L436.91,615.39 L435.77,616.44 L436.08,617.96 L434.73,617.2 L433.37,617.96 L433.68,616.44 L432.54,615.39 L434.08,615.21Z M439.57,613.8 L440.22,615.21 L441.76,615.39 L440.62,616.44 L440.93,617.96 L439.57,617.2 L438.22,617.96 L438.53,616.44 L437.39,615.39 L438.93,615.21Z M444.43,613.8 L445.07,615.21 L446.61,615.39 L445.47,616.44 L445.78,617.96 L444.43,617.2 L443.07,617.96 L443.38,616.44 L442.24,615.39 L443.78,615.21Z" fill="#1a1a1a"/>
<line x1="382" y1="639.6" x2="434.9" y2="639.6" stroke="#aaa" stroke-width="1" />
<text x="408.45" y="636" font-size="8.6" text-anchor="middle" fill="#1a1a1a">NS</text>
<line x1="440" y1="639.6" x2="464.8" y2="639.6" stroke="#aaa" stroke-width="1" />
<path d="M445.12,633.7 L445.77,635.11 L447.31,635.29 L446.17,636.34 L446.48,637.86 L445.12,637.1 L443.77,637.86 L444.08,636.34 L442.94,635.29 L444.48,635.11Z M449.98,633.7 L450.62,635.11 L452.16,635.29 L451.02,636.34 L451.33,637.86 L449.98,637.1 L448.62,637.86 L448.93,636.34 L447.79,635.29 L449.33,635.11Z M454.82,633.7 L455.47,635.11 L457.01,635.29 L455.87,636.34 L456.18,637.86 L454.82,637.1 L453.47,637.86 L453.78,636.34 L452.64,635.29 L454.18,635.11Z M459.68,633.7 L460.32,635.11 L461.86,635.29 L460.72,636.34 L461.03,637.86 L459.68,637.1 L458.32,637.86 L458.63,636.34 L457.49,635.29 L459.03,635.11Z" fill="#1a1a1a"/>
<line x1="382" y1="658.8" x2="407.1" y2="658.8" stroke="#555" stroke-width="1" />
<text x="394.55" y="655.2" font-size="8.6" text-anchor="middle" fill="#1a1a1a">NS</text>
<line x1="411.9" y1="658.8" x2="437" y2="658.8" stroke="#555" stroke-width="1" />
<text x="424.45" y="655.2" font-size="8.6" text-anchor="middle" fill="#1a1a1a">NS</text>
<circle cx="382" cy="740.9" r="2.9" fill="#000"/>
<circle cx="378.1" cy="750.2" r="2.9" fill="#000"/>
<circle cx="382.5" cy="751.1" r="2.9" fill="#000"/>
<circle cx="385.1" cy="751.5" r="2.9" fill="#000"/>
<circle cx="375.5" cy="752.9" r="2.9" fill="#000"/>
<circle cx="387.8" cy="755.5" r="2.9" fill="#000"/>
<circle cx="403.2" cy="750.7" r="2.65" fill="none" stroke="#000" stroke-width="0.75"/>
<circle cx="408.4" cy="752" r="2.65" fill="none" stroke="#000" stroke-width="0.75"/>
<circle cx="406.2" cy="754.6" r="2.65" fill="none" stroke="#000" stroke-width="0.75"/>
<circle cx="411.4" cy="756" r="2.65" fill="none" stroke="#000" stroke-width="0.75"/>
<circle cx="402.7" cy="759.5" r="2.65" fill="none" stroke="#000" stroke-width="0.75"/>
<circle cx="408.8" cy="759.5" r="2.65" fill="none" stroke="#000" stroke-width="0.75"/>
<circle cx="414.1" cy="759.3" r="2.65" fill="none" stroke="#000" stroke-width="0.75"/>
<circle cx="416.7" cy="759" r="2.65" fill="none" stroke="#000" stroke-width="0.75"/>
<rect x="428.79" y="751.79" width="5.63" height="5.63" fill="none" stroke="#000" stroke-width="0.75"/>
<rect x="432.29" y="750.89" width="5.63" height="5.63" fill="none" stroke="#000" stroke-width="0.75"/>
<rect x="435.79" y="751.79" width="5.63" height="5.63" fill="none" stroke="#000" stroke-width="0.75"/>
<rect x="440.19" y="752.69" width="5.63" height="5.63" fill="none" stroke="#000" stroke-width="0.75"/>
<rect x="429.69" y="754.99" width="5.63" height="5.63" fill="none" stroke="#000" stroke-width="0.75"/>
<rect x="433.99" y="755.29" width="5.63" height="5.63" fill="none" stroke="#000" stroke-width="0.75"/>
<rect x="438.39" y="755.29" width="5.63" height="5.63" fill="none" stroke="#000" stroke-width="0.75"/>
<rect x="441.89" y="755.29" width="5.63" height="5.63" fill="none" stroke="#000" stroke-width="0.75"/>
<path d="M464.9,675.2 L468.09,669.98 L461.71,669.98Z" fill="none" stroke="#111" stroke-width="0.75"/>
<path d="M458.7,689.5 L461.89,684.28 L455.51,684.28Z" fill="none" stroke="#111" stroke-width="0.75"/>
<path d="M471,694.1 L474.19,688.88 L467.81,688.88Z" fill="none" stroke="#111" stroke-width="0.75"/>
<path d="M458.7,719.8 L461.89,714.58 L455.51,714.58Z" fill="none" stroke="#111" stroke-width="0.75"/>
<path d="M471,722.8 L474.19,717.58 L467.81,717.58Z" fill="none" stroke="#111" stroke-width="0.75"/>
<path d="M464.9,731.8 L468.09,726.58 L461.71,726.58Z" fill="none" stroke="#111" stroke-width="0.75"/>
<line x1="375" y1="752" x2="389" y2="752" stroke="#222" stroke-width="0.8" />
<line x1="403" y1="756.5" x2="415" y2="756.5" stroke="#222" stroke-width="0.8" />
<line x1="431.2" y1="756.5" x2="443.2" y2="756.5" stroke="#222" stroke-width="0.8" />
<line x1="455.9" y1="704.3" x2="473.9" y2="704.3" stroke="#222" stroke-width="0.8" />
<text x="363.2" y="776.6" font-size="8.9" text-anchor="end" fill="#1a1a1a">4w succinate</text>
<text x="363.2" y="789.7" font-size="8.9" text-anchor="end" fill="#1a1a1a">Water</text>
<text x="363.2" y="802.7" font-size="8.9" text-anchor="end" fill="#1a1a1a">4d succinate</text>
<line x1="380.4" y1="774.4" x2="383.6" y2="774.4" stroke="#333" stroke-width="0.7" />
<line x1="380.4" y1="799.4" x2="383.6" y2="799.4" stroke="#333" stroke-width="0.7" />
<line x1="407.7" y1="774.4" x2="410.9" y2="774.4" stroke="#333" stroke-width="0.7" />
<line x1="409.3" y1="772.8" x2="409.3" y2="776" stroke="#333" stroke-width="0.7" />
<line x1="407.7" y1="799.4" x2="410.9" y2="799.4" stroke="#333" stroke-width="0.7" />
<line x1="435.6" y1="774.4" x2="438.8" y2="774.4" stroke="#333" stroke-width="0.7" />
<line x1="437.2" y1="772.8" x2="437.2" y2="776" stroke="#333" stroke-width="0.7" />
<line x1="435.6" y1="799.4" x2="438.8" y2="799.4" stroke="#333" stroke-width="0.7" />
<line x1="437.2" y1="797.8" x2="437.2" y2="801" stroke="#333" stroke-width="0.7" />
<line x1="463.3" y1="774.4" x2="466.5" y2="774.4" stroke="#333" stroke-width="0.7" />
<line x1="463.3" y1="799.4" x2="466.5" y2="799.4" stroke="#333" stroke-width="0.7" />
<line x1="464.9" y1="797.8" x2="464.9" y2="801" stroke="#333" stroke-width="0.7" />
<path d="M320,780.5 V790.5 M318.4,788.3 L320,791.2 L321.6,788.3" stroke="#4b5e7e" stroke-width="0.8" fill="none"/>
<line x1="557.3" y1="641.6" x2="557.3" y2="760.8" stroke="#6e6e6e" stroke-width="1" />
<line x1="553.3" y1="760.8" x2="557.3" y2="760.8" stroke="#6e6e6e" stroke-width="1" />
<text x="548.7" y="762.6" font-size="8.2" text-anchor="end" fill="#1a1a1a">0</text>
<line x1="553.3" y1="736.96" x2="557.3" y2="736.96" stroke="#6e6e6e" stroke-width="1" />
<text x="548.7" y="738.76" font-size="8.2" text-anchor="end" fill="#1a1a1a">1,000</text>
<line x1="553.3" y1="713.12" x2="557.3" y2="713.12" stroke="#6e6e6e" stroke-width="1" />
<text x="548.7" y="714.92" font-size="8.2" text-anchor="end" fill="#1a1a1a">2,000</text>
<line x1="553.3" y1="689.28" x2="557.3" y2="689.28" stroke="#6e6e6e" stroke-width="1" />
<text x="548.7" y="691.08" font-size="8.2" text-anchor="end" fill="#1a1a1a">3,000</text>
<line x1="553.3" y1="665.44" x2="557.3" y2="665.44" stroke="#6e6e6e" stroke-width="1" />
<text x="548.7" y="667.24" font-size="8.2" text-anchor="end" fill="#1a1a1a">4,000</text>
<line x1="553.3" y1="641.6" x2="557.3" y2="641.6" stroke="#6e6e6e" stroke-width="1" />
<text x="548.7" y="643.4" font-size="8.2" text-anchor="end" fill="#1a1a1a">5,000</text>
<line x1="553.3" y1="760.8" x2="676.5" y2="760.8" stroke="#6e6e6e" stroke-width="1" />
<line x1="575.4" y1="760.8" x2="575.4" y2="764.8" stroke="#6e6e6e" stroke-width="1" />
<line x1="603.3" y1="760.8" x2="603.3" y2="764.8" stroke="#6e6e6e" stroke-width="1" />
<line x1="631" y1="760.8" x2="631" y2="764.8" stroke="#6e6e6e" stroke-width="1" />
<line x1="658.5" y1="760.8" x2="658.5" y2="764.8" stroke="#6e6e6e" stroke-width="1" />
<text x="521.9" y="701.2" font-size="8.4" text-anchor="middle" fill="#1a1a1a" transform="rotate(-90 521.9 701.2)">IL-17RB MFI of ILC2s</text>
<line x1="575.8" y1="583.2" x2="658.3" y2="583.2" stroke="#888" stroke-width="1" />
<text x="617.05" y="579.6" font-size="8.6" text-anchor="middle" fill="#1a1a1a">NS</text>
<line x1="603.4" y1="600.4" x2="658.3" y2="600.4" stroke="#888" stroke-width="1" />
<path d="M626,594.5 L626.65,595.91 L628.19,596.09 L627.05,597.14 L627.35,598.66 L626,597.9 L624.65,598.66 L624.95,597.14 L623.81,596.09 L625.35,595.91Z M630.85,594.5 L631.5,595.91 L633.04,596.09 L631.9,597.14 L632.2,598.66 L630.85,597.9 L629.5,598.66 L629.8,597.14 L628.66,596.09 L630.2,595.91Z M635.7,594.5 L636.35,595.91 L637.89,596.09 L636.75,597.14 L637.05,598.66 L635.7,597.9 L634.35,598.66 L634.65,597.14 L633.51,596.09 L635.05,595.91Z" fill="#1a1a1a"/>
<line x1="575.8" y1="618" x2="628.5" y2="618" stroke="#777" stroke-width="1" />
<path d="M594.88,612.1 L595.52,613.51 L597.06,613.69 L595.92,614.74 L596.23,616.26 L594.88,615.5 L593.52,616.26 L593.83,614.74 L592.69,613.69 L594.23,613.51Z M599.73,612.1 L600.37,613.51 L601.91,613.69 L600.77,614.74 L601.08,616.26 L599.73,615.5 L598.37,616.26 L598.68,614.74 L597.54,613.69 L599.08,613.51Z M604.58,612.1 L605.22,613.51 L606.76,613.69 L605.62,614.74 L605.93,616.26 L604.58,615.5 L603.22,616.26 L603.53,614.74 L602.39,613.69 L603.93,613.51Z M609.42,612.1 L610.07,613.51 L611.61,613.69 L610.47,614.74 L610.78,616.26 L609.42,615.5 L608.07,616.26 L608.38,614.74 L607.24,613.69 L608.78,613.51Z" fill="#1a1a1a"/>
<line x1="633.8" y1="618" x2="658.3" y2="618" stroke="#777" stroke-width="1" />
<path d="M638.77,612.1 L639.42,613.51 L640.96,613.69 L639.82,614.74 L640.13,616.26 L638.77,615.5 L637.42,616.26 L637.73,614.74 L636.59,613.69 L638.13,613.51Z M643.62,612.1 L644.27,613.51 L645.81,613.69 L644.67,614.74 L644.98,616.26 L643.62,615.5 L642.27,616.26 L642.58,614.74 L641.44,613.69 L642.98,613.51Z M648.48,612.1 L649.12,613.51 L650.66,613.69 L649.52,614.74 L649.83,616.26 L648.48,615.5 L647.12,616.26 L647.43,614.74 L646.29,613.69 L647.83,613.51Z M653.32,612.1 L653.97,613.51 L655.51,613.69 L654.37,614.74 L654.68,616.26 L653.32,615.5 L651.97,616.26 L652.28,614.74 L651.14,613.69 L652.68,613.51Z" fill="#1a1a1a"/>
<line x1="575.8" y1="635.3" x2="600.3" y2="635.3" stroke="#666" stroke-width="1" />
<path d="M580.77,629.4 L581.42,630.81 L582.96,630.99 L581.82,632.04 L582.13,633.56 L580.77,632.8 L579.42,633.56 L579.73,632.04 L578.59,630.99 L580.13,630.81Z M585.62,629.4 L586.27,630.81 L587.81,630.99 L586.67,632.04 L586.98,633.56 L585.62,632.8 L584.27,633.56 L584.58,632.04 L583.44,630.99 L584.98,630.81Z M590.48,629.4 L591.12,630.81 L592.66,630.99 L591.52,632.04 L591.83,633.56 L590.48,632.8 L589.12,633.56 L589.43,632.04 L588.29,630.99 L589.83,630.81Z M595.32,629.4 L595.97,630.81 L597.51,630.99 L596.37,632.04 L596.68,633.56 L595.32,632.8 L593.97,633.56 L594.28,632.04 L593.14,630.99 L594.68,630.81Z" fill="#1a1a1a"/>
<line x1="605.9" y1="635.3" x2="630.7" y2="635.3" stroke="#888" stroke-width="1" />
<text x="618.3" y="631.7" font-size="8.6" text-anchor="middle" fill="#1a1a1a">NS</text>
<circle cx="572.6" cy="699.2" r="2.9" fill="#000"/>
<circle cx="578.7" cy="699.2" r="2.9" fill="#000"/>
<circle cx="575.8" cy="710.1" r="2.9" fill="#000"/>
<circle cx="575.8" cy="718.8" r="2.9" fill="#000"/>
<circle cx="569.6" cy="724.4" r="2.9" fill="#000"/>
<circle cx="581.9" cy="724.4" r="2.9" fill="#000"/>
<circle cx="603.3" cy="649.1" r="2.65" fill="none" stroke="#000" stroke-width="0.75"/>
<circle cx="603.3" cy="657" r="2.65" fill="none" stroke="#000" stroke-width="0.75"/>
<circle cx="601.5" cy="677.7" r="2.65" fill="none" stroke="#000" stroke-width="0.75"/>
<circle cx="596.8" cy="683.8" r="2.65" fill="none" stroke="#000" stroke-width="0.75"/>
<circle cx="605.2" cy="681.5" r="2.65" fill="none" stroke="#000" stroke-width="0.75"/>
<circle cx="609.9" cy="683.4" r="2.65" fill="none" stroke="#000" stroke-width="0.75"/>
<circle cx="605.5" cy="688.2" r="2.65" fill="none" stroke="#000" stroke-width="0.75"/>
<circle cx="601.5" cy="693.4" r="2.65" fill="none" stroke="#000" stroke-width="0.75"/>
<rect x="626.09" y="656.99" width="5.63" height="5.63" fill="none" stroke="#000" stroke-width="0.75"/>
<rect x="634.59" y="656.49" width="5.63" height="5.63" fill="none" stroke="#000" stroke-width="0.75"/>
<rect x="621.69" y="662.29" width="5.63" height="5.63" fill="none" stroke="#000" stroke-width="0.75"/>
<rect x="626.39" y="664.39" width="5.63" height="5.63" fill="none" stroke="#000" stroke-width="0.75"/>
<rect x="630.79" y="662.29" width="5.63" height="5.63" fill="none" stroke="#000" stroke-width="0.75"/>
<rect x="625.49" y="673.99" width="5.63" height="5.63" fill="none" stroke="#000" stroke-width="0.75"/>
<rect x="630.79" y="673.99" width="5.63" height="5.63" fill="none" stroke="#000" stroke-width="0.75"/>
<rect x="625.49" y="680.09" width="5.63" height="5.63" fill="none" stroke="#000" stroke-width="0.75"/>
<rect x="630.79" y="680.09" width="5.63" height="5.63" fill="none" stroke="#000" stroke-width="0.75"/>
<path d="M658.5,694.1 L661.69,688.88 L655.31,688.88Z" fill="none" stroke="#111" stroke-width="0.75"/>
<path d="M658.5,703.3 L661.69,698.08 L655.31,698.08Z" fill="none" stroke="#111" stroke-width="0.75"/>
<path d="M652.3,708.1 L655.49,702.88 L649.11,702.88Z" fill="none" stroke="#111" stroke-width="0.75"/>
<path d="M665.1,708.6 L668.29,703.38 L661.91,703.38Z" fill="none" stroke="#111" stroke-width="0.75"/>
<path d="M658.5,713 L661.69,707.78 L655.31,707.78Z" fill="none" stroke="#111" stroke-width="0.75"/>
<path d="M658.5,722.1 L661.69,716.88 L655.31,716.88Z" fill="none" stroke="#111" stroke-width="0.75"/>
<line x1="566.8" y1="714.5" x2="584.8" y2="714.5" stroke="#222" stroke-width="0.8" />
<line x1="595.3" y1="682.9" x2="611.3" y2="682.9" stroke="#222" stroke-width="0.8" />
<line x1="603.3" y1="680" x2="603.3" y2="686" stroke="#222" stroke-width="0.8" />
<line x1="600.3" y1="680" x2="606.3" y2="680" stroke="#222" stroke-width="0.8" />
<line x1="600.3" y1="686" x2="606.3" y2="686" stroke="#222" stroke-width="0.8" />
<line x1="623" y1="666.8" x2="639" y2="666.8" stroke="#222" stroke-width="0.8" />
<line x1="631" y1="664" x2="631" y2="670" stroke="#222" stroke-width="0.8" />
<line x1="628" y1="664" x2="634" y2="664" stroke="#222" stroke-width="0.8" />
<line x1="628" y1="670" x2="634" y2="670" stroke="#222" stroke-width="0.8" />
<line x1="651.5" y1="706.6" x2="665.5" y2="706.6" stroke="#222" stroke-width="0.8" />
<line x1="658.5" y1="704" x2="658.5" y2="709" stroke="#222" stroke-width="0.8" />
<line x1="655.5" y1="704" x2="661.5" y2="704" stroke="#222" stroke-width="0.8" />
<line x1="655.5" y1="709" x2="661.5" y2="709" stroke="#222" stroke-width="0.8" />
<text x="557" y="782.7" font-size="8.9" text-anchor="end" fill="#1a1a1a">4w succinate</text>
<text x="557" y="796" font-size="8.9" text-anchor="end" fill="#1a1a1a">Water</text>
<text x="557" y="810" font-size="8.9" text-anchor="end" fill="#1a1a1a">4d succinate</text>
<line x1="573.8" y1="774.4" x2="577" y2="774.4" stroke="#333" stroke-width="0.7" />
<line x1="573.8" y1="800" x2="577" y2="800" stroke="#333" stroke-width="0.7" />
<line x1="601.7" y1="774.4" x2="604.9" y2="774.4" stroke="#333" stroke-width="0.7" />
<line x1="603.3" y1="772.8" x2="603.3" y2="776" stroke="#333" stroke-width="0.7" />
<line x1="601.7" y1="800" x2="604.9" y2="800" stroke="#333" stroke-width="0.7" />
<line x1="629.4" y1="774.4" x2="632.6" y2="774.4" stroke="#333" stroke-width="0.7" />
<line x1="631" y1="772.8" x2="631" y2="776" stroke="#333" stroke-width="0.7" />
<line x1="629.4" y1="800" x2="632.6" y2="800" stroke="#333" stroke-width="0.7" />
<line x1="631" y1="798.4" x2="631" y2="801.6" stroke="#333" stroke-width="0.7" />
<line x1="656.9" y1="774.4" x2="660.1" y2="774.4" stroke="#333" stroke-width="0.7" />
<line x1="656.9" y1="800" x2="660.1" y2="800" stroke="#333" stroke-width="0.7" />
<line x1="658.5" y1="798.4" x2="658.5" y2="801.6" stroke="#333" stroke-width="0.7" />
<path d="M518.6,788.3 V798.8 M517,796.6 L518.6,799.5 L520.2,796.6" stroke="#4b5e7e" stroke-width="0.8" fill="none"/>
</svg></body></html>
